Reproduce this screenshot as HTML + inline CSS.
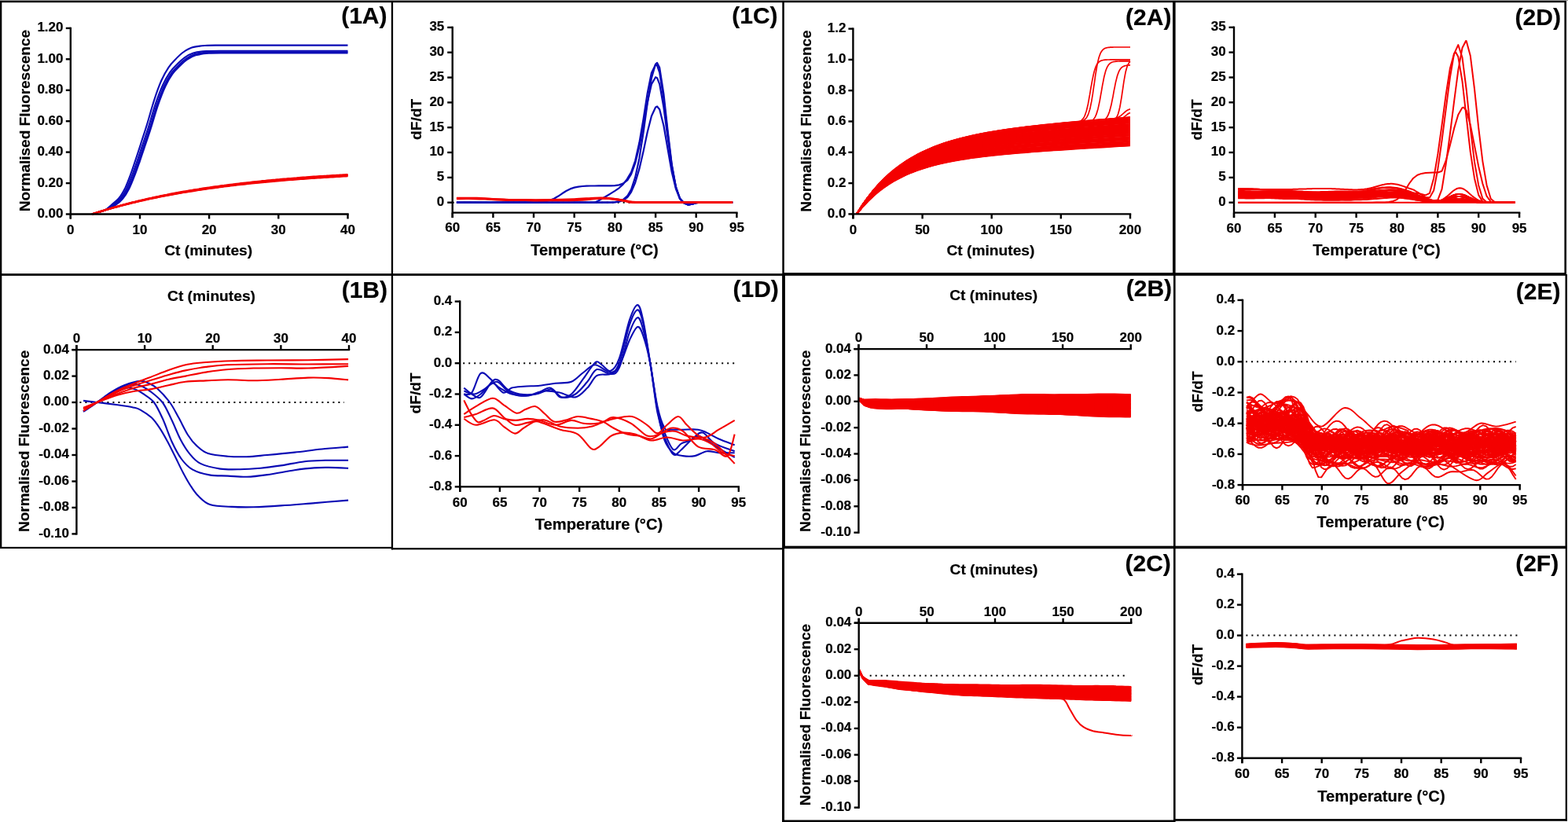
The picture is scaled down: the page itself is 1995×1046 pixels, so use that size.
<!DOCTYPE html>
<html><head><meta charset="utf-8"><title>Figure</title>
<style>html,body{margin:0;padding:0;background:#fff;}svg{display:block;}
text{font-family:"Liberation Sans", Arial, sans-serif;font-weight:bold;fill:#000;stroke:#000;stroke-width:0.2px;}</style></head>
<body><svg width="1995" height="1046" viewBox="0 0 1995 1046">
<rect width="1995" height="1046" fill="#fff"/>
<path d="M117.1,272.5C118.5,272.1 122.3,270.8 125.1,270C127.9,269.1 131.1,268.8 133.9,267.3C136.7,265.7 138.9,263.2 141.8,260.7C144.8,258.1 148.6,255.5 151.5,251.8C154.5,248.1 156.9,243.9 159.5,238.6C162,233.2 164.7,225.8 167,219.7C169.2,213.5 171.1,207.5 173.1,201.5C175.1,195.5 176.6,190.8 178.9,183.8C181.1,176.7 183.9,168.5 186.8,159.1C189.7,149.8 193,137 196.1,127.6C199.1,118.2 202.2,109.5 205.3,102.5C208.4,95.5 211.5,90.2 214.6,85.6C217.7,81 220.7,78.1 223.8,74.9C226.9,71.8 229.7,68.9 233.1,66.5C236.5,64.1 239.5,62 244.1,60.5C248.7,59.1 254.1,58.5 260.9,58C267.6,57.5 268.9,57.7 284.7,57.6C300.4,57.5 328.9,57.6 355.2,57.6C381.5,57.6 428,57.6 442.5,57.6" fill="none" stroke="#0a0ab4" stroke-width="2.1" stroke-linejoin="round" stroke-linecap="butt"/>
<path d="M117.1,272.5C118.5,272.1 122.3,270.8 125.1,270C127.9,269.1 130.8,268.7 133.9,267.3C137,265.8 140.4,263.5 143.6,261.1C146.8,258.6 150.3,256 153.3,252.5C156.2,248.9 158.6,244.9 161.2,239.7C163.8,234.5 166.4,227.4 168.7,221.4C171,215.4 172.9,209.6 174.9,203.9C176.9,198.1 178.3,193.5 180.6,186.7C182.9,179.9 185.7,171.9 188.6,162.9C191.4,153.8 194.7,141.5 197.8,132.4C200.9,123.2 204,114.9 207.1,108.2C210.2,101.4 213.2,96.2 216.3,91.8C219.4,87.3 222.5,84.5 225.6,81.5C228.7,78.4 231.5,75.6 234.8,73.3C238.2,70.9 241.2,68.9 245.9,67.5C250.5,66.2 255.9,65.5 262.6,65.1C269.4,64.6 270.7,64.7 286.4,64.7C302.2,64.6 331,64.7 357,64.7C383,64.7 428.2,64.7 442.5,64.7" fill="none" stroke="#0a0ab4" stroke-width="2.1" stroke-linejoin="round" stroke-linecap="butt"/>
<path d="M117.1,272.5C118.5,272.1 122.3,270.8 125.1,270C127.9,269.1 130.5,268.7 133.9,267.3C137.3,265.8 141.8,263.6 145.4,261.1C148.9,258.7 152.1,256.2 155,252.6C158,249.1 160.4,245.1 163,240C165.6,234.8 168.2,227.7 170.5,221.8C172.8,215.9 174.7,210.1 176.7,204.4C178.6,198.6 180.1,194.1 182.4,187.4C184.7,180.6 187.5,172.7 190.3,163.7C193.2,154.7 196.5,142.5 199.6,133.4C202.7,124.4 205.8,116.1 208.8,109.4C211.9,102.7 215,97.5 218.1,93.1C221.2,88.7 224.3,86 227.4,82.9C230.4,79.9 233.2,77.1 236.6,74.8C240,72.5 243,70.5 247.6,69.1C252.3,67.7 257.6,67.1 264.4,66.6C271.1,66.2 272.5,66.3 288.2,66.3C303.9,66.2 333,66.3 358.7,66.3C384.5,66.3 428.5,66.3 442.5,66.3" fill="none" stroke="#0a0ab4" stroke-width="2.1" stroke-linejoin="round" stroke-linecap="butt"/>
<path d="M117.1,272.5C118.5,272.1 122.3,270.8 125.1,270C127.9,269.1 130.3,268.7 133.9,267.3C137.5,265.8 142.9,263.6 146.7,261.2C150.4,258.8 153.4,256.3 156.4,252.7C159.3,249.2 161.7,245.3 164.3,240.1C166.9,235 169.5,228 171.8,222.1C174.1,216.2 176,210.5 178,204.8C180,199.1 181.4,194.6 183.7,187.8C186,181.1 188.8,173.3 191.6,164.3C194.5,155.4 197.8,143.2 200.9,134.2C204,125.2 207.1,117 210.2,110.3C213.2,103.7 216.3,98.5 219.4,94.2C222.5,89.8 225.6,87 228.7,84C231.8,81 234.6,78.2 237.9,75.9C241.3,73.6 244.3,71.6 249,70.3C253.6,68.9 258.9,68.3 265.7,67.8C272.5,67.4 273.8,67.5 289.5,67.4C305.2,67.4 334.6,67.4 360.1,67.4C385.6,67.4 428.8,67.4 442.5,67.4" fill="none" stroke="#0a0ab4" stroke-width="2.1" stroke-linejoin="round" stroke-linecap="butt"/>
<path d="M117.1,272.5L119.8,271.6L122.6,270.8L125.3,269.9L128,269.1L130.7,268.3L133.4,267.5L136.1,266.7L138.8,265.9L141.5,265.2L144.2,264.4L147,263.7L149.7,263L152.4,262.2L155.1,261.5L157.8,260.8L160.5,260.1L163.2,259.5L165.9,258.8L168.7,258.1L171.4,257.5L174.1,256.8L176.8,256.2L179.5,255.6L182.2,255L184.9,254.4L187.6,253.8L190.3,253.2L193.1,252.6L195.8,252.1L198.5,251.5L201.2,250.9L203.9,250.4L206.6,249.9L209.3,249.3L212,248.8L214.7,248.3L217.5,247.8L220.2,247.3L222.9,246.8L225.6,246.3L228.3,245.9L231,245.4L233.7,244.9L236.4,244.5L239.1,244L241.9,243.6L244.6,243.2L247.3,242.7L250,242.3L252.7,241.9L255.4,241.5L258.1,241.1L260.8,240.7L263.5,240.3L266.3,239.9L269,239.6L271.7,239.2L274.4,238.8L277.1,238.5L279.8,238.1L282.5,237.7L285.2,237.4L288,237.1L290.7,236.7L293.4,236.4L296.1,236.1L298.8,235.8L301.5,235.4L304.2,235.1L306.9,234.8L309.6,234.5L312.4,234.2L315.1,233.9L317.8,233.6L320.5,233.4L323.2,233.1L325.9,232.8L328.6,232.5L331.3,232.3L334,232L336.8,231.7L339.5,231.5L342.2,231.2L344.9,231L347.6,230.7L350.3,230.5L353,230.3L355.7,230L358.4,229.8L361.2,229.6L363.9,229.3L366.6,229.1L369.3,228.9L372,228.7L374.7,228.5L377.4,228.3L380.1,228.1L382.8,227.9L385.6,227.7L388.3,227.5L391,227.3L393.7,227.1L396.4,226.9L399.1,226.7L401.8,226.5L404.5,226.4L407.3,226.2L410,226L412.7,225.8L415.4,225.7L418.1,225.5L420.8,225.3L423.5,225.2L426.2,225L428.9,224.9L431.7,224.7L434.4,224.6L437.1,224.4L439.8,224.3L442.5,224.1" fill="none" stroke="#f40000" stroke-width="2.4" stroke-linejoin="round" stroke-linecap="butt"/>
<path d="M117.1,272.5L119.8,271.6L122.6,270.8L125.3,269.9L128,269.1L130.7,268.3L133.4,267.4L136.1,266.6L138.8,265.9L141.5,265.1L144.2,264.3L147,263.6L149.7,262.8L152.4,262.1L155.1,261.4L157.8,260.7L160.5,260L163.2,259.3L165.9,258.6L168.7,257.9L171.4,257.3L174.1,256.6L176.8,256L179.5,255.4L182.2,254.7L184.9,254.1L187.6,253.5L190.3,252.9L193.1,252.3L195.8,251.8L198.5,251.2L201.2,250.7L203.9,250.1L206.6,249.6L209.3,249L212,248.5L214.7,248L217.5,247.5L220.2,247L222.9,246.5L225.6,246L228.3,245.5L231,245L233.7,244.6L236.4,244.1L239.1,243.7L241.9,243.2L244.6,242.8L247.3,242.3L250,241.9L252.7,241.5L255.4,241.1L258.1,240.7L260.8,240.3L263.5,239.9L266.3,239.5L269,239.1L271.7,238.7L274.4,238.4L277.1,238L279.8,237.6L282.5,237.3L285.2,236.9L288,236.6L290.7,236.2L293.4,235.9L296.1,235.6L298.8,235.3L301.5,234.9L304.2,234.6L306.9,234.3L309.6,234L312.4,233.7L315.1,233.4L317.8,233.1L320.5,232.8L323.2,232.5L325.9,232.3L328.6,232L331.3,231.7L334,231.4L336.8,231.2L339.5,230.9L342.2,230.7L344.9,230.4L347.6,230.2L350.3,229.9L353,229.7L355.7,229.4L358.4,229.2L361.2,229L363.9,228.7L366.6,228.5L369.3,228.3L372,228.1L374.7,227.9L377.4,227.7L380.1,227.5L382.8,227.3L385.6,227.1L388.3,226.9L391,226.7L393.7,226.5L396.4,226.3L399.1,226.1L401.8,225.9L404.5,225.7L407.3,225.5L410,225.4L412.7,225.2L415.4,225L418.1,224.9L420.8,224.7L423.5,224.5L426.2,224.4L428.9,224.2L431.7,224.1L434.4,223.9L437.1,223.8L439.8,223.6L442.5,223.5" fill="none" stroke="#f40000" stroke-width="2.4" stroke-linejoin="round" stroke-linecap="butt"/>
<path d="M117.1,272.5L119.8,271.6L122.6,270.7L125.3,269.9L128,269L130.7,268.2L133.4,267.4L136.1,266.6L138.8,265.8L141.5,265L144.2,264.2L147,263.4L149.7,262.7L152.4,262L155.1,261.2L157.8,260.5L160.5,259.8L163.2,259.1L165.9,258.4L168.7,257.7L171.4,257.1L174.1,256.4L176.8,255.8L179.5,255.1L182.2,254.5L184.9,253.9L187.6,253.3L190.3,252.7L193.1,252.1L195.8,251.5L198.5,250.9L201.2,250.4L203.9,249.8L206.6,249.3L209.3,248.7L212,248.2L214.7,247.7L217.5,247.1L220.2,246.6L222.9,246.1L225.6,245.6L228.3,245.1L231,244.7L233.7,244.2L236.4,243.7L239.1,243.3L241.9,242.8L244.6,242.4L247.3,241.9L250,241.5L252.7,241.1L255.4,240.7L258.1,240.3L260.8,239.8L263.5,239.4L266.3,239.1L269,238.7L271.7,238.3L274.4,237.9L277.1,237.5L279.8,237.2L282.5,236.8L285.2,236.4L288,236.1L290.7,235.8L293.4,235.4L296.1,235.1L298.8,234.8L301.5,234.4L304.2,234.1L306.9,233.8L309.6,233.5L312.4,233.2L315.1,232.9L317.8,232.6L320.5,232.3L323.2,232L325.9,231.7L328.6,231.4L331.3,231.2L334,230.9L336.8,230.6L339.5,230.4L342.2,230.1L344.9,229.8L347.6,229.6L350.3,229.3L353,229.1L355.7,228.9L358.4,228.6L361.2,228.4L363.9,228.2L366.6,227.9L369.3,227.7L372,227.5L374.7,227.3L377.4,227.1L380.1,226.9L382.8,226.6L385.6,226.4L388.3,226.2L391,226L393.7,225.8L396.4,225.7L399.1,225.5L401.8,225.3L404.5,225.1L407.3,224.9L410,224.7L412.7,224.6L415.4,224.4L418.1,224.2L420.8,224.1L423.5,223.9L426.2,223.7L428.9,223.6L431.7,223.4L434.4,223.3L437.1,223.1L439.8,222.9L442.5,222.8" fill="none" stroke="#f40000" stroke-width="2.4" stroke-linejoin="round" stroke-linecap="butt"/>
<path d="M117.1,272.5L119.8,271.6L122.6,270.7L125.3,269.8L128,269L130.7,268.1L133.4,267.3L136.1,266.5L138.8,265.7L141.5,264.9L144.2,264.1L147,263.3L149.7,262.6L152.4,261.8L155.1,261.1L157.8,260.3L160.5,259.6L163.2,258.9L165.9,258.2L168.7,257.5L171.4,256.9L174.1,256.2L176.8,255.5L179.5,254.9L182.2,254.3L184.9,253.6L187.6,253L190.3,252.4L193.1,251.8L195.8,251.2L198.5,250.6L201.2,250.1L203.9,249.5L206.6,248.9L209.3,248.4L212,247.9L214.7,247.3L217.5,246.8L220.2,246.3L222.9,245.8L225.6,245.3L228.3,244.8L231,244.3L233.7,243.8L236.4,243.4L239.1,242.9L241.9,242.4L244.6,242L247.3,241.5L250,241.1L252.7,240.7L255.4,240.2L258.1,239.8L260.8,239.4L263.5,239L266.3,238.6L269,238.2L271.7,237.8L274.4,237.4L277.1,237.1L279.8,236.7L282.5,236.3L285.2,236L288,235.6L290.7,235.3L293.4,234.9L296.1,234.6L298.8,234.3L301.5,233.9L304.2,233.6L306.9,233.3L309.6,233L312.4,232.7L315.1,232.4L317.8,232.1L320.5,231.8L323.2,231.5L325.9,231.2L328.6,230.9L331.3,230.6L334,230.3L336.8,230.1L339.5,229.8L342.2,229.5L344.9,229.3L347.6,229L350.3,228.8L353,228.5L355.7,228.3L358.4,228L361.2,227.8L363.9,227.6L366.6,227.3L369.3,227.1L372,226.9L374.7,226.7L377.4,226.5L380.1,226.2L382.8,226L385.6,225.8L388.3,225.6L391,225.4L393.7,225.2L396.4,225L399.1,224.8L401.8,224.7L404.5,224.5L407.3,224.3L410,224.1L412.7,223.9L415.4,223.8L418.1,223.6L420.8,223.4L423.5,223.2L426.2,223.1L428.9,222.9L431.7,222.8L434.4,222.6L437.1,222.4L439.8,222.3L442.5,222.1" fill="none" stroke="#f40000" stroke-width="2.4" stroke-linejoin="round" stroke-linecap="butt"/>
<line x1="575.7" y1="257.7" x2="931.4" y2="257.7" stroke="#000" stroke-width="2" stroke-dasharray="2 5"/>
<path d="M580.9,257.7L586,257.7L591.2,257.7L596.4,257.7L601.5,257.7L606.7,257.7L611.9,257.7L617,257.7L622.2,257.7L627.4,257.7L632.5,257.7L637.7,257.7L642.9,257.7L648,257.7L653.2,257.7L658.4,257.7L663.5,257.7L668.7,257.6L673.9,257.6L679,257.5L684.2,257.3L689.4,256.9L694.5,256.1L699.7,254.8L704.9,252.8L710,249.8L715.2,246.3L720.4,243L725.5,240.4L730.7,238.6L735.9,237.6L741,237L746.2,236.7L751.4,236.5L756.5,236.5L761.7,236.4L766.9,236.4L772.1,236.4L777.2,236.3L782.4,236.1L787.6,235.4L792.7,233.6L797.9,229.7L798.9,228.5L803.1,221.7L808.2,207.7L813.4,186.6L818.6,159.2L823.7,130.2L828.9,107.3L834.1,98.2L836.1,99.2L839.2,107.1L844.4,136.5L849.6,175.7L854.7,212L859.9,238L865.1,252.6L870.2,258.3L875.4,260.5L876.4,260.5L880.6,259.6L885.7,258.1L890.9,257.7L896.1,257.7L901.2,257.7L906.4,257.7L911.6,257.7L916.7,257.7L921.9,257.7L927.1,257.7L932.2,257.7" fill="none" stroke="#0a0ab4" stroke-width="2.2" stroke-linejoin="round" stroke-linecap="butt"/>
<path d="M580.9,257.7L586,257.7L591.2,257.7L596.4,257.7L601.5,257.7L606.7,257.7L611.9,257.7L617,257.7L622.2,257.7L627.4,257.7L632.5,257.7L637.7,257.7L642.9,257.7L648,257.7L653.2,257.7L658.4,257.7L663.5,257.7L668.7,257.7L673.9,257.7L679,257.7L684.2,257.7L689.4,257.7L694.5,257.7L699.7,257.7L704.9,257.7L710,257.7L715.2,257.7L720.4,257.7L725.5,257.7L730.7,257.7L735.9,257.7L741,257.7L746.2,257.7L751.4,257.7L756.5,257.7L761.7,255.3L766.9,252.3L772.1,249.2L777.2,246.1L782.4,242.9L787.6,239.3L792.7,234.7L797.9,227.8L798.9,226L803.1,219.1L808.2,204.5L813.4,181.6L818.6,151.4L823.7,118.7L828.9,92.7L834.1,82.2L836.1,83.3L839.2,92.3L844.4,125.9L849.6,170.2L854.7,210.2L859.9,237.9L865.1,252.9L870.2,258.3L875.4,260.5L876.4,260.5L880.6,259.6L885.7,258.1L890.9,257.7L896.1,257.7L901.2,257.7L906.4,257.7L911.6,257.7L916.7,257.7L921.9,257.7L927.1,257.7L932.2,257.7" fill="none" stroke="#0a0ab4" stroke-width="2.2" stroke-linejoin="round" stroke-linecap="butt"/>
<path d="M580.9,257.7L586,257.7L591.2,257.7L596.4,257.7L601.5,257.7L606.7,257.7L611.9,257.7L617,257.7L622.2,257.7L627.4,257.7L632.5,257.7L637.7,257.7L642.9,257.7L648,257.7L653.2,257.7L658.4,257.7L663.5,257.7L668.7,257.7L673.9,257.7L679,257.7L684.2,257.7L689.4,257.7L694.5,257.7L699.7,257.7L704.9,257.7L710,257.7L715.2,257.7L720.4,257.7L725.5,257.7L730.7,257.7L735.9,257.7L741,257.7L746.2,257.7L751.4,257.7L756.5,257.7L761.7,257.7L766.9,257.7L772.1,257.6L777.2,257.5L782.4,257.2L787.6,256.2L792.7,254.1L797.9,249.7L798.9,248.4L803.1,241.1L808.2,225.7L813.4,201.4L818.6,168.5L823.7,131.7L828.9,99.5L834.1,81.5L836.1,79.9L839.2,86.1L844.4,119.4L849.6,166.3L854.7,208.8L859.9,237.9L865.1,253L870.2,258.3L875.4,260.5L876.4,260.5L880.6,259.6L885.7,258.1L890.9,257.7L896.1,257.7L901.2,257.7L906.4,257.7L911.6,257.7L916.7,257.7L921.9,257.7L927.1,257.7L932.2,257.7" fill="none" stroke="#0a0ab4" stroke-width="2.2" stroke-linejoin="round" stroke-linecap="butt"/>
<path d="M580.9,257.7L586,257.7L591.2,257.7L596.4,257.7L601.5,257.7L606.7,257.7L611.9,257.7L617,257.7L622.2,257.7L627.4,257.7L632.5,257.7L637.7,257.7L642.9,257.7L648,257.7L653.2,257.7L658.4,257.7L663.5,257.7L668.7,257.7L673.9,257.7L679,257.7L684.2,257.7L689.4,257.7L694.5,257.7L699.7,257.7L704.9,257.7L710,257.7L715.2,257.7L720.4,257.7L725.5,257.7L730.7,257.7L735.9,257.7L741,257.7L746.2,257.7L751.4,257.7L756.5,257.7L761.7,257.7L766.9,257.7L772.1,257.7L777.2,257.6L782.4,257.4L787.6,256.7L792.7,255L797.9,251.4L798.9,250.3L803.1,244.4L808.2,232.5L813.4,214.9L818.6,192.4L823.7,168.3L828.9,147.8L834.1,136.5L836.1,135.5L839.2,139.2L844.4,159.8L849.6,189.8L854.7,218.7L859.9,240.3L865.1,253.1L870.2,258.3L875.4,260.5L876.4,260.5L880.6,259.6L885.7,258.1L890.9,257.7L896.1,257.7L901.2,257.7L906.4,257.7L911.6,257.7L916.7,257.7L921.9,257.7L927.1,257.7L932.2,257.7" fill="none" stroke="#0a0ab4" stroke-width="2.2" stroke-linejoin="round" stroke-linecap="butt"/>
<path d="M580.9,252.7C583.5,252.7 590.3,252.5 596.4,252.6C602.4,252.7 610.1,252.9 617,253.1C623.9,253.4 629.1,253.9 637.7,254.2C646.3,254.5 658.4,254.6 668.7,254.6C679,254.7 689.4,254.7 699.7,254.5C710,254.4 721.2,254.1 730.7,253.8C740.2,253.4 749.7,252.5 756.5,252.2C763.4,252 766.9,251.9 772.1,252.2C777.2,252.6 782.4,253.4 787.6,254.2C792.7,255 797,256.4 803.1,256.9C809.1,257.5 802.2,257.4 823.7,257.5C845.3,257.6 914.1,257.5 932.2,257.5" fill="none" stroke="#f40000" stroke-width="3.0" stroke-linejoin="round" stroke-linecap="butt"/>
<path d="M580.9,252C585.2,252 599,251.9 606.7,252.1C614.5,252.3 618.8,252.8 627.4,253.2C636,253.6 646.3,254.2 658.4,254.5C670.4,254.8 685.9,255 699.7,255C713.5,255 730.7,254.9 741,254.5C751.4,254.1 754.8,252.7 761.7,252.5C768.6,252.3 776.4,252.6 782.4,253.2C788.4,253.8 792.7,255.4 797.9,256.1C803.1,256.8 791,257.2 813.4,257.4C835.8,257.6 912.4,257.2 932.2,257.2" fill="none" stroke="#f40000" stroke-width="2.6" stroke-linejoin="round" stroke-linecap="butt"/>
<path d="M1090,272.4L1096.9,263.9L1103.9,256.4L1110.9,249.7L1117.8,243.8L1124.8,238.5L1131.7,233.9L1138.7,229.7L1145.7,226L1152.6,222.7L1159.6,219.7L1166.5,217L1173.5,214.7L1180.5,212.5L1187.4,210.6L1194.4,208.8L1201.3,207.2L1208.3,205.8L1215.3,204.5L1222.2,203.3L1229.2,202.2L1236.2,201.1L1243.1,200.2L1250.1,199.3L1257,198.5L1264,197.7L1271,197L1277.9,196.3L1284.9,195.7L1291.8,195L1298.8,194.5L1305.8,193.9L1312.7,193.3L1319.7,192.8L1326.6,192.3L1333.6,191.8L1340.6,191.3L1347.5,190.9L1354.5,190.4L1361.4,190L1368.4,189.5L1375.4,189.1L1382.3,188.6L1389.3,188.2L1396.2,187.8L1403.2,187.4L1410.2,187L1417.1,186.5L1424.1,186.1L1431,185.7L1438,185.3" fill="none" stroke="#f40000" stroke-width="2.0" stroke-linejoin="round" stroke-linecap="butt"/>
<path d="M1090,272.4L1096.9,263.9L1103.9,256.3L1110.9,249.6L1117.8,243.6L1124.8,238.3L1131.7,233.6L1138.7,229.4L1145.7,225.6L1152.6,222.3L1159.6,219.3L1166.5,216.6L1173.5,214.2L1180.5,212L1187.4,210.1L1194.4,208.3L1201.3,206.7L1208.3,205.3L1215.3,203.9L1222.2,202.7L1229.2,201.6L1236.2,200.6L1243.1,199.6L1250.1,198.7L1257,197.9L1264,197.1L1271,196.4L1277.9,195.7L1284.9,195L1291.8,194.4L1298.8,193.8L1305.8,193.2L1312.7,192.7L1319.7,192.2L1326.6,191.6L1333.6,191.1L1340.6,190.7L1347.5,190.2L1354.5,189.7L1361.4,189.3L1368.4,188.8L1375.4,188.4L1382.3,187.9L1389.3,187.5L1396.2,187.1L1403.2,186.7L1410.2,186.2L1417.1,185.8L1424.1,185.4L1431,185L1438,184.6" fill="none" stroke="#f40000" stroke-width="2.0" stroke-linejoin="round" stroke-linecap="butt"/>
<path d="M1090,272.4L1096.9,261.5L1103.9,251.7L1110.9,242.9L1117.8,235L1124.8,227.8L1131.7,221.4L1138.7,215.6L1145.7,210.4L1152.6,205.7L1159.6,201.4L1166.5,197.6L1173.5,194.1L1180.5,190.9L1187.4,188L1194.4,185.4L1201.3,183L1208.3,180.8L1215.3,178.7L1222.2,176.9L1229.2,175.2L1236.2,173.6L1243.1,172.1L1250.1,170.8L1257,169.5L1264,168.3L1271,167.2L1277.9,166.1L1284.9,165.1L1291.8,164.2L1298.8,163.3L1305.8,162.5L1312.7,161.6L1319.7,160.9L1326.6,160.1L1333.6,159.4L1340.6,158.7L1347.5,158L1354.5,157.4L1361.4,156.7L1368.4,156.1L1375.4,155.5L1382.3,154.9L1389.3,154.3L1396.2,153.7L1403.2,153.1L1410.2,152.6L1417.1,152L1424.1,151.5L1431,150.9L1438,150.4" fill="none" stroke="#f40000" stroke-width="2.0" stroke-linejoin="round" stroke-linecap="butt"/>
<path d="M1090,272.4L1096.9,261.4L1103.9,251.5L1110.9,242.7L1117.8,234.7L1124.8,227.5L1131.7,221.1L1138.7,215.2L1145.7,210L1152.6,205.2L1159.6,200.9L1166.5,197L1173.5,193.5L1180.5,190.3L1187.4,187.3L1194.4,184.7L1201.3,182.2L1208.3,180L1215.3,178L1222.2,176.1L1229.2,174.4L1236.2,172.8L1243.1,171.3L1250.1,169.9L1257,168.6L1264,167.4L1271,166.3L1277.9,165.2L1284.9,164.2L1291.8,163.3L1298.8,162.4L1305.8,161.5L1312.7,160.7L1319.7,159.9L1326.6,159.1L1333.6,158.4L1340.6,157.7L1347.5,157L1354.5,156.3L1361.4,155.7L1368.4,155.1L1375.4,154.4L1382.3,153.8L1389.3,153.2L1396.2,152.6L1403.2,152.1L1410.2,151.5L1417.1,150.9L1424.1,150.4L1431,149.8L1438,149.3" fill="none" stroke="#f40000" stroke-width="2.0" stroke-linejoin="round" stroke-linecap="butt"/>
<path d="M1090,272.4L1096.9,263.3L1103.9,255.1L1110.9,247.9L1117.8,241.5L1124.8,235.7L1131.7,230.6L1138.7,226L1145.7,222L1152.6,218.3L1159.6,215L1166.5,212.1L1173.5,209.4L1180.5,207L1187.4,204.8L1194.4,202.9L1201.3,201.1L1208.3,199.5L1215.3,198L1222.2,196.6L1229.2,195.4L1236.2,194.2L1243.1,193.2L1250.1,192.2L1257,191.3L1264,190.4L1271,189.6L1277.9,188.8L1284.9,188.1L1291.8,187.4L1298.8,186.7L1305.8,186.1L1312.7,185.5L1319.7,184.9L1326.6,184.4L1333.6,183.8L1340.6,183.3L1347.5,182.8L1354.5,182.3L1361.4,181.8L1368.4,181.3L1375.4,180.8L1382.3,180.3L1389.3,179.9L1396.2,179.4L1403.2,178.9L1410.2,178.5L1417.1,178.1L1424.1,177.6L1431,177.2L1438,176.7" fill="none" stroke="#f40000" stroke-width="2.0" stroke-linejoin="round" stroke-linecap="butt"/>
<path d="M1090,272.4L1096.9,262.5L1103.9,253.6L1110.9,245.7L1117.8,238.6L1124.8,232.3L1131.7,226.6L1138.7,221.6L1145.7,217L1152.6,212.9L1159.6,209.2L1166.5,205.9L1173.5,202.8L1180.5,200.1L1187.4,197.7L1194.4,195.4L1201.3,193.4L1208.3,191.5L1215.3,189.8L1222.2,188.3L1229.2,186.8L1236.2,185.5L1243.1,184.3L1250.1,183.1L1257,182.1L1264,181.1L1271,180.1L1277.9,179.2L1284.9,178.4L1291.8,177.6L1298.8,176.9L1305.8,176.2L1312.7,175.5L1319.7,174.8L1326.6,174.2L1333.6,173.5L1340.6,173L1347.5,172.4L1354.5,171.8L1361.4,171.2L1368.4,170.7L1375.4,170.2L1382.3,169.6L1389.3,169.1L1396.2,168.6L1403.2,168.1L1410.2,167.6L1417.1,167.1L1424.1,166.7L1431,166.2L1438,165.7" fill="none" stroke="#f40000" stroke-width="2.0" stroke-linejoin="round" stroke-linecap="butt"/>
<path d="M1090,272.4L1096.9,262.9L1103.9,254.5L1110.9,246.9L1117.8,240.2L1124.8,234.2L1131.7,228.9L1138.7,224.1L1145.7,219.8L1152.6,215.9L1159.6,212.5L1166.5,209.4L1173.5,206.6L1180.5,204L1187.4,201.7L1194.4,199.6L1201.3,197.8L1208.3,196L1215.3,194.4L1222.2,193L1229.2,191.7L1236.2,190.4L1243.1,189.3L1250.1,188.3L1257,187.3L1264,186.4L1271,185.5L1277.9,184.7L1284.9,183.9L1291.8,183.2L1298.8,182.5L1305.8,181.8L1312.7,181.2L1319.7,180.6L1326.6,180L1333.6,179.4L1340.6,178.8L1347.5,178.3L1354.5,177.7L1361.4,177.2L1368.4,176.7L1375.4,176.2L1382.3,175.7L1389.3,175.2L1396.2,174.8L1403.2,174.3L1410.2,173.8L1417.1,173.3L1424.1,172.9L1431,172.4L1438,172" fill="none" stroke="#f40000" stroke-width="2.0" stroke-linejoin="round" stroke-linecap="butt"/>
<path d="M1090,272.4L1096.9,262.3L1103.9,253.3L1110.9,245.3L1117.8,238.1L1124.8,231.7L1131.7,225.9L1138.7,220.7L1145.7,216L1152.6,211.9L1159.6,208.1L1166.5,204.7L1173.5,201.6L1180.5,198.8L1187.4,196.3L1194.4,194L1201.3,191.9L1208.3,190L1215.3,188.2L1222.2,186.6L1229.2,185.2L1236.2,183.8L1243.1,182.5L1250.1,181.4L1257,180.3L1264,179.3L1271,178.3L1277.9,177.4L1284.9,176.5L1291.8,175.7L1298.8,175L1305.8,174.2L1312.7,173.5L1319.7,172.8L1326.6,172.2L1333.6,171.6L1340.6,170.9L1347.5,170.4L1354.5,169.8L1361.4,169.2L1368.4,168.7L1375.4,168.1L1382.3,167.6L1389.3,167L1396.2,166.5L1403.2,166L1410.2,165.5L1417.1,165L1424.1,164.5L1431,164L1438,163.5" fill="none" stroke="#f40000" stroke-width="2.0" stroke-linejoin="round" stroke-linecap="butt"/>
<path d="M1090,272.4L1096.9,262.3L1103.9,253.2L1110.9,245.2L1117.8,237.9L1124.8,231.4L1131.7,225.6L1138.7,220.4L1145.7,215.7L1152.6,211.5L1159.6,207.7L1166.5,204.2L1173.5,201.1L1180.5,198.3L1187.4,195.8L1194.4,193.5L1201.3,191.4L1208.3,189.4L1215.3,187.7L1222.2,186.1L1229.2,184.6L1236.2,183.2L1243.1,181.9L1250.1,180.7L1257,179.6L1264,178.6L1271,177.6L1277.9,176.7L1284.9,175.9L1291.8,175L1298.8,174.3L1305.8,173.5L1312.7,172.8L1319.7,172.1L1326.6,171.5L1333.6,170.8L1340.6,170.2L1347.5,169.6L1354.5,169L1361.4,168.5L1368.4,167.9L1375.4,167.4L1382.3,166.8L1389.3,166.3L1396.2,165.8L1403.2,165.3L1410.2,164.7L1417.1,164.2L1424.1,163.7L1431,163.2L1438,162.8" fill="none" stroke="#f40000" stroke-width="2.0" stroke-linejoin="round" stroke-linecap="butt"/>
<path d="M1090,272.4L1096.9,263.7L1103.9,256L1110.9,249.2L1117.8,243.1L1124.8,237.7L1131.7,233L1138.7,228.7L1145.7,224.9L1152.6,221.4L1159.6,218.4L1166.5,215.7L1173.5,213.2L1180.5,211L1187.4,209L1194.4,207.2L1201.3,205.5L1208.3,204L1215.3,202.7L1222.2,201.4L1229.2,200.3L1236.2,199.2L1243.1,198.2L1250.1,197.3L1257,196.5L1264,195.7L1271,194.9L1277.9,194.2L1284.9,193.6L1291.8,192.9L1298.8,192.3L1305.8,191.7L1312.7,191.2L1319.7,190.6L1326.6,190.1L1333.6,189.6L1340.6,189.1L1347.5,188.6L1354.5,188.2L1361.4,187.7L1368.4,187.2L1375.4,186.8L1382.3,186.3L1389.3,185.9L1396.2,185.5L1403.2,185.1L1410.2,184.6L1417.1,184.2L1424.1,183.8L1431,183.4L1438,183" fill="none" stroke="#f40000" stroke-width="2.0" stroke-linejoin="round" stroke-linecap="butt"/>
<path d="M1090,272.4L1096.9,263.9L1103.9,256.3L1110.9,249.6L1117.8,243.7L1124.8,238.4L1131.7,233.7L1138.7,229.5L1145.7,225.8L1152.6,222.4L1159.6,219.4L1166.5,216.8L1173.5,214.4L1180.5,212.2L1187.4,210.3L1194.4,208.5L1201.3,206.9L1208.3,205.4L1215.3,204.1L1222.2,202.9L1229.2,201.8L1236.2,200.8L1243.1,199.8L1250.1,198.9L1257,198.1L1264,197.3L1271,196.6L1277.9,195.9L1284.9,195.2L1291.8,194.6L1298.8,194L1305.8,193.5L1312.7,192.9L1319.7,192.4L1326.6,191.9L1333.6,191.4L1340.6,190.9L1347.5,190.4L1354.5,190L1361.4,189.5L1368.4,189.1L1375.4,188.6L1382.3,188.2L1389.3,187.7L1396.2,187.3L1403.2,186.9L1410.2,186.5L1417.1,186.1L1424.1,185.7L1431,185.3L1438,184.9" fill="none" stroke="#f40000" stroke-width="2.0" stroke-linejoin="round" stroke-linecap="butt"/>
<path d="M1090,272.4L1096.9,261.8L1103.9,252.3L1110.9,243.7L1117.8,236.1L1124.8,229.2L1131.7,223L1138.7,217.4L1145.7,212.4L1152.6,207.9L1159.6,203.8L1166.5,200.1L1173.5,196.8L1180.5,193.7L1187.4,191L1194.4,188.5L1201.3,186.2L1208.3,184.1L1215.3,182.2L1222.2,180.4L1229.2,178.8L1236.2,177.3L1243.1,175.9L1250.1,174.6L1257,173.4L1264,172.2L1271,171.2L1277.9,170.2L1284.9,169.2L1291.8,168.4L1298.8,167.5L1305.8,166.7L1312.7,165.9L1319.7,165.2L1326.6,164.5L1333.6,163.8L1340.6,163.1L1347.5,162.5L1354.5,161.8L1361.4,161.2L1368.4,160.6L1375.4,160L1382.3,159.5L1389.3,158.9L1396.2,158.3L1403.2,157.8L1410.2,157.2L1417.1,156.7L1424.1,156.2L1431,155.7L1438,155.1" fill="none" stroke="#f40000" stroke-width="2.0" stroke-linejoin="round" stroke-linecap="butt"/>
<path d="M1090,272.4L1096.9,263.2L1103.9,255L1110.9,247.8L1117.8,241.3L1124.8,235.5L1131.7,230.3L1138.7,225.7L1145.7,221.6L1152.6,217.9L1159.6,214.6L1166.5,211.6L1173.5,208.9L1180.5,206.5L1187.4,204.3L1194.4,202.4L1201.3,200.6L1208.3,198.9L1215.3,197.4L1222.2,196L1229.2,194.8L1236.2,193.6L1243.1,192.5L1250.1,191.5L1257,190.6L1264,189.7L1271,188.9L1277.9,188.1L1284.9,187.4L1291.8,186.7L1298.8,186L1305.8,185.4L1312.7,184.8L1319.7,184.2L1326.6,183.6L1333.6,183.1L1340.6,182.6L1347.5,182L1354.5,181.5L1361.4,181L1368.4,180.5L1375.4,180.1L1382.3,179.6L1389.3,179.1L1396.2,178.6L1403.2,178.2L1410.2,177.7L1417.1,177.3L1424.1,176.8L1431,176.4L1438,176" fill="none" stroke="#f40000" stroke-width="2.0" stroke-linejoin="round" stroke-linecap="butt"/>
<path d="M1090,272.4L1096.9,263.3L1103.9,255.2L1110.9,247.9L1117.8,241.5L1124.8,235.8L1131.7,230.7L1138.7,226.1L1145.7,222L1152.6,218.4L1159.6,215.1L1166.5,212.1L1173.5,209.5L1180.5,207.1L1187.4,204.9L1194.4,203L1201.3,201.2L1208.3,199.6L1215.3,198.1L1222.2,196.7L1229.2,195.5L1236.2,194.3L1243.1,193.3L1250.1,192.3L1257,191.4L1264,190.5L1271,189.7L1277.9,188.9L1284.9,188.2L1291.8,187.5L1298.8,186.9L1305.8,186.2L1312.7,185.6L1319.7,185L1326.6,184.5L1333.6,183.9L1340.6,183.4L1347.5,182.9L1354.5,182.4L1361.4,181.9L1368.4,181.4L1375.4,180.9L1382.3,180.5L1389.3,180L1396.2,179.5L1403.2,179.1L1410.2,178.6L1417.1,178.2L1424.1,177.7L1431,177.3L1438,176.9" fill="none" stroke="#f40000" stroke-width="2.0" stroke-linejoin="round" stroke-linecap="butt"/>
<path d="M1090,272.4L1096.9,261.4L1103.9,251.6L1110.9,242.7L1117.8,234.7L1124.8,227.6L1131.7,221.1L1138.7,215.3L1145.7,210L1152.6,205.3L1159.6,201L1166.5,197.1L1173.5,193.6L1180.5,190.4L1187.4,187.4L1194.4,184.8L1201.3,182.3L1208.3,180.1L1215.3,178.1L1222.2,176.2L1229.2,174.5L1236.2,172.9L1243.1,171.4L1250.1,170L1257,168.7L1264,167.5L1271,166.4L1277.9,165.3L1284.9,164.3L1291.8,163.4L1298.8,162.5L1305.8,161.6L1312.7,160.8L1319.7,160L1326.6,159.3L1333.6,158.5L1340.6,157.8L1347.5,157.2L1354.5,156.5L1361.4,155.8L1368.4,155.2L1375.4,154.6L1382.3,154L1389.3,153.4L1396.2,152.8L1403.2,152.2L1410.2,151.7L1417.1,151.1L1424.1,150.5L1431,150L1438,149.4" fill="none" stroke="#f40000" stroke-width="2.0" stroke-linejoin="round" stroke-linecap="butt"/>
<path d="M1090,272.4L1096.9,262.7L1103.9,254L1110.9,246.2L1117.8,239.3L1124.8,233.1L1131.7,227.6L1138.7,222.6L1145.7,218.2L1152.6,214.2L1159.6,210.6L1166.5,207.3L1173.5,204.4L1180.5,201.8L1187.4,199.4L1194.4,197.2L1201.3,195.2L1208.3,193.4L1215.3,191.8L1222.2,190.3L1229.2,188.9L1236.2,187.6L1243.1,186.4L1250.1,185.3L1257,184.3L1264,183.3L1271,182.4L1277.9,181.5L1284.9,180.7L1291.8,180L1298.8,179.2L1305.8,178.5L1312.7,177.9L1319.7,177.2L1326.6,176.6L1333.6,176L1340.6,175.4L1347.5,174.9L1354.5,174.3L1361.4,173.8L1368.4,173.3L1375.4,172.7L1382.3,172.2L1389.3,171.7L1396.2,171.2L1403.2,170.7L1410.2,170.3L1417.1,169.8L1424.1,169.3L1431,168.8L1438,168.4" fill="none" stroke="#f40000" stroke-width="2.0" stroke-linejoin="round" stroke-linecap="butt"/>
<path d="M1090,272.4L1096.9,261.8L1103.9,252.3L1110.9,243.7L1117.8,236.1L1124.8,229.2L1131.7,223L1138.7,217.4L1145.7,212.4L1152.6,207.9L1159.6,203.8L1166.5,200.1L1173.5,196.8L1180.5,193.8L1187.4,191L1194.4,188.5L1201.3,186.2L1208.3,184.1L1215.3,182.2L1222.2,180.4L1229.2,178.8L1236.2,177.3L1243.1,175.9L1250.1,174.6L1257,173.4L1264,172.3L1271,171.2L1277.9,170.2L1284.9,169.3L1291.8,168.4L1298.8,167.5L1305.8,166.7L1312.7,166L1319.7,165.2L1326.6,164.5L1333.6,163.8L1340.6,163.2L1347.5,162.5L1354.5,161.9L1361.4,161.3L1368.4,160.7L1375.4,160.1L1382.3,159.5L1389.3,158.9L1396.2,158.4L1403.2,157.8L1410.2,157.3L1417.1,156.7L1424.1,156.2L1431,155.7L1438,155.2" fill="none" stroke="#f40000" stroke-width="2.0" stroke-linejoin="round" stroke-linecap="butt"/>
<path d="M1090,272.4L1096.9,262.7L1103.9,254L1110.9,246.2L1117.8,239.3L1124.8,233.1L1131.7,227.5L1138.7,222.5L1145.7,218.1L1152.6,214.1L1159.6,210.5L1166.5,207.2L1173.5,204.3L1180.5,201.6L1187.4,199.2L1194.4,197.1L1201.3,195.1L1208.3,193.3L1215.3,191.6L1222.2,190.1L1229.2,188.7L1236.2,187.4L1243.1,186.2L1250.1,185.1L1257,184.1L1264,183.1L1271,182.2L1277.9,181.4L1284.9,180.5L1291.8,179.8L1298.8,179L1305.8,178.4L1312.7,177.7L1319.7,177L1326.6,176.4L1333.6,175.8L1340.6,175.2L1347.5,174.7L1354.5,174.1L1361.4,173.6L1368.4,173L1375.4,172.5L1382.3,172L1389.3,171.5L1396.2,171L1403.2,170.5L1410.2,170L1417.1,169.6L1424.1,169.1L1431,168.6L1438,168.1" fill="none" stroke="#f40000" stroke-width="2.0" stroke-linejoin="round" stroke-linecap="butt"/>
<path d="M1090,272.4L1096.9,262.3L1103.9,253.2L1110.9,245.1L1117.8,237.8L1124.8,231.3L1131.7,225.4L1138.7,220.2L1145.7,215.5L1152.6,211.2L1159.6,207.4L1166.5,204L1173.5,200.9L1180.5,198L1187.4,195.5L1194.4,193.1L1201.3,191L1208.3,189.1L1215.3,187.3L1222.2,185.7L1229.2,184.2L1236.2,182.8L1243.1,181.5L1250.1,180.3L1257,179.2L1264,178.2L1271,177.2L1277.9,176.3L1284.9,175.4L1291.8,174.6L1298.8,173.8L1305.8,173.1L1312.7,172.4L1319.7,171.7L1326.6,171L1333.6,170.4L1340.6,169.8L1347.5,169.2L1354.5,168.6L1361.4,168L1368.4,167.4L1375.4,166.9L1382.3,166.4L1389.3,165.8L1396.2,165.3L1403.2,164.8L1410.2,164.3L1417.1,163.8L1424.1,163.3L1431,162.8L1438,162.3" fill="none" stroke="#f40000" stroke-width="2.0" stroke-linejoin="round" stroke-linecap="butt"/>
<path d="M1090,272.4L1096.9,263.5L1103.9,255.6L1110.9,248.6L1117.8,242.3L1124.8,236.7L1131.7,231.8L1138.7,227.4L1145.7,223.4L1152.6,219.9L1159.6,216.7L1166.5,213.9L1173.5,211.3L1180.5,209L1187.4,206.9L1194.4,205.1L1201.3,203.3L1208.3,201.8L1215.3,200.4L1222.2,199.1L1229.2,197.9L1236.2,196.8L1243.1,195.7L1250.1,194.8L1257,193.9L1264,193.1L1271,192.3L1277.9,191.6L1284.9,190.9L1291.8,190.2L1298.8,189.6L1305.8,189L1312.7,188.4L1319.7,187.8L1326.6,187.3L1333.6,186.7L1340.6,186.2L1347.5,185.7L1354.5,185.2L1361.4,184.8L1368.4,184.3L1375.4,183.8L1382.3,183.4L1389.3,182.9L1396.2,182.5L1403.2,182L1410.2,181.6L1417.1,181.2L1424.1,180.7L1431,180.3L1438,179.9" fill="none" stroke="#f40000" stroke-width="2.0" stroke-linejoin="round" stroke-linecap="butt"/>
<path d="M1090,272.4L1096.9,262.3L1103.9,253.2L1110.9,245.1L1117.8,237.8L1124.8,231.3L1131.7,225.5L1138.7,220.3L1145.7,215.6L1152.6,211.3L1159.6,207.5L1166.5,204.1L1173.5,200.9L1180.5,198.1L1187.4,195.6L1194.4,193.2L1201.3,191.1L1208.3,189.2L1215.3,187.4L1222.2,185.8L1229.2,184.3L1236.2,182.9L1243.1,181.7L1250.1,180.5L1257,179.4L1264,178.3L1271,177.3L1277.9,176.4L1284.9,175.6L1291.8,174.7L1298.8,174L1305.8,173.2L1312.7,172.5L1319.7,171.8L1326.6,171.2L1333.6,170.5L1340.6,169.9L1347.5,169.3L1354.5,168.7L1361.4,168.1L1368.4,167.6L1375.4,167L1382.3,166.5L1389.3,166L1396.2,165.4L1403.2,164.9L1410.2,164.4L1417.1,163.9L1424.1,163.4L1431,162.9L1438,162.4" fill="none" stroke="#f40000" stroke-width="2.0" stroke-linejoin="round" stroke-linecap="butt"/>
<path d="M1090,272.4L1096.9,261.7L1103.9,252.1L1110.9,243.5L1117.8,235.8L1124.8,228.9L1131.7,222.6L1138.7,217L1145.7,212L1152.6,207.4L1159.6,203.3L1166.5,199.5L1173.5,196.1L1180.5,193.1L1187.4,190.3L1194.4,187.7L1201.3,185.4L1208.3,183.3L1215.3,181.4L1222.2,179.6L1229.2,177.9L1236.2,176.4L1243.1,175L1250.1,173.7L1257,172.5L1264,171.3L1271,170.3L1277.9,169.2L1284.9,168.3L1291.8,167.4L1298.8,166.5L1305.8,165.7L1312.7,164.9L1319.7,164.2L1326.6,163.5L1333.6,162.8L1340.6,162.1L1347.5,161.4L1354.5,160.8L1361.4,160.2L1368.4,159.6L1375.4,159L1382.3,158.4L1389.3,157.8L1396.2,157.3L1403.2,156.7L1410.2,156.2L1417.1,155.6L1424.1,155.1L1431,154.6L1438,154" fill="none" stroke="#f40000" stroke-width="2.0" stroke-linejoin="round" stroke-linecap="butt"/>
<path d="M1090,272.4L1096.9,262.5L1103.9,253.7L1110.9,245.9L1117.8,238.8L1124.8,232.5L1131.7,226.9L1138.7,221.9L1145.7,217.3L1152.6,213.2L1159.6,209.6L1166.5,206.3L1173.5,203.3L1180.5,200.6L1187.4,198.1L1194.4,195.9L1201.3,193.9L1208.3,192.1L1215.3,190.4L1222.2,188.8L1229.2,187.4L1236.2,186.1L1243.1,184.9L1250.1,183.7L1257,182.7L1264,181.7L1271,180.8L1277.9,179.9L1284.9,179.1L1291.8,178.3L1298.8,177.5L1305.8,176.8L1312.7,176.2L1319.7,175.5L1326.6,174.9L1333.6,174.3L1340.6,173.7L1347.5,173.1L1354.5,172.5L1361.4,172L1368.4,171.4L1375.4,170.9L1382.3,170.4L1389.3,169.9L1396.2,169.4L1403.2,168.9L1410.2,168.4L1417.1,167.9L1424.1,167.4L1431,166.9L1438,166.4" fill="none" stroke="#f40000" stroke-width="2.0" stroke-linejoin="round" stroke-linecap="butt"/>
<path d="M1090,272.4L1096.9,262L1103.9,252.7L1110.9,244.4L1117.8,236.9L1124.8,230.2L1131.7,224.2L1138.7,218.8L1145.7,213.9L1152.6,209.5L1159.6,205.6L1166.5,202L1173.5,198.7L1180.5,195.8L1187.4,193.1L1194.4,190.7L1201.3,188.5L1208.3,186.5L1215.3,184.6L1222.2,183L1229.2,181.4L1236.2,179.9L1243.1,178.6L1250.1,177.4L1257,176.2L1264,175.1L1271,174.1L1277.9,173.1L1284.9,172.2L1291.8,171.4L1298.8,170.6L1305.8,169.8L1312.7,169L1319.7,168.3L1326.6,167.6L1333.6,167L1340.6,166.3L1347.5,165.7L1354.5,165.1L1361.4,164.5L1368.4,163.9L1375.4,163.4L1382.3,162.8L1389.3,162.3L1396.2,161.7L1403.2,161.2L1410.2,160.7L1417.1,160.1L1424.1,159.6L1431,159.1L1438,158.6" fill="none" stroke="#f40000" stroke-width="2.0" stroke-linejoin="round" stroke-linecap="butt"/>
<path d="M1090,272.4L1096.9,262.2L1103.9,253L1110.9,244.8L1117.8,237.5L1124.8,230.9L1131.7,225L1138.7,219.7L1145.7,215L1152.6,210.7L1159.6,206.8L1166.5,203.3L1173.5,200.2L1180.5,197.3L1187.4,194.7L1194.4,192.4L1201.3,190.2L1208.3,188.3L1215.3,186.5L1222.2,184.8L1229.2,183.3L1236.2,181.9L1243.1,180.6L1250.1,179.4L1257,178.3L1264,177.2L1271,176.2L1277.9,175.3L1284.9,174.4L1291.8,173.6L1298.8,172.8L1305.8,172L1312.7,171.3L1319.7,170.6L1326.6,170L1333.6,169.3L1340.6,168.7L1347.5,168.1L1354.5,167.5L1361.4,166.9L1368.4,166.3L1375.4,165.8L1382.3,165.2L1389.3,164.7L1396.2,164.2L1403.2,163.6L1410.2,163.1L1417.1,162.6L1424.1,162.1L1431,161.6L1438,161.1" fill="none" stroke="#f40000" stroke-width="2.0" stroke-linejoin="round" stroke-linecap="butt"/>
<path d="M1090,272.4L1096.9,263.7L1103.9,256L1110.9,249.2L1117.8,243.2L1124.8,237.8L1131.7,233L1138.7,228.7L1145.7,224.9L1152.6,221.5L1159.6,218.4L1166.5,215.7L1173.5,213.2L1180.5,211L1187.4,209L1194.4,207.2L1201.3,205.6L1208.3,204.1L1215.3,202.7L1222.2,201.5L1229.2,200.3L1236.2,199.3L1243.1,198.3L1250.1,197.4L1257,196.5L1264,195.7L1271,195L1277.9,194.3L1284.9,193.6L1291.8,193L1298.8,192.4L1305.8,191.8L1312.7,191.2L1319.7,190.7L1326.6,190.2L1333.6,189.7L1340.6,189.2L1347.5,188.7L1354.5,188.2L1361.4,187.7L1368.4,187.3L1375.4,186.8L1382.3,186.4L1389.3,186L1396.2,185.5L1403.2,185.1L1410.2,184.7L1417.1,184.3L1424.1,183.8L1431,183.4L1438,183" fill="none" stroke="#f40000" stroke-width="2.0" stroke-linejoin="round" stroke-linecap="butt"/>
<path d="M1090,272.4L1096.9,262L1103.9,252.6L1110.9,244.3L1117.8,236.8L1124.8,230L1131.7,224L1138.7,218.5L1145.7,213.6L1152.6,209.2L1159.6,205.2L1166.5,201.6L1173.5,198.4L1180.5,195.4L1187.4,192.8L1194.4,190.3L1201.3,188.1L1208.3,186.1L1215.3,184.2L1222.2,182.5L1229.2,180.9L1236.2,179.5L1243.1,178.1L1250.1,176.9L1257,175.7L1264,174.6L1271,173.6L1277.9,172.6L1284.9,171.7L1291.8,170.8L1298.8,170L1305.8,169.2L1312.7,168.5L1319.7,167.8L1326.6,167.1L1333.6,166.4L1340.6,165.8L1347.5,165.1L1354.5,164.5L1361.4,163.9L1368.4,163.3L1375.4,162.8L1382.3,162.2L1389.3,161.7L1396.2,161.1L1403.2,160.6L1410.2,160L1417.1,159.5L1424.1,159L1431,158.5L1438,158" fill="none" stroke="#f40000" stroke-width="2.0" stroke-linejoin="round" stroke-linecap="butt"/>
<path d="M1090,272.4L1096.9,262.4L1103.9,253.4L1110.9,245.4L1117.8,238.2L1124.8,231.8L1131.7,226L1138.7,220.9L1145.7,216.2L1152.6,212.1L1159.6,208.3L1166.5,204.9L1173.5,201.9L1180.5,199.1L1187.4,196.6L1194.4,194.3L1201.3,192.2L1208.3,190.3L1215.3,188.6L1222.2,187L1229.2,185.5L1236.2,184.2L1243.1,182.9L1250.1,181.7L1257,180.7L1264,179.6L1271,178.7L1277.9,177.8L1284.9,176.9L1291.8,176.1L1298.8,175.4L1305.8,174.6L1312.7,173.9L1319.7,173.3L1326.6,172.6L1333.6,172L1340.6,171.4L1347.5,170.8L1354.5,170.2L1361.4,169.6L1368.4,169.1L1375.4,168.6L1382.3,168L1389.3,167.5L1396.2,167L1403.2,166.5L1410.2,166L1417.1,165.5L1424.1,165L1431,164.5L1438,164" fill="none" stroke="#f40000" stroke-width="2.0" stroke-linejoin="round" stroke-linecap="butt"/>
<path d="M1090,272.4L1096.9,263.1L1103.9,254.8L1110.9,247.4L1117.8,240.9L1124.8,235L1131.7,229.8L1138.7,225.1L1145.7,220.9L1152.6,217.2L1159.6,213.8L1166.5,210.8L1173.5,208L1180.5,205.6L1187.4,203.3L1194.4,201.3L1201.3,199.5L1208.3,197.8L1215.3,196.3L1222.2,194.9L1229.2,193.6L1236.2,192.4L1243.1,191.3L1250.1,190.3L1257,189.3L1264,188.4L1271,187.6L1277.9,186.8L1284.9,186.1L1291.8,185.4L1298.8,184.7L1305.8,184L1312.7,183.4L1319.7,182.8L1326.6,182.2L1333.6,181.7L1340.6,181.1L1347.5,180.6L1354.5,180.1L1361.4,179.6L1368.4,179.1L1375.4,178.6L1382.3,178.1L1389.3,177.6L1396.2,177.2L1403.2,176.7L1410.2,176.2L1417.1,175.8L1424.1,175.3L1431,174.9L1438,174.5" fill="none" stroke="#f40000" stroke-width="2.0" stroke-linejoin="round" stroke-linecap="butt"/>
<path d="M1090,272.4L1096.9,263.8L1103.9,256.2L1110.9,249.5L1117.8,243.5L1124.8,238.2L1131.7,233.4L1138.7,229.2L1145.7,225.4L1152.6,222.1L1159.6,219.1L1166.5,216.4L1173.5,214L1180.5,211.8L1187.4,209.8L1194.4,208L1201.3,206.4L1208.3,205L1215.3,203.6L1222.2,202.4L1229.2,201.3L1236.2,200.2L1243.1,199.3L1250.1,198.4L1257,197.5L1264,196.8L1271,196L1277.9,195.3L1284.9,194.7L1291.8,194L1298.8,193.4L1305.8,192.9L1312.7,192.3L1319.7,191.8L1326.6,191.3L1333.6,190.8L1340.6,190.3L1347.5,189.8L1354.5,189.3L1361.4,188.9L1368.4,188.4L1375.4,188L1382.3,187.6L1389.3,187.1L1396.2,186.7L1403.2,186.3L1410.2,185.9L1417.1,185.4L1424.1,185L1431,184.6L1438,184.2" fill="none" stroke="#f40000" stroke-width="2.0" stroke-linejoin="round" stroke-linecap="butt"/>
<path d="M1090,272.4L1096.9,261.7L1103.9,252.1L1110.9,243.5L1117.8,235.8L1124.8,228.9L1131.7,222.7L1138.7,217.1L1145.7,212L1152.6,207.4L1159.6,203.3L1166.5,199.6L1173.5,196.2L1180.5,193.1L1187.4,190.3L1194.4,187.8L1201.3,185.5L1208.3,183.4L1215.3,181.4L1222.2,179.6L1229.2,178L1236.2,176.5L1243.1,175.1L1250.1,173.8L1257,172.5L1264,171.4L1271,170.3L1277.9,169.3L1284.9,168.4L1291.8,167.5L1298.8,166.6L1305.8,165.8L1312.7,165L1319.7,164.3L1326.6,163.5L1333.6,162.9L1340.6,162.2L1347.5,161.5L1354.5,160.9L1361.4,160.3L1368.4,159.7L1375.4,159.1L1382.3,158.5L1389.3,157.9L1396.2,157.4L1403.2,156.8L1410.2,156.3L1417.1,155.7L1424.1,155.2L1431,154.6L1438,154.1" fill="none" stroke="#f40000" stroke-width="2.0" stroke-linejoin="round" stroke-linecap="butt"/>
<path d="M1090,272.4L1096.9,262.7L1103.9,254L1110.9,246.2L1117.8,239.3L1124.8,233.1L1131.7,227.6L1138.7,222.6L1145.7,218.1L1152.6,214.1L1159.6,210.5L1166.5,207.3L1173.5,204.4L1180.5,201.7L1187.4,199.3L1194.4,197.1L1201.3,195.2L1208.3,193.4L1215.3,191.7L1222.2,190.2L1229.2,188.8L1236.2,187.5L1243.1,186.3L1250.1,185.2L1257,184.2L1264,183.2L1271,182.3L1277.9,181.5L1284.9,180.7L1291.8,179.9L1298.8,179.2L1305.8,178.5L1312.7,177.8L1319.7,177.2L1326.6,176.5L1333.6,175.9L1340.6,175.4L1347.5,174.8L1354.5,174.2L1361.4,173.7L1368.4,173.2L1375.4,172.6L1382.3,172.1L1389.3,171.6L1396.2,171.1L1403.2,170.6L1410.2,170.2L1417.1,169.7L1424.1,169.2L1431,168.7L1438,168.3" fill="none" stroke="#f40000" stroke-width="2.0" stroke-linejoin="round" stroke-linecap="butt"/>
<path d="M1090,272.4L1096.9,262.1L1103.9,252.8L1110.9,244.5L1117.8,237.1L1124.8,230.4L1131.7,224.5L1138.7,219.1L1145.7,214.2L1152.6,209.9L1159.6,206L1166.5,202.4L1173.5,199.2L1180.5,196.3L1187.4,193.7L1194.4,191.3L1201.3,189.1L1208.3,187.1L1215.3,185.2L1222.2,183.6L1229.2,182L1236.2,180.6L1243.1,179.2L1250.1,178L1257,176.9L1264,175.8L1271,174.8L1277.9,173.8L1284.9,172.9L1291.8,172.1L1298.8,171.3L1305.8,170.5L1312.7,169.8L1319.7,169.1L1326.6,168.4L1333.6,167.7L1340.6,167.1L1347.5,166.5L1354.5,165.9L1361.4,165.3L1368.4,164.7L1375.4,164.1L1382.3,163.6L1389.3,163L1396.2,162.5L1403.2,162L1410.2,161.4L1417.1,160.9L1424.1,160.4L1431,159.9L1438,159.4" fill="none" stroke="#f40000" stroke-width="2.0" stroke-linejoin="round" stroke-linecap="butt"/>
<path d="M1090,272.4L1096.9,261.7L1103.9,252.1L1110.9,243.5L1117.8,235.7L1124.8,228.8L1131.7,222.5L1138.7,216.9L1145.7,211.8L1152.6,207.2L1159.6,203.1L1166.5,199.3L1173.5,195.9L1180.5,192.8L1187.4,190L1194.4,187.5L1201.3,185.2L1208.3,183L1215.3,181.1L1222.2,179.3L1229.2,177.6L1236.2,176.1L1243.1,174.7L1250.1,173.4L1257,172.2L1264,171L1271,169.9L1277.9,168.9L1284.9,168L1291.8,167.1L1298.8,166.2L1305.8,165.4L1312.7,164.6L1319.7,163.8L1326.6,163.1L1333.6,162.4L1340.6,161.7L1347.5,161.1L1354.5,160.4L1361.4,159.8L1368.4,159.2L1375.4,158.6L1382.3,158L1389.3,157.5L1396.2,156.9L1403.2,156.3L1410.2,155.8L1417.1,155.2L1424.1,154.7L1431,154.2L1438,153.6" fill="none" stroke="#f40000" stroke-width="2.0" stroke-linejoin="round" stroke-linecap="butt"/>
<path d="M1090,272.4L1096.9,262.1L1103.9,252.8L1110.9,244.6L1117.8,237.1L1124.8,230.5L1131.7,224.5L1138.7,219.1L1145.7,214.3L1152.6,210L1159.6,206L1166.5,202.5L1173.5,199.3L1180.5,196.4L1187.4,193.8L1194.4,191.4L1201.3,189.2L1208.3,187.2L1215.3,185.4L1222.2,183.7L1229.2,182.1L1236.2,180.7L1243.1,179.4L1250.1,178.2L1257,177L1264,175.9L1271,174.9L1277.9,174L1284.9,173.1L1291.8,172.2L1298.8,171.4L1305.8,170.7L1312.7,169.9L1319.7,169.2L1326.6,168.5L1333.6,167.9L1340.6,167.2L1347.5,166.6L1354.5,166L1361.4,165.4L1368.4,164.9L1375.4,164.3L1382.3,163.7L1389.3,163.2L1396.2,162.7L1403.2,162.1L1410.2,161.6L1417.1,161.1L1424.1,160.6L1431,160.1L1438,159.6" fill="none" stroke="#f40000" stroke-width="2.0" stroke-linejoin="round" stroke-linecap="butt"/>
<path d="M1090,272.4L1096.9,261.6L1103.9,251.9L1110.9,243.2L1117.8,235.4L1124.8,228.3L1131.7,222L1138.7,216.3L1145.7,211.1L1152.6,206.5L1159.6,202.3L1166.5,198.5L1173.5,195.1L1180.5,191.9L1187.4,189.1L1194.4,186.5L1201.3,184.1L1208.3,182L1215.3,180L1222.2,178.2L1229.2,176.5L1236.2,174.9L1243.1,173.5L1250.1,172.2L1257,170.9L1264,169.7L1271,168.7L1277.9,167.6L1284.9,166.6L1291.8,165.7L1298.8,164.9L1305.8,164L1312.7,163.2L1319.7,162.5L1326.6,161.7L1333.6,161L1340.6,160.3L1347.5,159.7L1354.5,159L1361.4,158.4L1368.4,157.8L1375.4,157.2L1382.3,156.6L1389.3,156L1396.2,155.4L1403.2,154.8L1410.2,154.3L1417.1,153.7L1424.1,153.2L1431,152.7L1438,152.1" fill="none" stroke="#f40000" stroke-width="2.0" stroke-linejoin="round" stroke-linecap="butt"/>
<path d="M1090,272.4L1096.9,262.9L1103.9,254.4L1110.9,246.8L1117.8,240L1124.8,234L1131.7,228.6L1138.7,223.7L1145.7,219.4L1152.6,215.5L1159.6,212L1166.5,208.9L1173.5,206L1180.5,203.5L1187.4,201.1L1194.4,199L1201.3,197.1L1208.3,195.4L1215.3,193.8L1222.2,192.3L1229.2,191L1236.2,189.7L1243.1,188.6L1250.1,187.5L1257,186.5L1264,185.6L1271,184.7L1277.9,183.9L1284.9,183.1L1291.8,182.4L1298.8,181.7L1305.8,181L1312.7,180.3L1319.7,179.7L1326.6,179.1L1333.6,178.5L1340.6,178L1347.5,177.4L1354.5,176.9L1361.4,176.4L1368.4,175.9L1375.4,175.3L1382.3,174.8L1389.3,174.4L1396.2,173.9L1403.2,173.4L1410.2,172.9L1417.1,172.5L1424.1,172L1431,171.5L1438,171.1" fill="none" stroke="#f40000" stroke-width="2.0" stroke-linejoin="round" stroke-linecap="butt"/>
<path d="M1090,272.4L1096.9,261.9L1103.9,252.4L1110.9,244L1117.8,236.4L1124.8,229.6L1131.7,223.4L1138.7,217.9L1145.7,213L1152.6,208.5L1159.6,204.5L1166.5,200.8L1173.5,197.5L1180.5,194.5L1187.4,191.8L1194.4,189.3L1201.3,187.1L1208.3,185L1215.3,183.1L1222.2,181.4L1229.2,179.8L1236.2,178.3L1243.1,176.9L1250.1,175.6L1257,174.4L1264,173.3L1271,172.3L1277.9,171.3L1284.9,170.4L1291.8,169.5L1298.8,168.7L1305.8,167.9L1312.7,167.1L1319.7,166.4L1326.6,165.7L1333.6,165L1340.6,164.3L1347.5,163.7L1354.5,163.1L1361.4,162.5L1368.4,161.9L1375.4,161.3L1382.3,160.7L1389.3,160.2L1396.2,159.6L1403.2,159.1L1410.2,158.5L1417.1,158L1424.1,157.5L1431,157L1438,156.4" fill="none" stroke="#f40000" stroke-width="2.0" stroke-linejoin="round" stroke-linecap="butt"/>
<path d="M1090,272.4L1096.9,262.7L1103.9,254.1L1110.9,246.4L1117.8,239.5L1124.8,233.4L1131.7,227.9L1138.7,223L1145.7,218.6L1152.6,214.6L1159.6,211.1L1166.5,207.9L1173.5,205L1180.5,202.3L1187.4,200L1194.4,197.8L1201.3,195.9L1208.3,194.1L1215.3,192.5L1222.2,191L1229.2,189.6L1236.2,188.3L1243.1,187.1L1250.1,186L1257,185L1264,184.1L1271,183.2L1277.9,182.3L1284.9,181.5L1291.8,180.8L1298.8,180.1L1305.8,179.4L1312.7,178.7L1319.7,178.1L1326.6,177.5L1333.6,176.9L1340.6,176.3L1347.5,175.7L1354.5,175.2L1361.4,174.7L1368.4,174.1L1375.4,173.6L1382.3,173.1L1389.3,172.6L1396.2,172.1L1403.2,171.6L1410.2,171.2L1417.1,170.7L1424.1,170.2L1431,169.7L1438,169.3" fill="none" stroke="#f40000" stroke-width="2.0" stroke-linejoin="round" stroke-linecap="butt"/>
<path d="M1090,272.4L1096.9,261.6L1103.9,251.8L1110.9,243.1L1117.8,235.2L1124.8,228.2L1131.7,221.8L1138.7,216.1L1145.7,210.9L1152.6,206.3L1159.6,202.1L1166.5,198.2L1173.5,194.8L1180.5,191.6L1187.4,188.8L1194.4,186.2L1201.3,183.8L1208.3,181.6L1215.3,179.6L1222.2,177.8L1229.2,176.1L1236.2,174.5L1243.1,173.1L1250.1,171.7L1257,170.5L1264,169.3L1271,168.2L1277.9,167.2L1284.9,166.2L1291.8,165.3L1298.8,164.4L1305.8,163.6L1312.7,162.8L1319.7,162L1326.6,161.2L1333.6,160.5L1340.6,159.8L1347.5,159.2L1354.5,158.5L1361.4,157.9L1368.4,157.3L1375.4,156.7L1382.3,156.1L1389.3,155.5L1396.2,154.9L1403.2,154.3L1410.2,153.8L1417.1,153.2L1424.1,152.7L1431,152.1L1438,151.6" fill="none" stroke="#f40000" stroke-width="2.0" stroke-linejoin="round" stroke-linecap="butt"/>
<path d="M1090,272.4L1096.9,261.7L1103.9,252.1L1110.9,243.5L1117.8,235.7L1124.8,228.8L1131.7,222.5L1138.7,216.9L1145.7,211.8L1152.6,207.2L1159.6,203.1L1166.5,199.3L1173.5,195.9L1180.5,192.8L1187.4,190L1194.4,187.5L1201.3,185.2L1208.3,183L1215.3,181.1L1222.2,179.3L1229.2,177.6L1236.2,176.1L1243.1,174.7L1250.1,173.4L1257,172.1L1264,171L1271,169.9L1277.9,168.9L1284.9,168L1291.8,167.1L1298.8,166.2L1305.8,165.4L1312.7,164.6L1319.7,163.8L1326.6,163.1L1333.6,162.4L1340.6,161.7L1347.5,161.1L1354.5,160.4L1361.4,159.8L1368.4,159.2L1375.4,158.6L1382.3,158L1389.3,157.5L1396.2,156.9L1403.2,156.3L1410.2,155.8L1417.1,155.2L1424.1,154.7L1431,154.2L1438,153.6" fill="none" stroke="#f40000" stroke-width="2.0" stroke-linejoin="round" stroke-linecap="butt"/>
<path d="M1090,272.4L1096.9,263.6L1103.9,255.9L1110.9,249L1117.8,242.8L1124.8,237.4L1131.7,232.5L1138.7,228.2L1145.7,224.3L1152.6,220.9L1159.6,217.8L1166.5,215L1173.5,212.5L1180.5,210.2L1187.4,208.2L1194.4,206.4L1201.3,204.7L1208.3,203.2L1215.3,201.8L1222.2,200.5L1229.2,199.4L1236.2,198.3L1243.1,197.3L1250.1,196.4L1257,195.5L1264,194.7L1271,193.9L1277.9,193.2L1284.9,192.6L1291.8,191.9L1298.8,191.3L1305.8,190.7L1312.7,190.1L1319.7,189.6L1326.6,189L1333.6,188.5L1340.6,188L1347.5,187.5L1354.5,187.1L1361.4,186.6L1368.4,186.1L1375.4,185.7L1382.3,185.2L1389.3,184.8L1396.2,184.4L1403.2,183.9L1410.2,183.5L1417.1,183.1L1424.1,182.6L1431,182.2L1438,181.8" fill="none" stroke="#f40000" stroke-width="2.0" stroke-linejoin="round" stroke-linecap="butt"/>
<path d="M1090,272.4L1096.9,263.5L1103.9,255.7L1110.9,248.7L1117.8,242.5L1124.8,236.9L1131.7,232L1138.7,227.6L1145.7,223.7L1152.6,220.2L1159.6,217L1166.5,214.2L1173.5,211.6L1180.5,209.4L1187.4,207.3L1194.4,205.4L1201.3,203.7L1208.3,202.2L1215.3,200.8L1222.2,199.5L1229.2,198.3L1236.2,197.2L1243.1,196.2L1250.1,195.2L1257,194.3L1264,193.5L1271,192.7L1277.9,192L1284.9,191.3L1291.8,190.7L1298.8,190L1305.8,189.4L1312.7,188.9L1319.7,188.3L1326.6,187.8L1333.6,187.2L1340.6,186.7L1347.5,186.2L1354.5,185.7L1361.4,185.3L1368.4,184.8L1375.4,184.3L1382.3,183.9L1389.3,183.4L1396.2,183L1403.2,182.6L1410.2,182.1L1417.1,181.7L1424.1,181.3L1431,180.8L1438,180.4" fill="none" stroke="#f40000" stroke-width="2.0" stroke-linejoin="round" stroke-linecap="butt"/>
<path d="M1090,272.4L1096.9,263.3L1103.9,255.2L1110.9,248.1L1117.8,241.7L1124.8,236L1131.7,230.9L1138.7,226.4L1145.7,222.3L1152.6,218.7L1159.6,215.4L1166.5,212.5L1173.5,209.9L1180.5,207.5L1187.4,205.3L1194.4,203.4L1201.3,201.6L1208.3,200L1215.3,198.6L1222.2,197.2L1229.2,196L1236.2,194.8L1243.1,193.8L1250.1,192.8L1257,191.9L1264,191L1271,190.2L1277.9,189.5L1284.9,188.7L1291.8,188.1L1298.8,187.4L1305.8,186.8L1312.7,186.2L1319.7,185.6L1326.6,185.1L1333.6,184.5L1340.6,184L1347.5,183.5L1354.5,183L1361.4,182.5L1368.4,182L1375.4,181.5L1382.3,181.1L1389.3,180.6L1396.2,180.1L1403.2,179.7L1410.2,179.2L1417.1,178.8L1424.1,178.4L1431,177.9L1438,177.5" fill="none" stroke="#f40000" stroke-width="2.0" stroke-linejoin="round" stroke-linecap="butt"/>
<path d="M1090,272.4L1096.9,261.5L1103.9,251.7L1110.9,242.9L1117.8,235L1124.8,227.9L1131.7,221.5L1138.7,215.7L1145.7,210.5L1152.6,205.8L1159.6,201.5L1166.5,197.7L1173.5,194.2L1180.5,191L1187.4,188.1L1194.4,185.5L1201.3,183.1L1208.3,180.9L1215.3,178.9L1222.2,177L1229.2,175.3L1236.2,173.7L1243.1,172.2L1250.1,170.9L1257,169.6L1264,168.4L1271,167.3L1277.9,166.3L1284.9,165.3L1291.8,164.3L1298.8,163.4L1305.8,162.6L1312.7,161.8L1319.7,161L1326.6,160.3L1333.6,159.5L1340.6,158.8L1347.5,158.2L1354.5,157.5L1361.4,156.9L1368.4,156.2L1375.4,155.6L1382.3,155L1389.3,154.4L1396.2,153.9L1403.2,153.3L1410.2,152.7L1417.1,152.2L1424.1,151.6L1431,151.1L1438,150.5" fill="none" stroke="#f40000" stroke-width="2.0" stroke-linejoin="round" stroke-linecap="butt"/>
<path d="M1090,272.4L1096.9,262.8L1103.9,254.2L1110.9,246.5L1117.8,239.6L1124.8,233.5L1131.7,228L1138.7,223.1L1145.7,218.7L1152.6,214.8L1159.6,211.2L1166.5,208L1173.5,205.1L1180.5,202.5L1187.4,200.2L1194.4,198L1201.3,196.1L1208.3,194.3L1215.3,192.7L1222.2,191.2L1229.2,189.8L1236.2,188.6L1243.1,187.4L1250.1,186.3L1257,185.3L1264,184.3L1271,183.4L1277.9,182.6L1284.9,181.8L1291.8,181.1L1298.8,180.3L1305.8,179.7L1312.7,179L1319.7,178.4L1326.6,177.8L1333.6,177.2L1340.6,176.6L1347.5,176L1354.5,175.5L1361.4,175L1368.4,174.4L1375.4,173.9L1382.3,173.4L1389.3,172.9L1396.2,172.4L1403.2,171.9L1410.2,171.5L1417.1,171L1424.1,170.5L1431,170L1438,169.6" fill="none" stroke="#f40000" stroke-width="2.0" stroke-linejoin="round" stroke-linecap="butt"/>
<path d="M1090,272.4L1096.9,262.3L1103.9,253.2L1110.9,245.1L1117.8,237.9L1124.8,231.4L1131.7,225.6L1138.7,220.4L1145.7,215.7L1152.6,211.5L1159.6,207.7L1166.5,204.2L1173.5,201.1L1180.5,198.3L1187.4,195.8L1194.4,193.4L1201.3,191.3L1208.3,189.4L1215.3,187.6L1222.2,186L1229.2,184.5L1236.2,183.2L1243.1,181.9L1250.1,180.7L1257,179.6L1264,178.6L1271,177.6L1277.9,176.7L1284.9,175.8L1291.8,175L1298.8,174.2L1305.8,173.5L1312.7,172.8L1319.7,172.1L1326.6,171.4L1333.6,170.8L1340.6,170.2L1347.5,169.6L1354.5,169L1361.4,168.4L1368.4,167.9L1375.4,167.3L1382.3,166.8L1389.3,166.3L1396.2,165.7L1403.2,165.2L1410.2,164.7L1417.1,164.2L1424.1,163.7L1431,163.2L1438,162.7" fill="none" stroke="#f40000" stroke-width="2.0" stroke-linejoin="round" stroke-linecap="butt"/>
<path d="M1090,272.4L1096.9,263.1L1103.9,254.8L1110.9,247.4L1117.8,240.9L1124.8,235L1131.7,229.8L1138.7,225.1L1145.7,220.9L1152.6,217.2L1159.6,213.8L1166.5,210.8L1173.5,208L1180.5,205.6L1187.4,203.4L1194.4,201.3L1201.3,199.5L1208.3,197.8L1215.3,196.3L1222.2,194.9L1229.2,193.6L1236.2,192.4L1243.1,191.3L1250.1,190.3L1257,189.3L1264,188.5L1271,187.6L1277.9,186.8L1284.9,186.1L1291.8,185.4L1298.8,184.7L1305.8,184L1312.7,183.4L1319.7,182.8L1326.6,182.3L1333.6,181.7L1340.6,181.1L1347.5,180.6L1354.5,180.1L1361.4,179.6L1368.4,179.1L1375.4,178.6L1382.3,178.1L1389.3,177.6L1396.2,177.2L1403.2,176.7L1410.2,176.3L1417.1,175.8L1424.1,175.4L1431,174.9L1438,174.5" fill="none" stroke="#f40000" stroke-width="2.0" stroke-linejoin="round" stroke-linecap="butt"/>
<path d="M1090,272.4L1096.9,262.6L1103.9,253.8L1110.9,246L1117.8,239L1124.8,232.7L1131.7,227.1L1138.7,222.1L1145.7,217.6L1152.6,213.5L1159.6,209.9L1166.5,206.6L1173.5,203.6L1180.5,200.9L1187.4,198.5L1194.4,196.3L1201.3,194.3L1208.3,192.5L1215.3,190.8L1222.2,189.3L1229.2,187.8L1236.2,186.5L1243.1,185.3L1250.1,184.2L1257,183.2L1264,182.2L1271,181.3L1277.9,180.4L1284.9,179.6L1291.8,178.8L1298.8,178.1L1305.8,177.4L1312.7,176.7L1319.7,176L1326.6,175.4L1333.6,174.8L1340.6,174.2L1347.5,173.6L1354.5,173.1L1361.4,172.5L1368.4,172L1375.4,171.5L1382.3,170.9L1389.3,170.4L1396.2,169.9L1403.2,169.4L1410.2,168.9L1417.1,168.5L1424.1,168L1431,167.5L1438,167" fill="none" stroke="#f40000" stroke-width="2.0" stroke-linejoin="round" stroke-linecap="butt"/>
<path d="M1090,272.4L1096.9,262.9L1103.9,254.4L1110.9,246.8L1117.8,240.1L1124.8,234.1L1131.7,228.7L1138.7,223.9L1145.7,219.5L1152.6,215.7L1159.6,212.2L1166.5,209L1173.5,206.2L1180.5,203.7L1187.4,201.4L1194.4,199.3L1201.3,197.3L1208.3,195.6L1215.3,194L1222.2,192.6L1229.2,191.2L1236.2,190L1243.1,188.8L1250.1,187.8L1257,186.8L1264,185.9L1271,185L1277.9,184.2L1284.9,183.4L1291.8,182.7L1298.8,182L1305.8,181.3L1312.7,180.6L1319.7,180L1326.6,179.4L1333.6,178.8L1340.6,178.3L1347.5,177.7L1354.5,177.2L1361.4,176.7L1368.4,176.2L1375.4,175.7L1382.3,175.2L1389.3,174.7L1396.2,174.2L1403.2,173.7L1410.2,173.2L1417.1,172.8L1424.1,172.3L1431,171.9L1438,171.4" fill="none" stroke="#f40000" stroke-width="2.0" stroke-linejoin="round" stroke-linecap="butt"/>
<path d="M1090,272.4L1096.9,263L1103.9,254.6L1110.9,247.1L1117.8,240.4L1124.8,234.5L1131.7,229.1L1138.7,224.4L1145.7,220.1L1152.6,216.3L1159.6,212.8L1166.5,209.7L1173.5,207L1180.5,204.4L1187.4,202.2L1194.4,200.1L1201.3,198.2L1208.3,196.5L1215.3,195L1222.2,193.5L1229.2,192.2L1236.2,191L1243.1,189.9L1250.1,188.8L1257,187.8L1264,186.9L1271,186.1L1277.9,185.3L1284.9,184.5L1291.8,183.8L1298.8,183.1L1305.8,182.4L1312.7,181.8L1319.7,181.2L1326.6,180.6L1333.6,180L1340.6,179.5L1347.5,178.9L1354.5,178.4L1361.4,177.9L1368.4,177.4L1375.4,176.9L1382.3,176.4L1389.3,175.9L1396.2,175.4L1403.2,175L1410.2,174.5L1417.1,174L1424.1,173.6L1431,173.1L1438,172.7" fill="none" stroke="#f40000" stroke-width="2.0" stroke-linejoin="round" stroke-linecap="butt"/>
<path d="M1090,272.4L1096.9,262.4L1103.9,253.4L1110.9,245.4L1117.8,238.3L1124.8,231.9L1131.7,226.1L1138.7,221L1145.7,216.3L1152.6,212.2L1159.6,208.4L1166.5,205L1173.5,202L1180.5,199.2L1187.4,196.7L1194.4,194.4L1201.3,192.4L1208.3,190.5L1215.3,188.7L1222.2,187.1L1229.2,185.7L1236.2,184.3L1243.1,183.1L1250.1,181.9L1257,180.8L1264,179.8L1271,178.9L1277.9,178L1284.9,177.1L1291.8,176.3L1298.8,175.6L1305.8,174.8L1312.7,174.1L1319.7,173.5L1326.6,172.8L1333.6,172.2L1340.6,171.6L1347.5,171L1354.5,170.4L1361.4,169.8L1368.4,169.3L1375.4,168.8L1382.3,168.2L1389.3,167.7L1396.2,167.2L1403.2,166.7L1410.2,166.2L1417.1,165.7L1424.1,165.2L1431,164.7L1438,164.2" fill="none" stroke="#f40000" stroke-width="2.0" stroke-linejoin="round" stroke-linecap="butt"/>
<path d="M1090,272.4L1096.9,262.4L1103.9,253.4L1110.9,245.4L1117.8,238.3L1124.8,231.9L1131.7,226.1L1138.7,221L1145.7,216.4L1152.6,212.2L1159.6,208.4L1166.5,205.1L1173.5,202L1180.5,199.2L1187.4,196.7L1194.4,194.5L1201.3,192.4L1208.3,190.5L1215.3,188.8L1222.2,187.2L1229.2,185.7L1236.2,184.4L1243.1,183.1L1250.1,181.9L1257,180.9L1264,179.8L1271,178.9L1277.9,178L1284.9,177.2L1291.8,176.4L1298.8,175.6L1305.8,174.9L1312.7,174.2L1319.7,173.5L1326.6,172.8L1333.6,172.2L1340.6,171.6L1347.5,171L1354.5,170.4L1361.4,169.9L1368.4,169.3L1375.4,168.8L1382.3,168.3L1389.3,167.7L1396.2,167.2L1403.2,166.7L1410.2,166.2L1417.1,165.7L1424.1,165.2L1431,164.7L1438,164.2" fill="none" stroke="#f40000" stroke-width="2.0" stroke-linejoin="round" stroke-linecap="butt"/>
<path d="M1090,272.4L1096.9,261.6L1103.9,252L1110.9,243.3L1117.8,235.5L1124.8,228.5L1131.7,222.2L1138.7,216.5L1145.7,211.4L1152.6,206.8L1159.6,202.6L1166.5,198.8L1173.5,195.4L1180.5,192.3L1187.4,189.5L1194.4,186.9L1201.3,184.6L1208.3,182.4L1215.3,180.4L1222.2,178.6L1229.2,176.9L1236.2,175.4L1243.1,174L1250.1,172.6L1257,171.4L1264,170.2L1271,169.2L1277.9,168.1L1284.9,167.2L1291.8,166.3L1298.8,165.4L1305.8,164.6L1312.7,163.8L1319.7,163L1326.6,162.3L1333.6,161.6L1340.6,160.9L1347.5,160.2L1354.5,159.6L1361.4,159L1368.4,158.3L1375.4,157.7L1382.3,157.1L1389.3,156.6L1396.2,156L1403.2,155.4L1410.2,154.9L1417.1,154.3L1424.1,153.8L1431,153.3L1438,152.7" fill="none" stroke="#f40000" stroke-width="2.0" stroke-linejoin="round" stroke-linecap="butt"/>
<path d="M1090,272.4L1096.9,262.1L1103.9,253L1110.9,244.8L1117.8,237.4L1124.8,230.8L1131.7,224.9L1138.7,219.6L1145.7,214.8L1152.6,210.5L1159.6,206.6L1166.5,203.1L1173.5,200L1180.5,197.1L1187.4,194.5L1194.4,192.1L1201.3,190L1208.3,188L1215.3,186.2L1222.2,184.5L1229.2,183L1236.2,181.6L1243.1,180.3L1250.1,179.1L1257,178L1264,176.9L1271,175.9L1277.9,175L1284.9,174.1L1291.8,173.3L1298.8,172.5L1305.8,171.7L1312.7,171L1319.7,170.3L1326.6,169.6L1333.6,169L1340.6,168.3L1347.5,167.7L1354.5,167.1L1361.4,166.5L1368.4,166L1375.4,165.4L1382.3,164.9L1389.3,164.3L1396.2,163.8L1403.2,163.3L1410.2,162.7L1417.1,162.2L1424.1,161.7L1431,161.2L1438,160.7" fill="none" stroke="#f40000" stroke-width="2.0" stroke-linejoin="round" stroke-linecap="butt"/>
<path d="M1090,272.4L1096.9,261.6L1103.9,251.9L1110.9,243.1L1117.8,235.3L1124.8,228.2L1131.7,221.9L1138.7,216.2L1145.7,211L1152.6,206.4L1159.6,202.2L1166.5,198.4L1173.5,194.9L1180.5,191.8L1187.4,188.9L1194.4,186.3L1201.3,184L1208.3,181.8L1215.3,179.8L1222.2,178L1229.2,176.3L1236.2,174.7L1243.1,173.3L1250.1,171.9L1257,170.7L1264,169.5L1271,168.4L1277.9,167.4L1284.9,166.4L1291.8,165.5L1298.8,164.6L1305.8,163.8L1312.7,163L1319.7,162.2L1326.6,161.5L1333.6,160.7L1340.6,160.1L1347.5,159.4L1354.5,158.7L1361.4,158.1L1368.4,157.5L1375.4,156.9L1382.3,156.3L1389.3,155.7L1396.2,155.1L1403.2,154.6L1410.2,154L1417.1,153.5L1424.1,152.9L1431,152.4L1438,151.8" fill="none" stroke="#f40000" stroke-width="2.0" stroke-linejoin="round" stroke-linecap="butt"/>
<path d="M1090,272.4L1096.9,261.7L1103.9,252.2L1110.9,243.6L1117.8,235.9L1124.8,229L1131.7,222.8L1138.7,217.2L1145.7,212.1L1152.6,207.6L1159.6,203.5L1166.5,199.7L1173.5,196.4L1180.5,193.3L1187.4,190.5L1194.4,188L1201.3,185.7L1208.3,183.6L1215.3,181.7L1222.2,179.9L1229.2,178.2L1236.2,176.7L1243.1,175.3L1250.1,174L1257,172.8L1264,171.7L1271,170.6L1277.9,169.6L1284.9,168.7L1291.8,167.8L1298.8,166.9L1305.8,166.1L1312.7,165.3L1319.7,164.6L1326.6,163.8L1333.6,163.2L1340.6,162.5L1347.5,161.8L1354.5,161.2L1361.4,160.6L1368.4,160L1375.4,159.4L1382.3,158.8L1389.3,158.2L1396.2,157.7L1403.2,157.1L1410.2,156.6L1417.1,156L1424.1,155.5L1431,155L1438,154.4" fill="none" stroke="#f40000" stroke-width="2.0" stroke-linejoin="round" stroke-linecap="butt"/>
<path d="M1090,272.4L1096.9,261.4L1103.9,251.6L1110.9,242.7L1117.8,234.8L1124.8,227.6L1131.7,221.2L1138.7,215.3L1145.7,210.1L1152.6,205.4L1159.6,201.1L1166.5,197.2L1173.5,193.7L1180.5,190.5L1187.4,187.5L1194.4,184.9L1201.3,182.5L1208.3,180.2L1215.3,178.2L1222.2,176.3L1229.2,174.6L1236.2,173L1243.1,171.5L1250.1,170.1L1257,168.9L1264,167.7L1271,166.5L1277.9,165.5L1284.9,164.5L1291.8,163.5L1298.8,162.6L1305.8,161.8L1312.7,161L1319.7,160.2L1326.6,159.4L1333.6,158.7L1340.6,158L1347.5,157.3L1354.5,156.6L1361.4,156L1368.4,155.4L1375.4,154.7L1382.3,154.1L1389.3,153.5L1396.2,153L1403.2,152.4L1410.2,151.8L1417.1,151.3L1424.1,150.7L1431,150.2L1438,149.6" fill="none" stroke="#f40000" stroke-width="2.0" stroke-linejoin="round" stroke-linecap="butt"/>
<path d="M1090,272.4L1096.9,262.2L1103.9,253L1110.9,244.8L1117.8,237.5L1124.8,230.9L1131.7,225L1138.7,219.7L1145.7,215L1152.6,210.7L1159.6,206.8L1166.5,203.3L1173.5,200.2L1180.5,197.3L1187.4,194.7L1194.4,192.4L1201.3,190.2L1208.3,188.3L1215.3,186.5L1222.2,184.8L1229.2,183.3L1236.2,181.9L1243.1,180.6L1250.1,179.4L1257,178.3L1264,177.2L1271,176.2L1277.9,175.3L1284.9,174.4L1291.8,173.6L1298.8,172.8L1305.8,172L1312.7,171.3L1319.7,170.6L1326.6,170L1333.6,169.3L1340.6,168.7L1347.5,168.1L1354.5,167.5L1361.4,166.9L1368.4,166.3L1375.4,165.8L1382.3,165.2L1389.3,164.7L1396.2,164.2L1403.2,163.6L1410.2,163.1L1417.1,162.6L1424.1,162.1L1431,161.6L1438,161.1" fill="none" stroke="#f40000" stroke-width="2.0" stroke-linejoin="round" stroke-linecap="butt"/>
<path d="M1090,272.4L1096.9,263.5L1103.9,255.5L1110.9,248.5L1117.8,242.2L1124.8,236.6L1131.7,231.6L1138.7,227.2L1145.7,223.2L1152.6,219.7L1159.6,216.5L1166.5,213.6L1173.5,211L1180.5,208.7L1187.4,206.6L1194.4,204.7L1201.3,203L1208.3,201.5L1215.3,200L1222.2,198.7L1229.2,197.5L1236.2,196.4L1243.1,195.4L1250.1,194.4L1257,193.5L1264,192.7L1271,191.9L1277.9,191.2L1284.9,190.5L1291.8,189.8L1298.8,189.2L1305.8,188.5L1312.7,188L1319.7,187.4L1326.6,186.9L1333.6,186.3L1340.6,185.8L1347.5,185.3L1354.5,184.8L1361.4,184.3L1368.4,183.9L1375.4,183.4L1382.3,182.9L1389.3,182.5L1396.2,182L1403.2,181.6L1410.2,181.2L1417.1,180.7L1424.1,180.3L1431,179.9L1438,179.4" fill="none" stroke="#f40000" stroke-width="2.0" stroke-linejoin="round" stroke-linecap="butt"/>
<path d="M1090,272.4L1096.9,261.7L1103.9,252.2L1110.9,243.6L1117.8,235.9L1124.8,229L1131.7,222.7L1138.7,217.1L1145.7,212.1L1152.6,207.5L1159.6,203.4L1166.5,199.7L1173.5,196.3L1180.5,193.2L1187.4,190.5L1194.4,187.9L1201.3,185.6L1208.3,183.5L1215.3,181.6L1222.2,179.8L1229.2,178.1L1236.2,176.6L1243.1,175.2L1250.1,173.9L1257,172.7L1264,171.5L1271,170.5L1277.9,169.5L1284.9,168.5L1291.8,167.6L1298.8,166.8L1305.8,166L1312.7,165.2L1319.7,164.4L1326.6,163.7L1333.6,163L1340.6,162.3L1347.5,161.7L1354.5,161.1L1361.4,160.4L1368.4,159.8L1375.4,159.2L1382.3,158.7L1389.3,158.1L1396.2,157.5L1403.2,157L1410.2,156.4L1417.1,155.9L1424.1,155.4L1431,154.8L1438,154.3" fill="none" stroke="#f40000" stroke-width="2.0" stroke-linejoin="round" stroke-linecap="butt"/>
<path d="M1090,272.4L1096.9,261.5L1103.9,251.7L1110.9,242.9L1117.8,235L1124.8,227.9L1131.7,221.5L1138.7,215.7L1145.7,210.5L1152.6,205.8L1159.6,201.5L1166.5,197.7L1173.5,194.2L1180.5,191L1187.4,188.1L1194.4,185.5L1201.3,183.1L1208.3,180.9L1215.3,178.9L1222.2,177L1229.2,175.3L1236.2,173.7L1243.1,172.3L1250.1,170.9L1257,169.6L1264,168.4L1271,167.3L1277.9,166.3L1284.9,165.3L1291.8,164.4L1298.8,163.5L1305.8,162.6L1312.7,161.8L1319.7,161L1326.6,160.3L1333.6,159.6L1340.6,158.9L1347.5,158.2L1354.5,157.5L1361.4,156.9L1368.4,156.3L1375.4,155.7L1382.3,155.1L1389.3,154.5L1396.2,153.9L1403.2,153.3L1410.2,152.8L1417.1,152.2L1424.1,151.6L1431,151.1L1438,150.6" fill="none" stroke="#f40000" stroke-width="2.0" stroke-linejoin="round" stroke-linecap="butt"/>
<path d="M1090,272.4L1096.9,261.6L1103.9,252L1110.9,243.3L1117.8,235.5L1124.8,228.5L1131.7,222.2L1138.7,216.5L1145.7,211.4L1152.6,206.8L1159.6,202.6L1166.5,198.8L1173.5,195.4L1180.5,192.3L1187.4,189.5L1194.4,186.9L1201.3,184.5L1208.3,182.4L1215.3,180.4L1222.2,178.6L1229.2,176.9L1236.2,175.4L1243.1,174L1250.1,172.6L1257,171.4L1264,170.2L1271,169.1L1277.9,168.1L1284.9,167.2L1291.8,166.2L1298.8,165.4L1305.8,164.5L1312.7,163.8L1319.7,163L1326.6,162.3L1333.6,161.6L1340.6,160.9L1347.5,160.2L1354.5,159.6L1361.4,158.9L1368.4,158.3L1375.4,157.7L1382.3,157.1L1389.3,156.6L1396.2,156L1403.2,155.4L1410.2,154.9L1417.1,154.3L1424.1,153.8L1431,153.2L1438,152.7" fill="none" stroke="#f40000" stroke-width="2.0" stroke-linejoin="round" stroke-linecap="butt"/>
<path d="M1090,272.4L1096.9,262.4L1103.9,253.5L1110.9,245.5L1117.8,238.4L1124.8,232L1131.7,226.3L1138.7,221.2L1145.7,216.6L1152.6,212.5L1159.6,208.7L1166.5,205.4L1173.5,202.3L1180.5,199.6L1187.4,197.1L1194.4,194.8L1201.3,192.8L1208.3,190.9L1215.3,189.2L1222.2,187.6L1229.2,186.1L1236.2,184.8L1243.1,183.5L1250.1,182.4L1257,181.3L1264,180.3L1271,179.4L1277.9,178.5L1284.9,177.6L1291.8,176.8L1298.8,176.1L1305.8,175.3L1312.7,174.7L1319.7,174L1326.6,173.3L1333.6,172.7L1340.6,172.1L1347.5,171.5L1354.5,171L1361.4,170.4L1368.4,169.8L1375.4,169.3L1382.3,168.8L1389.3,168.3L1396.2,167.8L1403.2,167.2L1410.2,166.7L1417.1,166.3L1424.1,165.8L1431,165.3L1438,164.8" fill="none" stroke="#f40000" stroke-width="2.0" stroke-linejoin="round" stroke-linecap="butt"/>
<path d="M1090,272.4L1096.9,262.1L1103.9,252.8L1110.9,244.6L1117.8,237.1L1124.8,230.5L1131.7,224.5L1138.7,219.1L1145.7,214.3L1152.6,210L1159.6,206.1L1166.5,202.5L1173.5,199.3L1180.5,196.4L1187.4,193.8L1194.4,191.4L1201.3,189.2L1208.3,187.2L1215.3,185.4L1222.2,183.7L1229.2,182.1L1236.2,180.7L1243.1,179.4L1250.1,178.2L1257,177L1264,175.9L1271,174.9L1277.9,174L1284.9,173.1L1291.8,172.3L1298.8,171.4L1305.8,170.7L1312.7,169.9L1319.7,169.2L1326.6,168.6L1333.6,167.9L1340.6,167.3L1347.5,166.6L1354.5,166L1361.4,165.4L1368.4,164.9L1375.4,164.3L1382.3,163.8L1389.3,163.2L1396.2,162.7L1403.2,162.1L1410.2,161.6L1417.1,161.1L1424.1,160.6L1431,160.1L1438,159.6" fill="none" stroke="#f40000" stroke-width="2.0" stroke-linejoin="round" stroke-linecap="butt"/>
<path d="M1090,272.4L1096.9,263.3L1103.9,255.3L1110.9,248.1L1117.8,241.7L1124.8,236L1131.7,231L1138.7,226.5L1145.7,222.4L1152.6,218.8L1159.6,215.5L1166.5,212.6L1173.5,210L1180.5,207.6L1187.4,205.5L1194.4,203.5L1201.3,201.8L1208.3,200.2L1215.3,198.7L1222.2,197.4L1229.2,196.1L1236.2,195L1243.1,194L1250.1,193L1257,192.1L1264,191.2L1271,190.4L1277.9,189.7L1284.9,188.9L1291.8,188.3L1298.8,187.6L1305.8,187L1312.7,186.4L1319.7,185.8L1326.6,185.2L1333.6,184.7L1340.6,184.2L1347.5,183.7L1354.5,183.2L1361.4,182.7L1368.4,182.2L1375.4,181.7L1382.3,181.3L1389.3,180.8L1396.2,180.3L1403.2,179.9L1410.2,179.5L1417.1,179L1424.1,178.6L1431,178.1L1438,177.7" fill="none" stroke="#f40000" stroke-width="2.0" stroke-linejoin="round" stroke-linecap="butt"/>
<path d="M1090,272.4L1096.9,261.8L1103.9,252.3L1110.9,243.8L1117.8,236.1L1124.8,229.3L1131.7,223.1L1138.7,217.5L1145.7,212.5L1152.6,208L1159.6,203.9L1166.5,200.2L1173.5,196.9L1180.5,193.9L1187.4,191.1L1194.4,188.6L1201.3,186.3L1208.3,184.2L1215.3,182.3L1222.2,180.5L1229.2,178.9L1236.2,177.4L1243.1,176L1250.1,174.7L1257,173.5L1264,172.4L1271,171.4L1277.9,170.4L1284.9,169.4L1291.8,168.5L1298.8,167.7L1305.8,166.9L1312.7,166.1L1319.7,165.4L1326.6,164.7L1333.6,164L1340.6,163.3L1347.5,162.7L1354.5,162L1361.4,161.4L1368.4,160.8L1375.4,160.2L1382.3,159.7L1389.3,159.1L1396.2,158.5L1403.2,158L1410.2,157.5L1417.1,156.9L1424.1,156.4L1431,155.9L1438,155.3" fill="none" stroke="#f40000" stroke-width="2.0" stroke-linejoin="round" stroke-linecap="butt"/>
<path d="M1090,272.4L1096.9,262.4L1103.9,253.5L1110.9,245.5L1117.8,238.4L1124.8,232L1131.7,226.3L1138.7,221.1L1145.7,216.5L1152.6,212.4L1159.6,208.6L1166.5,205.3L1173.5,202.2L1180.5,199.5L1187.4,197L1194.4,194.7L1201.3,192.7L1208.3,190.8L1215.3,189L1222.2,187.5L1229.2,186L1236.2,184.7L1243.1,183.4L1250.1,182.3L1257,181.2L1264,180.2L1271,179.2L1277.9,178.3L1284.9,177.5L1291.8,176.7L1298.8,175.9L1305.8,175.2L1312.7,174.5L1319.7,173.8L1326.6,173.2L1333.6,172.6L1340.6,172L1347.5,171.4L1354.5,170.8L1361.4,170.2L1368.4,169.7L1375.4,169.2L1382.3,168.6L1389.3,168.1L1396.2,167.6L1403.2,167.1L1410.2,166.6L1417.1,166.1L1424.1,165.6L1431,165.1L1438,164.6" fill="none" stroke="#f40000" stroke-width="2.0" stroke-linejoin="round" stroke-linecap="butt"/>
<path d="M1090,272.4L1096.9,263.1L1103.9,254.9L1110.9,247.6L1117.8,241L1124.8,235.2L1131.7,230L1138.7,225.3L1145.7,221.2L1152.6,217.5L1159.6,214.1L1166.5,211.1L1173.5,208.4L1180.5,205.9L1187.4,203.7L1194.4,201.7L1201.3,199.9L1208.3,198.2L1215.3,196.7L1222.2,195.3L1229.2,194.1L1236.2,192.9L1243.1,191.8L1250.1,190.8L1257,189.8L1264,188.9L1271,188.1L1277.9,187.3L1284.9,186.6L1291.8,185.9L1298.8,185.2L1305.8,184.6L1312.7,184L1319.7,183.4L1326.6,182.8L1333.6,182.2L1340.6,181.7L1347.5,181.2L1354.5,180.6L1361.4,180.1L1368.4,179.6L1375.4,179.2L1382.3,178.7L1389.3,178.2L1396.2,177.7L1403.2,177.3L1410.2,176.8L1417.1,176.4L1424.1,175.9L1431,175.5L1438,175" fill="none" stroke="#f40000" stroke-width="2.0" stroke-linejoin="round" stroke-linecap="butt"/>
<path d="M1090,272.4L1096.9,263.7L1103.9,256L1110.9,249.2L1117.8,243.2L1124.8,237.8L1131.7,233L1138.7,228.7L1145.7,224.9L1152.6,221.5L1159.6,218.4L1166.5,215.7L1173.5,213.2L1180.5,211L1187.4,209L1194.4,207.2L1201.3,205.6L1208.3,204.1L1215.3,202.7L1222.2,201.5L1229.2,200.3L1236.2,199.3L1243.1,198.3L1250.1,197.4L1257,196.6L1264,195.8L1271,195L1277.9,194.3L1284.9,193.6L1291.8,193L1298.8,192.4L1305.8,191.8L1312.7,191.3L1319.7,190.7L1326.6,190.2L1333.6,189.7L1340.6,189.2L1347.5,188.7L1354.5,188.2L1361.4,187.8L1368.4,187.3L1375.4,186.9L1382.3,186.4L1389.3,186L1396.2,185.6L1403.2,185.1L1410.2,184.7L1417.1,184.3L1424.1,183.9L1431,183.4L1438,183" fill="none" stroke="#f40000" stroke-width="2.0" stroke-linejoin="round" stroke-linecap="butt"/>
<path d="M1349.8,158.1L1350.6,158.1L1351.3,158L1352.1,157.9L1352.8,157.8L1353.5,157.8L1354.3,157.7L1355,157.6L1355.7,157.6L1356.5,157.5L1357.2,157.4L1357.9,157.4L1358.7,157.3L1359.4,157.2L1360.1,157.1L1360.9,157.1L1361.6,157L1362.3,156.9L1363.1,156.8L1363.8,156.8L1364.5,156.7L1365.3,156.6L1366,156.5L1366.7,156.4L1367.5,156.3L1368.2,156.2L1368.9,156.1L1369.7,155.9L1370.4,155.7L1371.2,155.6L1371.9,155.3L1372.6,155.1L1373.4,154.8L1374.1,154.4L1374.8,154L1375.6,153.5L1376.3,152.9L1377,152.2L1377.8,151.4L1378.5,150.3L1379.2,149.1L1380,147.6L1380.7,145.9L1381.4,143.8L1382.2,141.5L1382.9,138.7L1383.6,135.7L1384.4,132.2L1385.1,128.5L1385.8,124.4L1386.6,120.2L1387.3,115.9L1388,111.5L1388.8,107.3L1389.5,103.2L1390.3,99.4L1391,96L1391.7,92.9L1392.5,90.1L1393.2,87.7L1393.9,85.7L1394.7,83.9L1395.4,82.5L1396.1,81.3L1396.9,80.3L1397.6,79.4L1398.3,78.8L1399.1,78.2L1399.8,77.8L1400.5,77.4L1401.3,77.1L1402,76.9L1402.7,76.7L1403.5,76.5L1404.2,76.4L1404.9,76.3L1405.7,76.2L1406.4,76.2L1407.1,76.1L1407.9,76.1L1408.6,76L1409.4,76L1410.1,76L1410.8,76L1411.6,76L1412.3,75.9L1413,75.9L1413.8,75.9L1414.5,75.9L1415.2,75.9L1416,75.9L1416.7,75.9L1417.4,75.9L1418.2,75.9L1418.9,75.9L1419.6,75.9L1420.4,75.9L1421.1,75.9L1421.8,75.9L1422.6,75.9L1423.3,75.9L1424,75.9L1424.8,75.9L1425.5,75.9L1426.2,75.9L1427,75.9L1427.7,75.9L1428.5,75.9L1429.2,75.9L1429.9,75.9L1430.7,75.9L1431.4,75.9L1432.1,75.9L1432.9,75.9L1433.6,75.9L1434.3,75.9L1435.1,75.9L1435.8,75.9L1436.5,75.9L1437.3,75.9L1438,75.9" fill="none" stroke="#f40000" stroke-width="1.7" stroke-linejoin="round" stroke-linecap="butt"/>
<path d="M1349.8,157.5L1350.6,157.4L1351.3,157.3L1352.1,157.2L1352.8,157.2L1353.5,157.1L1354.3,157L1355,157L1355.7,156.9L1356.5,156.8L1357.2,156.8L1357.9,156.7L1358.7,156.6L1359.4,156.6L1360.1,156.5L1360.9,156.4L1361.6,156.3L1362.3,156.3L1363.1,156.2L1363.8,156.1L1364.5,156.1L1365.3,156L1366,155.9L1366.7,155.8L1367.5,155.8L1368.2,155.7L1368.9,155.6L1369.7,155.5L1370.4,155.4L1371.2,155.3L1371.9,155.2L1372.6,155.1L1373.4,155L1374.1,154.8L1374.8,154.6L1375.6,154.4L1376.3,154.2L1377,154L1377.8,153.6L1378.5,153.3L1379.2,152.8L1380,152.3L1380.7,151.7L1381.4,150.9L1382.2,150L1382.9,148.9L1383.6,147.5L1384.4,145.9L1385.1,144L1385.8,141.8L1386.6,139.2L1387.3,136.2L1388,132.7L1388.8,128.9L1389.5,124.6L1390.3,119.9L1391,115L1391.7,109.9L1392.5,104.8L1393.2,99.7L1393.9,94.7L1394.7,90.1L1395.4,85.8L1396.1,81.9L1396.9,78.4L1397.6,75.4L1398.3,72.7L1399.1,70.5L1399.8,68.6L1400.5,67L1401.3,65.7L1402,64.7L1402.7,63.8L1403.5,63L1404.2,62.5L1404.9,62L1405.7,61.6L1406.4,61.3L1407.1,61L1407.9,60.8L1408.6,60.7L1409.4,60.5L1410.1,60.4L1410.8,60.3L1411.6,60.3L1412.3,60.2L1413,60.2L1413.8,60.1L1414.5,60.1L1415.2,60.1L1416,60.1L1416.7,60L1417.4,60L1418.2,60L1418.9,60L1419.6,60L1420.4,60L1421.1,60L1421.8,60L1422.6,60L1423.3,60L1424,60L1424.8,60L1425.5,60L1426.2,60L1427,60L1427.7,60L1428.5,60L1429.2,60L1429.9,60L1430.7,60L1431.4,60L1432.1,60L1432.9,60L1433.6,60L1434.3,60L1435.1,60L1435.8,60L1436.5,60L1437.3,60L1438,60" fill="none" stroke="#f40000" stroke-width="1.7" stroke-linejoin="round" stroke-linecap="butt"/>
<path d="M1349.8,159.1L1350.6,159.1L1351.3,159L1352.1,158.9L1352.8,158.9L1353.5,158.8L1354.3,158.7L1355,158.7L1355.7,158.6L1356.5,158.5L1357.2,158.5L1357.9,158.4L1358.7,158.3L1359.4,158.3L1360.1,158.2L1360.9,158.1L1361.6,158.1L1362.3,158L1363.1,157.9L1363.8,157.9L1364.5,157.8L1365.3,157.7L1366,157.7L1366.7,157.6L1367.5,157.5L1368.2,157.5L1368.9,157.4L1369.7,157.3L1370.4,157.3L1371.2,157.2L1371.9,157.1L1372.6,157.1L1373.4,157L1374.1,156.9L1374.8,156.9L1375.6,156.8L1376.3,156.7L1377,156.7L1377.8,156.6L1378.5,156.5L1379.2,156.4L1380,156.3L1380.7,156.2L1381.4,156.1L1382.2,156L1382.9,155.9L1383.6,155.7L1384.4,155.6L1385.1,155.4L1385.8,155.2L1386.6,155L1387.3,154.7L1388,154.3L1388.8,153.9L1389.5,153.4L1390.3,152.8L1391,152.1L1391.7,151.3L1392.5,150.3L1393.2,149.1L1393.9,147.6L1394.7,145.9L1395.4,143.9L1396.1,141.6L1396.9,138.9L1397.6,135.9L1398.3,132.6L1399.1,128.9L1399.8,125L1400.5,120.8L1401.3,116.6L1402,112.4L1402.7,108.3L1403.5,104.3L1404.2,100.6L1404.9,97.3L1405.7,94.3L1406.4,91.6L1407.1,89.3L1407.9,87.3L1408.6,85.6L1409.4,84.2L1410.1,83.1L1410.8,82.1L1411.6,81.3L1412.3,80.6L1413,80.1L1413.8,79.7L1414.5,79.3L1415.2,79L1416,78.8L1416.7,78.6L1417.4,78.5L1418.2,78.4L1418.9,78.3L1419.6,78.2L1420.4,78.1L1421.1,78.1L1421.8,78L1422.6,78L1423.3,78L1424,78L1424.8,77.9L1425.5,77.9L1426.2,77.9L1427,77.9L1427.7,77.9L1428.5,77.9L1429.2,77.9L1429.9,77.9L1430.7,77.9L1431.4,77.9L1432.1,77.9L1432.9,77.9L1433.6,77.9L1434.3,77.9L1435.1,77.9L1435.8,77.9L1436.5,77.9L1437.3,77.9L1438,77.9" fill="none" stroke="#f40000" stroke-width="1.7" stroke-linejoin="round" stroke-linecap="butt"/>
<path d="M1349.8,159.5L1350.6,159.4L1351.3,159.3L1352.1,159.3L1352.8,159.2L1353.5,159.1L1354.3,159.1L1355,159L1355.7,158.9L1356.5,158.9L1357.2,158.8L1357.9,158.7L1358.7,158.7L1359.4,158.6L1360.1,158.5L1360.9,158.5L1361.6,158.4L1362.3,158.3L1363.1,158.3L1363.8,158.2L1364.5,158.1L1365.3,158.1L1366,158L1366.7,157.9L1367.5,157.9L1368.2,157.8L1368.9,157.7L1369.7,157.7L1370.4,157.6L1371.2,157.6L1371.9,157.5L1372.6,157.4L1373.4,157.4L1374.1,157.3L1374.8,157.2L1375.6,157.2L1376.3,157.1L1377,157.1L1377.8,157L1378.5,156.9L1379.2,156.9L1380,156.8L1380.7,156.7L1381.4,156.7L1382.2,156.6L1382.9,156.5L1383.6,156.5L1384.4,156.4L1385.1,156.4L1385.8,156.3L1386.6,156.2L1387.3,156.2L1388,156.1L1388.8,156L1389.5,156L1390.3,155.9L1391,155.8L1391.7,155.8L1392.5,155.7L1393.2,155.6L1393.9,155.6L1394.7,155.5L1395.4,155.4L1396.1,155.3L1396.9,155.2L1397.6,155.1L1398.3,155L1399.1,154.9L1399.8,154.7L1400.5,154.5L1401.3,154.4L1402,154.1L1402.7,153.9L1403.5,153.6L1404.2,153.2L1404.9,152.7L1405.7,152.2L1406.4,151.6L1407.1,150.8L1407.9,149.9L1408.6,148.8L1409.4,147.5L1410.1,145.9L1410.8,144.1L1411.6,142L1412.3,139.6L1413,136.8L1413.8,133.8L1414.5,130.4L1415.2,126.8L1416,123L1416.7,119.1L1417.4,115.2L1418.2,111.3L1418.9,107.7L1419.6,104.2L1420.4,101.1L1421.1,98.3L1421.8,95.8L1422.6,93.6L1423.3,91.7L1424,90.1L1424.8,88.8L1425.5,87.7L1426.2,86.8L1427,86L1427.7,85.4L1428.5,84.9L1429.2,84.5L1429.9,84.2L1430.7,83.9L1431.4,83.7L1432.1,83.5L1432.9,83.4L1433.6,83.2L1434.3,83.2L1435.1,83.1L1435.8,83L1436.5,83L1437.3,82.9L1438,82.9" fill="none" stroke="#f40000" stroke-width="1.7" stroke-linejoin="round" stroke-linecap="butt"/>
<path d="M1349.8,160.1L1350.6,160.1L1351.3,160L1352.1,159.9L1352.8,159.9L1353.5,159.8L1354.3,159.7L1355,159.7L1355.7,159.6L1356.5,159.5L1357.2,159.5L1357.9,159.4L1358.7,159.3L1359.4,159.3L1360.1,159.2L1360.9,159.1L1361.6,159.1L1362.3,159L1363.1,159L1363.8,158.9L1364.5,158.8L1365.3,158.8L1366,158.7L1366.7,158.6L1367.5,158.6L1368.2,158.5L1368.9,158.4L1369.7,158.4L1370.4,158.3L1371.2,158.2L1371.9,158.2L1372.6,158.1L1373.4,158.1L1374.1,158L1374.8,157.9L1375.6,157.9L1376.3,157.8L1377,157.7L1377.8,157.7L1378.5,157.6L1379.2,157.6L1380,157.5L1380.7,157.4L1381.4,157.4L1382.2,157.3L1382.9,157.2L1383.6,157.2L1384.4,157.1L1385.1,157.1L1385.8,157L1386.6,156.9L1387.3,156.9L1388,156.8L1388.8,156.8L1389.5,156.7L1390.3,156.6L1391,156.6L1391.7,156.5L1392.5,156.5L1393.2,156.4L1393.9,156.3L1394.7,156.3L1395.4,156.2L1396.1,156.2L1396.9,156.1L1397.6,156L1398.3,156L1399.1,155.9L1399.8,155.9L1400.5,155.8L1401.3,155.7L1402,155.7L1402.7,155.6L1403.5,155.6L1404.2,155.5L1404.9,155.4L1405.7,155.4L1406.4,155.3L1407.1,155.2L1407.9,155.2L1408.6,155.1L1409.4,155L1410.1,154.9L1410.8,154.8L1411.6,154.7L1412.3,154.6L1413,154.5L1413.8,154.3L1414.5,154.1L1415.2,153.9L1416,153.6L1416.7,153.3L1417.4,152.8L1418.2,152.3L1418.9,151.6L1419.6,150.8L1420.4,149.8L1421.1,148.5L1421.8,146.9L1422.6,145L1423.3,142.6L1424,139.8L1424.8,136.5L1425.5,132.7L1426.2,128.4L1427,123.8L1427.7,118.8L1428.5,113.7L1429.2,108.7L1429.9,103.9L1430.7,99.4L1431.4,95.3L1432.1,91.8L1432.9,88.7L1433.6,86.2L1434.3,84.1L1435.1,82.3L1435.8,81L1436.5,79.9L1437.3,79L1438,78.3" fill="none" stroke="#f40000" stroke-width="1.7" stroke-linejoin="round" stroke-linecap="butt"/>
<path d="M1385.1,153.9L1386.4,153.8L1387.8,153.7L1389.1,153.6L1390.4,153.5L1391.7,153.4L1393,153.3L1394.4,153.2L1395.7,153L1397,152.9L1398.3,152.8L1399.7,152.7L1401,152.6L1402.3,152.5L1403.6,152.4L1404.9,152.3L1406.3,152.2L1407.6,152L1408.9,151.9L1410.2,151.8L1411.6,151.7L1412.9,151.5L1414.2,151.4L1415.5,151.2L1416.8,151L1418.2,150.7L1419.5,150.4L1420.8,150L1422.1,149.5L1423.5,148.8L1424.8,148.1L1426.1,147.1L1427.4,146L1428.7,144.8L1430.1,143.6L1431.4,142.5L1432.7,141.4L1434,140.5L1435.4,139.8L1436.7,139.2L1438,138.7" fill="none" stroke="#f40000" stroke-width="1.7" stroke-linejoin="round" stroke-linecap="butt"/>
<path d="M1385.1,154.6L1386.4,154.5L1387.8,154.4L1389.1,154.3L1390.4,154.2L1391.7,154.1L1393,154L1394.4,153.9L1395.7,153.7L1397,153.6L1398.3,153.5L1399.7,153.4L1401,153.3L1402.3,153.2L1403.6,153.1L1404.9,153L1406.3,152.9L1407.6,152.8L1408.9,152.7L1410.2,152.6L1411.6,152.4L1412.9,152.3L1414.2,152.2L1415.5,152.1L1416.8,152L1418.2,151.9L1419.5,151.8L1420.8,151.6L1422.1,151.5L1423.5,151.3L1424.8,151L1426.1,150.7L1427.4,150.3L1428.7,149.7L1430.1,148.9L1431.4,147.9L1432.7,146.8L1434,145.8L1435.4,144.8L1436.7,144L1438,143.4" fill="none" stroke="#f40000" stroke-width="1.7" stroke-linejoin="round" stroke-linecap="butt"/>
<path d="M1575.2,257.7L1610.5,257.7L1645.7,257.7L1681,257.7L1716.3,257.7L1751.5,257.7L1786.8,257.7L1822.1,257.7L1857.4,257.7L1892.6,257.7L1927.9,257.7" fill="none" stroke="#f40000" stroke-width="2.0" stroke-linejoin="round" stroke-linecap="butt"/>
<path d="M1575.2,252.2L1577.7,252.3L1580.2,252.3L1582.7,252.3L1585.3,252.4L1587.8,252.4L1590.3,252.4L1592.8,252.4L1595.3,252.4L1597.9,252.3L1600.4,252.3L1602.9,252.3L1605.4,252.2L1607.9,252.2L1610.5,252.1L1613,252.1L1615.5,252L1618,252L1620.5,252L1623.1,252L1625.6,252L1628.1,252L1630.6,252.1L1633.1,252.2L1635.7,252.3L1638.2,252.4L1640.7,252.5L1643.2,252.6L1645.7,252.8L1648.2,252.9L1650.8,253.1L1653.3,253.3L1655.8,253.4L1658.3,253.6L1660.8,253.8L1663.4,253.9L1665.9,254.1L1668.4,254.2L1670.9,254.3L1673.4,254.4L1676,254.5L1678.5,254.6L1681,254.6L1683.5,254.7L1686,254.7L1688.6,254.7L1691.1,254.7L1693.6,254.7L1696.1,254.7L1698.6,254.7L1701.2,254.7L1703.7,254.7L1706.2,254.6L1708.7,254.6L1711.2,254.6L1713.8,254.5L1716.3,254.5L1718.8,254.4L1721.3,254.3L1723.8,254.1L1726.4,253.9L1728.9,253.7L1731.4,253.4L1733.9,253.1L1736.4,252.7L1738.9,252.3L1741.5,251.8L1744,251.3L1746.5,250.8L1749,250.2L1751.5,249.7L1754.1,249.2L1756.6,248.6L1759.1,248.2L1761.6,247.8L1764.1,247.5L1766.7,247.3L1769.2,247.1L1771.7,247.1L1774.2,247.2L1776.7,247.5L1779.3,247.8L1781.8,248.2L1784.3,248.7L1786.8,249.3L1789.3,250L1791.9,250.7L1794.4,251.4L1796.9,252.1L1799.4,252.9L1801.9,253.6L1804.5,254.2L1807,254.8L1809.5,255.4L1812,255.8L1814.5,256.2L1817,256.5L1819.6,256.6L1822.1,256.7L1824.6,256.6L1827.1,256.4L1829.6,256L1832.2,255.5L1834.7,254.7L1837.2,253.8L1839.7,252.7L1842.2,251.6L1844.8,250.4L1847.3,249.2L1849.8,248.3L1852.3,247.5L1854.8,247.1L1857.4,247.1L1859.9,247.4L1862.4,248L1864.9,249L1867.4,250.1L1870,251.3L1872.5,252.5L1875,253.6L1877.5,254.6L1880,255.4L1882.6,256.1L1885.1,256.6L1887.6,257L1890.1,257.2L1892.6,257.4L1895.2,257.5L1897.7,257.6L1900.2,257.6L1902.7,257.7L1905.2,257.7L1907.7,257.7L1910.3,257.7L1912.8,257.7L1915.3,257.7L1917.8,257.7L1920.3,257.7L1922.9,257.7L1925.4,257.7L1927.9,257.7" fill="none" stroke="#f40000" stroke-width="2.0" stroke-linejoin="round" stroke-linecap="butt"/>
<path d="M1575.2,251.6L1577.7,251.7L1580.2,251.7L1582.7,251.8L1585.3,251.8L1587.8,251.8L1590.3,251.8L1592.8,251.8L1595.3,251.8L1597.9,251.8L1600.4,251.7L1602.9,251.7L1605.4,251.6L1607.9,251.6L1610.5,251.5L1613,251.5L1615.5,251.5L1618,251.4L1620.5,251.4L1623.1,251.4L1625.6,251.4L1628.1,251.5L1630.6,251.5L1633.1,251.6L1635.7,251.7L1638.2,251.8L1640.7,251.9L1643.2,252L1645.7,252.2L1648.2,252.4L1650.8,252.5L1653.3,252.7L1655.8,252.9L1658.3,253L1660.8,253.2L1663.4,253.3L1665.9,253.5L1668.4,253.6L1670.9,253.7L1673.4,253.8L1676,253.9L1678.5,254L1681,254.1L1683.5,254.1L1686,254.2L1688.6,254.2L1691.1,254.2L1693.6,254.2L1696.1,254.2L1698.6,254.2L1701.2,254.2L1703.7,254.2L1706.2,254.2L1708.7,254.2L1711.2,254.2L1713.8,254.2L1716.3,254.2L1718.8,254.2L1721.3,254.3L1723.8,254.3L1726.4,254.2L1728.9,254.2L1731.4,254.2L1733.9,254.1L1736.4,254L1738.9,253.9L1741.5,253.7L1744,253.5L1746.5,253.3L1749,253.1L1751.5,252.9L1754.1,252.7L1756.6,252.4L1759.1,252.2L1761.6,252L1764.1,251.9L1766.7,251.7L1769.2,251.6L1771.7,251.5L1774.2,251.5L1776.7,251.6L1779.3,251.7L1781.8,251.8L1784.3,252L1786.8,252.2L1789.3,252.5L1791.9,252.8L1794.4,253.2L1796.9,253.6L1799.4,254L1801.9,254.4L1804.5,254.8L1807,255.2L1809.5,255.6L1812,256L1814.5,256.3L1817,256.5L1819.6,256.7L1822.1,256.8L1824.6,256.9L1827.1,256.9L1829.6,256.8L1832.2,256.6L1834.7,256.3L1837.2,255.9L1839.7,255.5L1842.2,255L1844.8,254.5L1847.3,254L1849.8,253.6L1852.3,253.3L1854.8,253.1L1857.4,253.1L1859.9,253.3L1862.4,253.6L1864.9,254L1867.4,254.4L1870,254.9L1872.5,255.5L1875,255.9L1877.5,256.4L1880,256.7L1882.6,257L1885.1,257.2L1887.6,257.4L1890.1,257.5L1892.6,257.6L1895.2,257.6L1897.7,257.7L1900.2,257.7L1902.7,257.7L1905.2,257.7L1907.7,257.7L1910.3,257.7L1912.8,257.7L1915.3,257.7L1917.8,257.7L1920.3,257.7L1922.9,257.7L1925.4,257.7L1927.9,257.7" fill="none" stroke="#f40000" stroke-width="2.0" stroke-linejoin="round" stroke-linecap="butt"/>
<path d="M1575.2,250.3L1577.7,250.3L1580.2,250.3L1582.7,250.3L1585.3,250.4L1587.8,250.4L1590.3,250.5L1592.8,250.6L1595.3,250.7L1597.9,250.9L1600.4,251L1602.9,251.2L1605.4,251.3L1607.9,251.5L1610.5,251.7L1613,251.8L1615.5,252L1618,252.2L1620.5,252.3L1623.1,252.5L1625.6,252.6L1628.1,252.7L1630.6,252.8L1633.1,252.9L1635.7,252.9L1638.2,253L1640.7,253L1643.2,253L1645.7,253L1648.2,253L1650.8,253L1653.3,252.9L1655.8,252.9L1658.3,252.9L1660.8,252.9L1663.4,252.8L1665.9,252.8L1668.4,252.8L1670.9,252.8L1673.4,252.8L1676,252.9L1678.5,252.9L1681,253L1683.5,253L1686,253.1L1688.6,253.1L1691.1,253.2L1693.6,253.3L1696.1,253.3L1698.6,253.4L1701.2,253.4L1703.7,253.4L1706.2,253.4L1708.7,253.3L1711.2,253.3L1713.8,253.2L1716.3,253.1L1718.8,252.9L1721.3,252.7L1723.8,252.4L1726.4,252.1L1728.9,251.7L1731.4,251.3L1733.9,250.8L1736.4,250.3L1738.9,249.8L1741.5,249.2L1744,248.7L1746.5,248.1L1749,247.5L1751.5,247L1754.1,246.5L1756.6,246.1L1759.1,245.8L1761.6,245.6L1764.1,245.4L1766.7,245.4L1769.2,245.5L1771.7,245.8L1774.2,246.1L1776.7,246.6L1779.3,247.1L1781.8,247.8L1784.3,248.5L1786.8,249.2L1789.3,250L1791.9,250.8L1794.4,251.6L1796.9,252.4L1799.4,253.1L1801.9,253.8L1804.5,254.4L1807,255L1809.5,255.5L1812,255.8L1814.5,256.2L1817,256.4L1819.6,256.6L1822.1,256.6L1824.6,256.5L1827.1,256.3L1829.6,256L1832.2,255.4L1834.7,254.7L1837.2,253.8L1839.7,252.7L1842.2,251.5L1844.8,250.4L1847.3,249.2L1849.8,248.2L1852.3,247.5L1854.8,247.1L1857.4,247.1L1859.9,247.4L1862.4,248L1864.9,249L1867.4,250.1L1870,251.3L1872.5,252.5L1875,253.6L1877.5,254.6L1880,255.4L1882.6,256.1L1885.1,256.6L1887.6,257L1890.1,257.2L1892.6,257.4L1895.2,257.5L1897.7,257.6L1900.2,257.6L1902.7,257.7L1905.2,257.7L1907.7,257.7L1910.3,257.7L1912.8,257.7L1915.3,257.7L1917.8,257.7L1920.3,257.7L1922.9,257.7L1925.4,257.7L1927.9,257.7" fill="none" stroke="#f40000" stroke-width="2.0" stroke-linejoin="round" stroke-linecap="butt"/>
<path d="M1575.2,250L1577.7,249.8L1580.2,249.7L1582.7,249.6L1585.3,249.5L1587.8,249.4L1590.3,249.3L1592.8,249.3L1595.3,249.2L1597.9,249.2L1600.4,249.2L1602.9,249.2L1605.4,249.2L1607.9,249.3L1610.5,249.4L1613,249.5L1615.5,249.6L1618,249.8L1620.5,249.9L1623.1,250.1L1625.6,250.3L1628.1,250.5L1630.6,250.7L1633.1,250.8L1635.7,251L1638.2,251.2L1640.7,251.4L1643.2,251.5L1645.7,251.7L1648.2,251.8L1650.8,251.9L1653.3,252L1655.8,252.2L1658.3,252.2L1660.8,252.3L1663.4,252.4L1665.9,252.5L1668.4,252.6L1670.9,252.7L1673.4,252.7L1676,252.8L1678.5,252.9L1681,253L1683.5,253.1L1686,253.2L1688.6,253.3L1691.1,253.5L1693.6,253.6L1696.1,253.7L1698.6,253.8L1701.2,253.9L1703.7,254L1706.2,254.1L1708.7,254.1L1711.2,254.2L1713.8,254.2L1716.3,254.2L1718.8,254.2L1721.3,254.1L1723.8,254L1726.4,253.9L1728.9,253.7L1731.4,253.5L1733.9,253.3L1736.4,253L1738.9,252.7L1741.5,252.3L1744,251.9L1746.5,251.6L1749,251.2L1751.5,250.8L1754.1,250.5L1756.6,250.2L1759.1,249.9L1761.6,249.6L1764.1,249.5L1766.7,249.4L1769.2,249.3L1771.7,249.3L1774.2,249.4L1776.7,249.6L1779.3,249.8L1781.8,250.1L1784.3,250.4L1786.8,250.8L1789.3,251.2L1791.9,251.7L1794.4,252.2L1796.9,252.7L1799.4,253.2L1801.9,253.7L1804.5,254.2L1807,254.7L1809.5,255.1L1812,255.5L1814.5,255.9L1817,256.2L1819.6,256.4L1822.1,256.6L1824.6,256.7L1827.1,256.7L1829.6,256.6L1832.2,256.5L1834.7,256.2L1837.2,255.9L1839.7,255.4L1842.2,255L1844.8,254.5L1847.3,254L1849.8,253.6L1852.3,253.3L1854.8,253.1L1857.4,253.1L1859.9,253.3L1862.4,253.6L1864.9,254L1867.4,254.4L1870,254.9L1872.5,255.5L1875,255.9L1877.5,256.4L1880,256.7L1882.6,257L1885.1,257.2L1887.6,257.4L1890.1,257.5L1892.6,257.6L1895.2,257.6L1897.7,257.7L1900.2,257.7L1902.7,257.7L1905.2,257.7L1907.7,257.7L1910.3,257.7L1912.8,257.7L1915.3,257.7L1917.8,257.7L1920.3,257.7L1922.9,257.7L1925.4,257.7L1927.9,257.7" fill="none" stroke="#f40000" stroke-width="2.0" stroke-linejoin="round" stroke-linecap="butt"/>
<path d="M1575.2,249.1L1577.7,249.1L1580.2,249.1L1582.7,249.1L1585.3,249.2L1587.8,249.2L1590.3,249.2L1592.8,249.3L1595.3,249.4L1597.9,249.4L1600.4,249.5L1602.9,249.6L1605.4,249.8L1607.9,249.9L1610.5,250.1L1613,250.2L1615.5,250.4L1618,250.6L1620.5,250.8L1623.1,251L1625.6,251.2L1628.1,251.4L1630.6,251.6L1633.1,251.7L1635.7,251.9L1638.2,252L1640.7,252.2L1643.2,252.3L1645.7,252.4L1648.2,252.4L1650.8,252.5L1653.3,252.5L1655.8,252.5L1658.3,252.5L1660.8,252.5L1663.4,252.5L1665.9,252.4L1668.4,252.4L1670.9,252.3L1673.4,252.3L1676,252.2L1678.5,252.2L1681,252.2L1683.5,252.1L1686,252.1L1688.6,252.1L1691.1,252.1L1693.6,252.1L1696.1,252.1L1698.6,252.1L1701.2,252.1L1703.7,252.1L1706.2,252.1L1708.7,252L1711.2,252L1713.8,252L1716.3,251.9L1718.8,251.9L1721.3,251.7L1723.8,251.6L1726.4,251.4L1728.9,251.2L1731.4,250.9L1733.9,250.6L1736.4,250.2L1738.9,249.8L1741.5,249.4L1744,249L1746.5,248.5L1749,248.1L1751.5,247.6L1754.1,247.2L1756.6,246.9L1759.1,246.6L1761.6,246.4L1764.1,246.3L1766.7,246.2L1769.2,246.3L1771.7,246.5L1774.2,246.7L1776.7,247.1L1779.3,247.5L1781.8,248.1L1784.3,248.7L1786.8,249.3L1789.3,250L1791.9,250.8L1794.4,251.5L1796.9,252.2L1799.4,252.9L1801.9,253.6L1804.5,254.2L1807,254.8L1809.5,255.3L1812,255.7L1814.5,256.1L1817,256.3L1819.6,256.5L1822.1,256.6L1824.6,256.6L1827.1,256.5L1829.6,256.3L1832.2,255.9L1834.7,255.4L1837.2,254.8L1839.7,254.1L1842.2,253.3L1844.8,252.4L1847.3,251.6L1849.8,250.9L1852.3,250.4L1854.8,250.1L1857.4,250.1L1859.9,250.3L1862.4,250.8L1864.9,251.5L1867.4,252.3L1870,253.1L1872.5,254L1875,254.8L1877.5,255.5L1880,256.1L1882.6,256.5L1885.1,256.9L1887.6,257.2L1890.1,257.4L1892.6,257.5L1895.2,257.6L1897.7,257.6L1900.2,257.7L1902.7,257.7L1905.2,257.7L1907.7,257.7L1910.3,257.7L1912.8,257.7L1915.3,257.7L1917.8,257.7L1920.3,257.7L1922.9,257.7L1925.4,257.7L1927.9,257.7" fill="none" stroke="#f40000" stroke-width="2.0" stroke-linejoin="round" stroke-linecap="butt"/>
<path d="M1575.2,248.6L1577.7,248.6L1580.2,248.6L1582.7,248.6L1585.3,248.6L1587.8,248.6L1590.3,248.7L1592.8,248.8L1595.3,248.9L1597.9,249L1600.4,249.1L1602.9,249.2L1605.4,249.4L1607.9,249.6L1610.5,249.7L1613,249.9L1615.5,250.1L1618,250.3L1620.5,250.5L1623.1,250.6L1625.6,250.8L1628.1,251L1630.6,251.1L1633.1,251.2L1635.7,251.3L1638.2,251.4L1640.7,251.5L1643.2,251.6L1645.7,251.6L1648.2,251.6L1650.8,251.6L1653.3,251.6L1655.8,251.6L1658.3,251.6L1660.8,251.5L1663.4,251.5L1665.9,251.4L1668.4,251.4L1670.9,251.4L1673.4,251.4L1676,251.3L1678.5,251.3L1681,251.3L1683.5,251.4L1686,251.4L1688.6,251.4L1691.1,251.5L1693.6,251.5L1696.1,251.5L1698.6,251.6L1701.2,251.6L1703.7,251.7L1706.2,251.7L1708.7,251.7L1711.2,251.8L1713.8,251.8L1716.3,251.8L1718.8,251.8L1721.3,251.7L1723.8,251.7L1726.4,251.6L1728.9,251.5L1731.4,251.4L1733.9,251.3L1736.4,251.2L1738.9,251L1741.5,250.9L1744,250.8L1746.5,250.6L1749,250.5L1751.5,250.4L1754.1,250.3L1756.6,250.2L1759.1,250.2L1761.6,250.2L1764.1,250.2L1766.7,250.3L1769.2,250.4L1771.7,250.6L1774.2,250.8L1776.7,251L1779.3,251.2L1781.8,251.5L1784.3,251.8L1786.8,252.2L1789.3,252.5L1791.9,252.9L1794.4,253.3L1796.9,253.6L1799.4,254L1801.9,254.4L1804.5,254.7L1807,255.1L1809.5,255.4L1812,255.8L1814.5,256L1817,256.3L1819.6,256.5L1822.1,256.7L1824.6,256.8L1827.1,256.9L1829.6,256.9L1832.2,256.9L1834.7,256.8L1837.2,256.7L1839.7,256.5L1842.2,256.3L1844.8,256L1847.3,255.8L1849.8,255.6L1852.3,255.5L1854.8,255.4L1857.4,255.4L1859.9,255.5L1862.4,255.6L1864.9,255.8L1867.4,256.1L1870,256.3L1872.5,256.6L1875,256.8L1877.5,257L1880,257.2L1882.6,257.3L1885.1,257.5L1887.6,257.5L1890.1,257.6L1892.6,257.6L1895.2,257.7L1897.7,257.7L1900.2,257.7L1902.7,257.7L1905.2,257.7L1907.7,257.7L1910.3,257.7L1912.8,257.7L1915.3,257.7L1917.8,257.7L1920.3,257.7L1922.9,257.7L1925.4,257.7L1927.9,257.7" fill="none" stroke="#f40000" stroke-width="2.0" stroke-linejoin="round" stroke-linecap="butt"/>
<path d="M1575.2,248.5L1577.7,248.4L1580.2,248.3L1582.7,248.2L1585.3,248.1L1587.8,248L1590.3,247.9L1592.8,247.8L1595.3,247.8L1597.9,247.7L1600.4,247.7L1602.9,247.6L1605.4,247.7L1607.9,247.7L1610.5,247.7L1613,247.8L1615.5,247.9L1618,248L1620.5,248.1L1623.1,248.3L1625.6,248.4L1628.1,248.6L1630.6,248.8L1633.1,249L1635.7,249.2L1638.2,249.3L1640.7,249.5L1643.2,249.7L1645.7,249.9L1648.2,250L1650.8,250.2L1653.3,250.3L1655.8,250.4L1658.3,250.5L1660.8,250.6L1663.4,250.7L1665.9,250.8L1668.4,250.9L1670.9,251L1673.4,251L1676,251.1L1678.5,251.2L1681,251.2L1683.5,251.3L1686,251.4L1688.6,251.5L1691.1,251.6L1693.6,251.6L1696.1,251.7L1698.6,251.8L1701.2,251.9L1703.7,251.9L1706.2,252L1708.7,252L1711.2,252.1L1713.8,252.1L1716.3,252L1718.8,251.9L1721.3,251.8L1723.8,251.6L1726.4,251.3L1728.9,251L1731.4,250.6L1733.9,250.1L1736.4,249.6L1738.9,249L1741.5,248.4L1744,247.7L1746.5,247L1749,246.3L1751.5,245.6L1754.1,245L1756.6,244.4L1759.1,243.8L1761.6,243.4L1764.1,243.1L1766.7,242.8L1769.2,242.8L1771.7,242.8L1774.2,243L1776.7,243.3L1779.3,243.8L1781.8,244.3L1784.3,245L1786.8,245.8L1789.3,246.6L1791.9,247.5L1794.4,248.5L1796.9,249.4L1799.4,250.4L1801.9,251.3L1804.5,252.2L1807,253L1809.5,253.8L1812,254.4L1814.5,255L1817,255.5L1819.6,255.8L1822.1,256L1824.6,256.1L1827.1,256L1829.6,255.7L1832.2,255.2L1834.7,254.5L1837.2,253.6L1839.7,252.6L1842.2,251.5L1844.8,250.3L1847.3,249.2L1849.8,248.2L1852.3,247.5L1854.8,247.1L1857.4,247L1859.9,247.4L1862.4,248L1864.9,249L1867.4,250.1L1870,251.3L1872.5,252.5L1875,253.6L1877.5,254.6L1880,255.4L1882.6,256.1L1885.1,256.6L1887.6,257L1890.1,257.2L1892.6,257.4L1895.2,257.5L1897.7,257.6L1900.2,257.6L1902.7,257.7L1905.2,257.7L1907.7,257.7L1910.3,257.7L1912.8,257.7L1915.3,257.7L1917.8,257.7L1920.3,257.7L1922.9,257.7L1925.4,257.7L1927.9,257.7" fill="none" stroke="#f40000" stroke-width="2.0" stroke-linejoin="round" stroke-linecap="butt"/>
<path d="M1575.2,246.7L1577.7,246.8L1580.2,246.9L1582.7,247L1585.3,247.1L1587.8,247.2L1590.3,247.3L1592.8,247.4L1595.3,247.5L1597.9,247.6L1600.4,247.7L1602.9,247.8L1605.4,247.9L1607.9,248L1610.5,248L1613,248.1L1615.5,248.2L1618,248.3L1620.5,248.4L1623.1,248.5L1625.6,248.7L1628.1,248.8L1630.6,249L1633.1,249.1L1635.7,249.3L1638.2,249.5L1640.7,249.7L1643.2,249.9L1645.7,250.1L1648.2,250.3L1650.8,250.5L1653.3,250.7L1655.8,250.9L1658.3,251.1L1660.8,251.3L1663.4,251.4L1665.9,251.5L1668.4,251.6L1670.9,251.7L1673.4,251.8L1676,251.8L1678.5,251.8L1681,251.8L1683.5,251.8L1686,251.7L1688.6,251.7L1691.1,251.6L1693.6,251.5L1696.1,251.3L1698.6,251.2L1701.2,251.1L1703.7,250.9L1706.2,250.8L1708.7,250.7L1711.2,250.5L1713.8,250.4L1716.3,250.3L1718.8,250.2L1721.3,250.1L1723.8,249.9L1726.4,249.8L1728.9,249.7L1731.4,249.5L1733.9,249.4L1736.4,249.2L1738.9,249L1741.5,248.8L1744,248.6L1746.5,248.4L1749,248.2L1751.5,248L1754.1,247.7L1756.6,247.5L1759.1,247.4L1761.6,247.2L1764.1,247.1L1766.7,247L1769.2,247L1771.7,247L1774.2,247.1L1776.7,247.3L1779.3,247.5L1781.8,247.8L1784.3,248.2L1786.8,248.6L1789.3,249.1L1791.9,249.6L1794.4,250.2L1796.9,250.8L1799.4,251.5L1801.9,252.2L1804.5,252.9L1807,253.6L1809.5,254.2L1812,254.8L1814.5,255.3L1817,255.8L1819.6,256.1L1822.1,256.4L1824.6,256.5L1827.1,256.6L1829.6,256.6L1832.2,256.4L1834.7,256.2L1837.2,255.8L1839.7,255.4L1842.2,255L1844.8,254.5L1847.3,254L1849.8,253.6L1852.3,253.3L1854.8,253.1L1857.4,253.1L1859.9,253.3L1862.4,253.5L1864.9,253.9L1867.4,254.4L1870,254.9L1872.5,255.5L1875,255.9L1877.5,256.4L1880,256.7L1882.6,257L1885.1,257.2L1887.6,257.4L1890.1,257.5L1892.6,257.6L1895.2,257.6L1897.7,257.7L1900.2,257.7L1902.7,257.7L1905.2,257.7L1907.7,257.7L1910.3,257.7L1912.8,257.7L1915.3,257.7L1917.8,257.7L1920.3,257.7L1922.9,257.7L1925.4,257.7L1927.9,257.7" fill="none" stroke="#f40000" stroke-width="2.0" stroke-linejoin="round" stroke-linecap="butt"/>
<path d="M1575.2,247.2L1577.7,247.1L1580.2,246.9L1582.7,246.8L1585.3,246.7L1587.8,246.6L1590.3,246.5L1592.8,246.5L1595.3,246.4L1597.9,246.4L1600.4,246.4L1602.9,246.4L1605.4,246.4L1607.9,246.5L1610.5,246.5L1613,246.6L1615.5,246.8L1618,246.9L1620.5,247.1L1623.1,247.2L1625.6,247.4L1628.1,247.6L1630.6,247.8L1633.1,248L1635.7,248.1L1638.2,248.3L1640.7,248.5L1643.2,248.7L1645.7,248.8L1648.2,248.9L1650.8,249.1L1653.3,249.2L1655.8,249.3L1658.3,249.4L1660.8,249.5L1663.4,249.6L1665.9,249.7L1668.4,249.7L1670.9,249.8L1673.4,249.9L1676,250L1678.5,250.1L1681,250.2L1683.5,250.3L1686,250.4L1688.6,250.5L1691.1,250.6L1693.6,250.7L1696.1,250.8L1698.6,250.9L1701.2,251L1703.7,251.1L1706.2,251.2L1708.7,251.3L1711.2,251.4L1713.8,251.4L1716.3,251.5L1718.8,251.5L1721.3,251.5L1723.8,251.5L1726.4,251.4L1728.9,251.3L1731.4,251.2L1733.9,251L1736.4,250.9L1738.9,250.7L1741.5,250.4L1744,250.2L1746.5,249.9L1749,249.7L1751.5,249.5L1754.1,249.2L1756.6,249L1759.1,248.8L1761.6,248.7L1764.1,248.5L1766.7,248.4L1769.2,248.4L1771.7,248.4L1774.2,248.5L1776.7,248.6L1779.3,248.7L1781.8,248.9L1784.3,249.2L1786.8,249.5L1789.3,249.8L1791.9,250.2L1794.4,250.7L1796.9,251.2L1799.4,251.7L1801.9,252.2L1804.5,252.8L1807,253.4L1809.5,253.9L1812,254.5L1814.5,255L1817,255.4L1819.6,255.8L1822.1,256.1L1824.6,256.4L1827.1,256.6L1829.6,256.7L1832.2,256.7L1834.7,256.6L1837.2,256.5L1839.7,256.4L1842.2,256.2L1844.8,256L1847.3,255.8L1849.8,255.6L1852.3,255.5L1854.8,255.4L1857.4,255.4L1859.9,255.5L1862.4,255.6L1864.9,255.8L1867.4,256.1L1870,256.3L1872.5,256.6L1875,256.8L1877.5,257L1880,257.2L1882.6,257.3L1885.1,257.5L1887.6,257.5L1890.1,257.6L1892.6,257.6L1895.2,257.7L1897.7,257.7L1900.2,257.7L1902.7,257.7L1905.2,257.7L1907.7,257.7L1910.3,257.7L1912.8,257.7L1915.3,257.7L1917.8,257.7L1920.3,257.7L1922.9,257.7L1925.4,257.7L1927.9,257.7" fill="none" stroke="#f40000" stroke-width="2.0" stroke-linejoin="round" stroke-linecap="butt"/>
<path d="M1575.2,246.2L1577.7,246.2L1580.2,246.3L1582.7,246.3L1585.3,246.3L1587.8,246.4L1590.3,246.4L1592.8,246.4L1595.3,246.5L1597.9,246.5L1600.4,246.6L1602.9,246.7L1605.4,246.8L1607.9,246.9L1610.5,247.1L1613,247.2L1615.5,247.4L1618,247.6L1620.5,247.7L1623.1,247.9L1625.6,248.1L1628.1,248.3L1630.6,248.5L1633.1,248.7L1635.7,248.9L1638.2,249.1L1640.7,249.3L1643.2,249.4L1645.7,249.6L1648.2,249.7L1650.8,249.8L1653.3,249.8L1655.8,249.9L1658.3,249.9L1660.8,249.9L1663.4,249.9L1665.9,249.9L1668.4,249.8L1670.9,249.8L1673.4,249.7L1676,249.7L1678.5,249.6L1681,249.6L1683.5,249.5L1686,249.4L1688.6,249.4L1691.1,249.3L1693.6,249.3L1696.1,249.3L1698.6,249.2L1701.2,249.2L1703.7,249.2L1706.2,249.2L1708.7,249.2L1711.2,249.2L1713.8,249.2L1716.3,249.2L1718.8,249.1L1721.3,249.1L1723.8,249L1726.4,248.9L1728.9,248.8L1731.4,248.7L1733.9,248.5L1736.4,248.3L1738.9,248.1L1741.5,247.8L1744,247.5L1746.5,247.3L1749,247L1751.5,246.7L1754.1,246.5L1756.6,246.2L1759.1,246L1761.6,245.9L1764.1,245.8L1766.7,245.8L1769.2,245.9L1771.7,246L1774.2,246.2L1776.7,246.4L1779.3,246.8L1781.8,247.2L1784.3,247.7L1786.8,248.2L1789.3,248.8L1791.9,249.4L1794.4,250.1L1796.9,250.8L1799.4,251.5L1801.9,252.2L1804.5,252.9L1807,253.5L1809.5,254.2L1812,254.7L1814.5,255.2L1817,255.6L1819.6,256L1822.1,256.2L1824.6,256.4L1827.1,256.5L1829.6,256.5L1832.2,256.3L1834.7,256.1L1837.2,255.8L1839.7,255.4L1842.2,254.9L1844.8,254.4L1847.3,254L1849.8,253.6L1852.3,253.3L1854.8,253.1L1857.4,253.1L1859.9,253.3L1862.4,253.5L1864.9,253.9L1867.4,254.4L1870,254.9L1872.5,255.5L1875,255.9L1877.5,256.4L1880,256.7L1882.6,257L1885.1,257.2L1887.6,257.4L1890.1,257.5L1892.6,257.6L1895.2,257.6L1897.7,257.7L1900.2,257.7L1902.7,257.7L1905.2,257.7L1907.7,257.7L1910.3,257.7L1912.8,257.7L1915.3,257.7L1917.8,257.7L1920.3,257.7L1922.9,257.7L1925.4,257.7L1927.9,257.7" fill="none" stroke="#f40000" stroke-width="2.0" stroke-linejoin="round" stroke-linecap="butt"/>
<path d="M1575.2,244.6L1577.7,244.7L1580.2,244.8L1582.7,244.8L1585.3,245L1587.8,245.1L1590.3,245.2L1592.8,245.3L1595.3,245.5L1597.9,245.6L1600.4,245.8L1602.9,245.9L1605.4,246L1607.9,246.2L1610.5,246.3L1613,246.4L1615.5,246.5L1618,246.6L1620.5,246.7L1623.1,246.8L1625.6,246.9L1628.1,247L1630.6,247.1L1633.1,247.2L1635.7,247.4L1638.2,247.5L1640.7,247.6L1643.2,247.8L1645.7,247.9L1648.2,248.1L1650.8,248.3L1653.3,248.5L1655.8,248.7L1658.3,248.9L1660.8,249.1L1663.4,249.3L1665.9,249.5L1668.4,249.7L1670.9,249.8L1673.4,250L1676,250.1L1678.5,250.2L1681,250.3L1683.5,250.4L1686,250.4L1688.6,250.4L1691.1,250.4L1693.6,250.4L1696.1,250.3L1698.6,250.2L1701.2,250.1L1703.7,250L1706.2,249.8L1708.7,249.7L1711.2,249.5L1713.8,249.4L1716.3,249.2L1718.8,249.1L1721.3,248.9L1723.8,248.8L1726.4,248.6L1728.9,248.5L1731.4,248.4L1733.9,248.2L1736.4,248.1L1738.9,248L1741.5,247.9L1744,247.8L1746.5,247.7L1749,247.6L1751.5,247.5L1754.1,247.5L1756.6,247.4L1759.1,247.3L1761.6,247.3L1764.1,247.3L1766.7,247.3L1769.2,247.3L1771.7,247.4L1774.2,247.4L1776.7,247.5L1779.3,247.7L1781.8,247.9L1784.3,248.1L1786.8,248.4L1789.3,248.7L1791.9,249.1L1794.4,249.5L1796.9,250L1799.4,250.6L1801.9,251.3L1804.5,251.9L1807,252.6L1809.5,253.3L1812,254L1814.5,254.6L1817,255.2L1819.6,255.6L1822.1,256L1824.6,256.3L1827.1,256.5L1829.6,256.6L1832.2,256.7L1834.7,256.7L1837.2,256.6L1839.7,256.4L1842.2,256.2L1844.8,256L1847.3,255.8L1849.8,255.6L1852.3,255.5L1854.8,255.4L1857.4,255.4L1859.9,255.5L1862.4,255.6L1864.9,255.8L1867.4,256.1L1870,256.3L1872.5,256.6L1875,256.8L1877.5,257L1880,257.2L1882.6,257.3L1885.1,257.5L1887.6,257.5L1890.1,257.6L1892.6,257.6L1895.2,257.7L1897.7,257.7L1900.2,257.7L1902.7,257.7L1905.2,257.7L1907.7,257.7L1910.3,257.7L1912.8,257.7L1915.3,257.7L1917.8,257.7L1920.3,257.7L1922.9,257.7L1925.4,257.7L1927.9,257.7" fill="none" stroke="#f40000" stroke-width="2.0" stroke-linejoin="round" stroke-linecap="butt"/>
<path d="M1575.2,244.2L1577.7,244.1L1580.2,244.1L1582.7,244.1L1585.3,244.1L1587.8,244.2L1590.3,244.2L1592.8,244.3L1595.3,244.4L1597.9,244.6L1600.4,244.7L1602.9,244.9L1605.4,245L1607.9,245.2L1610.5,245.3L1613,245.5L1615.5,245.7L1618,245.8L1620.5,246L1623.1,246.1L1625.6,246.3L1628.1,246.4L1630.6,246.5L1633.1,246.6L1635.7,246.8L1638.2,246.9L1640.7,247L1643.2,247.1L1645.7,247.2L1648.2,247.3L1650.8,247.4L1653.3,247.5L1655.8,247.7L1658.3,247.8L1660.8,248L1663.4,248.1L1665.9,248.3L1668.4,248.4L1670.9,248.6L1673.4,248.8L1676,249L1678.5,249.1L1681,249.3L1683.5,249.5L1686,249.6L1688.6,249.7L1691.1,249.8L1693.6,249.9L1696.1,249.9L1698.6,249.9L1701.2,249.9L1703.7,249.9L1706.2,249.8L1708.7,249.7L1711.2,249.6L1713.8,249.4L1716.3,249.2L1718.8,248.9L1721.3,248.7L1723.8,248.4L1726.4,248L1728.9,247.7L1731.4,247.3L1733.9,246.8L1736.4,246.4L1738.9,245.9L1741.5,245.4L1744,245L1746.5,244.5L1749,244L1751.5,243.6L1754.1,243.2L1756.6,242.9L1759.1,242.6L1761.6,242.4L1764.1,242.3L1766.7,242.2L1769.2,242.3L1771.7,242.4L1774.2,242.6L1776.7,242.9L1779.3,243.3L1781.8,243.8L1784.3,244.4L1786.8,245L1789.3,245.7L1791.9,246.4L1794.4,247.2L1796.9,248.1L1799.4,248.9L1801.9,249.8L1804.5,250.8L1807,251.7L1809.5,252.5L1812,253.3L1814.5,254L1817,254.7L1819.6,255.2L1822.1,255.6L1824.6,255.8L1827.1,255.9L1829.6,255.8L1832.2,255.6L1834.7,255.2L1837.2,254.6L1839.7,253.9L1842.2,253.2L1844.8,252.3L1847.3,251.6L1849.8,250.9L1852.3,250.4L1854.8,250.1L1857.4,250.1L1859.9,250.3L1862.4,250.8L1864.9,251.5L1867.4,252.2L1870,253.1L1872.5,254L1875,254.8L1877.5,255.5L1880,256.1L1882.6,256.5L1885.1,256.9L1887.6,257.2L1890.1,257.4L1892.6,257.5L1895.2,257.6L1897.7,257.6L1900.2,257.7L1902.7,257.7L1905.2,257.7L1907.7,257.7L1910.3,257.7L1912.8,257.7L1915.3,257.7L1917.8,257.7L1920.3,257.7L1922.9,257.7L1925.4,257.7L1927.9,257.7" fill="none" stroke="#f40000" stroke-width="2.0" stroke-linejoin="round" stroke-linecap="butt"/>
<path d="M1575.2,245.3L1577.7,245.4L1580.2,245.4L1582.7,245.5L1585.3,245.5L1587.8,245.6L1590.3,245.6L1592.8,245.6L1595.3,245.6L1597.9,245.6L1600.4,245.5L1602.9,245.5L1605.4,245.5L1607.9,245.4L1610.5,245.4L1613,245.3L1615.5,245.3L1618,245.3L1620.5,245.3L1623.1,245.2L1625.6,245.2L1628.1,245.3L1630.6,245.3L1633.1,245.4L1635.7,245.4L1638.2,245.5L1640.7,245.6L1643.2,245.8L1645.7,245.9L1648.2,246.1L1650.8,246.2L1653.3,246.4L1655.8,246.5L1658.3,246.7L1660.8,246.9L1663.4,247L1665.9,247.2L1668.4,247.3L1670.9,247.4L1673.4,247.6L1676,247.7L1678.5,247.7L1681,247.8L1683.5,247.9L1686,247.9L1688.6,247.9L1691.1,247.9L1693.6,247.9L1696.1,247.9L1698.6,247.9L1701.2,247.9L1703.7,247.9L1706.2,247.9L1708.7,247.9L1711.2,247.9L1713.8,247.9L1716.3,247.9L1718.8,247.9L1721.3,247.9L1723.8,247.9L1726.4,247.9L1728.9,247.9L1731.4,247.8L1733.9,247.7L1736.4,247.6L1738.9,247.5L1741.5,247.4L1744,247.2L1746.5,247L1749,246.8L1751.5,246.6L1754.1,246.4L1756.6,246.2L1759.1,246L1761.6,245.8L1764.1,245.7L1766.7,245.6L1769.2,245.5L1771.7,245.5L1774.2,245.5L1776.7,245.6L1779.3,245.7L1781.8,246L1784.3,246.2L1786.8,246.6L1789.3,247L1791.9,247.5L1794.4,248.1L1796.9,248.7L1799.4,249.5L1801.9,250.2L1804.5,251L1807,251.8L1809.5,252.6L1812,253.4L1814.5,254.1L1817,254.7L1819.6,255.2L1822.1,255.6L1824.6,255.9L1827.1,256.1L1829.6,256.2L1832.2,256.1L1834.7,255.9L1837.2,255.7L1839.7,255.3L1842.2,254.8L1844.8,254.4L1847.3,253.9L1849.8,253.5L1852.3,253.3L1854.8,253.1L1857.4,253.1L1859.9,253.2L1862.4,253.5L1864.9,253.9L1867.4,254.4L1870,254.9L1872.5,255.4L1875,255.9L1877.5,256.4L1880,256.7L1882.6,257L1885.1,257.2L1887.6,257.4L1890.1,257.5L1892.6,257.6L1895.2,257.6L1897.7,257.7L1900.2,257.7L1902.7,257.7L1905.2,257.7L1907.7,257.7L1910.3,257.7L1912.8,257.7L1915.3,257.7L1917.8,257.7L1920.3,257.7L1922.9,257.7L1925.4,257.7L1927.9,257.7" fill="none" stroke="#f40000" stroke-width="2.0" stroke-linejoin="round" stroke-linecap="butt"/>
<path d="M1575.2,244.8L1577.7,244.8L1580.2,244.8L1582.7,244.8L1585.3,244.7L1587.8,244.6L1590.3,244.6L1592.8,244.5L1595.3,244.4L1597.9,244.4L1600.4,244.3L1602.9,244.3L1605.4,244.2L1607.9,244.2L1610.5,244.1L1613,244.1L1615.5,244.1L1618,244.2L1620.5,244.2L1623.1,244.3L1625.6,244.4L1628.1,244.5L1630.6,244.6L1633.1,244.7L1635.7,244.9L1638.2,245.1L1640.7,245.2L1643.2,245.4L1645.7,245.6L1648.2,245.8L1650.8,245.9L1653.3,246.1L1655.8,246.3L1658.3,246.4L1660.8,246.6L1663.4,246.7L1665.9,246.8L1668.4,246.9L1670.9,247L1673.4,247.1L1676,247.1L1678.5,247.2L1681,247.2L1683.5,247.3L1686,247.3L1688.6,247.3L1691.1,247.4L1693.6,247.4L1696.1,247.4L1698.6,247.5L1701.2,247.5L1703.7,247.5L1706.2,247.6L1708.7,247.6L1711.2,247.6L1713.8,247.7L1716.3,247.7L1718.8,247.7L1721.3,247.6L1723.8,247.6L1726.4,247.5L1728.9,247.3L1731.4,247.1L1733.9,246.9L1736.4,246.6L1738.9,246.2L1741.5,245.8L1744,245.4L1746.5,245L1749,244.5L1751.5,244L1754.1,243.6L1756.6,243.2L1759.1,242.8L1761.6,242.4L1764.1,242.1L1766.7,242L1769.2,241.8L1771.7,241.8L1774.2,241.9L1776.7,242.1L1779.3,242.4L1781.8,242.9L1784.3,243.4L1786.8,244L1789.3,244.7L1791.9,245.4L1794.4,246.3L1796.9,247.2L1799.4,248.2L1801.9,249.2L1804.5,250.2L1807,251.2L1809.5,252.1L1812,253L1814.5,253.8L1817,254.5L1819.6,255L1822.1,255.4L1824.6,255.7L1827.1,255.8L1829.6,255.7L1832.2,255.5L1834.7,255.1L1837.2,254.5L1839.7,253.9L1842.2,253.1L1844.8,252.3L1847.3,251.5L1849.8,250.8L1852.3,250.4L1854.8,250.1L1857.4,250.1L1859.9,250.3L1862.4,250.8L1864.9,251.4L1867.4,252.2L1870,253.1L1872.5,254L1875,254.8L1877.5,255.5L1880,256.1L1882.6,256.5L1885.1,256.9L1887.6,257.2L1890.1,257.4L1892.6,257.5L1895.2,257.6L1897.7,257.6L1900.2,257.7L1902.7,257.7L1905.2,257.7L1907.7,257.7L1910.3,257.7L1912.8,257.7L1915.3,257.7L1917.8,257.7L1920.3,257.7L1922.9,257.7L1925.4,257.7L1927.9,257.7" fill="none" stroke="#f40000" stroke-width="2.0" stroke-linejoin="round" stroke-linecap="butt"/>
<path d="M1575.2,244.3L1577.7,244.3L1580.2,244.3L1582.7,244.3L1585.3,244.2L1587.8,244.2L1590.3,244.2L1592.8,244.1L1595.3,244L1597.9,244L1600.4,243.9L1602.9,243.9L1605.4,243.8L1607.9,243.8L1610.5,243.7L1613,243.7L1615.5,243.7L1618,243.7L1620.5,243.7L1623.1,243.8L1625.6,243.8L1628.1,243.9L1630.6,244L1633.1,244.1L1635.7,244.3L1638.2,244.4L1640.7,244.6L1643.2,244.8L1645.7,244.9L1648.2,245.1L1650.8,245.3L1653.3,245.5L1655.8,245.6L1658.3,245.8L1660.8,245.9L1663.4,246.1L1665.9,246.2L1668.4,246.3L1670.9,246.4L1673.4,246.5L1676,246.5L1678.5,246.6L1681,246.7L1683.5,246.7L1686,246.7L1688.6,246.8L1691.1,246.8L1693.6,246.8L1696.1,246.8L1698.6,246.9L1701.2,246.9L1703.7,246.9L1706.2,247L1708.7,247L1711.2,247.1L1713.8,247.2L1716.3,247.3L1718.8,247.3L1721.3,247.4L1723.8,247.5L1726.4,247.5L1728.9,247.6L1731.4,247.6L1733.9,247.6L1736.4,247.5L1738.9,247.5L1741.5,247.4L1744,247.3L1746.5,247.2L1749,247L1751.5,246.9L1754.1,246.7L1756.6,246.5L1759.1,246.3L1761.6,246.2L1764.1,246L1766.7,245.9L1769.2,245.8L1771.7,245.8L1774.2,245.8L1776.7,245.8L1779.3,245.9L1781.8,246L1784.3,246.2L1786.8,246.5L1789.3,246.9L1791.9,247.3L1794.4,247.8L1796.9,248.5L1799.4,249.1L1801.9,249.9L1804.5,250.7L1807,251.5L1809.5,252.3L1812,253.1L1814.5,253.8L1817,254.5L1819.6,255.1L1822.1,255.5L1824.6,255.9L1827.1,256.2L1829.6,256.4L1832.2,256.5L1834.7,256.5L1837.2,256.4L1839.7,256.3L1842.2,256.1L1844.8,255.9L1847.3,255.7L1849.8,255.5L1852.3,255.4L1854.8,255.4L1857.4,255.4L1859.9,255.4L1862.4,255.6L1864.9,255.8L1867.4,256L1870,256.3L1872.5,256.6L1875,256.8L1877.5,257L1880,257.2L1882.6,257.3L1885.1,257.5L1887.6,257.5L1890.1,257.6L1892.6,257.6L1895.2,257.7L1897.7,257.7L1900.2,257.7L1902.7,257.7L1905.2,257.7L1907.7,257.7L1910.3,257.7L1912.8,257.7L1915.3,257.7L1917.8,257.7L1920.3,257.7L1922.9,257.7L1925.4,257.7L1927.9,257.7" fill="none" stroke="#f40000" stroke-width="2.0" stroke-linejoin="round" stroke-linecap="butt"/>
<path d="M1575.2,243.7L1577.7,243.7L1580.2,243.8L1582.7,243.8L1585.3,243.8L1587.8,243.8L1590.3,243.8L1592.8,243.8L1595.3,243.8L1597.9,243.7L1600.4,243.7L1602.9,243.7L1605.4,243.6L1607.9,243.6L1610.5,243.5L1613,243.5L1615.5,243.4L1618,243.4L1620.5,243.4L1623.1,243.4L1625.6,243.4L1628.1,243.5L1630.6,243.5L1633.1,243.6L1635.7,243.7L1638.2,243.8L1640.7,243.9L1643.2,244.1L1645.7,244.2L1648.2,244.4L1650.8,244.6L1653.3,244.7L1655.8,244.9L1658.3,245.1L1660.8,245.2L1663.4,245.4L1665.9,245.5L1668.4,245.7L1670.9,245.8L1673.4,245.9L1676,246L1678.5,246L1681,246.1L1683.5,246.1L1686,246.2L1688.6,246.2L1691.1,246.2L1693.6,246.2L1696.1,246.2L1698.6,246.2L1701.2,246.2L1703.7,246.2L1706.2,246.2L1708.7,246.2L1711.2,246.1L1713.8,246.1L1716.3,246.1L1718.8,246.1L1721.3,246L1723.8,246L1726.4,245.9L1728.9,245.7L1731.4,245.6L1733.9,245.4L1736.4,245.1L1738.9,244.9L1741.5,244.5L1744,244.2L1746.5,243.8L1749,243.4L1751.5,243.1L1754.1,242.7L1756.6,242.3L1759.1,242L1761.6,241.7L1764.1,241.4L1766.7,241.3L1769.2,241.2L1771.7,241.2L1774.2,241.3L1776.7,241.5L1779.3,241.8L1781.8,242.1L1784.3,242.6L1786.8,243.2L1789.3,243.9L1791.9,244.6L1794.4,245.5L1796.9,246.4L1799.4,247.4L1801.9,248.4L1804.5,249.5L1807,250.6L1809.5,251.6L1812,252.5L1814.5,253.4L1817,254.1L1819.6,254.7L1822.1,255.2L1824.6,255.5L1827.1,255.6L1829.6,255.6L1832.2,255.4L1834.7,255L1837.2,254.5L1839.7,253.8L1842.2,253.1L1844.8,252.3L1847.3,251.5L1849.8,250.8L1852.3,250.3L1854.8,250.1L1857.4,250.1L1859.9,250.3L1862.4,250.8L1864.9,251.4L1867.4,252.2L1870,253.1L1872.5,254L1875,254.8L1877.5,255.5L1880,256.1L1882.6,256.5L1885.1,256.9L1887.6,257.2L1890.1,257.4L1892.6,257.5L1895.2,257.6L1897.7,257.6L1900.2,257.7L1902.7,257.7L1905.2,257.7L1907.7,257.7L1910.3,257.7L1912.8,257.7L1915.3,257.7L1917.8,257.7L1920.3,257.7L1922.9,257.7L1925.4,257.7L1927.9,257.7" fill="none" stroke="#f40000" stroke-width="2.0" stroke-linejoin="round" stroke-linecap="butt"/>
<path d="M1575.2,242.9L1577.7,243L1580.2,243.1L1582.7,243.1L1585.3,243.2L1587.8,243.3L1590.3,243.3L1592.8,243.4L1595.3,243.4L1597.9,243.4L1600.4,243.5L1602.9,243.5L1605.4,243.4L1607.9,243.4L1610.5,243.4L1613,243.4L1615.5,243.3L1618,243.3L1620.5,243.3L1623.1,243.2L1625.6,243.2L1628.1,243.2L1630.6,243.2L1633.1,243.2L1635.7,243.3L1638.2,243.3L1640.7,243.4L1643.2,243.5L1645.7,243.6L1648.2,243.7L1650.8,243.9L1653.3,244L1655.8,244.2L1658.3,244.3L1660.8,244.5L1663.4,244.6L1665.9,244.8L1668.4,244.9L1670.9,245.1L1673.4,245.2L1676,245.3L1678.5,245.4L1681,245.5L1683.5,245.6L1686,245.6L1688.6,245.7L1691.1,245.7L1693.6,245.7L1696.1,245.7L1698.6,245.7L1701.2,245.6L1703.7,245.6L1706.2,245.6L1708.7,245.6L1711.2,245.6L1713.8,245.6L1716.3,245.6L1718.8,245.6L1721.3,245.6L1723.8,245.7L1726.4,245.7L1728.9,245.7L1731.4,245.8L1733.9,245.8L1736.4,245.8L1738.9,245.8L1741.5,245.8L1744,245.8L1746.5,245.8L1749,245.7L1751.5,245.7L1754.1,245.6L1756.6,245.6L1759.1,245.5L1761.6,245.4L1764.1,245.4L1766.7,245.3L1769.2,245.3L1771.7,245.3L1774.2,245.3L1776.7,245.4L1779.3,245.5L1781.8,245.6L1784.3,245.8L1786.8,246L1789.3,246.4L1791.9,246.8L1794.4,247.2L1796.9,247.8L1799.4,248.5L1801.9,249.2L1804.5,250L1807,250.9L1809.5,251.8L1812,252.6L1814.5,253.4L1817,254.1L1819.6,254.8L1822.1,255.3L1824.6,255.7L1827.1,256L1829.6,256.3L1832.2,256.4L1834.7,256.4L1837.2,256.4L1839.7,256.2L1842.2,256.1L1844.8,255.9L1847.3,255.7L1849.8,255.5L1852.3,255.4L1854.8,255.3L1857.4,255.4L1859.9,255.4L1862.4,255.6L1864.9,255.8L1867.4,256L1870,256.3L1872.5,256.6L1875,256.8L1877.5,257L1880,257.2L1882.6,257.3L1885.1,257.5L1887.6,257.5L1890.1,257.6L1892.6,257.6L1895.2,257.7L1897.7,257.7L1900.2,257.7L1902.7,257.7L1905.2,257.7L1907.7,257.7L1910.3,257.7L1912.8,257.7L1915.3,257.7L1917.8,257.7L1920.3,257.7L1922.9,257.7L1925.4,257.7L1927.9,257.7" fill="none" stroke="#f40000" stroke-width="2.0" stroke-linejoin="round" stroke-linecap="butt"/>
<path d="M1575.2,241.3L1577.7,241.2L1580.2,241.1L1582.7,241L1585.3,240.9L1587.8,240.9L1590.3,240.9L1592.8,240.9L1595.3,240.9L1597.9,241L1600.4,241.1L1602.9,241.2L1605.4,241.3L1607.9,241.4L1610.5,241.6L1613,241.8L1615.5,241.9L1618,242.1L1620.5,242.3L1623.1,242.5L1625.6,242.7L1628.1,242.8L1630.6,243L1633.1,243.1L1635.7,243.3L1638.2,243.4L1640.7,243.5L1643.2,243.7L1645.7,243.8L1648.2,243.9L1650.8,244L1653.3,244.1L1655.8,244.2L1658.3,244.3L1660.8,244.4L1663.4,244.5L1665.9,244.6L1668.4,244.7L1670.9,244.8L1673.4,245L1676,245.1L1678.5,245.3L1681,245.4L1683.5,245.6L1686,245.7L1688.6,245.9L1691.1,246L1693.6,246.1L1696.1,246.2L1698.6,246.3L1701.2,246.4L1703.7,246.4L1706.2,246.4L1708.7,246.4L1711.2,246.3L1713.8,246.2L1716.3,246.1L1718.8,246L1721.3,245.7L1723.8,245.5L1726.4,245.2L1728.9,244.8L1731.4,244.4L1733.9,244L1736.4,243.5L1738.9,243L1741.5,242.5L1744,242L1746.5,241.4L1749,240.9L1751.5,240.4L1754.1,240L1756.6,239.6L1759.1,239.3L1761.6,239L1764.1,238.9L1766.7,238.8L1769.2,238.8L1771.7,239L1774.2,239.2L1776.7,239.5L1779.3,240L1781.8,240.5L1784.3,241.2L1786.8,241.9L1789.3,242.7L1791.9,243.6L1794.4,244.5L1796.9,245.5L1799.4,246.6L1801.9,247.7L1804.5,248.8L1807,249.9L1809.5,251L1812,252L1814.5,252.9L1817,253.7L1819.6,254.4L1822.1,254.9L1824.6,255.3L1827.1,255.4L1829.6,255.5L1832.2,255.3L1834.7,255L1837.2,254.4L1839.7,253.8L1842.2,253L1844.8,252.3L1847.3,251.5L1849.8,250.8L1852.3,250.3L1854.8,250.1L1857.4,250.1L1859.9,250.3L1862.4,250.8L1864.9,251.4L1867.4,252.2L1870,253.1L1872.5,254L1875,254.8L1877.5,255.5L1880,256.1L1882.6,256.5L1885.1,256.9L1887.6,257.2L1890.1,257.4L1892.6,257.5L1895.2,257.6L1897.7,257.6L1900.2,257.7L1902.7,257.7L1905.2,257.7L1907.7,257.7L1910.3,257.7L1912.8,257.7L1915.3,257.7L1917.8,257.7L1920.3,257.7L1922.9,257.7L1925.4,257.7L1927.9,257.7" fill="none" stroke="#f40000" stroke-width="2.0" stroke-linejoin="round" stroke-linecap="butt"/>
<path d="M1575.2,240.3L1577.7,240.2L1580.2,240.2L1582.7,240.2L1585.3,240.2L1587.8,240.2L1590.3,240.2L1592.8,240.3L1595.3,240.4L1597.9,240.5L1600.4,240.6L1602.9,240.8L1605.4,240.9L1607.9,241.1L1610.5,241.3L1613,241.4L1615.5,241.6L1618,241.8L1620.5,241.9L1623.1,242.1L1625.6,242.2L1628.1,242.4L1630.6,242.5L1633.1,242.6L1635.7,242.8L1638.2,242.9L1640.7,243L1643.2,243.1L1645.7,243.2L1648.2,243.3L1650.8,243.4L1653.3,243.5L1655.8,243.6L1658.3,243.8L1660.8,243.9L1663.4,244L1665.9,244.2L1668.4,244.3L1670.9,244.5L1673.4,244.7L1676,244.9L1678.5,245L1681,245.2L1683.5,245.3L1686,245.5L1688.6,245.6L1691.1,245.7L1693.6,245.8L1696.1,245.9L1698.6,245.9L1701.2,245.9L1703.7,245.9L1706.2,245.9L1708.7,245.8L1711.2,245.7L1713.8,245.5L1716.3,245.3L1718.8,245.1L1721.3,244.8L1723.8,244.5L1726.4,244.2L1728.9,243.8L1731.4,243.4L1733.9,243L1736.4,242.5L1738.9,242.1L1741.5,241.6L1744,241.1L1746.5,240.6L1749,240.1L1751.5,239.7L1754.1,239.3L1756.6,238.9L1759.1,238.6L1761.6,238.4L1764.1,238.3L1766.7,238.3L1769.2,238.3L1771.7,238.5L1774.2,238.7L1776.7,239.1L1779.3,239.5L1781.8,240L1784.3,240.7L1786.8,241.4L1789.3,242.2L1791.9,243L1794.4,244L1796.9,245L1799.4,246.1L1801.9,247.2L1804.5,248.4L1807,249.5L1809.5,250.6L1812,251.7L1814.5,252.7L1817,253.5L1819.6,254.2L1822.1,254.8L1824.6,255.2L1827.1,255.4L1829.6,255.4L1832.2,255.3L1834.7,254.9L1837.2,254.4L1839.7,253.8L1842.2,253L1844.8,252.3L1847.3,251.5L1849.8,250.8L1852.3,250.3L1854.8,250.1L1857.4,250.1L1859.9,250.3L1862.4,250.8L1864.9,251.4L1867.4,252.2L1870,253.1L1872.5,254L1875,254.8L1877.5,255.5L1880,256.1L1882.6,256.5L1885.1,256.9L1887.6,257.2L1890.1,257.4L1892.6,257.5L1895.2,257.6L1897.7,257.6L1900.2,257.7L1902.7,257.7L1905.2,257.7L1907.7,257.7L1910.3,257.7L1912.8,257.7L1915.3,257.7L1917.8,257.7L1920.3,257.7L1922.9,257.7L1925.4,257.7L1927.9,257.7" fill="none" stroke="#f40000" stroke-width="2.0" stroke-linejoin="round" stroke-linecap="butt"/>
<path d="M1575.2,240.4L1577.7,240.5L1580.2,240.5L1582.7,240.6L1585.3,240.6L1587.8,240.6L1590.3,240.7L1592.8,240.7L1595.3,240.8L1597.9,240.8L1600.4,240.9L1602.9,241L1605.4,241.1L1607.9,241.2L1610.5,241.3L1613,241.4L1615.5,241.6L1618,241.7L1620.5,241.9L1623.1,242.1L1625.6,242.3L1628.1,242.5L1630.6,242.7L1633.1,242.9L1635.7,243.1L1638.2,243.3L1640.7,243.5L1643.2,243.7L1645.7,243.8L1648.2,244L1650.8,244.1L1653.3,244.2L1655.8,244.3L1658.3,244.3L1660.8,244.4L1663.4,244.4L1665.9,244.4L1668.4,244.4L1670.9,244.4L1673.4,244.3L1676,244.2L1678.5,244.2L1681,244.1L1683.5,244L1686,244L1688.6,243.9L1691.1,243.8L1693.6,243.8L1696.1,243.7L1698.6,243.6L1701.2,243.6L1703.7,243.6L1706.2,243.5L1708.7,243.5L1711.2,243.5L1713.8,243.5L1716.3,243.5L1718.8,243.5L1721.3,243.5L1723.8,243.5L1726.4,243.5L1728.9,243.5L1731.4,243.4L1733.9,243.4L1736.4,243.3L1738.9,243.2L1741.5,243L1744,242.9L1746.5,242.8L1749,242.6L1751.5,242.5L1754.1,242.3L1756.6,242.2L1759.1,242.1L1761.6,242.1L1764.1,242L1766.7,242L1769.2,242.1L1771.7,242.2L1774.2,242.3L1776.7,242.5L1779.3,242.8L1781.8,243.2L1784.3,243.6L1786.8,244.1L1789.3,244.7L1791.9,245.3L1794.4,246.1L1796.9,246.9L1799.4,247.7L1801.9,248.7L1804.5,249.6L1807,250.6L1809.5,251.6L1812,252.5L1814.5,253.3L1817,254.1L1819.6,254.7L1822.1,255.3L1824.6,255.7L1827.1,256L1829.6,256.2L1832.2,256.3L1834.7,256.4L1837.2,256.3L1839.7,256.2L1842.2,256.1L1844.8,255.9L1847.3,255.7L1849.8,255.5L1852.3,255.4L1854.8,255.3L1857.4,255.3L1859.9,255.4L1862.4,255.6L1864.9,255.8L1867.4,256L1870,256.3L1872.5,256.6L1875,256.8L1877.5,257L1880,257.2L1882.6,257.3L1885.1,257.5L1887.6,257.5L1890.1,257.6L1892.6,257.6L1895.2,257.7L1897.7,257.7L1900.2,257.7L1902.7,257.7L1905.2,257.7L1907.7,257.7L1910.3,257.7L1912.8,257.7L1915.3,257.7L1917.8,257.7L1920.3,257.7L1922.9,257.7L1925.4,257.7L1927.9,257.7" fill="none" stroke="#f40000" stroke-width="2.0" stroke-linejoin="round" stroke-linecap="butt"/>
<path d="M1575.2,240.5L1577,240.5L1578.7,240.6L1580.5,240.6L1582.2,240.6L1584,240.7L1585.8,240.7L1587.5,240.7L1589.3,240.7L1591.1,240.8L1592.8,240.8L1594.6,240.8L1596.3,240.9L1598.1,240.9L1599.9,240.9L1601.6,240.9L1603.4,241L1605.2,241L1606.9,241L1608.7,241L1610.5,241L1612.2,241.1L1614,241.1L1615.7,241.1L1617.5,241.1L1619.3,241.1L1621,241.1L1622.8,241.1L1624.6,241.1L1626.3,241.1L1628.1,241.1L1629.9,241.1L1631.6,241.1L1633.4,241.1L1635.1,241L1636.9,241L1638.7,241L1640.4,241L1642.2,240.9L1644,240.9L1645.7,240.8L1647.5,240.8L1649.3,240.8L1651,240.7L1652.8,240.6L1654.5,240.6L1656.3,240.5L1658.1,240.5L1659.8,240.4L1661.6,240.4L1663.4,240.3L1665.1,240.3L1666.9,240.2L1668.7,240.2L1670.4,240.1L1672.2,240.1L1673.9,240.1L1675.7,240L1677.5,240L1679.2,240L1681,240L1682.8,240L1684.5,240L1686.3,240L1688.1,240L1689.8,240.1L1691.6,240.1L1693.3,240.1L1695.1,240.2L1696.9,240.3L1698.6,240.3L1700.4,240.4L1702.2,240.5L1703.9,240.6L1705.7,240.7L1707.5,240.8L1709.2,240.8L1711,240.9L1712.7,241L1714.5,241.1L1716.3,241.2L1718,241.3L1719.8,241.3L1721.6,241.4L1723.3,241.4L1725.1,241.4L1726.9,241.4L1728.6,241.3L1730.4,241.2L1732.1,241.1L1733.9,241L1735.7,240.8L1737.4,240.5L1739.2,240.3L1741,239.9L1742.7,239.6L1744.5,239.1L1746.3,238.7L1748,238.2L1749.8,237.7L1751.5,237.2L1753.3,236.7L1755.1,236.2L1756.8,235.7L1758.6,235.3L1760.4,234.9L1762.1,234.5L1763.9,234.2L1765.7,234L1767.4,233.9L1769.2,233.8L1770.9,233.8L1772.7,234L1774.5,234.2L1776.2,234.5L1778,234.8L1779.8,235.3L1781.5,235.8L1783.3,236.3L1785.1,236.9L1786.8,237.5L1788.6,238.1L1790.3,238.7L1792.1,239.4L1793.9,240L1795.6,240.5L1797.4,241.1L1799.2,241.9L1800.9,243L1802.7,244.1L1804.5,245.2L1806.2,246.3L1808,247.4L1809.7,248.5L1811.5,249.7L1813.3,250.8L1815,251.9L1816.8,252.9L1818.6,254L1820.3,255L1822.1,256L1823.9,257L1825.6,257L1827.4,256.7L1829.1,256.3L1830.9,255.8L1832.7,255.1L1834.4,254.3L1836.2,253.3L1838,252.2L1839.7,250.9L1841.5,249.5L1843.3,248L1845,246.4L1846.8,244.8L1848.5,243.3L1850.3,242L1852.1,240.8L1853.8,240L1855.6,239.4L1857.4,239.2L1859.1,239.4L1860.9,240L1862.7,240.8L1864.4,242L1866.2,243.3L1867.9,244.8L1869.7,246.4L1871.5,248L1873.2,249.5L1875,250.9L1876.8,252.2L1878.5,253.3L1880.3,254.3L1882,255.1L1883.8,255.8L1885.6,256.3L1887.3,256.7L1889.1,257L1890.9,257.2L1892.6,257.4L1894.4,257.5L1896.2,257.6L1897.9,257.6L1899.7,257.6L1901.4,257.7L1903.2,257.7L1905,257.7L1906.7,257.7L1908.5,257.7L1910.3,257.7L1912,257.7L1913.8,257.7L1915.6,257.7L1917.3,257.7L1919.1,257.7L1920.8,257.7L1922.6,257.7L1924.4,257.7L1926.1,257.7L1927.9,257.7" fill="none" stroke="#f40000" stroke-width="2.0" stroke-linejoin="round" stroke-linecap="butt"/>
<path d="M1575.2,248.1L1580.4,248.1L1585.6,248.1L1590.7,248.1L1595.9,248.1L1601.1,248.1L1606.3,248.1L1611.5,248.1L1616.7,248.1L1621.9,248.1L1627.1,248.1L1632.2,248.1L1637.4,248.1L1642.6,248.1L1647.8,248.1L1653,248.1L1658.2,248.1L1663.4,248.1L1668.6,248.1L1673.7,248.1L1678.9,248.1L1684.1,248.1L1689.3,248.1L1694.5,248.1L1699.7,248.1L1704.9,248.1L1710,248.1L1715.2,248.1L1720.4,248.1L1725.6,248.1L1730.8,248.1L1736,248.1L1741.2,248.1L1746.4,248.1L1751.5,248.1L1756.7,248.1L1761.9,248.1L1767.1,248.1L1772.3,248.1L1777.5,248.2L1782.7,248.2L1787.9,248.2L1793,248.3L1798.2,248.5L1803.4,248.9L1808.6,249.7L1813.8,250.9L1819,251.5L1824.2,242.3L1829.4,214.7L1834.5,179L1839.7,138.6L1844.9,98.5L1850.1,68.3L1855.3,57.1L1860.5,73.1L1865.7,114L1870.8,163.2L1876,205.8L1881.2,235.7L1886.4,252.7L1891.6,257.3L1896.8,257.7L1902,257.7L1907.2,257.7L1912.3,257.7L1917.5,257.7L1922.7,257.7L1927.9,257.7" fill="none" stroke="#f40000" stroke-width="2.0" stroke-linejoin="round" stroke-linecap="butt"/>
<path d="M1575.2,250.1L1580.4,250.1L1585.6,250.1L1590.7,250.1L1595.9,250.1L1601.1,250.1L1606.3,250.1L1611.5,250.1L1616.7,250.1L1621.9,250.1L1627.1,250.1L1632.2,250.1L1637.4,250.1L1642.6,250.1L1647.8,250.1L1653,250.1L1658.2,250.1L1663.4,250.1L1668.6,250.1L1673.7,250.1L1678.9,250.1L1684.1,250.1L1689.3,250.1L1694.5,250.1L1699.7,250.1L1704.9,250.1L1710,250.1L1715.2,250.1L1720.4,250.1L1725.6,250.1L1730.8,250.1L1736,250.1L1741.2,250.1L1746.4,250.1L1751.5,250.1L1756.7,250.1L1761.9,250.1L1767.1,250.1L1772.3,250.1L1777.5,250.1L1782.7,250.1L1787.9,250.1L1793,250.2L1798.2,250.3L1803.4,250.6L1808.6,251.3L1813.8,252.4L1819,253.9L1824.2,255.2L1829.4,254.4L1834.5,240.8L1839.7,208.6L1844.9,170.5L1850.1,129L1855.3,89.4L1860.5,61L1865.1,52L1865.7,52.2L1870.8,71L1876,113.2L1881.2,162.6L1886.4,205.3L1891.6,235.7L1896.8,253L1902,257.3L1907.2,257.7L1912.3,257.7L1917.5,257.7L1922.7,257.7L1927.9,257.7" fill="none" stroke="#f40000" stroke-width="2.0" stroke-linejoin="round" stroke-linecap="butt"/>
<path d="M1575.2,245L1580.4,245L1585.6,245L1590.7,245L1595.9,245L1601.1,245L1606.3,245L1611.5,245L1616.7,245L1621.9,245L1627.1,245L1632.2,245L1637.4,245L1642.6,245L1647.8,245L1653,245L1658.2,245L1663.4,245L1668.6,245L1673.7,245L1678.9,245L1684.1,245L1689.3,245L1694.5,245L1699.7,245L1704.9,245L1710,245L1715.2,245L1720.4,245L1725.6,245L1730.8,245L1736,245L1741.2,245L1746.4,245L1751.5,245L1756.7,245L1761.9,245L1767.1,245L1772.3,245L1777.5,245L1782.7,245L1787.9,245L1793,245.2L1798.2,245.4L1803.4,245.9L1808.6,247L1813.8,248.4L1819,245.8L1824.2,226.7L1829.4,195.9L1834.5,159.5L1839.7,120.5L1844.9,87L1850.1,68.3L1852.2,66.6L1855.3,72.3L1860.5,103.4L1865.7,149.1L1870.8,193.4L1876,226.9L1881.2,248.1L1886.4,256.5L1891.6,257.6L1896.8,257.7L1902,257.7L1907.2,257.7L1912.3,257.7L1917.5,257.7L1922.7,257.7L1927.9,257.7" fill="none" stroke="#f40000" stroke-width="2.0" stroke-linejoin="round" stroke-linecap="butt"/>
<path d="M1575.2,257.7L1580.4,257.7L1585.6,257.7L1590.7,257.7L1595.9,257.7L1601.1,257.7L1606.3,257.7L1611.5,257.7L1616.7,257.7L1621.9,257.7L1627.1,257.7L1632.2,257.7L1637.4,257.7L1642.6,257.7L1647.8,257.7L1653,257.7L1658.2,257.7L1663.4,257.7L1668.6,257.7L1673.7,257.7L1678.9,257.7L1684.1,257.7L1689.3,257.7L1694.5,257.7L1699.7,257.7L1704.9,257.7L1710,257.7L1715.2,257.7L1720.4,257.7L1725.6,257.7L1730.8,257.7L1736,257.7L1741.2,257.7L1746.4,257.7L1751.5,257.6L1756.7,257.6L1761.9,257.4L1767.1,257L1772.3,256L1777.5,253.8L1782.7,249.3L1787.9,242L1793,233.5L1798.2,226.7L1803.4,222.8L1808.6,220.9L1813.8,220.1L1819,219.7L1824.2,219.6L1829.4,219.5L1834.5,217.7L1839.7,204.4L1844.9,184.7L1850.1,163.4L1855.3,146L1860.5,137.1L1862,136.6L1865.7,140.7L1870.8,158.9L1876,185.2L1881.2,211.8L1886.4,233.7L1891.6,249.7L1896.8,256.7L1902,257.6L1907.2,257.7L1912.3,257.7L1917.5,257.7L1922.7,257.7L1927.9,257.7" fill="none" stroke="#f40000" stroke-width="2.0" stroke-linejoin="round" stroke-linecap="butt"/>
<line x1="101.4" y1="512" x2="438" y2="512" stroke="#000" stroke-width="2" stroke-dasharray="2 5"/>
<path d="M106.1,509.9C109,510.2 116.1,511.2 123.4,512C130.7,512.9 142.2,514.2 149.8,515.2C157.5,516.3 164.5,517.3 169.3,518.4C174.1,519.5 174.7,519.4 178.7,521.6C182.6,523.8 188.9,527.8 193,531.6C197,535.5 199.8,539.7 203.1,544.7C206.5,549.7 209.7,555.6 213.1,561.7C216.4,567.9 219.9,575.1 223.2,581.8C226.6,588.5 229.8,595.7 233.2,601.9C236.5,608.1 240,614.3 243.2,619.2C246.5,624 248.5,627.4 252.5,631.2C256.5,635 259.9,639.6 267,641.9C274.1,644.2 285.7,644.4 295,644.9C304.2,645.5 312.3,645.5 322.7,645.3C333.1,645 344.4,644.3 357.4,643.4C370.3,642.6 386.4,641.2 400.7,640.1C415,638.9 436.1,637.1 443.1,636.6" fill="none" stroke="#0a0ab4" stroke-width="2.1" stroke-linejoin="round" stroke-linecap="butt"/>
<path d="M106.1,523.6C109,521.7 117.6,516.1 123.4,512C129.2,508 134.9,503.1 140.7,499.5C146.5,495.9 151.7,492.7 158.1,490.3C164.4,487.9 173.5,485.3 178.7,484.9C183.9,484.5 185.7,486.2 189.2,487.8C192.8,489.4 195.7,490.4 200.2,494.5C204.6,498.5 211.5,505.9 216,512C220.6,518.2 223.6,524.8 227.4,531.6C231.2,538.5 235.1,547.2 238.9,553.2C242.7,559.2 246.1,563.5 250.4,567.4C254.7,571.4 258.3,574.8 264.8,577C271.4,579.2 281.6,580 289.8,580.7C298,581.4 305.6,581.4 314,581.2C322.4,580.9 329.9,579.9 340,579C350.1,578.1 363.1,576.9 374.7,575.6C386.2,574.4 397.9,572.6 409.3,571.5C420.7,570.3 437.5,569.1 443.1,568.6" fill="none" stroke="#0a0ab4" stroke-width="2.1" stroke-linejoin="round" stroke-linecap="butt"/>
<path d="M106.1,523.6C109,521.7 117.6,515.9 123.4,512C129.2,508.2 134.9,503.6 140.7,500.3C146.5,497 153,494.2 158.1,492.3C163.1,490.4 167.3,489.1 171.1,488.9C174.8,488.8 177.3,490.1 180.6,491.6C183.9,493.1 186.6,494.4 191,497.8C195.3,501.2 202.2,506.2 206.7,512C211.1,517.9 214,525.2 217.8,533C221.7,540.8 225.6,551.5 229.5,558.9C233.4,566.3 237,572.2 241.2,577.3C245.5,582.5 248.6,586.7 255.1,589.9C261.6,593.1 271.9,595.3 280.2,596.6C288.6,597.8 296.8,597.4 305.4,597.2C313.9,597.1 322.7,596.5 331.4,595.7C340,594.9 348,593.8 357.4,592.4C366.7,591 378.3,588.3 387.7,587.2C397.1,586.1 404.4,586.1 413.7,585.8C422.9,585.6 438.2,585.8 443.1,585.8" fill="none" stroke="#0a0ab4" stroke-width="2.1" stroke-linejoin="round" stroke-linecap="butt"/>
<path d="M106.1,523.6C109,521.7 117.6,515.8 123.4,512C129.2,508.3 134.9,504.1 140.7,501.2C146.5,498.2 154,495.7 158.1,494.5C162.1,493.2 162.4,493.4 165,493.6C167.6,493.9 170.8,494.9 173.7,496.1C176.5,497.4 178.6,498.5 182.3,501.2C186,503.8 191.7,506.6 195.9,512C200.1,517.5 203.6,525.4 207.4,533.8C211.2,542.2 214.8,553.9 218.7,562.2C222.6,570.6 226.5,578.1 230.8,584C235.2,589.9 238.8,594 244.7,597.4C250.6,600.8 258.9,603.1 266.4,604.4C273.9,605.8 281.8,605.2 289.8,605.6C297.7,606 305.6,607 314,606.8C322.4,606.5 329.9,605.5 340,604.1C350.1,602.7 364.7,599.7 374.7,598.2C384.6,596.8 392.6,595.9 399.8,595.4C407,594.8 410.8,594.8 418,594.9C425.2,595 438.9,595.7 443.1,595.9" fill="none" stroke="#0a0ab4" stroke-width="2.1" stroke-linejoin="round" stroke-linecap="butt"/>
<path d="M106.1,522.9C109,521.1 116.2,516.4 123.4,512C130.6,507.7 141.4,501 149.4,497C157.3,492.9 164.2,490.6 171.1,487.8C177.9,485 183.4,483 190.6,480.2C197.9,477.5 206.4,473.8 214.4,471C222.3,468.3 230.4,465.5 238.4,463.8C246.3,462.2 252.6,461.8 262,461C271.5,460.2 282,459.6 295,459.2C308,458.7 323.8,458.7 340,458.5C356.2,458.3 374.8,458.4 392,458.2C409.2,457.9 434.6,457.3 443.1,457.1" fill="none" stroke="#f40000" stroke-width="2.1" stroke-linejoin="round" stroke-linecap="butt"/>
<path d="M106.1,520.4C109,519 116.2,515.7 123.4,512C130.6,508.4 141.4,502.3 149.4,498.7C157.3,495 163.8,492.8 171.1,490.3C178.3,487.8 185.8,485.8 193,483.6C200.2,481.4 207.2,478.9 214.4,476.9C221.6,474.9 228.1,473 236,471.4C244,469.7 253.4,468 262,466.9C270.7,465.7 275,465 288,464.3C301,463.7 322.7,463.3 340,463.2C357.3,463 374.8,463.5 392,463.5C409.2,463.5 434.6,463.2 443.1,463.2" fill="none" stroke="#f40000" stroke-width="2.1" stroke-linejoin="round" stroke-linecap="butt"/>
<path d="M106.1,518.7C109,517.6 116.2,515 123.4,512C130.6,509.1 141.4,504.2 149.4,501.2C157.3,498.1 163.8,495.7 171.1,493.6C178.3,491.5 185.8,490.4 193,488.6C200.2,486.8 207.2,484.4 214.4,482.8C221.6,481.1 228.1,480.1 236,478.6C244,477 253.4,474.9 262,473.6C270.7,472.2 277.9,471 288,470.2C298.1,469.4 311.1,468.9 322.7,468.5C334.2,468.2 345.8,468.2 357.4,468.2C368.9,468.2 377.7,468.9 392,468.5C406.3,468.1 434.6,466.3 443.1,465.9" fill="none" stroke="#f40000" stroke-width="2.1" stroke-linejoin="round" stroke-linecap="butt"/>
<path d="M106.1,519.6C109,518.3 116.2,514.8 123.4,512C130.6,509.3 141.4,505.2 149.4,502.8C157.3,500.5 163.8,499.1 171.1,497.8C178.3,496.5 185.8,496.4 193,495.1C200.2,493.9 207.2,491.8 214.4,490.3C221.6,488.7 228.1,486.7 236,485.8C244,484.8 253.1,484.8 262,484.4C271,484 279.7,483.3 289.8,483.3C299.9,483.2 311.4,484.3 322.7,484.3C334,484.2 345.8,483.4 357.4,482.8C368.9,482.1 381.9,480.9 392,480.6C402.1,480.3 409.5,480.6 418,481.1C426.5,481.6 438.9,483 443.1,483.4" fill="none" stroke="#f40000" stroke-width="2.1" stroke-linejoin="round" stroke-linecap="butt"/>
<line x1="589.2" y1="462.2" x2="934.7" y2="462.2" stroke="#000" stroke-width="2" stroke-dasharray="2 5"/>
<path d="M590.3,493.6C592,495 596.9,499.5 600.4,501.5C603.9,503.5 607.3,508.1 611.5,505.4C615.8,502.8 622,489.4 625.7,485.8C629.4,482.2 630.5,482.2 633.8,483.8C637.2,485.5 641.4,492.7 646,495.6C650.5,498.6 655.3,500.5 661.2,501.5C667.1,502.5 674.7,502.5 681.4,501.5C688.2,500.5 696.5,495 701.7,495.6C706.9,496.3 708.6,504.4 712.9,505.4C717.1,506.4 722.1,505.4 727,501.5C731.9,497.6 737.2,488.6 742.2,481.9C747.3,475.1 753.6,464.2 757.4,461.2C761.3,458.3 762.3,462.4 765.5,464.2C768.7,466 773,473.3 776.7,472C780.4,470.7 783.8,467.1 787.8,456.3C791.9,445.5 797.1,418.5 801,407.2C804.9,395.8 808.3,388.1 811.1,388.1C814,388.1 815.5,394.8 818.2,407.2C820.9,419.5 824.3,443.2 827.3,462.2C830.4,481.2 833.4,506.4 836.5,521.1C839.5,535.9 842.2,542.1 845.6,550.6C849,559.1 853.2,569.9 856.7,572.2C860.3,574.5 863.3,566.3 866.9,564.4C870.4,562.4 874.5,562.1 878,560.5C881.5,558.8 884.6,554.6 888.1,554.6C891.7,554.6 894.9,557.8 899.3,560.5C903.7,563.1 908.6,566.7 914.5,570.3C920.4,573.9 931.4,580.1 934.7,582.1" fill="none" stroke="#0a0ab4" stroke-width="2.1" stroke-linejoin="round" stroke-linecap="butt"/>
<path d="M590.3,501.5C592,501.2 596.9,503.9 600.4,499.5C603.9,495.1 607.7,478.1 611.5,475.2C615.4,472.2 619,477.8 623.7,481.9C628.4,485.9 635.4,497.6 639.9,499.5C644.5,501.5 646.7,495 651.1,493.6C655.4,492.3 660.3,492.2 666.3,491.7C672.2,491.2 679.8,491.3 686.5,490.7C693.3,490 700,488.6 706.8,487.7C713.5,486.9 721.1,488.1 727,485.8C732.9,483.5 737.2,477.6 742.2,474C747.3,470.4 751.7,464.2 757.4,464.2C763.2,464.2 771.6,474.3 776.7,474C781.7,473.7 783.8,472.4 787.8,462.2C791.9,452 797.1,424.4 801,413.1C804.9,401.8 808.3,394.7 811.1,394.4C814,394.1 815.5,399.8 818.2,411.1C820.9,422.4 824.3,444.5 827.3,462.2C830.4,479.9 833.4,503.5 836.5,517.2C839.5,531 842.7,539.8 845.6,544.7C848.4,549.6 849.8,546.4 853.7,546.7C857.6,547 863.1,546.7 868.9,546.7C874.6,546.7 883.1,546 888.1,546.7C893.2,547.3 894.9,548.7 899.3,550.6C903.7,552.6 908.6,555.9 914.5,558.5C920.4,561.1 931.4,565 934.7,566.3" fill="none" stroke="#0a0ab4" stroke-width="2.1" stroke-linejoin="round" stroke-linecap="butt"/>
<path d="M590.3,497.6C592.5,498.2 599.2,501.8 603.4,501.5C607.7,501.2 610.9,498.2 615.6,495.6C620.3,493 626.7,485.5 631.8,485.8C636.9,486.1 641.1,494.6 646,497.6C650.9,500.5 655.3,502.8 661.2,503.5C667.1,504.1 675,503.1 681.4,501.5C687.9,499.9 694.1,493 699.7,493.6C705.3,494.3 709.5,504.1 714.9,505.4C720.3,506.7 726.7,504.8 732.1,501.5C737.5,498.2 742.7,491 747.3,485.8C751.9,480.5 754.6,471.7 759.5,470.1C764.4,468.4 772,476.3 776.7,476C781.4,475.6 783.8,476.9 787.8,468.1C791.9,459.3 797.1,433.5 801,422.9C804.9,412.3 808.3,404.9 811.1,404.2C814,403.6 815.5,409.3 818.2,419C820.9,428.6 824.3,444.5 827.3,462.2C830.4,479.9 833.4,509.4 836.5,525.1C839.5,540.8 842.2,547.7 845.6,556.5C849,565.4 853.2,575.5 856.7,578.1C860.3,580.8 862.5,575.8 866.9,572.2C871.2,568.6 878.5,560.1 883.1,556.5C887.6,552.9 889.8,549.3 894.2,550.6C898.6,551.9 902.7,560.5 909.4,564.4C916.2,568.3 930.5,572.6 934.7,574.2" fill="none" stroke="#0a0ab4" stroke-width="2.1" stroke-linejoin="round" stroke-linecap="butt"/>
<path d="M590.3,501.5C592,502.5 596.9,507.4 600.4,507.4C603.9,507.4 607.3,504.8 611.5,501.5C615.8,498.2 621.7,489.1 625.7,487.7C629.8,486.4 631.6,491.3 635.9,493.6C640.1,495.9 645.1,499.9 651.1,501.5C657,503.1 664.6,504.1 671.3,503.5C678.1,502.8 684.8,498.2 691.6,497.6C698.3,496.9 705.1,498.2 711.8,499.5C718.6,500.8 726.2,506.4 732.1,505.4C738,504.4 742.7,498.2 747.3,493.6C751.9,489.1 754.6,480.9 759.5,477.9C764.4,475 772,477.9 776.7,476C781.4,474 783.8,473.3 787.8,466.1C791.9,458.9 797.1,441.1 801,432.7C804.9,424.4 808.3,417 811.1,416C814,415 815.5,419.1 818.2,426.8C820.9,434.5 824.3,446.5 827.3,462.2C830.4,477.9 833.4,504.8 836.5,521.1C839.5,537.5 842.2,551.3 845.6,560.5C849,569.6 852.8,572.9 856.7,576.2C860.6,579.4 864.3,579.4 868.9,580.1C873.4,580.8 879,581.1 884.1,580.1C889.1,579.1 894.2,574.9 899.3,574.2C904.3,573.5 908.6,575.8 914.5,576.2C920.4,576.5 931.4,576.2 934.7,576.2" fill="none" stroke="#0a0ab4" stroke-width="2.1" stroke-linejoin="round" stroke-linecap="butt"/>
<path d="M590.3,509.4C591.6,512 595.5,520.5 598.4,525.1C601.2,529.7 604.6,535.2 607.5,536.9C610.4,538.5 612,536.2 615.6,534.9C619.1,533.6 624.5,529.3 628.8,529C633,528.7 636.4,532 640.9,532.9C645.5,533.9 651.1,534.9 656.1,534.9C661.2,534.9 666.3,532.9 671.3,532.9C676.4,532.9 680.6,533.6 686.5,534.9C692.4,536.2 700,540.8 706.8,540.8C713.5,540.8 721.1,535.2 727,534.9C732.9,534.6 736.8,538.2 742.2,538.8C747.6,539.5 753,539.8 759.5,538.8C765.9,537.9 773.3,534.4 780.7,532.9C788.2,531.5 796.9,528.7 804,530C811.1,531.3 817.9,537.2 823.3,540.8C828.7,544.4 832.2,551.4 836.5,551.4C840.7,551.4 844.2,544.4 848.6,540.8C853,537.2 858.6,530 862.8,530C867,530 869.6,536.7 873.9,540.8C878.3,544.9 883.2,550.6 889.1,554.6C895.1,558.5 901.8,558.5 909.4,564.4C917,570.3 930.5,585.7 934.7,589.9" fill="none" stroke="#f40000" stroke-width="2.1" stroke-linejoin="round" stroke-linecap="butt"/>
<path d="M590.3,527C592.8,525.4 599.4,520.6 605.5,517.2C611.5,513.8 620.8,507.1 626.7,506.8C632.6,506.5 635.9,512.1 640.9,515.3C646,518.4 652.6,524.7 657.1,525.7C661.7,526.7 664.2,522.6 668.3,521.1C672.3,519.7 677.2,516.2 681.4,517.2C685.7,518.2 689.7,523.8 693.6,527C697.5,530.3 700.5,535.2 704.8,536.5C709,537.8 713.9,536 718.9,534.9C724,533.8 729.6,530.3 735.1,530C740.7,529.7 747,531.8 752.4,532.9C757.8,534.1 762.8,534.9 767.6,536.9C772.3,538.8 775.7,542.1 780.7,544.7C785.8,547.4 792.6,551 798,552.6C803.4,554.2 808.1,553.6 813.2,554.6C818.2,555.5 823.3,559.1 828.4,558.5C833.4,557.8 838.5,552.3 843.6,550.6C848.6,549 853.7,548 858.7,548.7C863.8,549.3 867.5,553.2 873.9,554.6C880.4,555.9 890.5,557.8 897.2,556.5C904,555.2 908.2,550.3 914.5,546.7C920.7,543.1 931.4,536.9 934.7,534.9" fill="none" stroke="#f40000" stroke-width="2.1" stroke-linejoin="round" stroke-linecap="butt"/>
<path d="M590.3,531C592.8,530.3 599.4,529 605.5,527C611.5,525.1 620.8,518.7 626.7,519.4C632.6,520 636.2,527.4 640.9,531C645.7,534.5 650,539.7 655.1,540.8C660.2,541.9 665.2,538.9 671.3,537.9C677.4,536.8 684.7,533.5 691.6,534.3C698.5,535.1 705.6,541 712.9,542.8C720.1,544.5 728.6,544.7 735.1,544.7C741.7,544.7 747,544.1 752.4,542.8C757.8,541.5 762.8,538.8 767.6,536.9C772.3,534.9 774.8,530.6 780.7,531C786.6,531.3 795.9,534.9 803,538.8C810.1,542.8 817.4,552.3 823.3,554.6C829.2,556.8 833.4,554.2 838.5,552.6C843.6,551 848.6,545.4 853.7,544.7C858.7,544.1 863.1,544.7 868.9,548.7C874.6,552.6 881.4,564.4 888.1,568.3C894.9,572.2 903.2,570.3 909.4,572.2C915.7,574.2 921.4,583.4 925.6,580.1C929.8,576.8 933.2,557.2 934.7,552.6" fill="none" stroke="#f40000" stroke-width="2.1" stroke-linejoin="round" stroke-linecap="butt"/>
<path d="M590.3,532.9C592.8,534.2 599,540.6 605.5,540.8C611.9,541 622.9,534 628.8,534.3C634.7,534.6 636.5,539.9 640.9,542.8C645.3,545.6 650.9,551.3 655.1,551.6C659.3,551.9 662,547.3 666.3,544.7C670.5,542.2 676.2,537.5 680.4,536.5C684.7,535.5 686.2,537.1 691.6,538.8C697,540.5 705.6,544.4 712.9,546.7C720.1,549 728.6,548.6 735.1,552.6C741.7,556.6 747.8,568.2 752.4,570.9C756.9,573.5 758.3,571 762.5,568.3C766.7,565.6 772.6,557.5 777.7,554.6C782.8,551.6 787.8,551 792.9,550.6C798,550.3 802.2,551 808.1,552.6C814,554.2 821.6,559.8 828.4,560.5C835.1,561.1 841.9,556.5 848.6,556.5C855.4,556.5 862.1,560.1 868.9,560.5C875.6,560.8 883.2,557.8 889.1,558.5C895.1,559.1 899.3,561.4 904.3,564.4C909.4,567.3 914.5,573.5 919.5,576.2C924.6,578.8 932.2,579.4 934.7,580.1" fill="none" stroke="#f40000" stroke-width="2.1" stroke-linejoin="round" stroke-linecap="butt"/>
<path d="M1092.9,509.1L1099.8,515.9L1106.8,518.4L1113.7,519.6L1120.6,520.1L1127.5,520.3L1134.4,520.2L1141.3,520.1L1148.2,520.1L1155.2,520.1L1162.1,520.4L1169,520.7L1175.9,521.2L1182.8,521.6L1189.7,522L1196.7,522.4L1203.6,522.7L1210.5,523L1217.4,523.1L1224.3,523.2L1231.2,523.3L1238.1,523.3L1245.1,523.5L1252,523.6L1258.9,523.9L1265.8,524.2L1272.7,524.6L1279.6,525.1L1286.6,525.5L1293.5,525.9L1300.4,526.2L1307.3,526.5L1314.2,526.6L1321.1,526.7L1328.1,526.8L1335,526.9L1341.9,527L1348.8,527.1L1355.7,527.4L1362.6,527.7L1369.5,528.1L1376.5,528.6L1383.4,529L1390.3,529.4L1397.2,529.7L1404.1,530L1411,530.2L1418,530.3L1424.9,530.3L1431.8,530.4L1438.7,530.5" fill="none" stroke="#f40000" stroke-width="2.0" stroke-linejoin="round" stroke-linecap="butt"/>
<path d="M1092.9,509L1099.8,515.8L1106.8,518.1L1113.7,519.1L1120.6,519.5L1127.5,519.6L1134.4,519.6L1141.3,519.6L1148.2,519.7L1155.2,520L1162.1,520.5L1169,520.9L1175.9,521.4L1182.8,521.8L1189.7,522.1L1196.7,522.3L1203.6,522.4L1210.5,522.4L1217.4,522.4L1224.3,522.4L1231.2,522.5L1238.1,522.7L1245.1,523L1252,523.3L1258.9,523.8L1265.8,524.3L1272.7,524.7L1279.6,525.1L1286.6,525.4L1293.5,525.6L1300.4,525.8L1307.3,525.8L1314.2,525.8L1321.1,525.8L1328.1,525.9L1335,526.1L1341.9,526.3L1348.8,526.7L1355.7,527.2L1362.6,527.7L1369.5,528.1L1376.5,528.5L1383.4,528.9L1390.3,529.1L1397.2,529.2L1404.1,529.3L1411,529.3L1418,529.3L1424.9,529.3L1431.8,529.5L1438.7,529.8" fill="none" stroke="#f40000" stroke-width="2.0" stroke-linejoin="round" stroke-linecap="butt"/>
<path d="M1092.9,509L1099.8,515.7L1106.8,518.1L1113.7,519.1L1120.6,519.4L1127.5,519.5L1134.4,519.5L1141.3,519.4L1148.2,519.4L1155.2,519.6L1162.1,520.1L1169,520.5L1175.9,521L1182.8,521.4L1189.7,521.8L1196.7,522L1203.6,522.2L1210.5,522.2L1217.4,522.2L1224.3,522.2L1231.2,522.3L1238.1,522.4L1245.1,522.6L1252,522.9L1258.9,523.3L1265.8,523.7L1272.7,524.2L1279.6,524.6L1286.6,525L1293.5,525.3L1300.4,525.4L1307.3,525.5L1314.2,525.5L1321.1,525.5L1328.1,525.6L1335,525.7L1341.9,525.8L1348.8,526.1L1355.7,526.5L1362.6,527L1369.5,527.5L1376.5,527.9L1383.4,528.3L1390.3,528.6L1397.2,528.8L1404.1,528.9L1411,528.9L1418,528.9L1424.9,529L1431.8,529L1438.7,529.2" fill="none" stroke="#f40000" stroke-width="2.0" stroke-linejoin="round" stroke-linecap="butt"/>
<path d="M1092.9,508.9L1099.8,515.2L1106.8,517.3L1113.7,518.4L1120.6,519L1127.5,519.3L1134.4,519.6L1141.3,519.8L1148.2,519.9L1155.2,520.1L1162.1,520.4L1169,520.6L1175.9,520.7L1182.8,520.8L1189.7,520.9L1196.7,521.1L1203.6,521.2L1210.5,521.4L1217.4,521.6L1224.3,521.9L1231.2,522.2L1238.1,522.5L1245.1,522.9L1252,523.2L1258.9,523.4L1265.8,523.7L1272.7,523.8L1279.6,523.9L1286.6,524.1L1293.5,524.2L1300.4,524.3L1307.3,524.5L1314.2,524.7L1321.1,525L1328.1,525.3L1335,525.7L1341.9,526L1348.8,526.4L1355.7,526.7L1362.6,526.9L1369.5,527.1L1376.5,527.2L1383.4,527.3L1390.3,527.5L1397.2,527.6L1404.1,527.8L1411,528L1418,528.3L1424.9,528.6L1431.8,529L1438.7,529.3" fill="none" stroke="#f40000" stroke-width="2.0" stroke-linejoin="round" stroke-linecap="butt"/>
<path d="M1092.9,508.9L1099.8,515.2L1106.8,517.3L1113.7,518.2L1120.6,518.7L1127.5,518.9L1134.4,519.1L1141.3,519.3L1148.2,519.5L1155.2,519.7L1162.1,520.1L1169,520.4L1175.9,520.7L1182.8,520.8L1189.7,520.9L1196.7,521L1203.6,521L1210.5,521.1L1217.4,521.2L1224.3,521.4L1231.2,521.6L1238.1,521.9L1245.1,522.3L1252,522.7L1258.9,523L1265.8,523.3L1272.7,523.6L1279.6,523.8L1286.6,523.9L1293.5,524L1300.4,524L1307.3,524.1L1314.2,524.2L1321.1,524.4L1328.1,524.6L1335,525L1341.9,525.3L1348.8,525.7L1355.7,526.1L1362.6,526.5L1369.5,526.7L1376.5,527L1383.4,527.1L1390.3,527.2L1397.2,527.3L1404.1,527.3L1411,527.4L1418,527.6L1424.9,527.9L1431.8,528.2L1438.7,528.5" fill="none" stroke="#f40000" stroke-width="2.0" stroke-linejoin="round" stroke-linecap="butt"/>
<path d="M1092.9,508.8L1099.8,515.1L1106.8,517.2L1113.7,518.2L1120.6,518.7L1127.5,519L1134.4,519.1L1141.3,519.2L1148.2,519.3L1155.2,519.4L1162.1,519.6L1169,519.9L1175.9,520.1L1182.8,520.3L1189.7,520.5L1196.7,520.7L1203.6,520.8L1210.5,521L1217.4,521.2L1224.3,521.4L1231.2,521.6L1238.1,521.8L1245.1,522L1252,522.2L1258.9,522.4L1265.8,522.7L1272.7,522.9L1279.6,523.1L1286.6,523.3L1293.5,523.5L1300.4,523.7L1307.3,523.9L1314.2,524.1L1321.1,524.3L1328.1,524.5L1335,524.7L1341.9,525L1348.8,525.2L1355.7,525.5L1362.6,525.7L1369.5,525.9L1376.5,526.2L1383.4,526.4L1390.3,526.6L1397.2,526.8L1404.1,527L1411,527.2L1418,527.4L1424.9,527.6L1431.8,527.9L1438.7,528.1" fill="none" stroke="#f40000" stroke-width="2.0" stroke-linejoin="round" stroke-linecap="butt"/>
<path d="M1092.9,508.8L1099.8,514.9L1106.8,517.1L1113.7,518.2L1120.6,518.7L1127.5,519L1134.4,519.1L1141.3,519.1L1148.2,519.1L1155.2,519.1L1162.1,519.2L1169,519.4L1175.9,519.6L1182.8,519.9L1189.7,520.1L1196.7,520.4L1203.6,520.6L1210.5,520.8L1217.4,521.1L1224.3,521.2L1231.2,521.4L1238.1,521.5L1245.1,521.6L1252,521.8L1258.9,521.9L1265.8,522.1L1272.7,522.3L1279.6,522.5L1286.6,522.8L1293.5,523L1300.4,523.3L1307.3,523.6L1314.2,523.8L1321.1,524L1328.1,524.2L1335,524.4L1341.9,524.5L1348.8,524.7L1355.7,524.9L1362.6,525L1369.5,525.3L1376.5,525.5L1383.4,525.8L1390.3,526.1L1397.2,526.3L1404.1,526.6L1411,526.9L1418,527.1L1424.9,527.3L1431.8,527.5L1438.7,527.6" fill="none" stroke="#f40000" stroke-width="2.0" stroke-linejoin="round" stroke-linecap="butt"/>
<path d="M1092.9,508.7L1099.8,514.9L1106.8,517.1L1113.7,518.2L1120.6,518.7L1127.5,518.9L1134.4,518.9L1141.3,518.8L1148.2,518.7L1155.2,518.6L1162.1,518.8L1169,519L1175.9,519.3L1182.8,519.6L1189.7,519.9L1196.7,520.2L1203.6,520.5L1210.5,520.8L1217.4,520.9L1224.3,521L1231.2,521.1L1238.1,521.1L1245.1,521.1L1252,521.2L1258.9,521.3L1265.8,521.5L1272.7,521.8L1279.6,522.1L1286.6,522.4L1293.5,522.8L1300.4,523.1L1307.3,523.3L1314.2,523.5L1321.1,523.7L1328.1,523.8L1335,523.9L1341.9,523.9L1348.8,524L1355.7,524.2L1362.6,524.4L1369.5,524.6L1376.5,525L1383.4,525.3L1390.3,525.7L1397.2,526L1404.1,526.3L1411,526.5L1418,526.7L1424.9,526.8L1431.8,526.9L1438.7,527" fill="none" stroke="#f40000" stroke-width="2.0" stroke-linejoin="round" stroke-linecap="butt"/>
<path d="M1092.9,508.7L1099.8,514.6L1106.8,516.6L1113.7,517.5L1120.6,518.1L1127.5,518.3L1134.4,518.5L1141.3,518.6L1148.2,518.7L1155.2,518.8L1162.1,519L1169,519.2L1175.9,519.4L1182.8,519.5L1189.7,519.6L1196.7,519.7L1203.6,519.8L1210.5,520L1217.4,520.2L1224.3,520.3L1231.2,520.5L1238.1,520.8L1245.1,521L1252,521.2L1258.9,521.4L1265.8,521.6L1272.7,521.7L1279.6,521.9L1286.6,522L1293.5,522.1L1300.4,522.3L1307.3,522.5L1314.2,522.7L1321.1,522.9L1328.1,523.1L1335,523.4L1341.9,523.6L1348.8,523.9L1355.7,524.1L1362.6,524.3L1369.5,524.5L1376.5,524.7L1383.4,524.9L1390.3,525L1397.2,525.2L1404.1,525.4L1411,525.6L1418,525.8L1424.9,526.1L1431.8,526.3L1438.7,526.6" fill="none" stroke="#f40000" stroke-width="2.0" stroke-linejoin="round" stroke-linecap="butt"/>
<path d="M1092.9,508.6L1099.8,514.4L1106.8,516.3L1113.7,517.4L1120.6,518.1L1127.5,518.6L1134.4,518.8L1141.3,518.9L1148.2,518.9L1155.2,518.8L1162.1,518.7L1169,518.7L1175.9,518.6L1182.8,518.7L1189.7,518.8L1196.7,519L1203.6,519.3L1210.5,519.7L1217.4,520.1L1224.3,520.5L1231.2,520.8L1238.1,520.9L1245.1,521L1252,521L1258.9,521L1265.8,520.9L1272.7,520.9L1279.6,520.9L1286.6,521L1293.5,521.3L1300.4,521.6L1307.3,522L1314.2,522.4L1321.1,522.9L1328.1,523.2L1335,523.5L1341.9,523.6L1348.8,523.7L1355.7,523.7L1362.6,523.6L1369.5,523.6L1376.5,523.7L1383.4,523.8L1390.3,524.1L1397.2,524.4L1404.1,524.8L1411,525.3L1418,525.7L1424.9,526.1L1431.8,526.3L1438.7,526.5" fill="none" stroke="#f40000" stroke-width="2.0" stroke-linejoin="round" stroke-linecap="butt"/>
<path d="M1092.9,508.6L1099.8,514.5L1106.8,516.4L1113.7,517.3L1120.6,517.7L1127.5,517.9L1134.4,518L1141.3,518.1L1148.2,518.1L1155.2,518.2L1162.1,518.4L1169,518.6L1175.9,518.8L1182.8,519L1189.7,519.2L1196.7,519.3L1203.6,519.4L1210.5,519.5L1217.4,519.6L1224.3,519.7L1231.2,519.8L1238.1,520L1245.1,520.1L1252,520.3L1258.9,520.5L1265.8,520.7L1272.7,520.9L1279.6,521.1L1286.6,521.3L1293.5,521.4L1300.4,521.6L1307.3,521.7L1314.2,521.9L1321.1,522L1328.1,522.2L1335,522.4L1341.9,522.6L1348.8,522.8L1355.7,523L1362.6,523.2L1369.5,523.5L1376.5,523.7L1383.4,523.9L1390.3,524.2L1397.2,524.3L1404.1,524.5L1411,524.7L1418,524.8L1424.9,525L1431.8,525.2L1438.7,525.4" fill="none" stroke="#f40000" stroke-width="2.0" stroke-linejoin="round" stroke-linecap="butt"/>
<path d="M1092.9,508.5L1099.8,514.3L1106.8,516.2L1113.7,517.1L1120.6,517.5L1127.5,517.7L1134.4,517.8L1141.3,517.9L1148.2,517.9L1155.2,517.9L1162.1,518.2L1169,518.4L1175.9,518.5L1182.8,518.7L1189.7,518.9L1196.7,519L1203.6,519.1L1210.5,519.2L1217.4,519.3L1224.3,519.4L1231.2,519.5L1238.1,519.6L1245.1,519.8L1252,519.9L1258.9,520.1L1265.8,520.3L1272.7,520.5L1279.6,520.7L1286.6,520.8L1293.5,521L1300.4,521.1L1307.3,521.3L1314.2,521.4L1321.1,521.6L1328.1,521.7L1335,521.9L1341.9,522.1L1348.8,522.3L1355.7,522.6L1362.6,522.8L1369.5,523L1376.5,523.2L1383.4,523.4L1390.3,523.6L1397.2,523.8L1404.1,524L1411,524.1L1418,524.3L1424.9,524.5L1431.8,524.7L1438.7,524.9" fill="none" stroke="#f40000" stroke-width="2.0" stroke-linejoin="round" stroke-linecap="butt"/>
<path d="M1092.9,508.5L1099.8,514.2L1106.8,516L1113.7,517L1120.6,517.4L1127.5,517.6L1134.4,517.7L1141.3,517.7L1148.2,517.7L1155.2,517.7L1162.1,517.9L1169,518L1175.9,518.2L1182.8,518.4L1189.7,518.6L1196.7,518.7L1203.6,518.8L1210.5,519L1217.4,519.1L1224.3,519.2L1231.2,519.2L1238.1,519.3L1245.1,519.4L1252,519.5L1258.9,519.7L1265.8,519.8L1272.7,520L1279.6,520.2L1286.6,520.4L1293.5,520.6L1300.4,520.7L1307.3,520.9L1314.2,521.1L1321.1,521.2L1328.1,521.4L1335,521.5L1341.9,521.7L1348.8,521.8L1355.7,522L1362.6,522.2L1369.5,522.4L1376.5,522.7L1383.4,522.9L1390.3,523.1L1397.2,523.3L1404.1,523.5L1411,523.7L1418,523.9L1424.9,524L1431.8,524.2L1438.7,524.4" fill="none" stroke="#f40000" stroke-width="2.0" stroke-linejoin="round" stroke-linecap="butt"/>
<path d="M1092.9,508.5L1099.8,513.9L1106.8,515.5L1113.7,516.2L1120.6,516.6L1127.5,517L1134.4,517.2L1141.3,517.5L1148.2,517.7L1155.2,517.9L1162.1,518.2L1169,518.3L1175.9,518.4L1182.8,518.3L1189.7,518.3L1196.7,518.2L1203.6,518.1L1210.5,518.1L1217.4,518.2L1224.3,518.4L1231.2,518.7L1238.1,519L1245.1,519.3L1252,519.6L1258.9,519.9L1265.8,520L1272.7,520.1L1279.6,520L1286.6,520L1293.5,519.9L1300.4,519.9L1307.3,519.9L1314.2,520.1L1321.1,520.3L1328.1,520.6L1335,521L1341.9,521.4L1348.8,521.8L1355.7,522.1L1362.6,522.3L1369.5,522.4L1376.5,522.5L1383.4,522.5L1390.3,522.4L1397.2,522.4L1404.1,522.5L1411,522.6L1418,522.9L1424.9,523.2L1431.8,523.6L1438.7,524" fill="none" stroke="#f40000" stroke-width="2.0" stroke-linejoin="round" stroke-linecap="butt"/>
<path d="M1092.9,508.4L1099.8,513.8L1106.8,515.5L1113.7,516.4L1120.6,516.9L1127.5,517.2L1134.4,517.3L1141.3,517.4L1148.2,517.4L1155.2,517.4L1162.1,517.5L1169,517.6L1175.9,517.7L1182.8,517.8L1189.7,517.8L1196.7,518L1203.6,518.1L1210.5,518.2L1217.4,518.4L1224.3,518.5L1231.2,518.7L1238.1,518.8L1245.1,518.9L1252,519L1258.9,519.1L1265.8,519.1L1272.7,519.2L1279.6,519.3L1286.6,519.4L1293.5,519.5L1300.4,519.7L1307.3,519.9L1314.2,520.1L1321.1,520.3L1328.1,520.5L1335,520.7L1341.9,520.9L1348.8,521.1L1355.7,521.2L1362.6,521.4L1369.5,521.5L1376.5,521.6L1383.4,521.8L1390.3,521.9L1397.2,522.1L1404.1,522.3L1411,522.6L1418,522.8L1424.9,523L1431.8,523.3L1438.7,523.5" fill="none" stroke="#f40000" stroke-width="2.0" stroke-linejoin="round" stroke-linecap="butt"/>
<path d="M1092.9,508.4L1099.8,513.7L1106.8,515.2L1113.7,515.9L1120.6,516.2L1127.5,516.4L1134.4,516.6L1141.3,516.9L1148.2,517.1L1155.2,517.3L1162.1,517.6L1169,517.9L1175.9,518L1182.8,518L1189.7,517.9L1196.7,517.8L1203.6,517.7L1210.5,517.6L1217.4,517.6L1224.3,517.6L1231.2,517.8L1238.1,518.1L1245.1,518.4L1252,518.7L1258.9,519L1265.8,519.2L1272.7,519.3L1279.6,519.4L1286.6,519.3L1293.5,519.3L1300.4,519.2L1307.3,519.1L1314.2,519.2L1321.1,519.3L1328.1,519.6L1335,519.9L1341.9,520.3L1348.8,520.7L1355.7,521L1362.6,521.3L1369.5,521.5L1376.5,521.6L1383.4,521.6L1390.3,521.6L1397.2,521.6L1404.1,521.6L1411,521.6L1418,521.8L1424.9,522L1431.8,522.3L1438.7,522.7" fill="none" stroke="#f40000" stroke-width="2.0" stroke-linejoin="round" stroke-linecap="butt"/>
<path d="M1092.9,508.3L1099.8,513.4L1106.8,515.1L1113.7,516.1L1120.6,516.7L1127.5,517.1L1134.4,517.3L1141.3,517.4L1148.2,517.3L1155.2,517.1L1162.1,517L1169,516.9L1175.9,516.8L1182.8,516.8L1189.7,516.9L1196.7,517L1203.6,517.3L1210.5,517.6L1217.4,517.9L1224.3,518.2L1231.2,518.4L1238.1,518.5L1245.1,518.5L1252,518.4L1258.9,518.3L1265.8,518.2L1272.7,518.1L1279.6,518L1286.6,518.1L1293.5,518.3L1300.4,518.6L1307.3,519L1314.2,519.4L1321.1,519.8L1328.1,520.1L1335,520.3L1341.9,520.4L1348.8,520.4L1355.7,520.3L1362.6,520.2L1369.5,520.2L1376.5,520.2L1383.4,520.3L1390.3,520.5L1397.2,520.9L1404.1,521.3L1411,521.7L1418,522.1L1424.9,522.4L1431.8,522.7L1438.7,522.8" fill="none" stroke="#f40000" stroke-width="2.0" stroke-linejoin="round" stroke-linecap="butt"/>
<path d="M1092.9,508.3L1099.8,513.6L1106.8,515.4L1113.7,516.3L1120.6,516.7L1127.5,516.8L1134.4,516.7L1141.3,516.6L1148.2,516.4L1155.2,516.3L1162.1,516.3L1169,516.5L1175.9,516.7L1182.8,516.9L1189.7,517.2L1196.7,517.4L1203.6,517.6L1210.5,517.8L1217.4,517.8L1224.3,517.8L1231.2,517.7L1238.1,517.6L1245.1,517.5L1252,517.4L1258.9,517.5L1265.8,517.5L1272.7,517.7L1279.6,518L1286.6,518.3L1293.5,518.5L1300.4,518.8L1307.3,519L1314.2,519.2L1321.1,519.3L1328.1,519.3L1335,519.3L1341.9,519.2L1348.8,519.3L1355.7,519.3L1362.6,519.5L1369.5,519.7L1376.5,520L1383.4,520.4L1390.3,520.7L1397.2,521L1404.1,521.3L1411,521.5L1418,521.6L1424.9,521.6L1431.8,521.6L1438.7,521.6" fill="none" stroke="#f40000" stroke-width="2.0" stroke-linejoin="round" stroke-linecap="butt"/>
<path d="M1092.9,508.2L1099.8,513.1L1106.8,514.6L1113.7,515.4L1120.6,516L1127.5,516.5L1134.4,516.7L1141.3,516.9L1148.2,516.9L1155.2,516.9L1162.1,516.8L1169,516.7L1175.9,516.5L1182.8,516.4L1189.7,516.4L1196.7,516.4L1203.6,516.5L1210.5,516.7L1217.4,517L1224.3,517.3L1231.2,517.6L1238.1,517.8L1245.1,517.9L1252,517.9L1258.9,517.8L1265.8,517.7L1272.7,517.5L1279.6,517.4L1286.6,517.3L1293.5,517.4L1300.4,517.6L1307.3,517.9L1314.2,518.2L1321.1,518.6L1328.1,519L1335,519.3L1341.9,519.5L1348.8,519.6L1355.7,519.6L1362.6,519.6L1369.5,519.5L1376.5,519.4L1383.4,519.4L1390.3,519.5L1397.2,519.7L1404.1,520L1411,520.4L1418,520.8L1424.9,521.2L1431.8,521.5L1438.7,521.8" fill="none" stroke="#f40000" stroke-width="2.0" stroke-linejoin="round" stroke-linecap="butt"/>
<path d="M1092.9,508.2L1099.8,513.5L1106.8,515.2L1113.7,515.9L1120.6,516.1L1127.5,516L1134.4,515.8L1141.3,515.7L1148.2,515.6L1155.2,515.6L1162.1,515.9L1169,516.2L1175.9,516.5L1182.8,516.8L1189.7,517.1L1196.7,517.2L1203.6,517.2L1210.5,517.2L1217.4,517L1224.3,516.8L1231.2,516.6L1238.1,516.5L1245.1,516.4L1252,516.5L1258.9,516.6L1265.8,516.9L1272.7,517.2L1279.6,517.6L1286.6,517.9L1293.5,518.1L1300.4,518.2L1307.3,518.2L1314.2,518.2L1321.1,518.1L1328.1,518L1335,517.9L1341.9,517.9L1348.8,518.1L1355.7,518.3L1362.6,518.6L1369.5,519L1376.5,519.4L1383.4,519.8L1390.3,520.1L1397.2,520.3L1404.1,520.3L1411,520.3L1418,520.2L1424.9,520.2L1431.8,520.1L1438.7,520.1" fill="none" stroke="#f40000" stroke-width="2.0" stroke-linejoin="round" stroke-linecap="butt"/>
<path d="M1092.9,508.1L1099.8,513.2L1106.8,514.6L1113.7,515.2L1120.6,515.5L1127.5,515.7L1134.4,515.7L1141.3,515.8L1148.2,515.8L1155.2,515.9L1162.1,516.1L1169,516.2L1175.9,516.4L1182.8,516.4L1189.7,516.5L1196.7,516.5L1203.6,516.4L1210.5,516.4L1217.4,516.3L1224.3,516.3L1231.2,516.4L1238.1,516.4L1245.1,516.5L1252,516.6L1258.9,516.8L1265.8,516.9L1272.7,517L1279.6,517.1L1286.6,517.2L1293.5,517.2L1300.4,517.2L1307.3,517.3L1314.2,517.3L1321.1,517.4L1328.1,517.6L1335,517.7L1341.9,517.9L1348.8,518.1L1355.7,518.3L1362.6,518.6L1369.5,518.8L1376.5,518.9L1383.4,519.1L1390.3,519.2L1397.2,519.2L1404.1,519.3L1411,519.4L1418,519.5L1424.9,519.6L1431.8,519.8L1438.7,520" fill="none" stroke="#f40000" stroke-width="2.0" stroke-linejoin="round" stroke-linecap="butt"/>
<path d="M1092.9,508.1L1099.8,513L1106.8,514.4L1113.7,515.2L1120.6,515.5L1127.5,515.7L1134.4,515.8L1141.3,515.8L1148.2,515.7L1155.2,515.7L1162.1,515.8L1169,515.8L1175.9,515.8L1182.8,515.9L1189.7,516L1196.7,516L1203.6,516.1L1210.5,516.2L1217.4,516.2L1224.3,516.3L1231.2,516.3L1238.1,516.3L1245.1,516.3L1252,516.3L1258.9,516.3L1265.8,516.3L1272.7,516.3L1279.6,516.4L1286.6,516.5L1293.5,516.6L1300.4,516.8L1307.3,516.9L1314.2,517.1L1321.1,517.2L1328.1,517.4L1335,517.5L1341.9,517.6L1348.8,517.7L1355.7,517.8L1362.6,517.9L1369.5,518L1376.5,518.2L1383.4,518.3L1390.3,518.5L1397.2,518.7L1404.1,518.9L1411,519.1L1418,519.2L1424.9,519.4L1431.8,519.5L1438.7,519.7" fill="none" stroke="#f40000" stroke-width="2.0" stroke-linejoin="round" stroke-linecap="butt"/>
<path d="M1092.9,508L1099.8,512.8L1106.8,514.2L1113.7,514.9L1120.6,515.2L1127.5,515.4L1134.4,515.5L1141.3,515.5L1148.2,515.5L1155.2,515.5L1162.1,515.6L1169,515.6L1175.9,515.7L1182.8,515.7L1189.7,515.7L1196.7,515.8L1203.6,515.8L1210.5,515.8L1217.4,515.8L1224.3,515.8L1231.2,515.9L1238.1,515.9L1245.1,515.9L1252,515.9L1258.9,516L1265.8,516L1272.7,516L1279.6,516.1L1286.6,516.2L1293.5,516.2L1300.4,516.3L1307.3,516.4L1314.2,516.6L1321.1,516.7L1328.1,516.8L1335,517L1341.9,517.1L1348.8,517.2L1355.7,517.4L1362.6,517.5L1369.5,517.6L1376.5,517.8L1383.4,517.9L1390.3,518L1397.2,518.2L1404.1,518.3L1411,518.5L1418,518.6L1424.9,518.8L1431.8,518.9L1438.7,519.1" fill="none" stroke="#f40000" stroke-width="2.0" stroke-linejoin="round" stroke-linecap="butt"/>
<path d="M1092.9,508L1099.8,512.6L1106.8,514L1113.7,514.7L1120.6,515.2L1127.5,515.5L1134.4,515.6L1141.3,515.6L1148.2,515.5L1155.2,515.4L1162.1,515.3L1169,515.2L1175.9,515.2L1182.8,515.1L1189.7,515.2L1196.7,515.2L1203.6,515.4L1210.5,515.5L1217.4,515.7L1224.3,515.8L1231.2,515.9L1238.1,515.9L1245.1,515.8L1252,515.7L1258.9,515.6L1265.8,515.5L1272.7,515.4L1279.6,515.4L1286.6,515.4L1293.5,515.6L1300.4,515.8L1307.3,516L1314.2,516.3L1321.1,516.5L1328.1,516.7L1335,516.8L1341.9,516.9L1348.8,516.9L1355.7,516.9L1362.6,516.9L1369.5,516.9L1376.5,516.9L1383.4,517.1L1390.3,517.2L1397.2,517.5L1404.1,517.8L1411,518.1L1418,518.3L1424.9,518.6L1431.8,518.7L1438.7,518.8" fill="none" stroke="#f40000" stroke-width="2.0" stroke-linejoin="round" stroke-linecap="butt"/>
<path d="M1092.9,507.9L1099.8,512.5L1106.8,513.6L1113.7,514.1L1120.6,514.5L1127.5,514.7L1134.4,514.9L1141.3,515L1148.2,515.2L1155.2,515.3L1162.1,515.5L1169,515.5L1175.9,515.5L1182.8,515.4L1189.7,515.2L1196.7,515.1L1203.6,514.9L1210.5,514.8L1217.4,514.8L1224.3,514.9L1231.2,515L1238.1,515.1L1245.1,515.3L1252,515.5L1258.9,515.6L1265.8,515.6L1272.7,515.6L1279.6,515.5L1286.6,515.4L1293.5,515.3L1300.4,515.2L1307.3,515.2L1314.2,515.3L1321.1,515.5L1328.1,515.7L1335,516L1341.9,516.3L1348.8,516.5L1355.7,516.8L1362.6,516.9L1369.5,517L1376.5,517L1383.4,517L1390.3,516.9L1397.2,516.9L1404.1,516.9L1411,517.1L1418,517.2L1424.9,517.5L1431.8,517.8L1438.7,518.1" fill="none" stroke="#f40000" stroke-width="2.0" stroke-linejoin="round" stroke-linecap="butt"/>
<path d="M1092.9,507.9L1099.8,512.4L1106.8,513.7L1113.7,514.4L1120.6,514.8L1127.5,514.9L1134.4,515L1141.3,515L1148.2,514.9L1155.2,514.8L1162.1,514.8L1169,514.8L1175.9,514.8L1182.8,514.8L1189.7,514.8L1196.7,514.8L1203.6,514.9L1210.5,514.9L1217.4,515L1224.3,515L1231.2,515L1238.1,515L1245.1,514.9L1252,514.8L1258.9,514.8L1265.8,514.7L1272.7,514.7L1279.6,514.7L1286.6,514.8L1293.5,514.9L1300.4,515L1307.3,515.2L1314.2,515.3L1321.1,515.5L1328.1,515.6L1335,515.7L1341.9,515.8L1348.8,515.9L1355.7,515.9L1362.6,515.9L1369.5,516L1376.5,516.1L1383.4,516.2L1390.3,516.4L1397.2,516.6L1404.1,516.8L1411,517L1418,517.2L1424.9,517.4L1431.8,517.5L1438.7,517.6" fill="none" stroke="#f40000" stroke-width="2.0" stroke-linejoin="round" stroke-linecap="butt"/>
<path d="M1092.9,507.9L1099.8,512.4L1106.8,513.7L1113.7,514.1L1120.6,514.3L1127.5,514.3L1134.4,514.3L1141.3,514.3L1148.2,514.3L1155.2,514.4L1162.1,514.6L1169,514.7L1175.9,514.9L1182.8,514.9L1189.7,515L1196.7,514.9L1203.6,514.8L1210.5,514.6L1217.4,514.5L1224.3,514.3L1231.2,514.2L1238.1,514.2L1245.1,514.2L1252,514.3L1258.9,514.4L1265.8,514.5L1272.7,514.6L1279.6,514.7L1286.6,514.8L1293.5,514.8L1300.4,514.8L1307.3,514.8L1314.2,514.7L1321.1,514.7L1328.1,514.7L1335,514.8L1341.9,515L1348.8,515.2L1355.7,515.4L1362.6,515.6L1369.5,515.9L1376.5,516.1L1383.4,516.2L1390.3,516.3L1397.2,516.3L1404.1,516.4L1411,516.4L1418,516.4L1424.9,516.4L1431.8,516.5L1438.7,516.7" fill="none" stroke="#f40000" stroke-width="2.0" stroke-linejoin="round" stroke-linecap="butt"/>
<path d="M1092.9,507.8L1099.8,512.1L1106.8,513.3L1113.7,514L1120.6,514.4L1127.5,514.6L1134.4,514.7L1141.3,514.6L1148.2,514.5L1155.2,514.4L1162.1,514.3L1169,514.2L1175.9,514.2L1182.8,514.1L1189.7,514.1L1196.7,514.2L1203.6,514.2L1210.5,514.3L1217.4,514.4L1224.3,514.4L1231.2,514.4L1238.1,514.4L1245.1,514.3L1252,514.2L1258.9,514L1265.8,513.9L1272.7,513.8L1279.6,513.8L1286.6,513.8L1293.5,513.9L1300.4,514.1L1307.3,514.3L1314.2,514.5L1321.1,514.7L1328.1,514.8L1335,514.9L1341.9,515L1348.8,515L1355.7,515L1362.6,515L1369.5,515L1376.5,515L1383.4,515.1L1390.3,515.3L1397.2,515.5L1404.1,515.8L1411,516L1418,516.2L1424.9,516.4L1431.8,516.6L1438.7,516.6" fill="none" stroke="#f40000" stroke-width="2.0" stroke-linejoin="round" stroke-linecap="butt"/>
<path d="M1092.9,507.8L1099.8,512.1L1106.8,513.2L1113.7,513.8L1120.6,514L1127.5,514.1L1134.4,514.1L1141.3,514.1L1148.2,514.1L1155.2,514L1162.1,514.1L1169,514.1L1175.9,514.2L1182.8,514.2L1189.7,514.2L1196.7,514.1L1203.6,514.1L1210.5,514L1217.4,514L1224.3,513.9L1231.2,513.8L1238.1,513.7L1245.1,513.7L1252,513.7L1258.9,513.6L1265.8,513.6L1272.7,513.7L1279.6,513.7L1286.6,513.7L1293.5,513.8L1300.4,513.8L1307.3,513.9L1314.2,513.9L1321.1,514L1328.1,514.1L1335,514.2L1341.9,514.2L1348.8,514.3L1355.7,514.5L1362.6,514.6L1369.5,514.7L1376.5,514.8L1383.4,515L1390.3,515.1L1397.2,515.2L1404.1,515.3L1411,515.4L1418,515.5L1424.9,515.6L1431.8,515.7L1438.7,515.8" fill="none" stroke="#f40000" stroke-width="2.0" stroke-linejoin="round" stroke-linecap="butt"/>
<path d="M1092.9,507.7L1099.8,512L1106.8,513L1113.7,513.5L1120.6,513.8L1127.5,513.9L1134.4,513.9L1141.3,513.9L1148.2,513.9L1155.2,513.9L1162.1,513.9L1169,513.9L1175.9,513.9L1182.8,513.9L1189.7,513.9L1196.7,513.8L1203.6,513.8L1210.5,513.7L1217.4,513.6L1224.3,513.5L1231.2,513.5L1238.1,513.4L1245.1,513.4L1252,513.3L1258.9,513.3L1265.8,513.3L1272.7,513.3L1279.6,513.3L1286.6,513.3L1293.5,513.3L1300.4,513.4L1307.3,513.4L1314.2,513.5L1321.1,513.5L1328.1,513.6L1335,513.7L1341.9,513.8L1348.8,513.9L1355.7,514L1362.6,514.1L1369.5,514.2L1376.5,514.3L1383.4,514.4L1390.3,514.5L1397.2,514.6L1404.1,514.8L1411,514.9L1418,515L1424.9,515.1L1431.8,515.2L1438.7,515.3" fill="none" stroke="#f40000" stroke-width="2.0" stroke-linejoin="round" stroke-linecap="butt"/>
<path d="M1092.9,507.7L1099.8,512L1106.8,513.2L1113.7,513.6L1120.6,513.6L1127.5,513.5L1134.4,513.3L1141.3,513.2L1148.2,513.2L1155.2,513.2L1162.1,513.4L1169,513.6L1175.9,513.8L1182.8,514L1189.7,514.1L1196.7,514L1203.6,513.9L1210.5,513.6L1217.4,513.3L1224.3,513L1231.2,512.8L1238.1,512.6L1245.1,512.5L1252,512.5L1258.9,512.6L1265.8,512.8L1272.7,513L1279.6,513.2L1286.6,513.3L1293.5,513.4L1300.4,513.3L1307.3,513.2L1314.2,513.1L1321.1,512.9L1328.1,512.8L1335,512.8L1341.9,512.9L1348.8,513L1355.7,513.3L1362.6,513.6L1369.5,513.9L1376.5,514.2L1383.4,514.4L1390.3,514.5L1397.2,514.6L1404.1,514.5L1411,514.4L1418,514.3L1424.9,514.3L1431.8,514.2L1438.7,514.3" fill="none" stroke="#f40000" stroke-width="2.0" stroke-linejoin="round" stroke-linecap="butt"/>
<path d="M1092.9,507.6L1099.8,511.6L1106.8,512.4L1113.7,512.7L1120.6,513L1127.5,513.2L1134.4,513.3L1141.3,513.5L1148.2,513.7L1155.2,513.8L1162.1,513.9L1169,513.8L1175.9,513.7L1182.8,513.5L1189.7,513.3L1196.7,513L1203.6,512.8L1210.5,512.6L1217.4,512.5L1224.3,512.6L1231.2,512.6L1238.1,512.7L1245.1,512.8L1252,512.9L1258.9,513L1265.8,512.9L1272.7,512.8L1279.6,512.6L1286.6,512.4L1293.5,512.3L1300.4,512.1L1307.3,512.1L1314.2,512.1L1321.1,512.3L1328.1,512.5L1335,512.8L1341.9,513.1L1348.8,513.3L1355.7,513.5L1362.6,513.6L1369.5,513.6L1376.5,513.6L1383.4,513.5L1390.3,513.4L1397.2,513.3L1404.1,513.3L1411,513.4L1418,513.6L1424.9,513.8L1431.8,514.1L1438.7,514.4" fill="none" stroke="#f40000" stroke-width="2.0" stroke-linejoin="round" stroke-linecap="butt"/>
<path d="M1092.9,507.6L1099.8,511.5L1106.8,512.5L1113.7,513.1L1120.6,513.4L1127.5,513.6L1134.4,513.6L1141.3,513.5L1148.2,513.4L1155.2,513.2L1162.1,513L1169,512.9L1175.9,512.8L1182.8,512.8L1189.7,512.7L1196.7,512.8L1203.6,512.8L1210.5,512.9L1217.4,512.9L1224.3,512.9L1231.2,512.8L1238.1,512.7L1245.1,512.5L1252,512.2L1258.9,512L1265.8,511.9L1272.7,511.7L1279.6,511.7L1286.6,511.7L1293.5,511.9L1300.4,512L1307.3,512.2L1314.2,512.4L1321.1,512.5L1328.1,512.6L1335,512.6L1341.9,512.6L1348.8,512.6L1355.7,512.5L1362.6,512.5L1369.5,512.4L1376.5,512.5L1383.4,512.6L1390.3,512.8L1397.2,513.1L1404.1,513.3L1411,513.5L1418,513.7L1424.9,513.9L1431.8,513.9L1438.7,513.9" fill="none" stroke="#f40000" stroke-width="2.0" stroke-linejoin="round" stroke-linecap="butt"/>
<path d="M1092.9,507.5L1099.8,511.4L1106.8,512.3L1113.7,512.8L1120.6,513L1127.5,513L1134.4,513.1L1141.3,513L1148.2,513L1155.2,512.9L1162.1,513L1169,512.9L1175.9,512.9L1182.8,512.8L1189.7,512.8L1196.7,512.7L1203.6,512.6L1210.5,512.4L1217.4,512.3L1224.3,512.2L1231.2,512.1L1238.1,512L1245.1,511.9L1252,511.8L1258.9,511.8L1265.8,511.7L1272.7,511.7L1279.6,511.6L1286.6,511.6L1293.5,511.6L1300.4,511.6L1307.3,511.6L1314.2,511.7L1321.1,511.7L1328.1,511.8L1335,511.9L1341.9,512L1348.8,512L1355.7,512.1L1362.6,512.2L1369.5,512.3L1376.5,512.4L1383.4,512.4L1390.3,512.5L1397.2,512.6L1404.1,512.7L1411,512.8L1418,512.9L1424.9,513L1431.8,513.1L1438.7,513.2" fill="none" stroke="#f40000" stroke-width="2.0" stroke-linejoin="round" stroke-linecap="butt"/>
<path d="M1092.9,507.5L1099.8,511.1L1106.8,511.8L1113.7,512.2L1120.6,512.6L1127.5,512.9L1134.4,513.2L1141.3,513.3L1148.2,513.3L1155.2,513.2L1162.1,513.1L1169,512.8L1175.9,512.5L1182.8,512.2L1189.7,512L1196.7,511.8L1203.6,511.8L1210.5,511.8L1217.4,511.9L1224.3,512L1231.2,512.1L1238.1,512.1L1245.1,512.1L1252,512L1258.9,511.8L1265.8,511.5L1272.7,511.2L1279.6,510.9L1286.6,510.7L1293.5,510.6L1300.4,510.7L1307.3,510.8L1314.2,511.1L1321.1,511.3L1328.1,511.6L1335,511.9L1341.9,512L1348.8,512.1L1355.7,512.1L1362.6,511.9L1369.5,511.8L1376.5,511.6L1383.4,511.5L1390.3,511.5L1397.2,511.6L1404.1,511.8L1411,512L1418,512.4L1424.9,512.7L1431.8,513L1438.7,513.2" fill="none" stroke="#f40000" stroke-width="2.0" stroke-linejoin="round" stroke-linecap="butt"/>
<path d="M1092.9,507.4L1099.8,511L1106.8,511.7L1113.7,512.1L1120.6,512.5L1127.5,512.7L1134.4,512.9L1141.3,513L1148.2,513L1155.2,512.9L1162.1,512.7L1169,512.5L1175.9,512.3L1182.8,512L1189.7,511.8L1196.7,511.7L1203.6,511.6L1210.5,511.6L1217.4,511.6L1224.3,511.7L1231.2,511.7L1238.1,511.7L1245.1,511.6L1252,511.5L1258.9,511.3L1265.8,511L1272.7,510.8L1279.6,510.6L1286.6,510.4L1293.5,510.3L1300.4,510.4L1307.3,510.5L1314.2,510.7L1321.1,510.9L1328.1,511.2L1335,511.3L1341.9,511.5L1348.8,511.5L1355.7,511.5L1362.6,511.4L1369.5,511.2L1376.5,511.1L1383.4,511.1L1390.3,511.1L1397.2,511.2L1404.1,511.4L1411,511.6L1418,511.9L1424.9,512.2L1431.8,512.4L1438.7,512.6" fill="none" stroke="#f40000" stroke-width="2.0" stroke-linejoin="round" stroke-linecap="butt"/>
<path d="M1092.9,507.4L1099.8,511.1L1106.8,511.7L1113.7,511.9L1120.6,511.9L1127.5,511.9L1134.4,511.9L1141.3,512L1148.2,512.2L1155.2,512.3L1162.1,512.5L1169,512.6L1175.9,512.7L1182.8,512.5L1189.7,512.3L1196.7,512L1203.6,511.6L1210.5,511.2L1217.4,510.9L1224.3,510.7L1231.2,510.6L1238.1,510.6L1245.1,510.7L1252,510.8L1258.9,510.9L1265.8,511L1272.7,511L1279.6,510.9L1286.6,510.8L1293.5,510.6L1300.4,510.3L1307.3,510.1L1314.2,509.9L1321.1,509.9L1328.1,509.9L1335,510.1L1341.9,510.3L1348.8,510.6L1355.7,510.9L1362.6,511.2L1369.5,511.3L1376.5,511.4L1383.4,511.4L1390.3,511.3L1397.2,511.1L1404.1,510.9L1411,510.8L1418,510.8L1424.9,510.9L1431.8,511.1L1438.7,511.3" fill="none" stroke="#f40000" stroke-width="2.0" stroke-linejoin="round" stroke-linecap="butt"/>
<path d="M1092.9,507.3L1099.8,510.9L1106.8,511.6L1113.7,512.1L1120.6,512.3L1127.5,512.4L1134.4,512.4L1141.3,512.3L1148.2,512.2L1155.2,512L1162.1,511.9L1169,511.8L1175.9,511.7L1182.8,511.6L1189.7,511.5L1196.7,511.4L1203.6,511.4L1210.5,511.3L1217.4,511.2L1224.3,511.1L1231.2,511L1238.1,510.8L1245.1,510.6L1252,510.4L1258.9,510.2L1265.8,510L1272.7,509.9L1279.6,509.8L1286.6,509.8L1293.5,509.8L1300.4,509.9L1307.3,510L1314.2,510.1L1321.1,510.1L1328.1,510.2L1335,510.2L1341.9,510.2L1348.8,510.2L1355.7,510.2L1362.6,510.1L1369.5,510.1L1376.5,510.2L1383.4,510.3L1390.3,510.4L1397.2,510.5L1404.1,510.7L1411,510.9L1418,511L1424.9,511.1L1431.8,511.2L1438.7,511.2" fill="none" stroke="#f40000" stroke-width="2.0" stroke-linejoin="round" stroke-linecap="butt"/>
<path d="M1092.9,507.3L1099.8,510.9L1106.8,511.8L1113.7,512.2L1120.6,512.4L1127.5,512.3L1134.4,512.2L1141.3,511.9L1148.2,511.6L1155.2,511.4L1162.1,511.3L1169,511.2L1175.9,511.2L1182.8,511.3L1189.7,511.4L1196.7,511.4L1203.6,511.4L1210.5,511.4L1217.4,511.2L1224.3,511L1231.2,510.7L1238.1,510.3L1245.1,509.9L1252,509.6L1258.9,509.4L1265.8,509.3L1272.7,509.3L1279.6,509.4L1286.6,509.5L1293.5,509.7L1300.4,509.8L1307.3,509.9L1314.2,509.9L1321.1,509.9L1328.1,509.8L1335,509.6L1341.9,509.5L1348.8,509.4L1355.7,509.3L1362.6,509.3L1369.5,509.4L1376.5,509.6L1383.4,509.9L1390.3,510.2L1397.2,510.4L1404.1,510.6L1411,510.7L1418,510.7L1424.9,510.6L1431.8,510.5L1438.7,510.4" fill="none" stroke="#f40000" stroke-width="2.0" stroke-linejoin="round" stroke-linecap="butt"/>
<path d="M1092.9,507.3L1099.8,510.5L1106.8,511L1113.7,511.2L1120.6,511.5L1127.5,511.7L1134.4,511.8L1141.3,512L1148.2,512L1155.2,512L1162.1,511.9L1169,511.7L1175.9,511.5L1182.8,511.2L1189.7,510.9L1196.7,510.6L1203.6,510.4L1210.5,510.2L1217.4,510.2L1224.3,510.1L1231.2,510.2L1238.1,510.2L1245.1,510.1L1252,510L1258.9,509.9L1265.8,509.7L1272.7,509.4L1279.6,509.1L1286.6,508.9L1293.5,508.7L1300.4,508.6L1307.3,508.6L1314.2,508.7L1321.1,508.9L1328.1,509.1L1335,509.3L1341.9,509.5L1348.8,509.6L1355.7,509.7L1362.6,509.6L1369.5,509.5L1376.5,509.4L1383.4,509.3L1390.3,509.2L1397.2,509.2L1404.1,509.2L1411,509.4L1418,509.6L1424.9,509.8L1431.8,510.1L1438.7,510.3" fill="none" stroke="#f40000" stroke-width="2.0" stroke-linejoin="round" stroke-linecap="butt"/>
<path d="M1092.9,507.2L1099.8,510.7L1106.8,511.4L1113.7,511.5L1120.6,511.4L1127.5,511.2L1134.4,511.1L1141.3,511L1148.2,511L1155.2,511L1162.1,511.2L1169,511.3L1175.9,511.4L1182.8,511.4L1189.7,511.3L1196.7,511.1L1203.6,510.8L1210.5,510.4L1217.4,510L1224.3,509.6L1231.2,509.3L1238.1,509.1L1245.1,508.9L1252,508.9L1258.9,509L1265.8,509.1L1272.7,509.2L1279.6,509.2L1286.6,509.2L1293.5,509.1L1300.4,509L1307.3,508.8L1314.2,508.5L1321.1,508.3L1328.1,508.2L1335,508.2L1341.9,508.2L1348.8,508.4L1355.7,508.6L1362.6,508.9L1369.5,509.1L1376.5,509.3L1383.4,509.5L1390.3,509.5L1397.2,509.4L1404.1,509.3L1411,509.2L1418,509L1424.9,508.9L1431.8,508.9L1438.7,509" fill="none" stroke="#f40000" stroke-width="2.0" stroke-linejoin="round" stroke-linecap="butt"/>
<path d="M1092.9,507.2L1099.8,510.3L1106.8,510.6L1113.7,510.7L1120.6,510.8L1127.5,511L1134.4,511.2L1141.3,511.4L1148.2,511.5L1155.2,511.6L1162.1,511.6L1169,511.4L1175.9,511.2L1182.8,510.8L1189.7,510.5L1196.7,510.1L1203.6,509.7L1210.5,509.5L1217.4,509.3L1224.3,509.2L1231.2,509.3L1238.1,509.3L1245.1,509.3L1252,509.3L1258.9,509.3L1265.8,509.1L1272.7,508.9L1279.6,508.6L1286.6,508.2L1293.5,508L1300.4,507.7L1307.3,507.6L1314.2,507.6L1321.1,507.8L1328.1,508L1335,508.2L1341.9,508.5L1348.8,508.7L1355.7,508.8L1362.6,508.9L1369.5,508.8L1376.5,508.6L1383.4,508.5L1390.3,508.3L1397.2,508.1L1404.1,508.1L1411,508.2L1418,508.3L1424.9,508.6L1431.8,508.9L1438.7,509.2" fill="none" stroke="#f40000" stroke-width="2.0" stroke-linejoin="round" stroke-linecap="butt"/>
<path d="M1092.9,507.1L1099.8,510.2L1106.8,510.6L1113.7,510.8L1120.6,511L1127.5,511.1L1134.4,511.1L1141.3,511.1L1148.2,511.1L1155.2,511L1162.1,511L1169,510.8L1175.9,510.6L1182.8,510.4L1189.7,510.2L1196.7,510L1203.6,509.7L1210.5,509.5L1217.4,509.4L1224.3,509.2L1231.2,509.1L1238.1,509L1245.1,508.8L1252,508.7L1258.9,508.5L1265.8,508.3L1272.7,508.2L1279.6,508L1286.6,507.8L1293.5,507.7L1300.4,507.6L1307.3,507.5L1314.2,507.6L1321.1,507.6L1328.1,507.7L1335,507.8L1341.9,507.9L1348.8,508L1355.7,508L1362.6,508L1369.5,508L1376.5,507.9L1383.4,507.9L1390.3,507.9L1397.2,507.9L1404.1,507.9L1411,508L1418,508.1L1424.9,508.3L1431.8,508.4L1438.7,508.5" fill="none" stroke="#f40000" stroke-width="2.0" stroke-linejoin="round" stroke-linecap="butt"/>
<path d="M1092.9,507.1L1099.8,510.3L1106.8,511.1L1113.7,511.3L1120.6,511.3L1127.5,511.1L1134.4,510.8L1141.3,510.5L1148.2,510.3L1155.2,510.1L1162.1,510L1169,510L1175.9,510.1L1182.8,510.2L1189.7,510.3L1196.7,510.3L1203.6,510.2L1210.5,509.9L1217.4,509.6L1224.3,509.2L1231.2,508.7L1238.1,508.3L1245.1,507.9L1252,507.6L1258.9,507.4L1265.8,507.4L1272.7,507.4L1279.6,507.5L1286.6,507.7L1293.5,507.8L1300.4,507.9L1307.3,507.8L1314.2,507.7L1321.1,507.5L1328.1,507.3L1335,507.1L1341.9,506.9L1348.8,506.8L1355.7,506.8L1362.6,506.9L1369.5,507.1L1376.5,507.4L1383.4,507.7L1390.3,507.9L1397.2,508.1L1404.1,508.1L1411,508.1L1418,508L1424.9,507.8L1431.8,507.6L1438.7,507.5" fill="none" stroke="#f40000" stroke-width="2.0" stroke-linejoin="round" stroke-linecap="butt"/>
<path d="M1092.9,507L1099.8,509.9L1106.8,510.4L1113.7,510.8L1120.6,511L1127.5,511.2L1134.4,511.2L1141.3,511.1L1148.2,510.8L1155.2,510.5L1162.1,510.2L1169,509.9L1175.9,509.6L1182.8,509.4L1189.7,509.2L1196.7,509.2L1203.6,509.2L1210.5,509.2L1217.4,509.2L1224.3,509.1L1231.2,508.9L1238.1,508.7L1245.1,508.3L1252,507.9L1258.9,507.5L1265.8,507.1L1272.7,506.8L1279.6,506.6L1286.6,506.5L1293.5,506.6L1300.4,506.7L1307.3,506.9L1314.2,507.1L1321.1,507.3L1328.1,507.4L1335,507.3L1341.9,507.2L1348.8,507L1355.7,506.8L1362.6,506.6L1369.5,506.5L1376.5,506.4L1383.4,506.5L1390.3,506.6L1397.2,506.9L1404.1,507.1L1411,507.4L1418,507.6L1424.9,507.8L1431.8,507.8L1438.7,507.7" fill="none" stroke="#f40000" stroke-width="2.0" stroke-linejoin="round" stroke-linecap="butt"/>
<path d="M1092.9,507L1099.8,509.9L1106.8,510.4L1113.7,510.6L1120.6,510.7L1127.5,510.6L1134.4,510.5L1141.3,510.3L1148.2,510.2L1155.2,510L1162.1,509.9L1169,509.8L1175.9,509.7L1182.8,509.6L1189.7,509.5L1196.7,509.4L1203.6,509.2L1210.5,509L1217.4,508.7L1224.3,508.4L1231.2,508.1L1238.1,507.8L1245.1,507.5L1252,507.2L1258.9,507L1265.8,506.8L1272.7,506.7L1279.6,506.7L1286.6,506.6L1293.5,506.6L1300.4,506.6L1307.3,506.6L1314.2,506.6L1321.1,506.5L1328.1,506.4L1335,506.4L1341.9,506.3L1348.8,506.2L1355.7,506.2L1362.6,506.2L1369.5,506.3L1376.5,506.4L1383.4,506.5L1390.3,506.6L1397.2,506.7L1404.1,506.8L1411,506.8L1418,506.8L1424.9,506.8L1431.8,506.8L1438.7,506.7" fill="none" stroke="#f40000" stroke-width="2.0" stroke-linejoin="round" stroke-linecap="butt"/>
<path d="M1092.9,506.9L1099.8,509.7L1106.8,510.1L1113.7,510.2L1120.6,510.3L1127.5,510.3L1134.4,510.3L1141.3,510.2L1148.2,510.1L1155.2,510L1162.1,509.8L1169,509.6L1175.9,509.5L1182.8,509.3L1189.7,509.1L1196.7,508.9L1203.6,508.7L1210.5,508.5L1217.4,508.3L1224.3,508.1L1231.2,507.8L1238.1,507.6L1245.1,507.3L1252,507.1L1258.9,506.8L1265.8,506.6L1272.7,506.4L1279.6,506.2L1286.6,506.1L1293.5,506L1300.4,506L1307.3,506L1314.2,506L1321.1,506L1328.1,506L1335,506L1341.9,506L1348.8,506L1355.7,505.9L1362.6,505.9L1369.5,505.9L1376.5,505.9L1383.4,505.9L1390.3,505.9L1397.2,506L1404.1,506.1L1411,506.1L1418,506.2L1424.9,506.3L1431.8,506.3L1438.7,506.3" fill="none" stroke="#f40000" stroke-width="2.0" stroke-linejoin="round" stroke-linecap="butt"/>
<path d="M1092.9,506.9L1099.8,509.6L1106.8,509.9L1113.7,510L1120.6,510L1127.5,510L1134.4,510L1141.3,509.9L1148.2,509.9L1155.2,509.8L1162.1,509.7L1169,509.5L1175.9,509.3L1182.8,509.1L1189.7,508.9L1196.7,508.6L1203.6,508.4L1210.5,508.1L1217.4,507.9L1224.3,507.6L1231.2,507.4L1238.1,507.2L1245.1,506.9L1252,506.7L1258.9,506.5L1265.8,506.3L1272.7,506.1L1279.6,505.9L1286.6,505.8L1293.5,505.6L1300.4,505.5L1307.3,505.5L1314.2,505.4L1321.1,505.4L1328.1,505.4L1335,505.5L1341.9,505.5L1348.8,505.5L1355.7,505.5L1362.6,505.5L1369.5,505.5L1376.5,505.5L1383.4,505.5L1390.3,505.5L1397.2,505.5L1404.1,505.5L1411,505.5L1418,505.6L1424.9,505.6L1431.8,505.7L1438.7,505.8" fill="none" stroke="#f40000" stroke-width="2.0" stroke-linejoin="round" stroke-linecap="butt"/>
<path d="M1092.9,506.9L1099.8,509.7L1106.8,510.2L1113.7,510.3L1120.6,510.1L1127.5,509.8L1134.4,509.5L1141.3,509.2L1148.2,509L1155.2,508.9L1162.1,508.9L1169,509L1175.9,509.1L1182.8,509.1L1189.7,509.1L1196.7,509L1203.6,508.7L1210.5,508.3L1217.4,507.8L1224.3,507.3L1231.2,506.8L1238.1,506.3L1245.1,505.9L1252,505.7L1258.9,505.6L1265.8,505.6L1272.7,505.7L1279.6,505.8L1286.6,505.8L1293.5,505.9L1300.4,505.8L1307.3,505.6L1314.2,505.3L1321.1,505.1L1328.1,504.8L1335,504.5L1341.9,504.4L1348.8,504.4L1355.7,504.5L1362.6,504.7L1369.5,504.9L1376.5,505.2L1383.4,505.4L1390.3,505.6L1397.2,505.6L1404.1,505.5L1411,505.4L1418,505.2L1424.9,504.9L1431.8,504.7L1438.7,504.6" fill="none" stroke="#f40000" stroke-width="2.0" stroke-linejoin="round" stroke-linecap="butt"/>
<path d="M1092.9,506.8L1099.8,509.4L1106.8,509.6L1113.7,509.6L1120.6,509.6L1127.5,509.6L1134.4,509.6L1141.3,509.5L1148.2,509.4L1155.2,509.3L1162.1,509.1L1169,509L1175.9,508.8L1182.8,508.6L1189.7,508.3L1196.7,508.1L1203.6,507.8L1210.5,507.6L1217.4,507.3L1224.3,507L1231.2,506.7L1238.1,506.4L1245.1,506.2L1252,505.9L1258.9,505.7L1265.8,505.5L1272.7,505.3L1279.6,505.1L1286.6,505L1293.5,504.8L1300.4,504.7L1307.3,504.7L1314.2,504.6L1321.1,504.6L1328.1,504.6L1335,504.5L1341.9,504.5L1348.8,504.5L1355.7,504.5L1362.6,504.5L1369.5,504.5L1376.5,504.5L1383.4,504.5L1390.3,504.5L1397.2,504.5L1404.1,504.5L1411,504.5L1418,504.6L1424.9,504.6L1431.8,504.6L1438.7,504.7" fill="none" stroke="#f40000" stroke-width="2.0" stroke-linejoin="round" stroke-linecap="butt"/>
<path d="M1092.9,506.8L1099.8,509.2L1106.8,509.3L1113.7,509.2L1120.6,509.1L1127.5,509.1L1134.4,509.1L1141.3,509.1L1148.2,509.2L1155.2,509.2L1162.1,509.1L1169,509L1175.9,508.8L1182.8,508.6L1189.7,508.2L1196.7,507.8L1203.6,507.4L1210.5,507L1217.4,506.7L1224.3,506.4L1231.2,506.1L1238.1,505.9L1245.1,505.8L1252,505.7L1258.9,505.5L1265.8,505.4L1272.7,505.2L1279.6,505L1286.6,504.7L1293.5,504.4L1300.4,504.2L1307.3,504L1314.2,503.9L1321.1,503.8L1328.1,503.8L1335,503.9L1341.9,504L1348.8,504.1L1355.7,504.2L1362.6,504.3L1369.5,504.3L1376.5,504.3L1383.4,504.2L1390.3,504L1397.2,503.9L1404.1,503.8L1411,503.8L1418,503.8L1424.9,503.8L1431.8,503.9L1438.7,504.1" fill="none" stroke="#f40000" stroke-width="2.0" stroke-linejoin="round" stroke-linecap="butt"/>
<path d="M1092.9,506.7L1099.8,509.1L1106.8,509.3L1113.7,509.3L1120.6,509.4L1127.5,509.3L1134.4,509.2L1141.3,509.1L1148.2,508.9L1155.2,508.7L1162.1,508.6L1169,508.3L1175.9,508.1L1182.8,507.9L1189.7,507.7L1196.7,507.5L1203.6,507.3L1210.5,507L1217.4,506.8L1224.3,506.5L1231.2,506.2L1238.1,505.8L1245.1,505.5L1252,505.1L1258.9,504.8L1265.8,504.6L1272.7,504.3L1279.6,504.2L1286.6,504L1293.5,504L1300.4,503.9L1307.3,503.9L1314.2,503.9L1321.1,503.8L1328.1,503.8L1335,503.7L1341.9,503.6L1348.8,503.5L1355.7,503.5L1362.6,503.4L1369.5,503.4L1376.5,503.4L1383.4,503.4L1390.3,503.5L1397.2,503.5L1404.1,503.6L1411,503.6L1418,503.7L1424.9,503.7L1431.8,503.7L1438.7,503.6" fill="none" stroke="#f40000" stroke-width="2.0" stroke-linejoin="round" stroke-linecap="butt"/>
<path d="M1092.9,506.7L1099.8,509.1L1106.8,509.5L1113.7,509.5L1120.6,509.4L1127.5,509.2L1134.4,508.9L1141.3,508.6L1148.2,508.3L1155.2,508.1L1162.1,507.9L1169,507.8L1175.9,507.8L1182.8,507.8L1189.7,507.7L1196.7,507.6L1203.6,507.4L1210.5,507.1L1217.4,506.7L1224.3,506.3L1231.2,505.7L1238.1,505.2L1245.1,504.7L1252,504.3L1258.9,504L1265.8,503.9L1272.7,503.8L1279.6,503.8L1286.6,503.9L1293.5,503.9L1300.4,503.9L1307.3,503.9L1314.2,503.7L1321.1,503.5L1328.1,503.3L1335,503L1341.9,502.8L1348.8,502.6L1355.7,502.6L1362.6,502.6L1369.5,502.7L1376.5,502.9L1383.4,503.1L1390.3,503.3L1397.2,503.4L1404.1,503.5L1411,503.5L1418,503.3L1424.9,503.1L1431.8,502.9L1438.7,502.7" fill="none" stroke="#f40000" stroke-width="2.0" stroke-linejoin="round" stroke-linecap="butt"/>
<path d="M1092.9,506.6L1099.8,508.9L1106.8,509L1113.7,509.1L1120.6,509.1L1127.5,509L1134.4,508.9L1141.3,508.7L1148.2,508.4L1155.2,508.2L1162.1,508L1169,507.7L1175.9,507.5L1182.8,507.3L1189.7,507.2L1196.7,507L1203.6,506.8L1210.5,506.5L1217.4,506.3L1224.3,505.9L1231.2,505.5L1238.1,505.1L1245.1,504.7L1252,504.3L1258.9,504L1265.8,503.7L1272.7,503.4L1279.6,503.3L1286.6,503.2L1293.5,503.2L1300.4,503.1L1307.3,503.1L1314.2,503.1L1321.1,503L1328.1,502.9L1335,502.8L1341.9,502.7L1348.8,502.5L1355.7,502.4L1362.6,502.3L1369.5,502.3L1376.5,502.3L1383.4,502.4L1390.3,502.5L1397.2,502.6L1404.1,502.7L1411,502.7L1418,502.7L1424.9,502.7L1431.8,502.6L1438.7,502.5" fill="none" stroke="#f40000" stroke-width="2.0" stroke-linejoin="round" stroke-linecap="butt"/>
<path d="M1092.9,506.6L1099.8,508.6L1106.8,508.3L1113.7,508.1L1120.6,508.2L1127.5,508.3L1134.4,508.4L1141.3,508.5L1148.2,508.6L1155.2,508.6L1162.1,508.4L1169,508.2L1175.9,507.8L1182.8,507.3L1189.7,506.8L1196.7,506.3L1203.6,505.9L1210.5,505.5L1217.4,505.2L1224.3,505L1231.2,504.9L1238.1,504.8L1245.1,504.7L1252,504.5L1258.9,504.3L1265.8,504L1272.7,503.6L1279.6,503.2L1286.6,502.8L1293.5,502.4L1300.4,502.1L1307.3,502L1314.2,501.9L1321.1,502L1328.1,502.1L1335,502.3L1341.9,502.5L1348.8,502.6L1355.7,502.6L1362.6,502.6L1369.5,502.4L1376.5,502.2L1383.4,501.9L1390.3,501.7L1397.2,501.5L1404.1,501.5L1411,501.5L1418,501.6L1424.9,501.8L1431.8,502L1438.7,502.3" fill="none" stroke="#f40000" stroke-width="2.0" stroke-linejoin="round" stroke-linecap="butt"/>
<line x1="1585" y1="460.3" x2="1928.7" y2="460.3" stroke="#000" stroke-width="2" stroke-dasharray="2 5"/>
<path d="M1586,543.8L1589.8,542.8L1593.7,541.8L1597.5,541.5L1601.3,541.9L1605.1,543L1608.9,544L1612.7,544.4L1616.5,543.5L1620.3,541.4L1624.1,538.5L1627.9,535.8L1631.7,534.1L1635.5,534.3L1639.3,536.5L1643.1,540.2L1646.9,544.4L1650.8,547.8L1654.6,550.9L1658.4,553.7L1662.2,555.5L1666,556.4L1669.8,556.7L1673.6,556.8L1677.4,556.5L1681.2,557.1L1685,559L1688.8,561.3L1692.6,563.3L1696.4,564.3L1700.2,564.3L1704.1,563.6L1707.9,562.9L1711.7,562.8L1715.5,563.5L1719.3,564.9L1723.1,566.3L1726.9,567.1L1730.7,566.5L1734.5,564.5L1738.3,561.4L1742.1,558.1L1745.9,555.6L1749.7,554.8L1753.5,556.1L1757.3,559.3L1761.2,563.5L1765,567.6L1768.8,570.3L1772.6,571L1776.4,569.5L1780.2,566.4L1784,562.7L1787.8,559.5L1791.6,557.7L1795.4,557.5L1799.2,558.7L1803,560.5L1806.8,562.2L1810.6,563.1L1814.5,563.2L1818.3,562.6L1822.1,562L1825.9,562L1829.7,562.9L1833.5,564.6L1837.3,566.6L1841.1,568L1844.9,568L1848.7,566.4L1852.5,563.4L1856.3,559.6L1860.1,556.3L1863.9,554.4L1867.8,554.7L1871.6,557.1L1875.4,561L1879.2,565.3L1883,568.8L1886.8,570.5L1890.6,570L1894.4,567.8L1898.2,564.6L1902,561.5L1905.8,559.3L1909.6,558.5L1913.4,559.1L1917.2,560.4L1921,561.7L1924.9,562.4L1928.7,562.3" fill="none" stroke="#f40000" stroke-width="1.9" stroke-linejoin="round" stroke-linecap="butt"/>
<path d="M1586,553.3L1589.8,557.2L1593.7,560.8L1597.5,563.5L1601.3,564.9L1605.1,564.7L1608.9,563L1612.7,560L1616.5,556.3L1620.3,552.4L1624.1,549L1627.9,546.7L1631.7,545.8L1635.5,546.4L1639.3,548.3L1643.1,551.3L1646.9,555.1L1650.8,559.1L1654.6,562.6L1658.4,565L1662.2,566L1666,565.5L1669.8,563.7L1673.6,561.2L1677.4,558.7L1681.2,556.6L1685,555.2L1688.8,554.7L1692.6,555.1L1696.4,556.3L1700.2,557.9L1704.1,559.6L1707.9,560.9L1711.7,561.7L1715.5,561.8L1719.3,561.3L1723.1,560.3L1726.9,559.1L1730.7,558L1734.5,557.3L1738.3,557.1L1742.1,557.6L1745.9,558.6L1749.7,559.9L1753.5,561.2L1757.3,562.1L1761.2,562.6L1765,562.4L1768.8,561.5L1772.6,560.1L1776.4,558.5L1780.2,556.9L1784,555.8L1787.8,555.3L1791.6,555.6L1795.4,556.5L1799.2,558.1L1803,559.9L1806.8,561.5L1810.6,562.7L1814.5,563.3L1818.3,563L1822.1,562.1L1825.9,560.6L1829.7,558.8L1833.5,557.3L1837.3,556.2L1841.1,555.8L1844.9,556.2L1848.7,557.3L1852.5,558.9L1856.3,560.6L1860.1,562.1L1863.9,563L1867.8,563.1L1871.6,562.3L1875.4,560.7L1879.2,558.7L1883,556.7L1886.8,555L1890.6,554L1894.4,554.1L1898.2,555.3L1902,557.3L1905.8,560L1909.6,562.7L1913.4,565.1L1917.2,566.5L1921,566.7L1924.9,565.6L1928.7,563.4" fill="none" stroke="#f40000" stroke-width="1.9" stroke-linejoin="round" stroke-linecap="butt"/>
<path d="M1586,532.1L1589.8,534.9L1593.7,537.6L1597.5,539.5L1601.3,540.1L1605.1,539.3L1608.9,537.5L1612.7,535.4L1616.5,533.8L1620.3,533.3L1624.1,533.9L1627.9,535.3L1631.7,536.9L1635.5,537.8L1639.3,537.7L1643.1,536.3L1646.9,534.7L1650.8,535.8L1654.6,539.8L1658.4,546.4L1662.2,554.5L1666,562.7L1669.8,568.8L1673.6,571.5L1677.4,571.9L1681.2,569.8L1685,565.6L1688.8,560.3L1692.6,555.6L1696.4,553L1700.2,553.4L1704.1,556.9L1707.9,562.6L1711.7,568.9L1715.5,574L1719.3,576.3L1723.1,575.2L1726.9,571L1730.7,564.7L1734.5,558.3L1738.3,553.5L1742.1,551.5L1745.9,552.9L1749.7,557.1L1753.5,562.9L1757.3,568.7L1761.2,572.9L1765,574.6L1768.8,573.4L1772.6,570L1776.4,565.3L1780.2,560.7L1784,557.3L1787.8,555.8L1791.6,556.2L1795.4,558.3L1799.2,561.4L1803,564.7L1806.8,567.4L1810.6,569.1L1814.5,569.5L1818.3,568.8L1822.1,567.1L1825.9,565L1829.7,562.8L1833.5,561L1837.3,559.9L1841.1,559.6L1844.9,560.3L1848.7,561.7L1852.5,563.4L1856.3,565.1L1860.1,566.4L1863.9,566.9L1867.8,566.6L1871.6,565.7L1875.4,564.4L1879.2,563.3L1883,562.7L1886.8,562.7L1890.6,563.2L1894.4,563.9L1898.2,564.3L1902,564.2L1905.8,563.4L1909.6,562.3L1913.4,561.2L1917.2,560.8L1921,561.6L1924.9,563.5L1928.7,566.1" fill="none" stroke="#f40000" stroke-width="1.9" stroke-linejoin="round" stroke-linecap="butt"/>
<path d="M1586,529.1L1589.8,530.4L1593.7,533.7L1597.5,538.6L1601.3,544.3L1605.1,549.8L1608.9,554.4L1612.7,557.3L1616.5,558L1620.3,556.4L1624.1,552.8L1627.9,547.6L1631.7,541.7L1635.5,536L1639.3,531.4L1643.1,528.6L1646.9,528.7L1650.8,534.3L1654.6,544.2L1658.4,556.7L1662.2,569.6L1666,580.8L1669.8,588.2L1673.6,590.9L1677.4,591.3L1681.2,589.5L1685,585.9L1688.8,581L1692.6,575.7L1696.4,570.7L1700.2,566.9L1704.1,564.7L1707.9,564.5L1711.7,566.2L1715.5,569.5L1719.3,573.7L1723.1,578.3L1726.9,582.5L1730.7,585.6L1734.5,587.3L1738.3,587.4L1742.1,585.9L1745.9,583.2L1749.7,579.7L1753.5,576.1L1757.3,573L1761.2,570.7L1765,569.5L1768.8,569.6L1772.6,570.8L1776.4,572.8L1780.2,575.3L1784,577.7L1787.8,579.8L1791.6,581.2L1795.4,581.7L1799.2,581.5L1803,580.6L1806.8,579.3L1810.6,577.9L1814.5,576.7L1818.3,575.8L1822.1,575.4L1825.9,575.4L1829.7,575.8L1833.5,576.3L1837.3,576.9L1841.1,577.2L1844.9,577.3L1848.7,577.1L1852.5,576.6L1856.3,576L1860.1,575.5L1863.9,575.3L1867.8,575.4L1871.6,575.9L1875.4,576.9L1879.2,578.1L1883,579.4L1886.8,580.5L1890.6,581.1L1894.4,581.2L1898.2,580.5L1902,579.2L1905.8,577.4L1909.6,575.4L1913.4,573.5L1917.2,572L1921,571.2L1924.9,571.3L1928.7,572.3" fill="none" stroke="#f40000" stroke-width="1.9" stroke-linejoin="round" stroke-linecap="butt"/>
<path d="M1586,536.9L1589.8,537L1593.7,537.3L1597.5,538L1601.3,538.9L1605.1,540L1608.9,541.2L1612.7,542.4L1616.5,543.4L1620.3,544.1L1624.1,544.2L1627.9,543.8L1631.7,542.8L1635.5,541.3L1639.3,539.6L1643.1,537.8L1646.9,536.1L1650.8,534.9L1654.6,534.3L1658.4,535L1662.2,539.8L1666,547.7L1669.8,557.3L1673.6,566.9L1677.4,574.9L1681.2,579.8L1685,581.1L1688.8,581.5L1692.6,581.2L1696.4,580.2L1700.2,578.6L1704.1,576.7L1707.9,574.8L1711.7,573L1715.5,571.5L1719.3,570.6L1723.1,570.3L1726.9,570.6L1730.7,571.5L1734.5,572.9L1738.3,574.5L1742.1,576.2L1745.9,577.9L1749.7,579.3L1753.5,580.3L1757.3,580.8L1761.2,580.8L1765,580.2L1768.8,579.2L1772.6,577.7L1776.4,576L1780.2,574.3L1784,572.6L1787.8,571.2L1791.6,570.3L1795.4,570L1799.2,570.3L1803,571.3L1806.8,572.9L1810.6,574.9L1814.5,577L1818.3,579.2L1822.1,580.9L1825.9,582.1L1829.7,582.5L1833.5,582L1837.3,580.7L1841.1,578.6L1844.9,576.2L1848.7,573.6L1852.5,571.3L1856.3,569.5L1860.1,568.5L1863.9,568.5L1867.8,569.5L1871.6,571.4L1875.4,573.8L1879.2,576.4L1883,579L1886.8,581L1890.6,582.3L1894.4,582.7L1898.2,582.1L1902,580.6L1905.8,578.5L1909.6,576.2L1913.4,573.8L1917.2,571.9L1921,570.6L1924.9,570.1L1928.7,570.4" fill="none" stroke="#f40000" stroke-width="1.9" stroke-linejoin="round" stroke-linecap="butt"/>
<path d="M1586,528.2L1589.8,529.5L1593.7,529.9L1597.5,530.1L1601.3,530.8L1605.1,532.7L1608.9,535.8L1612.7,539.6L1616.5,543.1L1620.3,545.1L1624.1,544.6L1627.9,541.4L1631.7,536.2L1635.5,530.3L1639.3,525.2L1643.1,522.3L1646.9,522.1L1650.8,524.3L1654.6,529.8L1658.4,539.1L1662.2,549.8L1666,559.5L1669.8,566.8L1673.6,571.1L1677.4,571.8L1681.2,571.2L1685,572.1L1688.8,574.4L1692.6,577.2L1696.4,579.5L1700.2,580.2L1704.1,579.1L1707.9,576.5L1711.7,573.4L1715.5,570.8L1719.3,569.7L1723.1,570.5L1726.9,572.7L1730.7,575.3L1734.5,577.1L1738.3,577.1L1742.1,575.1L1745.9,571.4L1749.7,567.5L1753.5,564.5L1757.3,563.7L1761.2,565.6L1765,569.7L1768.8,575L1772.6,580L1776.4,583.4L1780.2,584.5L1784,583.3L1787.8,580.5L1791.6,577.4L1795.4,574.8L1799.2,573.4L1803,573L1806.8,573L1810.6,572.5L1814.5,571L1818.3,568.3L1822.1,565.1L1825.9,562.5L1829.7,561.5L1833.5,563.2L1837.3,567.6L1841.1,573.8L1844.9,580.6L1848.7,586.1L1852.5,589.1L1856.3,588.9L1860.1,585.8L1863.9,580.8L1867.8,575.4L1871.6,570.9L1875.4,568.2L1879.2,567.4L1883,567.8L1886.8,568.6L1890.6,568.9L1894.4,568.3L1898.2,567.3L1902,566.5L1905.8,566.8L1909.6,568.9L1913.4,572.8L1917.2,577.7L1921,582.5L1924.9,585.7L1928.7,586.4" fill="none" stroke="#f40000" stroke-width="1.9" stroke-linejoin="round" stroke-linecap="butt"/>
<path d="M1586,556L1589.8,554L1593.7,552.6L1597.5,552.1L1601.3,553.1L1605.1,555.3L1608.9,558.2L1612.7,561.1L1616.5,563.2L1620.3,563.7L1624.1,562.5L1627.9,559.9L1631.7,556.7L1635.5,553.7L1639.3,551.9L1643.1,551.7L1646.9,552.9L1650.8,555.2L1654.6,557.9L1658.4,562.9L1662.2,569.8L1666,577L1669.8,583.5L1673.6,588.7L1677.4,591.6L1681.2,591.7L1685,591.6L1688.8,591.9L1692.6,592.1L1696.4,592.1L1700.2,591.7L1704.1,591L1707.9,590.4L1711.7,590.3L1715.5,591L1719.3,592.3L1723.1,594L1726.9,595.5L1730.7,596.2L1734.5,595.8L1738.3,594.3L1742.1,592.1L1745.9,589.8L1749.7,588.3L1753.5,587.9L1757.3,589L1761.2,591L1765,593.5L1768.8,595.5L1772.6,596.5L1776.4,596.1L1780.2,594.6L1784,592.5L1787.8,590.5L1791.6,589.4L1795.4,589.3L1799.2,590.3L1803,591.9L1806.8,593.4L1810.6,594.4L1814.5,594.5L1818.3,593.8L1822.1,592.6L1825.9,591.6L1829.7,591L1833.5,591.1L1837.3,591.8L1841.1,592.8L1844.9,593.5L1848.7,593.6L1852.5,593.1L1856.3,592.1L1860.1,591.1L1863.9,590.6L1867.8,590.8L1871.6,591.8L1875.4,593.3L1879.2,594.6L1883,595.3L1886.8,594.9L1890.6,593.5L1894.4,591.6L1898.2,589.6L1902,588.5L1905.8,588.6L1909.6,589.9L1913.4,592.2L1917.2,594.6L1921,596.4L1924.9,597L1928.7,596.2" fill="none" stroke="#f40000" stroke-width="1.9" stroke-linejoin="round" stroke-linecap="butt"/>
<path d="M1586,527L1589.8,522.5L1593.7,521.5L1597.5,524.2L1601.3,529.3L1605.1,535L1608.9,539.3L1612.7,540.9L1616.5,539.3L1620.3,535.2L1624.1,530.3L1627.9,526.2L1631.7,524.6L1635.5,525.9L1639.3,530L1643.1,535.5L1646.9,540.8L1650.8,546.6L1654.6,552L1658.4,556.1L1662.2,558.3L1666,559.1L1669.8,558.4L1673.6,556.5L1677.4,555.4L1681.2,555.8L1685,556.9L1688.8,558L1692.6,558.8L1696.4,559.2L1700.2,559.7L1704.1,560.8L1707.9,562.8L1711.7,565.6L1715.5,568.5L1719.3,570.7L1723.1,571.4L1726.9,569.9L1730.7,566.5L1734.5,561.9L1738.3,557.6L1742.1,554.9L1745.9,554.5L1749.7,556.6L1753.5,560.5L1757.3,564.7L1761.2,567.6L1765,568.1L1768.8,565.8L1772.6,561.3L1776.4,556.3L1780.2,552.5L1784,551.6L1787.8,554.1L1791.6,559.8L1795.4,567.1L1799.2,573.9L1803,578.1L1806.8,578.4L1810.6,574.6L1814.5,567.7L1818.3,559.7L1822.1,552.6L1825.9,548.4L1829.7,548L1833.5,551L1837.3,556.4L1841.1,562.2L1844.9,566.7L1848.7,568.9L1852.5,568.5L1856.3,566.2L1860.1,563.3L1863.9,560.9L1867.8,560.1L1871.6,561L1875.4,563.1L1879.2,565.4L1883,567.1L1886.8,567.3L1890.6,566.1L1894.4,563.8L1898.2,561.3L1902,559.4L1905.8,558.5L1909.6,558.6L1913.4,559.4L1917.2,560.1L1921,560.1L1924.9,559.5L1928.7,558.5" fill="none" stroke="#f40000" stroke-width="1.9" stroke-linejoin="round" stroke-linecap="butt"/>
<path d="M1586,548.2L1589.8,550.4L1593.7,552.2L1597.5,553L1601.3,553.1L1605.1,552.9L1608.9,552.8L1612.7,553.1L1616.5,553.6L1620.3,554L1624.1,553.8L1627.9,552.7L1631.7,550.9L1635.5,549L1639.3,547.6L1643.1,547.4L1646.9,548.5L1650.8,550.5L1654.6,552.7L1658.4,554.3L1662.2,554.7L1666,554L1669.8,552.5L1673.6,551.1L1677.4,550.5L1681.2,551.1L1685,552.6L1688.8,554.2L1692.6,555L1696.4,554.4L1700.2,552.2L1704.1,549.2L1707.9,546.5L1711.7,545.2L1715.5,546.2L1719.3,549.3L1723.1,553.7L1726.9,557.9L1730.7,560.4L1734.5,560.4L1738.3,557.8L1742.1,553.4L1745.9,548.7L1749.7,545.2L1753.5,544L1757.3,545.2L1761.2,548.1L1765,551.7L1768.8,554.6L1772.6,556.2L1776.4,556.1L1780.2,554.9L1784,553.3L1787.8,552.2L1791.6,551.7L1795.4,551.9L1799.2,552.3L1803,552.4L1806.8,551.8L1810.6,550.6L1814.5,549.4L1818.3,548.7L1822.1,549L1825.9,550.3L1829.7,552.2L1833.5,554.1L1837.3,555.2L1841.1,555.2L1844.9,554.1L1848.7,552.6L1852.5,551.2L1856.3,550.7L1860.1,551.1L1863.9,552L1867.8,552.8L1871.6,552.9L1875.4,551.9L1879.2,550.1L1883,548.2L1886.8,547.2L1890.6,547.9L1894.4,550.3L1898.2,553.9L1902,557.5L1905.8,559.8L1909.6,559.7L1913.4,557.1L1917.2,552.7L1921,547.9L1924.9,544.3L1928.7,543" fill="none" stroke="#f40000" stroke-width="1.9" stroke-linejoin="round" stroke-linecap="butt"/>
<path d="M1586,546.9L1589.8,540.6L1593.7,536.5L1597.5,535.2L1601.3,536.6L1605.1,539.7L1608.9,543.2L1612.7,546L1616.5,547.4L1620.3,547.7L1624.1,547.6L1627.9,547.8L1631.7,548.9L1635.5,551.1L1639.3,553.7L1643.1,555.7L1646.9,556.1L1650.8,554.4L1654.6,550.6L1658.4,546.2L1662.2,543.1L1666,542.4L1669.8,544.5L1673.6,549L1677.4,554.7L1681.2,559.7L1685,562.7L1688.8,563.5L1692.6,561.9L1696.4,558.8L1700.2,555.4L1704.1,553L1707.9,552.7L1711.7,554.6L1715.5,558L1719.3,561.9L1723.1,564.9L1726.9,566.1L1730.7,565.2L1734.5,562.7L1738.3,559.8L1742.1,557.4L1745.9,556.3L1749.7,556.5L1753.5,557.4L1757.3,558.1L1761.2,557.8L1765,556L1768.8,553.3L1772.6,550.5L1776.4,548.9L1780.2,549.6L1784,552.9L1787.8,558.5L1791.6,564.9L1795.4,570.4L1799.2,573.6L1803,573.5L1806.8,570.1L1810.6,564.5L1814.5,558.2L1818.3,552.8L1822.1,549.4L1825.9,548.3L1829.7,549.2L1833.5,551.1L1837.3,553L1841.1,554.2L1844.9,554.8L1848.7,555.2L1852.5,556.3L1856.3,558.5L1860.1,562.1L1863.9,566.2L1867.8,569.9L1871.6,571.7L1875.4,570.9L1879.2,567.2L1883,561.3L1886.8,554.7L1890.6,549.2L1894.4,546L1898.2,546L1902,548.8L1905.8,553.2L1909.6,557.9L1913.4,561.4L1917.2,562.8L1921,562.3L1924.9,560.5L1928.7,558.7" fill="none" stroke="#f40000" stroke-width="1.9" stroke-linejoin="round" stroke-linecap="butt"/>
<path d="M1586,545.6L1589.8,545.5L1593.7,545.9L1597.5,546.6L1601.3,547.2L1605.1,547.4L1608.9,547.1L1612.7,546.4L1616.5,545.6L1620.3,545L1624.1,545L1627.9,545.6L1631.7,546.5L1635.5,547.5L1639.3,548.2L1643.1,548.5L1646.9,549.6L1650.8,551.3L1654.6,553.3L1658.4,555.5L1662.2,557.6L1666,559.4L1669.8,560.4L1673.6,561.8L1677.4,563.2L1681.2,564.2L1685,564.4L1688.8,563.7L1692.6,562.2L1696.4,560.3L1700.2,558.6L1704.1,557.7L1707.9,558L1711.7,559.5L1715.5,562L1719.3,564.5L1723.1,566.3L1726.9,566.5L1730.7,565L1734.5,562.1L1738.3,558.7L1742.1,556L1745.9,555.1L1749.7,556.5L1753.5,559.8L1757.3,564L1761.2,567.6L1765,569.1L1768.8,567.9L1772.6,564.3L1776.4,559.5L1780.2,555.2L1784,553L1787.8,553.9L1791.6,557.7L1795.4,563L1799.2,567.9L1803,570.6L1806.8,570L1810.6,566.2L1814.5,560.6L1818.3,555.3L1822.1,552.3L1825.9,552.6L1829.7,556.3L1833.5,561.9L1837.3,567.3L1841.1,570.6L1844.9,570.4L1848.7,566.9L1852.5,561.5L1856.3,556.2L1860.1,553.1L1863.9,553.2L1867.8,556.4L1871.6,561.4L1875.4,566.3L1879.2,569.1L1883,568.9L1886.8,566L1890.6,561.5L1894.4,557.3L1898.2,555L1902,555.3L1905.8,558.1L1909.6,562L1913.4,565.4L1917.2,567L1921,566.3L1924.9,563.7L1928.7,560.4" fill="none" stroke="#f40000" stroke-width="1.9" stroke-linejoin="round" stroke-linecap="butt"/>
<path d="M1586,531.5L1589.8,531.4L1593.7,531.2L1597.5,531.1L1601.3,530.8L1605.1,530.5L1608.9,530L1612.7,529.5L1616.5,529.1L1620.3,529L1624.1,529.3L1627.9,530L1631.7,531.1L1635.5,532.6L1639.3,534.1L1643.1,536.8L1646.9,541.8L1650.8,547.8L1654.6,553.6L1658.4,558.1L1662.2,560.3L1666,559.4L1669.8,556.8L1673.6,554.8L1677.4,554L1681.2,554.4L1685,556.1L1688.8,559L1692.6,562.7L1696.4,566.5L1700.2,569.8L1704.1,572L1707.9,572.8L1711.7,571.8L1715.5,569.3L1719.3,565.6L1723.1,561.2L1726.9,556.9L1730.7,553.4L1734.5,551.2L1738.3,550.7L1742.1,552L1745.9,554.8L1749.7,558.7L1753.5,563L1757.3,567.1L1761.2,570.4L1765,572.3L1768.8,572.7L1772.6,571.5L1776.4,569L1780.2,565.7L1784,562.2L1787.8,558.9L1791.6,556.3L1795.4,554.7L1799.2,554.2L1803,554.8L1806.8,556.2L1810.6,558.2L1814.5,560.5L1818.3,562.7L1822.1,564.6L1825.9,566L1829.7,566.9L1833.5,567.3L1837.3,567.2L1841.1,566.8L1844.9,566L1848.7,564.9L1852.5,563.5L1856.3,562L1860.1,560.4L1863.9,558.8L1867.8,557.5L1871.6,556.6L1875.4,556.2L1879.2,556.6L1883,557.8L1886.8,559.7L1890.6,562L1894.4,564.6L1898.2,567L1902,568.7L1905.8,569.6L1909.6,569.3L1913.4,567.9L1917.2,565.6L1921,562.6L1924.9,559.5L1928.7,556.8" fill="none" stroke="#f40000" stroke-width="1.9" stroke-linejoin="round" stroke-linecap="butt"/>
<path d="M1586,539.7L1589.8,545.2L1593.7,551.9L1597.5,558.2L1601.3,562.6L1605.1,564.1L1608.9,562.3L1612.7,557.7L1616.5,551.4L1620.3,545.1L1624.1,540.2L1627.9,537.7L1631.7,537.9L1635.5,540.7L1639.3,545.1L1643.1,550.2L1646.9,556L1650.8,561.4L1654.6,565.4L1658.4,567.8L1662.2,568.6L1666,567.9L1669.8,566.1L1673.6,565L1677.4,564.4L1681.2,564.1L1685,563.7L1688.8,563L1692.6,561.9L1696.4,560.7L1700.2,560L1704.1,560.1L1707.9,561.6L1711.7,564.4L1715.5,568.1L1719.3,571.8L1723.1,574.6L1726.9,575.5L1730.7,574.1L1734.5,570.6L1738.3,565.5L1742.1,560.1L1745.9,555.6L1749.7,553.3L1753.5,553.7L1757.3,556.8L1761.2,561.9L1765,567.6L1768.8,572.6L1772.6,575.7L1776.4,576.3L1780.2,574.2L1784,570.2L1787.8,565.5L1791.6,561.3L1795.4,558.7L1799.2,558L1803,559.3L1806.8,561.9L1810.6,564.9L1814.5,567.2L1818.3,568.2L1822.1,567.8L1825.9,566.3L1829.7,564.5L1833.5,563.2L1837.3,563L1841.1,564.2L1844.9,566.5L1848.7,569.2L1852.5,571.3L1856.3,571.9L1860.1,570.6L1863.9,567.4L1867.8,563.1L1871.6,558.8L1875.4,555.7L1879.2,554.7L1883,556.3L1886.8,560.3L1890.6,565.7L1894.4,571.3L1898.2,575.6L1902,577.6L1905.8,576.7L1909.6,573.3L1913.4,568L1917.2,562.4L1921,557.6L1924.9,554.9L1928.7,554.6" fill="none" stroke="#f40000" stroke-width="1.9" stroke-linejoin="round" stroke-linecap="butt"/>
<path d="M1586,545.4L1589.8,540.1L1593.7,535L1597.5,530.9L1601.3,528.5L1605.1,528L1608.9,529.4L1612.7,532.4L1616.5,536.4L1620.3,540.8L1624.1,544.8L1627.9,547.9L1631.7,549.5L1635.5,549.7L1639.3,548.4L1643.1,546.2L1646.9,543.4L1650.8,541.3L1654.6,542.3L1658.4,546L1662.2,551.7L1666,558.1L1669.8,564L1673.6,567.9L1677.4,569.4L1681.2,570.1L1685,570.1L1688.8,569.3L1692.6,567.8L1696.4,566.1L1700.2,564.4L1704.1,563.3L1707.9,563.1L1711.7,564L1715.5,565.8L1719.3,568.5L1723.1,571.4L1726.9,574.2L1730.7,576.4L1734.5,577.4L1738.3,577.1L1742.1,575.4L1745.9,572.5L1749.7,568.8L1753.5,565L1757.3,561.5L1761.2,558.9L1765,557.5L1768.8,557.6L1772.6,559.2L1776.4,562L1780.2,565.6L1784,569.5L1787.8,573.2L1791.6,576.2L1795.4,578.1L1799.2,578.8L1803,578.2L1806.8,576.5L1810.6,573.9L1814.5,570.8L1818.3,567.6L1822.1,564.5L1825.9,562L1829.7,560.1L1833.5,559.2L1837.3,559.1L1841.1,560L1844.9,561.8L1848.7,564.2L1852.5,567L1856.3,570.1L1860.1,573L1863.9,575.5L1867.8,577.3L1871.6,578.1L1875.4,577.8L1879.2,576.4L1883,574L1886.8,570.8L1890.6,567.3L1894.4,563.7L1898.2,560.7L1902,558.7L1905.8,557.9L1909.6,558.5L1913.4,560.4L1917.2,563.3L1921,566.9L1924.9,570.6L1928.7,573.8" fill="none" stroke="#f40000" stroke-width="1.9" stroke-linejoin="round" stroke-linecap="butt"/>
<path d="M1586,539.5L1589.8,534.2L1593.7,529.6L1597.5,526.6L1601.3,525.5L1605.1,526.7L1608.9,530.1L1612.7,535.2L1616.5,541.2L1620.3,547.4L1624.1,552.8L1627.9,556.6L1631.7,558.4L1635.5,557.9L1639.3,555.3L1643.1,551L1646.9,545.7L1650.8,540.3L1654.6,535.6L1658.4,533.7L1662.2,535L1666,538.8L1669.8,544.2L1673.6,550.2L1677.4,555.5L1681.2,559.2L1685,562.4L1688.8,565L1692.6,566.9L1696.4,568L1700.2,568.6L1704.1,568.6L1707.9,568.3L1711.7,567.7L1715.5,566.8L1719.3,565.7L1723.1,564.1L1726.9,562.2L1730.7,559.9L1734.5,557.5L1738.3,555L1742.1,553L1745.9,551.7L1749.7,551.5L1753.5,552.6L1757.3,555L1761.2,558.5L1765,562.8L1768.8,567.2L1772.6,571.1L1776.4,573.8L1780.2,575L1784,574.2L1787.8,571.7L1791.6,567.6L1795.4,562.7L1799.2,557.6L1803,553.2L1806.8,550L1810.6,548.6L1814.5,549.1L1818.3,551.3L1822.1,555L1825.9,559.3L1829.7,563.7L1833.5,567.4L1837.3,570L1841.1,571.1L1844.9,570.8L1848.7,569.2L1852.5,566.8L1856.3,564L1860.1,561.4L1863.9,559.4L1867.8,558.1L1871.6,557.6L1875.4,557.8L1879.2,558.4L1883,559.1L1886.8,559.8L1890.6,560.1L1894.4,560.2L1898.2,560L1902,559.9L1905.8,559.9L1909.6,560.4L1913.4,561.3L1917.2,562.7L1921,564.4L1924.9,566L1928.7,567.1" fill="none" stroke="#f40000" stroke-width="1.9" stroke-linejoin="round" stroke-linecap="butt"/>
<path d="M1586,532.2L1589.8,533.7L1593.7,534.3L1597.5,534.1L1601.3,533.4L1605.1,532.6L1608.9,532.2L1612.7,532.3L1616.5,532.9L1620.3,533.9L1624.1,534.8L1627.9,535.1L1631.7,534.6L1635.5,533.1L1639.3,530.7L1643.1,527.9L1646.9,526.4L1650.8,529L1654.6,534.9L1658.4,543.1L1662.2,552.2L1666,560.6L1669.8,566.4L1673.6,569.8L1677.4,572.3L1681.2,573.6L1685,573.6L1688.8,572.5L1692.6,570.8L1696.4,568.8L1700.2,567.1L1704.1,566.1L1707.9,565.6L1711.7,565.7L1715.5,565.9L1719.3,566L1723.1,565.5L1726.9,564.4L1730.7,562.8L1734.5,561.1L1738.3,559.8L1742.1,559.3L1745.9,560L1749.7,562L1753.5,565L1757.3,568.5L1761.2,572L1765,574.7L1768.8,576.1L1772.6,575.9L1776.4,574.3L1780.2,571.5L1784,568.2L1787.8,565L1791.6,562.5L1795.4,561L1799.2,560.5L1803,561L1806.8,561.9L1810.6,563L1814.5,563.8L1818.3,564.1L1822.1,564L1825.9,563.8L1829.7,563.8L1833.5,564.3L1837.3,565.6L1841.1,567.7L1844.9,570.3L1848.7,572.9L1852.5,574.9L1856.3,575.8L1860.1,575.2L1863.9,573.2L1867.8,569.9L1871.6,566L1875.4,562L1879.2,558.9L1883,556.9L1886.8,556.5L1890.6,557.6L1894.4,559.7L1898.2,562.4L1902,565.1L1905.8,567.3L1909.6,568.8L1913.4,569.4L1917.2,569.5L1921,569.4L1924.9,569.4L1928.7,569.8" fill="none" stroke="#f40000" stroke-width="1.9" stroke-linejoin="round" stroke-linecap="butt"/>
<path d="M1586,551.1L1589.8,551.2L1593.7,549.7L1597.5,546.9L1601.3,542.9L1605.1,538.3L1608.9,533.4L1612.7,528.9L1616.5,525.1L1620.3,522.5L1624.1,521.4L1627.9,521.8L1631.7,523.8L1635.5,527.1L1639.3,531.3L1643.1,536.2L1646.9,541.1L1650.8,545.6L1654.6,550.9L1658.4,557.1L1662.2,562.9L1666,567.3L1669.8,569.6L1673.6,569.1L1677.4,565.3L1681.2,560.3L1685,555.4L1688.8,551.2L1692.6,548L1696.4,546.2L1700.2,546L1704.1,547.5L1707.9,550.3L1711.7,554.4L1715.5,559.1L1719.3,564.2L1723.1,568.9L1726.9,572.8L1730.7,575.6L1734.5,576.9L1738.3,576.6L1742.1,574.7L1745.9,571.4L1749.7,567.1L1753.5,562.2L1757.3,557.2L1761.2,552.7L1765,549.1L1768.8,546.8L1772.6,546L1776.4,546.9L1780.2,549.2L1784,552.9L1787.8,557.4L1791.6,562.3L1795.4,567.1L1799.2,571.4L1803,574.5L1806.8,576.3L1810.6,576.6L1814.5,575.2L1818.3,572.4L1822.1,568.5L1825.9,563.9L1829.7,559L1833.5,554.4L1837.3,550.6L1841.1,547.9L1844.9,546.6L1848.7,546.9L1852.5,548.8L1856.3,551.9L1860.1,556L1863.9,560.7L1867.8,565.4L1871.6,569.7L1875.4,573L1879.2,575.2L1883,575.9L1886.8,575.1L1890.6,572.8L1894.4,569.4L1898.2,565.2L1902,560.6L1905.8,556.1L1909.6,552.3L1913.4,549.4L1917.2,547.8L1921,547.6L1924.9,548.9L1928.7,551.6" fill="none" stroke="#f40000" stroke-width="1.9" stroke-linejoin="round" stroke-linecap="butt"/>
<path d="M1586,542.5L1589.8,536.2L1593.7,529.8L1597.5,524.8L1601.3,522.2L1605.1,522.5L1608.9,525.9L1612.7,531.8L1616.5,539.1L1620.3,546.5L1624.1,552.7L1627.9,556.4L1631.7,557L1635.5,554.3L1639.3,548.8L1643.1,541.7L1646.9,537.1L1650.8,536.9L1654.6,540.7L1658.4,547.8L1662.2,556.9L1666,566.1L1669.8,573.3L1673.6,580L1677.4,586L1681.2,590.4L1685,592.4L1688.8,591.8L1692.6,589L1696.4,584.7L1700.2,579.8L1704.1,575.3L1707.9,572.1L1711.7,570.6L1715.5,571L1719.3,572.9L1723.1,575.7L1726.9,578.7L1730.7,581.1L1734.5,582.4L1738.3,582.5L1742.1,581.4L1745.9,579.5L1749.7,577.5L1753.5,575.9L1757.3,575.3L1761.2,575.9L1765,577.6L1768.8,580.2L1772.6,582.9L1776.4,585.1L1780.2,586.3L1784,585.9L1787.8,584L1791.6,580.7L1795.4,576.7L1799.2,572.7L1803,569.6L1806.8,567.9L1810.6,568.2L1814.5,570.4L1818.3,574.2L1822.1,579.1L1825.9,584.1L1829.7,588.3L1833.5,591L1837.3,591.6L1841.1,590.2L1844.9,586.9L1848.7,582.2L1852.5,577.1L1856.3,572.4L1860.1,568.8L1863.9,567L1867.8,567.1L1871.6,569L1875.4,572.3L1879.2,576.5L1883,580.7L1886.8,584.4L1890.6,587L1894.4,588.2L1898.2,588L1902,586.5L1905.8,584.2L1909.6,581.4L1913.4,578.6L1917.2,576.1L1921,574.3L1924.9,573.2L1928.7,572.9" fill="none" stroke="#f40000" stroke-width="1.9" stroke-linejoin="round" stroke-linecap="butt"/>
<path d="M1586,541.7L1589.8,543.1L1593.7,543L1597.5,541.4L1601.3,538.4L1605.1,534.7L1608.9,531L1612.7,528L1616.5,526.2L1620.3,526L1624.1,527.3L1627.9,529.7L1631.7,532.8L1635.5,535.9L1639.3,538.5L1643.1,540.2L1646.9,541L1650.8,540.9L1654.6,540.1L1658.4,540.2L1662.2,542.8L1666,546.9L1669.8,551.6L1673.6,555.9L1677.4,558.8L1681.2,559.2L1685,558.3L1688.8,558L1692.6,558.3L1696.4,559.4L1700.2,561.2L1704.1,563.6L1707.9,566.3L1711.7,568.7L1715.5,570.5L1719.3,571.4L1723.1,571L1726.9,569.5L1730.7,567L1734.5,563.9L1738.3,560.8L1742.1,558.1L1745.9,556.4L1749.7,555.8L1753.5,556.4L1757.3,558.1L1761.2,560.6L1765,563.4L1768.8,566.1L1772.6,568.3L1776.4,569.7L1780.2,570.2L1784,569.8L1787.8,568.7L1791.6,567L1795.4,565.1L1799.2,563.2L1803,561.5L1806.8,560L1810.6,559L1814.5,558.4L1818.3,558.3L1822.1,558.7L1825.9,559.7L1829.7,561.2L1833.5,563.2L1837.3,565.4L1841.1,567.7L1844.9,569.7L1848.7,571L1852.5,571.2L1856.3,570.2L1860.1,568.1L1863.9,565.1L1867.8,561.7L1871.6,558.5L1875.4,556.2L1879.2,555.1L1883,555.4L1886.8,557.2L1890.6,560.1L1894.4,563.4L1898.2,566.5L1902,568.9L1905.8,570.2L1909.6,570.4L1913.4,569.6L1917.2,568L1921,566.3L1924.9,564.6L1928.7,563.2" fill="none" stroke="#f40000" stroke-width="1.9" stroke-linejoin="round" stroke-linecap="butt"/>
<path d="M1586,534.1L1589.8,528L1593.7,520.8L1597.5,514.4L1601.3,510.3L1605.1,509.6L1608.9,512.5L1612.7,518.3L1616.5,525.8L1620.3,533L1624.1,538.3L1627.9,540.3L1631.7,538.7L1635.5,533.8L1639.3,526.9L1643.1,519.6L1646.9,513.7L1650.8,511.5L1654.6,517L1658.4,528.9L1662.2,544.5L1666,560.5L1669.8,573.9L1673.6,581.5L1677.4,582.5L1681.2,580.3L1685,576L1688.8,570.8L1692.6,565.8L1696.4,562.5L1700.2,561.3L1704.1,562.3L1707.9,565.2L1711.7,568.9L1715.5,572.4L1719.3,574.8L1723.1,575.6L1726.9,574.9L1730.7,573.1L1734.5,570.9L1738.3,569L1742.1,568.1L1745.9,568.3L1749.7,569.4L1753.5,570.9L1757.3,572.1L1761.2,572.5L1765,571.8L1768.8,570.2L1772.6,568L1776.4,566.1L1780.2,565.2L1784,565.6L1787.8,567.6L1791.6,570.8L1795.4,574.4L1799.2,577.3L1803,578.8L1806.8,578.2L1810.6,575.4L1814.5,571.1L1818.3,566.1L1822.1,561.8L1825.9,559.3L1829.7,559.4L1833.5,562.1L1837.3,566.9L1841.1,572.8L1844.9,578.4L1848.7,582.2L1852.5,583.3L1856.3,581.3L1860.1,576.7L1863.9,570.5L1867.8,564.2L1871.6,559.3L1875.4,556.9L1879.2,557.6L1883,561.3L1886.8,566.9L1890.6,573.3L1894.4,578.8L1898.2,582.3L1902,582.9L1905.8,580.7L1909.6,576.2L1913.4,570.5L1917.2,565.1L1921,561.2L1924.9,559.5L1928.7,560.3" fill="none" stroke="#f40000" stroke-width="1.9" stroke-linejoin="round" stroke-linecap="butt"/>
<path d="M1586,529.8L1589.8,530.9L1593.7,533.6L1597.5,537.2L1601.3,541.3L1605.1,544.9L1608.9,547.7L1612.7,549.1L1616.5,548.9L1620.3,547.4L1624.1,544.7L1627.9,541.5L1631.7,538.2L1635.5,535.4L1639.3,533.3L1643.1,532.5L1646.9,534.1L1650.8,538L1654.6,543.1L1658.4,548.5L1662.2,553.4L1666,556.8L1669.8,558.4L1673.6,559.5L1677.4,560.5L1681.2,561.4L1685,562.3L1688.8,562.9L1692.6,563.3L1696.4,563.1L1700.2,562.2L1704.1,560.7L1707.9,558.4L1711.7,555.7L1715.5,552.9L1719.3,550.4L1723.1,548.7L1726.9,548.2L1730.7,549L1734.5,551.2L1738.3,554.5L1742.1,558.4L1745.9,562.3L1749.7,565.4L1753.5,567.3L1757.3,567.6L1761.2,566.2L1765,563.4L1768.8,559.7L1772.6,555.7L1776.4,552.3L1780.2,550L1784,549.3L1787.8,550.2L1791.6,552.5L1795.4,555.6L1799.2,559L1803,561.7L1806.8,563.4L1810.6,563.4L1814.5,562L1818.3,559.3L1822.1,556L1825.9,552.9L1829.7,550.7L1833.5,550L1837.3,551.1L1841.1,553.9L1844.9,557.9L1848.7,562.4L1852.5,566.3L1856.3,568.9L1860.1,569.5L1863.9,567.8L1867.8,564L1871.6,558.6L1875.4,552.6L1879.2,547L1883,543L1886.8,541.2L1890.6,542.3L1894.4,546L1898.2,551.7L1902,558.6L1905.8,565.5L1909.6,571L1913.4,574.4L1917.2,574.9L1921,572.6L1924.9,567.9L1928.7,561.6" fill="none" stroke="#f40000" stroke-width="1.9" stroke-linejoin="round" stroke-linecap="butt"/>
<path d="M1586,544.5L1589.8,544.1L1593.7,543.3L1597.5,542.5L1601.3,542L1605.1,541.6L1608.9,540.9L1612.7,539.8L1616.5,538.3L1620.3,536.8L1624.1,536L1627.9,536.4L1631.7,538.1L1635.5,540.9L1639.3,543.8L1643.1,546L1646.9,546.5L1650.8,546.7L1654.6,547.9L1658.4,550L1662.2,553.2L1666,557.5L1669.8,562.1L1673.6,565.7L1677.4,568.7L1681.2,571.1L1685,572.2L1688.8,571.6L1692.6,569.7L1696.4,567.3L1700.2,565.4L1704.1,564.7L1707.9,565.3L1711.7,566.8L1715.5,568.6L1719.3,569.8L1723.1,570.2L1726.9,569.7L1730.7,568.7L1734.5,567.9L1738.3,567.6L1742.1,567.8L1745.9,568.3L1749.7,568.6L1753.5,568.2L1757.3,567L1761.2,565.6L1765,564.5L1768.8,564.5L1772.6,565.9L1776.4,568.5L1780.2,571.6L1784,574L1787.8,574.8L1791.6,573.5L1795.4,570.3L1799.2,566.1L1803,562.3L1806.8,560L1810.6,560L1814.5,562.3L1818.3,566L1822.1,570.1L1825.9,573.3L1829.7,574.8L1833.5,574.5L1837.3,572.7L1841.1,570.4L1844.9,568.1L1848.7,566.3L1852.5,565.1L1856.3,564.4L1860.1,564L1863.9,563.7L1867.8,563.7L1871.6,564.5L1875.4,566.2L1879.2,568.9L1883,572.2L1886.8,575L1890.6,576.5L1894.4,575.8L1898.2,572.9L1902,568.4L1905.8,563.4L1909.6,559.4L1913.4,557.7L1917.2,558.7L1921,562.2L1924.9,567.1L1928.7,572" fill="none" stroke="#f40000" stroke-width="1.9" stroke-linejoin="round" stroke-linecap="butt"/>
<path d="M1586,547.4L1589.8,548.8L1593.7,551.3L1597.5,554.2L1601.3,557L1605.1,559.3L1608.9,560.7L1612.7,561.2L1616.5,560.9L1620.3,560.1L1624.1,559L1627.9,557.9L1631.7,556.8L1635.5,555.7L1639.3,554.6L1643.1,553.5L1646.9,553.8L1650.8,555.2L1654.6,557.3L1658.4,559.8L1662.2,562.5L1666,565.1L1669.8,567.5L1673.6,571.2L1677.4,575.7L1681.2,580.5L1685,584.6L1688.8,587.3L1692.6,587.8L1696.4,586L1700.2,582L1704.1,576.5L1707.9,570.4L1711.7,564.9L1715.5,560.9L1719.3,559.2L1723.1,560L1726.9,563.1L1730.7,567.7L1734.5,573L1738.3,577.9L1742.1,581.4L1745.9,583.1L1749.7,582.7L1753.5,580.6L1757.3,577.5L1761.2,574.2L1765,571.5L1768.8,569.9L1772.6,569.8L1776.4,570.9L1780.2,572.8L1784,574.9L1787.8,576.4L1791.6,577L1795.4,576.5L1799.2,574.8L1803,572.5L1806.8,570.1L1810.6,568.1L1814.5,567.2L1818.3,567.4L1822.1,568.8L1825.9,571.1L1829.7,573.8L1833.5,576.3L1837.3,578.3L1841.1,579.4L1844.9,579.6L1848.7,579L1852.5,577.9L1856.3,576.6L1860.1,575.5L1863.9,574.5L1867.8,573.6L1871.6,572.7L1875.4,571.7L1879.2,570.4L1883,568.8L1886.8,567.2L1890.6,565.9L1894.4,565.4L1898.2,566.1L1902,568.2L1905.8,571.6L1909.6,575.9L1913.4,580.5L1917.2,584.5L1921,587.1L1924.9,587.6L1928.7,585.8" fill="none" stroke="#f40000" stroke-width="1.9" stroke-linejoin="round" stroke-linecap="butt"/>
<path d="M1586,544L1589.8,546L1593.7,548.1L1597.5,549.8L1601.3,550.9L1605.1,551.2L1608.9,550.8L1612.7,549.7L1616.5,548.2L1620.3,546.7L1624.1,545.5L1627.9,544.9L1631.7,545L1635.5,545.7L1639.3,547.1L1643.1,548.7L1646.9,550.2L1650.8,552L1654.6,555.8L1658.4,560.6L1662.2,565.3L1666,569.2L1669.8,571.5L1673.6,571.5L1677.4,569.8L1681.2,568.9L1685,568.9L1688.8,570.1L1692.6,572.1L1696.4,574.8L1700.2,577.6L1704.1,580.3L1707.9,582.2L1711.7,583.1L1715.5,582.8L1719.3,581.4L1723.1,579L1726.9,576L1730.7,573L1734.5,570.3L1738.3,568.4L1742.1,567.6L1745.9,568L1749.7,569.4L1753.5,571.7L1757.3,574.5L1761.2,577.2L1765,579.4L1768.8,580.8L1772.6,581.3L1776.4,580.7L1780.2,579.3L1784,577.4L1787.8,575.3L1791.6,573.4L1795.4,572.1L1799.2,571.6L1803,571.8L1806.8,572.7L1810.6,574.1L1814.5,575.7L1818.3,577L1822.1,577.8L1825.9,578L1829.7,577.4L1833.5,576.2L1837.3,574.7L1841.1,573.1L1844.9,571.8L1848.7,571.1L1852.5,571.3L1856.3,572.3L1860.1,574L1863.9,576.1L1867.8,578.3L1871.6,580.2L1875.4,581.4L1879.2,581.7L1883,580.9L1886.8,579.1L1890.6,576.5L1894.4,573.7L1898.2,571L1902,568.8L1905.8,567.6L1909.6,567.5L1913.4,568.7L1917.2,570.8L1921,573.7L1924.9,576.7L1928.7,579.6" fill="none" stroke="#f40000" stroke-width="1.9" stroke-linejoin="round" stroke-linecap="butt"/>
<path d="M1586,556.9L1589.8,560.5L1593.7,564.4L1597.5,567.8L1601.3,569.8L1605.1,569.9L1608.9,568.2L1612.7,565.2L1616.5,561.5L1620.3,558L1624.1,555.4L1627.9,554.1L1631.7,554.1L1635.5,555.2L1639.3,556.8L1643.1,558.4L1646.9,559.7L1650.8,560.5L1654.6,561L1658.4,562.5L1662.2,565.4L1666,569.3L1669.8,573.7L1673.6,577.7L1677.4,580.5L1681.2,581.1L1685,580.5L1688.8,579L1692.6,576.9L1696.4,574.6L1700.2,572.5L1704.1,571.1L1707.9,570.5L1711.7,570.8L1715.5,571.8L1719.3,573.2L1723.1,574.8L1726.9,576.3L1730.7,577.6L1734.5,578.8L1738.3,579.8L1742.1,580.7L1745.9,581.4L1749.7,581.7L1753.5,581.3L1757.3,580.3L1761.2,578.4L1765,575.9L1768.8,573.1L1772.6,570.6L1776.4,569L1780.2,568.6L1784,569.6L1787.8,571.8L1791.6,574.7L1795.4,577.7L1799.2,580.1L1803,581.5L1806.8,581.7L1810.6,580.8L1814.5,579.4L1818.3,577.8L1822.1,576.8L1825.9,576.4L1829.7,576.7L1833.5,577.2L1837.3,577.6L1841.1,577.2L1844.9,576L1848.7,574L1852.5,571.6L1856.3,569.6L1860.1,568.7L1863.9,569.4L1867.8,571.7L1871.6,575.3L1875.4,579.5L1879.2,583.3L1883,585.8L1886.8,586.4L1890.6,584.9L1894.4,581.7L1898.2,577.7L1902,573.7L1905.8,570.7L1909.6,569.2L1913.4,569.4L1917.2,570.9L1921,573.1L1924.9,575.2L1928.7,576.7" fill="none" stroke="#f40000" stroke-width="1.9" stroke-linejoin="round" stroke-linecap="butt"/>
<path d="M1586,524.6L1589.8,524.8L1593.7,525.5L1597.5,526.7L1601.3,528.2L1605.1,529.8L1608.9,531.5L1612.7,533.1L1616.5,534.4L1620.3,535.4L1624.1,535.8L1627.9,535.7L1631.7,535L1635.5,533.9L1639.3,532.3L1643.1,530.6L1646.9,528.7L1650.8,526.9L1654.6,526.8L1658.4,529.3L1662.2,533.7L1666,539L1669.8,544.5L1673.6,549L1677.4,551.7L1681.2,553.6L1685,555.7L1688.8,557.7L1692.6,559.4L1696.4,560.8L1700.2,561.6L1704.1,561.8L1707.9,561.4L1711.7,560.3L1715.5,558.7L1719.3,556.8L1723.1,554.6L1726.9,552.5L1730.7,550.5L1734.5,548.9L1738.3,547.9L1742.1,547.5L1745.9,547.8L1749.7,548.7L1753.5,550.3L1757.3,552.3L1761.2,554.5L1765,556.8L1768.8,559L1772.6,560.8L1776.4,562.1L1780.2,562.7L1784,562.5L1787.8,561.7L1791.6,560.2L1795.4,558.2L1799.2,555.9L1803,553.5L1806.8,551.1L1810.6,549.1L1814.5,547.6L1818.3,546.8L1822.1,546.7L1825.9,547.4L1829.7,548.8L1833.5,550.8L1837.3,553.1L1841.1,555.7L1844.9,558.2L1848.7,560.4L1852.5,562.1L1856.3,563.1L1860.1,563.4L1863.9,562.9L1867.8,561.6L1871.6,559.7L1875.4,557.4L1879.2,554.8L1883,552.2L1886.8,549.8L1890.6,547.9L1894.4,546.6L1898.2,546.1L1902,546.4L1905.8,547.5L1909.6,549.3L1913.4,551.6L1917.2,554.3L1921,557L1924.9,559.5L1928.7,561.6" fill="none" stroke="#f40000" stroke-width="1.9" stroke-linejoin="round" stroke-linecap="butt"/>
<path d="M1586,523.8L1589.8,526.9L1593.7,532.2L1597.5,537.4L1601.3,540.6L1605.1,540.5L1608.9,537.6L1612.7,533.2L1616.5,529.3L1620.3,527.5L1624.1,528.4L1627.9,531.3L1631.7,534.9L1635.5,537.3L1639.3,537.5L1643.1,535.4L1646.9,532.2L1650.8,530.1L1654.6,532.3L1658.4,538.5L1662.2,547.4L1666,556.3L1669.8,562.7L1673.6,564.4L1677.4,561.4L1681.2,556.7L1685,552.5L1688.8,550.6L1692.6,552.1L1696.4,556.5L1700.2,562.4L1704.1,567.2L1707.9,569L1711.7,566.8L1715.5,561.3L1719.3,554.7L1723.1,549.3L1726.9,547.6L1730.7,550.1L1734.5,556.1L1738.3,563.2L1742.1,568.7L1745.9,570.5L1749.7,567.9L1753.5,561.8L1757.3,554.8L1761.2,549.4L1765,547.7L1768.8,550.3L1772.6,556.1L1776.4,562.6L1780.2,567.3L1784,568.6L1787.8,566.1L1791.6,561L1795.4,555.4L1799.2,551.7L1803,551.1L1806.8,553.7L1810.6,558.1L1814.5,562.3L1818.3,564.6L1822.1,564.2L1825.9,561.4L1829.7,557.8L1833.5,555L1837.3,554.3L1841.1,556L1844.9,559.2L1848.7,562.3L1852.5,563.7L1856.3,562.6L1860.1,559.5L1863.9,555.7L1867.8,553L1871.6,552.8L1875.4,555.5L1879.2,560L1883,564.6L1886.8,567.1L1890.6,566.3L1894.4,562.3L1898.2,556.5L1902,551.2L1905.8,548.7L1909.6,550.1L1913.4,555.1L1917.2,561.8L1921,567.7L1924.9,570.3L1928.7,568.6" fill="none" stroke="#f40000" stroke-width="1.9" stroke-linejoin="round" stroke-linecap="butt"/>
<path d="M1586,552.2L1589.8,550.1L1593.7,547.8L1597.5,546.1L1601.3,545.6L1605.1,546.4L1608.9,548.1L1612.7,550.2L1616.5,551.9L1620.3,552.5L1624.1,551.5L1627.9,548.8L1631.7,545L1635.5,540.8L1639.3,537.3L1643.1,536L1646.9,539.8L1650.8,547.9L1654.6,558.8L1658.4,570.6L1662.2,581.2L1666,588.1L1669.8,590.7L1673.6,590.5L1677.4,587.5L1681.2,582.4L1685,576.3L1688.8,570.4L1692.6,565.8L1696.4,563.4L1700.2,563.5L1704.1,565.9L1707.9,569.9L1711.7,574.5L1715.5,578.7L1719.3,581.5L1723.1,582.6L1726.9,582L1730.7,580.1L1734.5,577.7L1738.3,575.6L1742.1,574.5L1745.9,574.7L1749.7,576L1753.5,578.1L1757.3,580L1761.2,581.1L1765,580.8L1768.8,578.9L1772.6,575.5L1776.4,571.4L1780.2,567.5L1784,564.8L1787.8,564.2L1791.6,565.9L1795.4,569.8L1799.2,575.3L1803,581.4L1806.8,586.6L1810.6,590.1L1814.5,590.9L1818.3,588.9L1822.1,584.5L1825.9,578.7L1829.7,572.5L1833.5,567.2L1837.3,563.9L1841.1,563L1844.9,564.6L1848.7,568.2L1852.5,572.7L1856.3,577.2L1860.1,580.7L1863.9,582.6L1867.8,582.6L1871.6,581.1L1875.4,578.8L1879.2,576.5L1883,574.8L1886.8,574.4L1890.6,575.3L1894.4,577L1898.2,579.1L1902,580.6L1905.8,580.9L1909.6,579.7L1913.4,576.9L1917.2,573.1L1921,569L1924.9,565.8L1928.7,564.3" fill="none" stroke="#f40000" stroke-width="1.9" stroke-linejoin="round" stroke-linecap="butt"/>
<path d="M1586,553.2L1589.8,555.1L1593.7,557.3L1597.5,559.3L1601.3,560.4L1605.1,560.6L1608.9,560L1612.7,559L1616.5,558.1L1620.3,557.6L1624.1,557.7L1627.9,558.4L1631.7,559.3L1635.5,560L1639.3,560L1643.1,559.2L1646.9,557.6L1650.8,555.6L1654.6,553.7L1658.4,552.5L1662.2,552.4L1666,553.6L1669.8,555.8L1673.6,558.6L1677.4,561.2L1681.2,563.1L1685,563.6L1688.8,562.9L1692.6,561L1696.4,558.5L1700.2,556.1L1704.1,554.4L1707.9,553.6L1711.7,554L1715.5,555.1L1719.3,556.5L1723.1,557.7L1726.9,558.3L1730.7,558.3L1734.5,557.7L1738.3,556.9L1742.1,556.3L1745.9,556.4L1749.7,557.2L1753.5,558.6L1757.3,560.3L1761.2,561.6L1765,562.1L1768.8,561.5L1772.6,559.8L1776.4,557.3L1780.2,554.7L1784,552.6L1787.8,551.6L1791.6,551.9L1795.4,553.5L1799.2,556L1803,558.7L1806.8,560.9L1810.6,562.2L1814.5,562.3L1818.3,561.3L1822.1,559.6L1825.9,557.9L1829.7,556.5L1833.5,555.9L1837.3,556L1841.1,556.8L1844.9,557.6L1848.7,558.2L1852.5,558.2L1856.3,557.4L1860.1,556.2L1863.9,555L1867.8,554.2L1871.6,554.2L1875.4,555.3L1879.2,557.2L1883,559.5L1886.8,561.7L1890.6,563.1L1894.4,563.2L1898.2,562L1902,559.8L1905.8,557.1L1909.6,554.5L1913.4,552.8L1917.2,552.2L1921,552.9L1924.9,554.6L1928.7,556.7" fill="none" stroke="#f40000" stroke-width="1.9" stroke-linejoin="round" stroke-linecap="butt"/>
<path d="M1586,517.7L1589.8,520.3L1593.7,522.1L1597.5,522.4L1601.3,520.9L1605.1,518L1608.9,514.8L1612.7,512.5L1616.5,512L1620.3,513.6L1624.1,516.8L1627.9,520.6L1631.7,523.5L1635.5,524.6L1639.3,523.3L1643.1,519.9L1646.9,515.7L1650.8,512L1654.6,512.8L1658.4,519.4L1662.2,530.4L1666,543.3L1669.8,555.2L1673.6,563.5L1677.4,565.7L1681.2,564.3L1685,561.1L1688.8,557.4L1692.6,554.4L1696.4,552.9L1700.2,553.3L1704.1,555L1707.9,557.1L1711.7,558.6L1715.5,558.6L1719.3,557.3L1723.1,555L1726.9,553L1730.7,552.1L1734.5,553.3L1738.3,556.4L1742.1,560.8L1745.9,565.1L1749.7,567.9L1753.5,568.1L1757.3,565.6L1761.2,560.9L1765,555.2L1768.8,550.2L1772.6,547.2L1776.4,547L1780.2,549.3L1784,553.2L1787.8,557.5L1791.6,560.8L1795.4,562.3L1799.2,562L1803,560.4L1806.8,558.5L1810.6,557.4L1814.5,557.6L1818.3,559.1L1822.1,561.1L1825.9,562.6L1829.7,562.7L1833.5,560.8L1837.3,557.3L1841.1,553.1L1844.9,549.4L1848.7,547.6L1852.5,548.3L1856.3,551.6L1860.1,556.4L1863.9,561.5L1867.8,565.3L1871.6,566.8L1875.4,565.6L1879.2,562.3L1883,558.1L1886.8,554.3L1890.6,552.2L1894.4,552.3L1898.2,554.3L1902,557.2L1905.8,559.8L1909.6,561.2L1913.4,560.7L1917.2,558.7L1921,556L1924.9,553.8L1928.7,552.9" fill="none" stroke="#f40000" stroke-width="1.9" stroke-linejoin="round" stroke-linecap="butt"/>
<path d="M1586,535.1L1589.8,534.2L1593.7,534.5L1597.5,535.7L1601.3,537.3L1605.1,538.6L1608.9,539.5L1612.7,539.7L1616.5,539.5L1620.3,539.2L1624.1,539.2L1627.9,539.7L1631.7,540.7L1635.5,541.8L1639.3,542.8L1643.1,543.1L1646.9,542.7L1650.8,541.9L1654.6,542.8L1658.4,545.1L1662.2,548.4L1666,552.4L1669.8,556.1L1673.6,558.8L1677.4,560.1L1681.2,561.4L1685,562.5L1688.8,563.3L1692.6,563.8L1696.4,564.1L1700.2,564.5L1704.1,565L1707.9,565.5L1711.7,566L1715.5,566L1719.3,565.4L1723.1,564.1L1726.9,562.1L1730.7,559.9L1734.5,558L1738.3,556.9L1742.1,556.9L1745.9,558.2L1749.7,560.4L1753.5,562.9L1757.3,565.2L1761.2,566.6L1765,566.9L1768.8,566.1L1772.6,564.7L1776.4,563.1L1780.2,562.1L1784,561.8L1787.8,562.4L1791.6,563.4L1795.4,564.3L1799.2,564.6L1803,563.8L1806.8,562.1L1810.6,559.8L1814.5,557.5L1818.3,556.2L1822.1,556.3L1825.9,558.2L1829.7,561.3L1833.5,565.1L1837.3,568.5L1841.1,570.6L1844.9,570.8L1848.7,569.1L1852.5,565.9L1856.3,562.2L1860.1,558.9L1863.9,556.9L1867.8,556.6L1871.6,557.9L1875.4,560.2L1879.2,562.7L1883,564.4L1886.8,564.9L1890.6,564.1L1894.4,562.4L1898.2,560.6L1902,559.5L1905.8,559.7L1909.6,561.3L1913.4,563.9L1917.2,566.8L1921,569L1924.9,569.7L1928.7,568.6" fill="none" stroke="#f40000" stroke-width="1.9" stroke-linejoin="round" stroke-linecap="butt"/>
<path d="M1586,539.7L1589.8,538.8L1593.7,539.1L1597.5,540.3L1601.3,542.3L1605.1,544.6L1608.9,546.7L1612.7,548.1L1616.5,548.5L1620.3,548L1624.1,546.7L1627.9,544.8L1631.7,543L1635.5,541.6L1639.3,541L1643.1,541.4L1646.9,543.1L1650.8,547.4L1654.6,553.8L1658.4,560.7L1662.2,567L1666,571.4L1669.8,573L1673.6,571.5L1677.4,568.8L1681.2,565.9L1685,563.2L1688.8,561.1L1692.6,560L1696.4,560L1700.2,561.1L1704.1,563L1707.9,565.5L1711.7,568.2L1715.5,570.7L1719.3,572.8L1723.1,574.3L1726.9,575L1730.7,575L1734.5,574.3L1738.3,573L1742.1,571.1L1745.9,568.9L1749.7,566.4L1753.5,563.9L1757.3,561.6L1761.2,559.8L1765,558.9L1768.8,558.9L1772.6,560.1L1776.4,562.4L1780.2,565.6L1784,569.2L1787.8,572.8L1791.6,575.8L1795.4,577.7L1799.2,578.1L1803,577.1L1806.8,574.6L1810.6,571.1L1814.5,567.2L1818.3,563.5L1822.1,560.6L1825.9,559L1829.7,558.9L1833.5,560.3L1837.3,562.6L1841.1,565.6L1844.9,568.5L1848.7,570.9L1852.5,572.4L1856.3,572.8L1860.1,572.1L1863.9,570.7L1867.8,569L1871.6,567.3L1875.4,566.2L1879.2,565.6L1883,565.9L1886.8,566.7L1890.6,567.8L1894.4,569L1898.2,569.9L1902,570.3L1905.8,570L1909.6,569.3L1913.4,568.1L1917.2,566.8L1921,565.6L1924.9,564.6L1928.7,564" fill="none" stroke="#f40000" stroke-width="1.9" stroke-linejoin="round" stroke-linecap="butt"/>
<path d="M1586,541L1589.8,537.1L1593.7,533L1597.5,529.3L1601.3,526.6L1605.1,525L1608.9,524.9L1612.7,525.9L1616.5,527.8L1620.3,530.3L1624.1,532.8L1627.9,535L1631.7,536.6L1635.5,537.7L1639.3,538.3L1643.1,538.5L1646.9,538.6L1650.8,540L1654.6,545.6L1658.4,553.9L1662.2,563.3L1666,571.8L1669.8,577.8L1673.6,579.4L1677.4,577.3L1681.2,574.6L1685,571.5L1688.8,568.6L1692.6,566.4L1696.4,565.4L1700.2,565.9L1704.1,568L1707.9,571.7L1711.7,576.5L1715.5,581.8L1719.3,586.9L1723.1,590.9L1726.9,593.1L1730.7,593.2L1734.5,591.1L1738.3,586.9L1742.1,581.3L1745.9,575.1L1749.7,569.1L1753.5,564.3L1757.3,561.4L1761.2,560.8L1765,562.4L1768.8,566.1L1772.6,571.2L1776.4,576.8L1780.2,582.1L1784,586.4L1787.8,589L1791.6,589.7L1795.4,588.6L1799.2,585.9L1803,582.4L1806.8,578.6L1810.6,575.2L1814.5,572.6L1818.3,571.2L1822.1,571.1L1825.9,571.9L1829.7,573.4L1833.5,575.1L1837.3,576.6L1841.1,577.6L1844.9,577.9L1848.7,577.6L1852.5,576.9L1856.3,576.1L1860.1,575.5L1863.9,575.4L1867.8,575.9L1871.6,577L1875.4,578.5L1879.2,580.2L1883,581.6L1886.8,582.4L1890.6,582.3L1894.4,581.4L1898.2,579.7L1902,577.4L1905.8,575L1909.6,573L1913.4,571.6L1917.2,571.2L1921,571.9L1924.9,573.5L1928.7,575.7" fill="none" stroke="#f40000" stroke-width="1.9" stroke-linejoin="round" stroke-linecap="butt"/>
<path d="M1586,550.6L1589.8,552L1593.7,552.3L1597.5,551.1L1601.3,548.4L1605.1,544.8L1608.9,541L1612.7,538.1L1616.5,536.7L1620.3,537.1L1624.1,539L1627.9,542L1631.7,545.4L1635.5,548.3L1639.3,550.4L1643.1,552L1646.9,554.3L1650.8,557.1L1654.6,560L1658.4,562.8L1662.2,564.7L1666,565.2L1669.8,564.3L1673.6,563.1L1677.4,561.5L1681.2,559.9L1685,558.4L1688.8,557.3L1692.6,556.9L1696.4,557L1700.2,557.8L1704.1,559L1707.9,560.5L1711.7,562.1L1715.5,563.8L1719.3,565.6L1723.1,567.3L1726.9,568.8L1730.7,569.7L1734.5,569.9L1738.3,569L1742.1,567.1L1745.9,564.2L1749.7,561L1753.5,557.9L1757.3,555.7L1761.2,554.8L1765,555.3L1768.8,557L1772.6,559.4L1776.4,561.7L1780.2,563.3L1784,564.1L1787.8,564L1791.6,563.6L1795.4,563.4L1799.2,563.9L1803,565.2L1806.8,567.2L1810.6,569.1L1814.5,570.2L1818.3,569.8L1822.1,567.5L1825.9,563.7L1829.7,559.1L1833.5,554.8L1837.3,552L1841.1,551.4L1844.9,553.1L1848.7,556.8L1852.5,561.2L1856.3,565.3L1860.1,568.1L1863.9,568.9L1867.8,568L1871.6,566.1L1875.4,564.1L1879.2,563L1883,563.1L1886.8,564.4L1890.6,566.3L1894.4,567.7L1898.2,567.8L1902,566.1L1905.8,562.8L1909.6,558.4L1913.4,554.4L1917.2,551.7L1921,551.3L1924.9,553.4L1928.7,557.4" fill="none" stroke="#f40000" stroke-width="1.9" stroke-linejoin="round" stroke-linecap="butt"/>
<path d="M1586,543.9L1589.8,541.2L1593.7,538.7L1597.5,537.1L1601.3,536.8L1605.1,538L1608.9,540.1L1612.7,542.4L1616.5,544L1620.3,544.3L1624.1,543L1627.9,540.2L1631.7,536.6L1635.5,533.3L1639.3,531.3L1643.1,531.4L1646.9,534.1L1650.8,540.6L1654.6,549.4L1658.4,558.4L1662.2,565.8L1666,569.9L1669.8,569.8L1673.6,566L1677.4,561.2L1681.2,556.5L1685,553.3L1688.8,552.3L1692.6,553.6L1696.4,556.7L1700.2,560.6L1704.1,564L1707.9,565.9L1711.7,565.6L1715.5,563.3L1719.3,559.7L1723.1,555.9L1726.9,553.2L1730.7,552.5L1734.5,554.3L1738.3,558.2L1742.1,563.2L1745.9,568L1749.7,571.4L1753.5,572.2L1757.3,570.3L1761.2,566.1L1765,560.7L1768.8,555.3L1772.6,551.4L1776.4,549.9L1780.2,550.9L1784,554.2L1787.8,558.5L1791.6,562.8L1795.4,565.8L1799.2,566.7L1803,565.7L1806.8,563L1810.6,559.7L1814.5,557L1818.3,555.7L1822.1,556.3L1825.9,558.7L1829.7,562.1L1833.5,565.6L1837.3,568L1841.1,568.7L1844.9,567.2L1848.7,564L1852.5,559.8L1856.3,555.6L1860.1,552.5L1863.9,551.3L1867.8,552L1871.6,554.5L1875.4,558L1879.2,561.6L1883,564.5L1886.8,566L1890.6,566.1L1894.4,565L1898.2,563.2L1902,561.3L1905.8,560L1909.6,559.6L1913.4,560L1917.2,560.9L1921,561.9L1924.9,562.5L1928.7,562.4" fill="none" stroke="#f40000" stroke-width="1.9" stroke-linejoin="round" stroke-linecap="butt"/>
<path d="M1586,540L1589.8,539.5L1593.7,539.6L1597.5,540.3L1601.3,542L1605.1,544.3L1608.9,546.6L1612.7,548.2L1616.5,548.5L1620.3,547.1L1624.1,544.3L1627.9,540.6L1631.7,536.9L1635.5,534.4L1639.3,533.7L1643.1,536L1646.9,541.5L1650.8,548.8L1654.6,556.3L1658.4,562.4L1662.2,565.8L1666,565.8L1669.8,563.6L1673.6,560.7L1677.4,558L1681.2,556.1L1685,555.2L1688.8,555.3L1692.6,556L1696.4,556.8L1700.2,557.5L1704.1,557.9L1707.9,558.2L1711.7,558.6L1715.5,559.4L1719.3,560.8L1723.1,562.5L1726.9,564L1730.7,564.8L1734.5,564.3L1738.3,562.4L1742.1,559.3L1745.9,555.7L1749.7,552.5L1753.5,550.7L1757.3,550.9L1761.2,553L1765,556.8L1768.8,561.1L1772.6,565L1776.4,567.4L1780.2,567.8L1784,566.2L1787.8,563.1L1791.6,559.4L1795.4,556.1L1799.2,553.9L1803,553.2L1806.8,553.7L1810.6,555.2L1814.5,556.9L1818.3,558.5L1822.1,559.6L1825.9,560.2L1829.7,560.7L1833.5,561.2L1837.3,562L1841.1,562.8L1844.9,563.5L1848.7,563.4L1852.5,562.4L1856.3,560.2L1860.1,557.2L1863.9,554.2L1867.8,551.8L1871.6,550.9L1875.4,551.9L1879.2,554.8L1883,558.9L1886.8,563.3L1890.6,566.8L1894.4,568.6L1898.2,568.1L1902,565.6L1905.8,561.7L1909.6,557.4L1913.4,553.9L1917.2,551.8L1921,551.6L1924.9,553L1928.7,555.3" fill="none" stroke="#f40000" stroke-width="1.9" stroke-linejoin="round" stroke-linecap="butt"/>
<path d="M1586,537.1L1589.8,534.5L1593.7,532L1597.5,530.2L1601.3,529.3L1605.1,529.7L1608.9,531.4L1612.7,534.1L1616.5,537.6L1620.3,541L1624.1,543.9L1627.9,545.7L1631.7,545.9L1635.5,544.6L1639.3,541.8L1643.1,538.1L1646.9,534.6L1650.8,534.4L1654.6,537.4L1658.4,542.8L1662.2,549.7L1666,557.1L1669.8,563.3L1673.6,567.6L1677.4,571.7L1681.2,575L1685,576.9L1688.8,577.1L1692.6,575.5L1696.4,572.6L1700.2,568.8L1704.1,564.8L1707.9,561.4L1711.7,559.1L1715.5,558.3L1719.3,559.1L1723.1,561.3L1726.9,564.5L1730.7,567.9L1734.5,571L1738.3,573.2L1742.1,574.1L1745.9,573.7L1749.7,572.1L1753.5,569.7L1757.3,567L1761.2,564.5L1765,562.8L1768.8,562.2L1772.6,562.6L1776.4,564L1780.2,566L1784,568L1787.8,569.8L1791.6,570.8L1795.4,570.8L1799.2,570L1803,568.4L1806.8,566.4L1810.6,564.6L1814.5,563.4L1818.3,563.1L1822.1,563.7L1825.9,565.3L1829.7,567.4L1833.5,569.7L1837.3,571.6L1841.1,572.7L1844.9,572.7L1848.7,571.6L1852.5,569.4L1856.3,566.5L1860.1,563.6L1863.9,561.2L1867.8,559.8L1871.6,559.7L1875.4,561.1L1879.2,563.6L1883,567L1886.8,570.5L1890.6,573.6L1894.4,575.6L1898.2,576.1L1902,575.1L1905.8,572.6L1909.6,569.1L1913.4,565.1L1917.2,561.5L1921,558.9L1924.9,557.7L1928.7,558.1" fill="none" stroke="#f40000" stroke-width="1.9" stroke-linejoin="round" stroke-linecap="butt"/>
<path d="M1586,516.8L1589.8,517.7L1593.7,523L1597.5,531.3L1601.3,540L1605.1,546.6L1608.9,549.2L1612.7,547.2L1616.5,541.7L1620.3,534.6L1624.1,528.3L1627.9,524.6L1631.7,524.3L1635.5,526.8L1639.3,530.8L1643.1,534.3L1646.9,536L1650.8,535.3L1654.6,533.7L1658.4,534.9L1662.2,539.5L1666,547.2L1669.8,557L1673.6,567.1L1677.4,574.7L1681.2,578.4L1685,579.5L1688.8,577.6L1692.6,573.1L1696.4,567.4L1700.2,562L1704.1,558.4L1707.9,557.2L1711.7,558.6L1715.5,561.7L1719.3,565.6L1723.1,569.2L1726.9,572L1730.7,573.6L1734.5,574.2L1738.3,574.1L1742.1,573.6L1745.9,572.8L1749.7,571.6L1753.5,569.9L1757.3,567.8L1761.2,565.5L1765,563.5L1768.8,562.3L1772.6,562.2L1776.4,563.3L1780.2,565.2L1784,567.4L1787.8,569.2L1791.6,570.2L1795.4,570.4L1799.2,570.2L1803,570.1L1806.8,570.6L1810.6,571.8L1814.5,573.2L1818.3,574.1L1822.1,573.7L1825.9,571.3L1829.7,567.2L1833.5,562.2L1837.3,557.7L1841.1,555.4L1844.9,556.2L1848.7,560.4L1852.5,566.9L1856.3,574.1L1860.1,579.9L1863.9,582.4L1867.8,581.1L1871.6,576.4L1875.4,569.9L1879.2,563.7L1883,559.8L1886.8,559.3L1890.6,561.8L1894.4,566.1L1898.2,570.2L1902,572.4L1905.8,571.8L1909.6,568.6L1913.4,564.2L1917.2,560.7L1921,559.9L1924.9,562.6L1928.7,568.2" fill="none" stroke="#f40000" stroke-width="1.9" stroke-linejoin="round" stroke-linecap="butt"/>
<path d="M1586,557.9L1589.8,558.2L1593.7,558.6L1597.5,559.1L1601.3,559.7L1605.1,560L1608.9,559.8L1612.7,559L1616.5,557.6L1620.3,556.1L1624.1,554.7L1627.9,553.8L1631.7,553.7L1635.5,554.5L1639.3,556L1643.1,557.7L1646.9,559.3L1650.8,560.3L1654.6,560.4L1658.4,560.6L1662.2,561.1L1666,561.7L1669.8,562.7L1673.6,564L1677.4,565.5L1681.2,566.7L1685,568.3L1688.8,569.9L1692.6,571.1L1696.4,571.5L1700.2,571L1704.1,569.9L1707.9,568.3L1711.7,566.8L1715.5,565.7L1719.3,565.3L1723.1,565.5L1726.9,566.2L1730.7,567.1L1734.5,568L1738.3,568.6L1742.1,568.8L1745.9,568.9L1749.7,568.9L1753.5,569.2L1757.3,569.7L1761.2,570.4L1765,571.1L1768.8,571.4L1772.6,571.1L1776.4,570L1780.2,568.1L1784,565.8L1787.8,563.6L1791.6,562L1795.4,561.5L1799.2,562.4L1803,564.5L1806.8,567.6L1810.6,570.9L1814.5,573.8L1818.3,575.7L1822.1,576.1L1825.9,575.2L1829.7,573.1L1833.5,570.3L1837.3,567.3L1841.1,564.8L1844.9,563.1L1848.7,562.2L1852.5,562.2L1856.3,562.8L1860.1,563.8L1863.9,565.1L1867.8,566.6L1871.6,568.2L1875.4,570.1L1879.2,572L1883,573.8L1886.8,575.3L1890.6,576L1894.4,575.6L1898.2,573.9L1902,571L1905.8,567.3L1909.6,563.3L1913.4,559.8L1917.2,557.6L1921,557.2L1924.9,558.6L1928.7,561.8" fill="none" stroke="#f40000" stroke-width="1.9" stroke-linejoin="round" stroke-linecap="butt"/>
<path d="M1586,517.4L1589.8,513.1L1593.7,511.3L1597.5,512.7L1601.3,517L1605.1,522.8L1608.9,528.5L1612.7,532.6L1616.5,534.1L1620.3,533.3L1624.1,530.9L1627.9,528L1631.7,525.7L1635.5,524.2L1639.3,523.3L1643.1,522.3L1646.9,520.6L1650.8,518.6L1654.6,519.3L1658.4,523.3L1662.2,530.5L1666,540.2L1669.8,551.1L1673.6,560.7L1677.4,566.9L1681.2,570.4L1685,570.6L1688.8,567.5L1692.6,561.9L1696.4,555.6L1700.2,550.3L1704.1,547.2L1707.9,546.4L1711.7,547.6L1715.5,549.6L1719.3,551.6L1723.1,553.1L1726.9,554.3L1730.7,555.6L1734.5,557.9L1738.3,561L1742.1,564.6L1745.9,567.5L1749.7,568.5L1753.5,566.6L1757.3,562L1761.2,555.5L1765,548.8L1768.8,543.7L1772.6,541.7L1776.4,543.2L1780.2,547.5L1784,553.2L1787.8,558.6L1791.6,562.4L1795.4,564.1L1799.2,564L1803,562.9L1806.8,561.8L1810.6,561L1814.5,560.6L1818.3,559.8L1822.1,558L1825.9,554.9L1829.7,550.9L1833.5,547L1837.3,544.4L1841.1,544.5L1844.9,547.6L1848.7,553L1852.5,559.4L1856.3,565L1860.1,568.2L1863.9,568.3L1867.8,565.6L1871.6,561.1L1875.4,556.6L1879.2,553.1L1883,551.5L1886.8,551.5L1890.6,552.2L1894.4,552.9L1898.2,552.9L1902,552.2L1905.8,551.7L1909.6,552L1913.4,553.9L1917.2,557.4L1921,561.5L1924.9,564.9L1928.7,566.5" fill="none" stroke="#f40000" stroke-width="1.9" stroke-linejoin="round" stroke-linecap="butt"/>
<path d="M1586,539L1589.8,537.4L1593.7,536.9L1597.5,537.3L1601.3,538.3L1605.1,539.3L1608.9,539.9L1612.7,539.9L1616.5,539.4L1620.3,539L1624.1,539.1L1627.9,540.2L1631.7,542.3L1635.5,545L1639.3,547.4L1643.1,548.6L1646.9,547.7L1650.8,544.6L1654.6,540.6L1658.4,538.7L1662.2,539.8L1666,544L1669.8,551.3L1673.6,560.4L1677.4,569.5L1681.2,576.8L1685,582.9L1688.8,586L1692.6,585.3L1696.4,581L1700.2,574.1L1704.1,566.6L1707.9,560.5L1711.7,557.1L1715.5,557.4L1719.3,560.8L1723.1,566.3L1726.9,572.3L1730.7,577.1L1734.5,579.7L1738.3,579.7L1742.1,577.6L1745.9,574.4L1749.7,571.1L1753.5,568.8L1757.3,567.8L1761.2,568L1765,568.9L1768.8,569.8L1772.6,570.2L1776.4,569.8L1780.2,568.9L1784,567.9L1787.8,567.5L1791.6,568.1L1795.4,569.7L1799.2,572.1L1803,574.6L1806.8,576.6L1810.6,577.3L1814.5,576.6L1818.3,574.5L1822.1,571.6L1825.9,568.4L1829.7,565.7L1833.5,564L1837.3,563.5L1841.1,564.3L1844.9,566.2L1848.7,568.8L1852.5,571.8L1856.3,574.7L1860.1,577.2L1863.9,578.8L1867.8,579.2L1871.6,578.1L1875.4,575.5L1879.2,571.6L1883,567.1L1886.8,562.9L1890.6,560L1894.4,559.2L1898.2,561L1902,565.2L1905.8,570.9L1909.6,576.8L1913.4,581.5L1917.2,583.7L1921,582.8L1924.9,578.9L1928.7,573.2" fill="none" stroke="#f40000" stroke-width="1.9" stroke-linejoin="round" stroke-linecap="butt"/>
<path d="M1586,557.3L1589.8,557.1L1593.7,556.1L1597.5,554.8L1601.3,553.3L1605.1,552.1L1608.9,551.4L1612.7,551.4L1616.5,551.9L1620.3,552.7L1624.1,553.7L1627.9,554.4L1631.7,554.6L1635.5,554.3L1639.3,553.5L1643.1,552.6L1646.9,551.7L1650.8,551.2L1654.6,551.6L1658.4,553.6L1662.2,557.1L1666,561.3L1669.8,565.2L1673.6,568.3L1677.4,569.6L1681.2,569L1685,567.5L1688.8,565.6L1692.6,563.6L1696.4,561.9L1700.2,561L1704.1,561L1707.9,561.9L1711.7,563.5L1715.5,565.6L1719.3,567.6L1723.1,569.2L1726.9,570.1L1730.7,570.1L1734.5,569.4L1738.3,568L1742.1,566.4L1745.9,564.9L1749.7,563.8L1753.5,563.2L1757.3,563.2L1761.2,563.6L1765,564.2L1768.8,564.8L1772.6,565.2L1776.4,565.5L1780.2,565.5L1784,565.5L1787.8,565.6L1791.6,565.9L1795.4,566.5L1799.2,567.4L1803,568.3L1806.8,569L1810.6,569.3L1814.5,568.8L1818.3,567.7L1822.1,565.9L1825.9,563.7L1829.7,561.6L1833.5,560.1L1837.3,559.5L1841.1,560L1844.9,561.7L1848.7,564.2L1852.5,567.3L1856.3,570.2L1860.1,572.5L1863.9,573.5L1867.8,573.2L1871.6,571.6L1875.4,568.8L1879.2,565.5L1883,562.3L1886.8,559.8L1890.6,558.3L1894.4,558.2L1898.2,559.3L1902,561.5L1905.8,564.2L1909.6,567L1913.4,569.4L1917.2,571L1921,571.7L1924.9,571.4L1928.7,570.4" fill="none" stroke="#f40000" stroke-width="1.9" stroke-linejoin="round" stroke-linecap="butt"/>
<path d="M1586,526L1589.8,528.7L1593.7,531.8L1597.5,534.9L1601.3,537.6L1605.1,539.3L1608.9,539.9L1612.7,539.2L1616.5,537.3L1620.3,534.6L1624.1,531.4L1627.9,528.3L1631.7,525.6L1635.5,524L1639.3,523.5L1643.1,524.4L1646.9,526.3L1650.8,529.1L1654.6,533.9L1658.4,541.7L1662.2,550.6L1666,559.1L1669.8,565.7L1673.6,569.3L1677.4,568.8L1681.2,565.9L1685,562.9L1688.8,560.2L1692.6,558.3L1696.4,557.5L1700.2,558L1704.1,559.6L1707.9,562.1L1711.7,565.1L1715.5,568.1L1719.3,570.6L1723.1,572.1L1726.9,572.5L1730.7,571.6L1734.5,569.6L1738.3,566.8L1742.1,563.7L1745.9,560.7L1749.7,558.3L1753.5,557L1757.3,556.8L1761.2,557.9L1765,560L1768.8,562.9L1772.6,566L1776.4,569L1780.2,571.3L1784,572.6L1787.8,572.7L1791.6,571.8L1795.4,569.8L1799.2,567.3L1803,564.4L1806.8,561.8L1810.6,559.6L1814.5,558.3L1818.3,557.9L1822.1,558.5L1825.9,559.9L1829.7,561.8L1833.5,563.9L1837.3,566L1841.1,567.7L1844.9,568.9L1848.7,569.5L1852.5,569.6L1856.3,569.1L1860.1,568.2L1863.9,567.1L1867.8,566L1871.6,565L1875.4,564.1L1879.2,563.3L1883,562.8L1886.8,562.3L1890.6,562L1894.4,561.7L1898.2,561.6L1902,561.6L1905.8,561.9L1909.6,562.5L1913.4,563.5L1917.2,564.8L1921,566.3L1924.9,567.9L1928.7,569.4" fill="none" stroke="#f40000" stroke-width="1.9" stroke-linejoin="round" stroke-linecap="butt"/>
<path d="M1586,505.6L1589.8,504.6L1593.7,506.4L1597.5,510.6L1601.3,516.4L1605.1,522.4L1608.9,527.1L1612.7,529.5L1616.5,528.8L1620.3,525.4L1624.1,520L1627.9,513.9L1631.7,508.6L1635.5,505.3L1639.3,504.5L1643.1,508.8L1646.9,520.2L1650.8,535.5L1654.6,551.6L1658.4,565.3L1662.2,574.1L1666,576.1L1669.8,573.5L1673.6,570.6L1677.4,568.1L1681.2,567.1L1685,567.7L1688.8,569.8L1692.6,572.7L1696.4,575.6L1700.2,577.5L1704.1,577.7L1707.9,575.9L1711.7,572.5L1715.5,568.3L1719.3,564.3L1723.1,561.5L1726.9,560.6L1730.7,562L1734.5,565.2L1738.3,569.6L1742.1,574.2L1745.9,577.9L1749.7,580L1753.5,580.2L1757.3,578.5L1761.2,575.4L1765,572L1768.8,568.8L1772.6,566.7L1776.4,566L1780.2,566.4L1784,567.8L1787.8,569.3L1791.6,570.6L1795.4,571.1L1799.2,570.9L1803,570L1806.8,569L1810.6,568.3L1814.5,568.4L1818.3,569.4L1822.1,571.3L1825.9,573.5L1829.7,575.7L1833.5,577.1L1837.3,577.3L1841.1,576.2L1844.9,574L1848.7,571.1L1852.5,568.1L1856.3,565.8L1860.1,564.5L1863.9,564.4L1867.8,565.5L1871.6,567.4L1875.4,569.6L1879.2,571.5L1883,572.8L1886.8,573.4L1890.6,573.4L1894.4,573L1898.2,572.7L1902,572.6L1905.8,572.8L1909.6,573.4L1913.4,573.8L1917.2,573.9L1921,573.3L1924.9,571.9L1928.7,569.8" fill="none" stroke="#f40000" stroke-width="1.9" stroke-linejoin="round" stroke-linecap="butt"/>
<path d="M1586,531.9L1589.8,533.2L1593.7,533.9L1597.5,534L1601.3,533.5L1605.1,532.5L1608.9,531.3L1612.7,530.2L1616.5,529.3L1620.3,529L1624.1,529.1L1627.9,529.8L1631.7,530.9L1635.5,532L1639.3,533.1L1643.1,533.7L1646.9,533.9L1650.8,533.5L1654.6,532.5L1658.4,532L1662.2,533.9L1666,537.7L1669.8,542.7L1673.6,548.1L1677.4,553L1681.2,556.3L1685,558L1688.8,559.8L1692.6,561.5L1696.4,562.8L1700.2,563.3L1704.1,563L1707.9,561.8L1711.7,560L1715.5,557.7L1719.3,555.5L1723.1,553.6L1726.9,552.5L1730.7,552.4L1734.5,553.3L1738.3,555.2L1742.1,557.7L1745.9,560.5L1749.7,563.1L1753.5,565L1757.3,565.9L1761.2,565.6L1765,564.1L1768.8,561.5L1772.6,558.3L1776.4,555L1780.2,552.1L1784,550.1L1787.8,549.3L1791.6,550.1L1795.4,552.2L1799.2,555.4L1803,559.2L1806.8,563.1L1810.6,566.3L1814.5,568.4L1818.3,569L1822.1,567.9L1825.9,565.4L1829.7,561.6L1833.5,557.3L1837.3,553L1841.1,549.5L1844.9,547.2L1848.7,546.7L1852.5,547.9L1856.3,550.7L1860.1,554.7L1863.9,559.4L1867.8,564L1871.6,567.7L1875.4,570.1L1879.2,570.8L1883,569.6L1886.8,566.8L1890.6,562.8L1894.4,558.1L1898.2,553.5L1902,549.7L1905.8,547.1L1909.6,546.3L1913.4,547.2L1917.2,549.7L1921,553.4L1924.9,557.8L1928.7,562.1" fill="none" stroke="#f40000" stroke-width="1.9" stroke-linejoin="round" stroke-linecap="butt"/>
<path d="M1586,522.2L1589.8,522.6L1593.7,523.9L1597.5,526.2L1601.3,529.3L1605.1,532.8L1608.9,536L1612.7,538.2L1616.5,538.7L1620.3,537.2L1624.1,534L1627.9,529.7L1631.7,525.1L1635.5,521L1639.3,518.3L1643.1,517.2L1646.9,517.8L1650.8,521.7L1654.6,529.9L1658.4,540.4L1662.2,551.1L1666,560.5L1669.8,567.2L1673.6,569.9L1677.4,570.7L1681.2,571.8L1685,573.2L1688.8,574.6L1692.6,575.5L1696.4,575.3L1700.2,573.7L1704.1,570.7L1707.9,566.7L1711.7,562.4L1715.5,558.6L1719.3,556.2L1723.1,555.6L1726.9,557L1730.7,560L1734.5,564L1738.3,568.2L1742.1,571.7L1745.9,574.1L1749.7,575.1L1753.5,574.9L1757.3,573.9L1761.2,572.6L1765,571.5L1768.8,570.7L1772.6,570.1L1776.4,569.4L1780.2,568.3L1784,566.4L1787.8,564L1791.6,561.2L1795.4,558.8L1799.2,557.3L1803,557.3L1806.8,559.1L1810.6,562.5L1814.5,566.9L1818.3,571.5L1822.1,575.5L1825.9,578L1829.7,578.7L1833.5,577.5L1837.3,574.9L1841.1,571.6L1844.9,568.4L1848.7,565.7L1852.5,563.9L1856.3,563.1L1860.1,562.8L1863.9,562.7L1867.8,562.5L1871.6,562.1L1875.4,561.6L1879.2,561.4L1883,562L1886.8,563.6L1890.6,566.3L1894.4,569.9L1898.2,573.6L1902,576.9L1905.8,578.8L1909.6,578.9L1913.4,577.1L1917.2,573.6L1921,569.2L1924.9,564.7L1928.7,561" fill="none" stroke="#f40000" stroke-width="1.9" stroke-linejoin="round" stroke-linecap="butt"/>
<path d="M1586,520.4L1589.8,517.6L1593.7,515.9L1597.5,515.6L1601.3,517L1605.1,520L1608.9,524.2L1612.7,528.8L1616.5,533L1620.3,535.9L1624.1,537L1627.9,535.8L1631.7,532.4L1635.5,527.6L1639.3,522L1643.1,516.8L1646.9,513L1650.8,511.4L1654.6,512.3L1658.4,517.9L1662.2,529.9L1666,545.5L1669.8,561.8L1673.6,575.7L1677.4,584.9L1681.2,587L1685,584.2L1688.8,579.6L1692.6,574.4L1696.4,569.4L1700.2,565.7L1704.1,563.9L1707.9,564.2L1711.7,566.4L1715.5,570L1719.3,574.1L1723.1,577.9L1726.9,580.6L1730.7,581.9L1734.5,581.6L1738.3,580L1742.1,577.6L1745.9,575.1L1749.7,573.1L1753.5,571.8L1757.3,571.5L1761.2,572.1L1765,573.1L1768.8,574.2L1772.6,574.9L1776.4,575L1780.2,574.5L1784,573.5L1787.8,572.5L1791.6,571.8L1795.4,571.9L1799.2,572.8L1803,574.6L1806.8,576.9L1810.6,579.2L1814.5,580.9L1818.3,581.5L1822.1,580.6L1825.9,578.4L1829.7,575L1833.5,571.2L1837.3,567.8L1841.1,565.4L1844.9,564.6L1848.7,565.8L1852.5,568.8L1856.3,573.1L1860.1,577.9L1863.9,582.2L1867.8,585.2L1871.6,586.2L1875.4,585.1L1879.2,582L1883,577.6L1886.8,572.6L1890.6,568L1894.4,564.6L1898.2,563.1L1902,563.8L1905.8,566.3L1909.6,570.2L1913.4,574.7L1917.2,579.1L1921,582.4L1924.9,584.2L1928.7,584.4" fill="none" stroke="#f40000" stroke-width="1.9" stroke-linejoin="round" stroke-linecap="butt"/>
<path d="M1586,518L1589.8,519.7L1593.7,522.8L1597.5,526.2L1601.3,528.6L1605.1,529L1608.9,527.1L1612.7,523.1L1616.5,518.2L1620.3,513.7L1624.1,511L1627.9,511.1L1631.7,514.4L1635.5,520.3L1639.3,527.6L1643.1,534.5L1646.9,540.5L1650.8,546.3L1654.6,550.7L1658.4,552.7L1662.2,552.4L1666,550.2L1669.8,546.5L1673.6,543L1677.4,542.7L1681.2,545.3L1685,550L1688.8,555.4L1692.6,560L1696.4,562.5L1700.2,562.7L1704.1,560.7L1707.9,557.4L1711.7,554L1715.5,551.9L1719.3,551.9L1723.1,554.1L1726.9,558.1L1730.7,562.8L1734.5,566.8L1738.3,568.8L1742.1,568L1745.9,564.3L1749.7,558.4L1753.5,551.5L1757.3,545.3L1761.2,541.2L1765,540.2L1768.8,542.5L1772.6,547.6L1776.4,554.2L1780.2,560.9L1784,566.3L1787.8,569.2L1791.6,569.3L1795.4,566.8L1799.2,562.7L1803,558.2L1806.8,554.4L1810.6,552.3L1814.5,552L1818.3,553.5L1822.1,555.7L1825.9,557.9L1829.7,559L1833.5,558.6L1837.3,556.7L1841.1,553.7L1844.9,550.4L1848.7,548L1852.5,547.3L1856.3,548.7L1860.1,552.2L1863.9,557L1867.8,562.2L1871.6,566.7L1875.4,569.4L1879.2,569.7L1883,567.7L1886.8,563.7L1890.6,558.6L1894.4,553.5L1898.2,549.4L1902,547L1905.8,546.4L1909.6,547.7L1913.4,550.1L1917.2,553L1921,555.7L1924.9,557.7L1928.7,558.8" fill="none" stroke="#f40000" stroke-width="1.9" stroke-linejoin="round" stroke-linecap="butt"/>
<path d="M1586,562.6L1589.8,561.7L1593.7,558.9L1597.5,554.7L1601.3,549.8L1605.1,545.3L1608.9,542.2L1612.7,541.2L1616.5,542.6L1620.3,546.1L1624.1,551.3L1627.9,557L1631.7,562.3L1635.5,565.9L1639.3,567.3L1643.1,566.1L1646.9,562.6L1650.8,557.4L1654.6,551.7L1658.4,547.3L1662.2,547.2L1666,551.1L1669.8,558.1L1673.6,566.9L1677.4,575.8L1681.2,582.7L1685,587.4L1688.8,591L1692.6,593L1696.4,593.3L1700.2,592L1704.1,589.6L1707.9,586.5L1711.7,583.5L1715.5,581L1719.3,579.2L1723.1,578.4L1726.9,578.4L1730.7,579L1734.5,579.9L1738.3,580.9L1742.1,581.9L1745.9,582.8L1749.7,583.6L1753.5,584.5L1757.3,585.5L1761.2,586.5L1765,587.4L1768.8,588.1L1772.6,588.2L1776.4,587.7L1780.2,586.5L1784,584.6L1787.8,582.4L1791.6,580.1L1795.4,578.3L1799.2,577.3L1803,577.4L1806.8,578.6L1810.6,580.8L1814.5,583.5L1818.3,586.2L1822.1,588.4L1825.9,589.5L1829.7,589.4L1833.5,588.2L1837.3,586.1L1841.1,583.6L1844.9,581.3L1848.7,579.8L1852.5,579.3L1856.3,580L1860.1,581.6L1863.9,583.7L1867.8,585.7L1871.6,587L1875.4,587.3L1879.2,586.3L1883,584.3L1886.8,581.8L1890.6,579.3L1894.4,577.7L1898.2,577.4L1902,578.7L1905.8,581.4L1909.6,585L1913.4,588.9L1917.2,592.1L1921,593.8L1924.9,593.5L1928.7,591" fill="none" stroke="#f40000" stroke-width="1.9" stroke-linejoin="round" stroke-linecap="butt"/>
<path d="M1586,534.1L1589.8,537.7L1593.7,540.5L1597.5,541.8L1601.3,541.4L1605.1,539.5L1608.9,536.7L1612.7,533.5L1616.5,530.8L1620.3,529L1624.1,528.4L1627.9,529.1L1631.7,530.8L1635.5,532.9L1639.3,534.9L1643.1,536.4L1646.9,537.1L1650.8,538.5L1654.6,542.6L1658.4,548.5L1662.2,555.3L1666,562L1669.8,567.2L1673.6,569.7L1677.4,570.3L1681.2,570.8L1685,570.9L1688.8,570.6L1692.6,569.7L1696.4,568.6L1700.2,567.5L1704.1,566.8L1707.9,566.7L1711.7,567.5L1715.5,569.1L1719.3,571.1L1723.1,573.2L1726.9,574.7L1730.7,575.4L1734.5,574.8L1738.3,573.2L1742.1,570.7L1745.9,568L1749.7,565.5L1753.5,563.9L1757.3,563.6L1761.2,564.6L1765,566.8L1768.8,569.6L1772.6,572.5L1776.4,574.9L1780.2,576.1L1784,576.1L1787.8,574.8L1791.6,572.5L1795.4,569.9L1799.2,567.4L1803,565.7L1806.8,565L1810.6,565.4L1814.5,566.7L1818.3,568.5L1822.1,570.4L1825.9,571.9L1829.7,572.7L1833.5,572.7L1837.3,572.1L1841.1,571.2L1844.9,570.2L1848.7,569.5L1852.5,569.3L1856.3,569.6L1860.1,570.2L1863.9,570.8L1867.8,571.1L1871.6,570.9L1875.4,570.1L1879.2,568.8L1883,567.5L1886.8,566.6L1890.6,566.3L1894.4,566.9L1898.2,568.4L1902,570.7L1905.8,573.1L1909.6,575.1L1913.4,576.2L1917.2,576L1921,574.4L1924.9,571.6L1928.7,568.2" fill="none" stroke="#f40000" stroke-width="1.9" stroke-linejoin="round" stroke-linecap="butt"/>
<path d="M1586,541.9L1589.8,537.9L1593.7,533.3L1597.5,529.1L1601.3,525.8L1605.1,524L1608.9,523.9L1612.7,525.4L1616.5,528.2L1620.3,531.7L1624.1,535.4L1627.9,538.9L1631.7,541.9L1635.5,544.1L1639.3,545.5L1643.1,546L1646.9,547.2L1650.8,549.9L1654.6,553.2L1658.4,556.2L1662.2,558.1L1666,558.1L1669.8,555.8L1673.6,553.1L1677.4,551.5L1681.2,551.4L1685,552.9L1688.8,555.8L1692.6,559.7L1696.4,564L1700.2,567.7L1704.1,570.4L1707.9,571.5L1711.7,571L1715.5,569L1719.3,566.1L1723.1,563.1L1726.9,560.7L1730.7,559.3L1734.5,559.3L1738.3,560.5L1742.1,562.5L1745.9,564.6L1749.7,566.2L1753.5,566.7L1757.3,565.9L1761.2,563.8L1765,560.9L1768.8,557.8L1772.6,555.2L1776.4,553.8L1780.2,553.8L1784,555.4L1787.8,558.3L1791.6,561.9L1795.4,565.8L1799.2,569.1L1803,571.6L1806.8,572.8L1810.6,572.8L1814.5,571.6L1818.3,569.6L1822.1,566.9L1825.9,564L1829.7,561L1833.5,558.1L1837.3,555.5L1841.1,553.5L1844.9,552.2L1848.7,551.8L1852.5,552.7L1856.3,554.8L1860.1,558.1L1863.9,562.2L1867.8,566.7L1871.6,570.8L1875.4,573.9L1879.2,575.5L1883,575.1L1886.8,572.9L1890.6,569.1L1894.4,564.5L1898.2,559.9L1902,556.1L1905.8,553.8L1909.6,553.3L1913.4,554.5L1917.2,557L1921,560.1L1924.9,563L1928.7,565.1" fill="none" stroke="#f40000" stroke-width="1.9" stroke-linejoin="round" stroke-linecap="butt"/>
<path d="M1586,549.3L1589.8,546.4L1593.7,542.5L1597.5,538.4L1601.3,534.8L1605.1,532.3L1608.9,531.5L1612.7,532.4L1616.5,534.8L1620.3,538.4L1624.1,542.3L1627.9,545.9L1631.7,548.6L1635.5,549.9L1639.3,549.5L1643.1,547.7L1646.9,545.8L1650.8,545.4L1654.6,546.5L1658.4,548.8L1662.2,551.8L1666,555L1669.8,557.5L1673.6,559.9L1677.4,562.8L1681.2,565.9L1685,568.5L1688.8,570.3L1692.6,570.8L1696.4,570.2L1700.2,568.5L1704.1,566.2L1707.9,563.6L1711.7,561.3L1715.5,559.7L1719.3,558.9L1723.1,559.1L1726.9,560.1L1730.7,561.8L1734.5,563.7L1738.3,565.5L1742.1,566.9L1745.9,567.7L1749.7,567.8L1753.5,567.3L1757.3,566.3L1761.2,565L1765,563.8L1768.8,562.8L1772.6,562.1L1776.4,561.9L1780.2,562.1L1784,562.6L1787.8,563.3L1791.6,563.9L1795.4,564.4L1799.2,564.8L1803,564.9L1806.8,564.8L1810.6,564.7L1814.5,564.5L1818.3,564.4L1822.1,564.4L1825.9,564.4L1829.7,564.5L1833.5,564.6L1837.3,564.7L1841.1,564.5L1844.9,564.2L1848.7,563.8L1852.5,563.4L1856.3,562.9L1860.1,562.6L1863.9,562.6L1867.8,562.8L1871.6,563.3L1875.4,564L1879.2,564.8L1883,565.6L1886.8,566.2L1890.6,566.4L1894.4,566.3L1898.2,565.8L1902,564.9L1905.8,563.9L1909.6,562.9L1913.4,562L1917.2,561.5L1921,561.4L1924.9,561.7L1928.7,562.5" fill="none" stroke="#f40000" stroke-width="1.9" stroke-linejoin="round" stroke-linecap="butt"/>
<path d="M1586,537.8L1589.8,534.3L1593.7,529.8L1597.5,525.5L1601.3,522.4L1605.1,521.4L1608.9,522.8L1612.7,526.4L1616.5,531.3L1620.3,536.3L1624.1,540.3L1627.9,542.2L1631.7,541.6L1635.5,538.5L1639.3,533.8L1643.1,528.5L1646.9,523.9L1650.8,521.2L1654.6,520.8L1658.4,523.7L1662.2,531.6L1666,542.6L1669.8,554.3L1673.6,564.4L1677.4,571.1L1681.2,572.9L1685,570.2L1688.8,566.3L1692.6,562.4L1696.4,559.4L1700.2,557.9L1704.1,558.1L1707.9,559.8L1711.7,562.4L1715.5,565L1719.3,567.2L1723.1,568.3L1726.9,568.3L1730.7,567.4L1734.5,566.1L1738.3,564.8L1742.1,564L1745.9,563.9L1749.7,564.4L1753.5,565.2L1757.3,565.9L1761.2,565.9L1765,565.3L1768.8,563.9L1772.6,562.3L1776.4,560.9L1780.2,560.3L1784,560.8L1787.8,562.6L1791.6,565.3L1795.4,568.3L1799.2,570.9L1803,572.2L1806.8,571.8L1810.6,569.5L1814.5,565.9L1818.3,561.6L1822.1,557.7L1825.9,555.3L1829.7,555L1833.5,557L1837.3,560.9L1841.1,565.9L1844.9,570.8L1848.7,574.4L1852.5,575.8L1856.3,574.6L1860.1,571L1863.9,566L1867.8,560.7L1871.6,556.3L1875.4,553.9L1879.2,554.1L1883,556.8L1886.8,561.2L1890.6,566.4L1894.4,570.9L1898.2,573.9L1902,574.5L1905.8,572.8L1909.6,569.3L1913.4,564.9L1917.2,560.7L1921,557.7L1924.9,556.7L1928.7,557.7" fill="none" stroke="#f40000" stroke-width="1.9" stroke-linejoin="round" stroke-linecap="butt"/>
<path d="M1586,512.2L1589.8,515.7L1593.7,520.3L1597.5,524.8L1601.3,528.2L1605.1,529.8L1608.9,529.2L1612.7,526.8L1616.5,523.4L1620.3,519.9L1624.1,516.9L1627.9,515.1L1631.7,514.3L1635.5,514.5L1639.3,515.4L1643.1,516.7L1646.9,518.3L1650.8,520.2L1654.6,522.2L1658.4,527.6L1662.2,537.4L1666,549.2L1669.8,560.5L1673.6,569.2L1677.4,573.5L1681.2,571.9L1685,568.1L1688.8,565.3L1692.6,564.2L1696.4,565.1L1700.2,567.9L1704.1,571.8L1707.9,575.9L1711.7,579L1715.5,580.6L1719.3,580.5L1723.1,578.8L1726.9,576.3L1730.7,573.6L1734.5,571.4L1738.3,569.9L1742.1,569.2L1745.9,569L1749.7,569.1L1753.5,569.5L1757.3,570.1L1761.2,571.1L1765,572.7L1768.8,574.7L1772.6,576.9L1776.4,578.7L1780.2,579.6L1784,579.1L1787.8,577.1L1791.6,574.1L1795.4,570.6L1799.2,567.7L1803,566L1806.8,566.1L1810.6,567.8L1814.5,570.6L1818.3,573.7L1822.1,576.4L1825.9,577.9L1829.7,578.2L1833.5,577.5L1837.3,576.1L1841.1,574.7L1844.9,573.5L1848.7,572.7L1852.5,572.1L1856.3,571.5L1860.1,570.8L1863.9,570L1867.8,569.4L1871.6,569.3L1875.4,570L1879.2,571.8L1883,574.2L1886.8,576.8L1890.6,578.7L1894.4,579.5L1898.2,578.7L1902,576.5L1905.8,573.5L1909.6,570.6L1913.4,568.3L1917.2,567.4L1921,567.9L1924.9,569.4L1928.7,571.5" fill="none" stroke="#f40000" stroke-width="1.9" stroke-linejoin="round" stroke-linecap="butt"/>
<path d="M1586,518L1589.8,518.3L1593.7,520.5L1597.5,523.9L1601.3,527.7L1605.1,531.2L1608.9,533.8L1612.7,535.5L1616.5,536.3L1620.3,536.6L1624.1,536.5L1627.9,536.3L1631.7,535.7L1635.5,534.6L1639.3,532.6L1643.1,529.8L1646.9,526.4L1650.8,522.8L1654.6,519.8L1658.4,519.5L1662.2,526.3L1666,538.9L1669.8,555L1673.6,571.7L1677.4,586L1681.2,594.8L1685,597.1L1688.8,596.8L1692.6,594.5L1696.4,590.7L1700.2,586.4L1704.1,582.5L1707.9,579.6L1711.7,577.9L1715.5,577.4L1719.3,577.8L1723.1,578.6L1726.9,579.6L1730.7,580.6L1734.5,581.9L1738.3,583.6L1742.1,585.8L1745.9,588.6L1749.7,591.4L1753.5,593.9L1757.3,595.2L1761.2,594.9L1765,592.6L1768.8,588.7L1772.6,583.7L1776.4,578.7L1780.2,574.8L1784,572.7L1787.8,572.8L1791.6,575.2L1795.4,579.1L1799.2,583.7L1803,588L1806.8,591.2L1810.6,592.9L1814.5,593.2L1818.3,592.3L1822.1,590.8L1825.9,589.1L1829.7,587.5L1833.5,586.1L1837.3,584.6L1841.1,582.9L1844.9,581L1848.7,578.9L1852.5,577L1856.3,575.9L1860.1,576.2L1863.9,578.1L1867.8,581.5L1871.6,586L1875.4,590.7L1879.2,594.5L1883,596.6L1886.8,596.5L1890.6,594.3L1894.4,590.3L1898.2,585.6L1902,581.1L1905.8,577.7L1909.6,576L1913.4,575.9L1917.2,577.2L1921,579.3L1924.9,581.6L1928.7,583.7" fill="none" stroke="#f40000" stroke-width="1.9" stroke-linejoin="round" stroke-linecap="butt"/>
<path d="M1586,543.7L1589.8,546L1593.7,549.3L1597.5,552.7L1601.3,555.5L1605.1,557L1608.9,556.9L1612.7,555.2L1616.5,552.5L1620.3,549.6L1624.1,547.2L1627.9,545.9L1631.7,546.2L1635.5,547.8L1639.3,550.3L1643.1,553.5L1646.9,557.3L1650.8,560.5L1654.6,562.6L1658.4,563L1662.2,561.9L1666,559.7L1669.8,557.6L1673.6,557.1L1677.4,558.7L1681.2,562L1685,566.3L1688.8,570.6L1692.6,573.8L1696.4,575L1700.2,573.7L1704.1,570L1707.9,564.8L1711.7,559.2L1715.5,554.5L1719.3,551.9L1723.1,552L1726.9,555L1730.7,560.2L1734.5,566.4L1738.3,572.3L1742.1,576.4L1745.9,577.8L1749.7,576.2L1753.5,572L1757.3,566.1L1761.2,560.1L1765,555.2L1768.8,552.6L1772.6,552.9L1776.4,555.8L1780.2,560.6L1784,566L1787.8,570.7L1791.6,573.6L1795.4,573.9L1799.2,571.8L1803,568L1806.8,563.4L1810.6,559.3L1814.5,556.9L1818.3,556.8L1822.1,558.8L1825.9,562.5L1829.7,566.8L1833.5,570.5L1837.3,572.4L1841.1,572.1L1844.9,569.6L1848.7,565.4L1852.5,560.6L1856.3,556.6L1860.1,554.3L1863.9,554.6L1867.8,557.4L1871.6,562.2L1875.4,567.8L1879.2,572.8L1883,576.1L1886.8,576.7L1890.6,574.4L1894.4,569.8L1898.2,563.8L1902,557.9L1905.8,553.4L1909.6,551.4L1913.4,552.3L1917.2,555.9L1921,561.3L1924.9,567.3L1928.7,572.4" fill="none" stroke="#f40000" stroke-width="1.9" stroke-linejoin="round" stroke-linecap="butt"/>
<path d="M1586,534.1L1589.8,537.4L1593.7,540.4L1597.5,542L1601.3,541.4L1605.1,538.8L1608.9,535.3L1612.7,532.2L1616.5,531.1L1620.3,532.4L1624.1,535.9L1627.9,540.3L1631.7,543.7L1635.5,544.8L1639.3,543L1643.1,538.6L1646.9,533L1650.8,528.7L1654.6,529.3L1658.4,534.7L1662.2,543.4L1666,553.3L1669.8,562L1673.6,567.2L1677.4,568.6L1681.2,568.7L1685,568.6L1688.8,568.9L1692.6,570.1L1696.4,571.8L1700.2,572.9L1704.1,572.6L1707.9,570.1L1711.7,565.7L1715.5,560.5L1719.3,556L1723.1,553.7L1726.9,554.5L1730.7,558.1L1734.5,563.4L1738.3,568.4L1742.1,571.7L1745.9,572.2L1749.7,570.1L1753.5,566.5L1757.3,563L1761.2,561.1L1765,561.4L1768.8,563.8L1772.6,567.1L1776.4,570L1780.2,571.3L1784,570.7L1787.8,568.6L1791.6,566L1795.4,564L1799.2,563.2L1803,563.6L1806.8,564.4L1810.6,564.8L1814.5,563.9L1818.3,561.7L1822.1,558.9L1825.9,556.9L1829.7,556.8L1833.5,559.4L1837.3,564.3L1841.1,570.4L1844.9,575.9L1848.7,578.9L1852.5,578.6L1856.3,575L1860.1,569.3L1863.9,563.4L1867.8,558.9L1871.6,556.9L1875.4,557.5L1879.2,559.8L1883,562.5L1886.8,564.4L1890.6,564.9L1894.4,564.3L1898.2,563.3L1902,562.9L1905.8,563.9L1909.6,566L1913.4,568.5L1917.2,570.4L1921,570.8L1924.9,569.2L1928.7,566.4" fill="none" stroke="#f40000" stroke-width="1.9" stroke-linejoin="round" stroke-linecap="butt"/>
<path d="M1586,525.5L1589.8,530.2L1593.7,535.3L1597.5,539.5L1601.3,541.5L1605.1,540.8L1608.9,537.8L1612.7,533.4L1616.5,529L1620.3,525.8L1624.1,524.5L1627.9,525L1631.7,526.9L1635.5,529L1639.3,530.5L1643.1,531L1646.9,532.8L1650.8,538.3L1654.6,546.7L1658.4,556.5L1662.2,566.2L1666,573.7L1669.8,576.8L1673.6,576.6L1677.4,575.5L1681.2,573.7L1685,572.2L1688.8,571.8L1692.6,572.9L1696.4,575.6L1700.2,579.1L1704.1,582.2L1707.9,583.7L1711.7,582.9L1715.5,579.8L1719.3,575.1L1723.1,570.2L1726.9,566.3L1730.7,564.6L1734.5,565.3L1738.3,568L1742.1,571.8L1745.9,575.6L1749.7,578.4L1753.5,579.9L1757.3,580.3L1761.2,580.2L1765,579.9L1768.8,579.9L1772.6,579.9L1776.4,579.4L1780.2,578.1L1784,575.7L1787.8,572.5L1791.6,569.3L1795.4,567L1799.2,566.5L1803,568.1L1806.8,571.5L1810.6,575.8L1814.5,579.6L1818.3,581.7L1822.1,581.6L1825.9,579.4L1829.7,576.1L1833.5,572.7L1837.3,570.6L1841.1,570.4L1844.9,572L1848.7,574.7L1852.5,577.6L1856.3,579.5L1860.1,580.1L1863.9,579.3L1867.8,577.7L1871.6,576L1875.4,574.7L1879.2,574L1883,573.8L1886.8,573.5L1890.6,572.7L1894.4,571.3L1898.2,569.6L1902,568.5L1905.8,568.6L1909.6,570.6L1913.4,574.3L1917.2,579L1921,583.5L1924.9,586.4L1928.7,586.8" fill="none" stroke="#f40000" stroke-width="1.9" stroke-linejoin="round" stroke-linecap="butt"/>
<path d="M1586,557L1589.8,560.5L1593.7,561.6L1597.5,560.1L1601.3,556.2L1605.1,550.8L1608.9,545.2L1612.7,540.6L1616.5,538.1L1620.3,538.3L1624.1,540.9L1627.9,545.4L1631.7,550.7L1635.5,555.4L1639.3,558.7L1643.1,559.8L1646.9,560.7L1650.8,563.2L1654.6,566.8L1658.4,571L1662.2,575.3L1666,578.9L1669.8,580.5L1673.6,581.6L1677.4,583.5L1681.2,585.6L1685,587.5L1688.8,588.7L1692.6,589.3L1696.4,589.4L1700.2,589.3L1704.1,589.3L1707.9,589.4L1711.7,589.6L1715.5,589.6L1719.3,589.3L1723.1,588.3L1726.9,586.7L1730.7,584.6L1734.5,582.5L1738.3,581L1742.1,580.6L1745.9,581.5L1749.7,584L1753.5,587.4L1757.3,591.2L1761.2,594.4L1765,596.2L1768.8,596L1772.6,593.9L1776.4,590L1780.2,585.4L1784,581L1787.8,577.9L1791.6,576.8L1795.4,578L1799.2,581.3L1803,585.8L1806.8,590.5L1810.6,594.2L1814.5,596.3L1818.3,596.1L1822.1,593.9L1825.9,590.3L1829.7,586.3L1833.5,582.8L1837.3,580.7L1841.1,580.3L1844.9,581.5L1848.7,583.9L1852.5,586.7L1856.3,589.1L1860.1,590.4L1863.9,590.5L1867.8,589.5L1871.6,587.9L1875.4,586.4L1879.2,585.4L1883,585.5L1886.8,586.5L1890.6,588.2L1894.4,589.8L1898.2,590.7L1902,590.5L1905.8,589L1909.6,586.5L1913.4,583.6L1917.2,581.1L1921,579.9L1924.9,580.4L1928.7,582.8" fill="none" stroke="#f40000" stroke-width="1.9" stroke-linejoin="round" stroke-linecap="butt"/>
<path d="M1586,526.3L1589.8,525.6L1593.7,525.5L1597.5,526.4L1601.3,528L1605.1,530.1L1608.9,532.4L1612.7,534.3L1616.5,535.5L1620.3,535.9L1624.1,535.3L1627.9,534L1631.7,532.3L1635.5,530.6L1639.3,529.1L1643.1,528.2L1646.9,527.9L1650.8,528.1L1654.6,528.7L1658.4,532.5L1662.2,539.3L1666,547.3L1669.8,555.4L1673.6,562.1L1677.4,566.2L1681.2,567.1L1685,567.7L1688.8,568.8L1692.6,570.4L1696.4,572.1L1700.2,573.6L1704.1,574.5L1707.9,574.6L1711.7,573.9L1715.5,572.3L1719.3,570.2L1723.1,568L1726.9,566.1L1730.7,564.8L1734.5,564.3L1738.3,564.7L1742.1,565.7L1745.9,567.1L1749.7,568.5L1753.5,569.7L1757.3,570.4L1761.2,570.6L1765,570.5L1768.8,570.3L1772.6,570.1L1776.4,570.3L1780.2,570.7L1784,571.4L1787.8,572.1L1791.6,572.5L1795.4,572.5L1799.2,571.8L1803,570.5L1806.8,568.7L1810.6,566.8L1814.5,565.1L1818.3,564L1822.1,563.7L1825.9,564.4L1829.7,565.8L1833.5,567.8L1837.3,569.9L1841.1,571.7L1844.9,573L1848.7,573.5L1852.5,573.3L1856.3,572.5L1860.1,571.5L1863.9,570.5L1867.8,569.7L1871.6,569.3L1875.4,569.2L1879.2,569.3L1883,569.4L1886.8,569.2L1890.6,568.7L1894.4,567.8L1898.2,566.8L1902,565.9L1905.8,565.3L1909.6,565.3L1913.4,566L1917.2,567.4L1921,569.3L1924.9,571.4L1928.7,573.2" fill="none" stroke="#f40000" stroke-width="1.9" stroke-linejoin="round" stroke-linecap="butt"/>
<path d="M1586,551.4L1589.8,552.7L1593.7,553.9L1597.5,554.2L1601.3,553.3L1605.1,550.9L1608.9,547.6L1612.7,544.4L1616.5,542.1L1620.3,541.8L1624.1,543.7L1627.9,547.5L1631.7,552.2L1635.5,556.7L1639.3,559.6L1643.1,560.5L1646.9,562.1L1650.8,565.1L1654.6,569L1658.4,573.8L1662.2,579L1666,583.4L1669.8,585.9L1673.6,588.2L1677.4,590.2L1681.2,590.9L1685,590L1688.8,587.8L1692.6,585L1696.4,582.7L1700.2,581.6L1704.1,582.4L1707.9,584.7L1711.7,588.1L1715.5,591.6L1719.3,594.4L1723.1,595.7L1726.9,595.5L1730.7,594.1L1734.5,591.8L1738.3,589.4L1742.1,587.3L1745.9,585.9L1749.7,585L1753.5,584.5L1757.3,584.4L1761.2,584.5L1765,584.8L1768.8,585.4L1772.6,586.4L1776.4,587.7L1780.2,589.1L1784,590.2L1787.8,590.8L1791.6,590.7L1795.4,590.2L1799.2,589.4L1803,588.9L1806.8,589L1810.6,589.7L1814.5,590.9L1818.3,592L1822.1,592.3L1825.9,591.4L1829.7,589.1L1833.5,585.9L1837.3,582.4L1841.1,579.8L1844.9,579L1848.7,580.3L1852.5,583.6L1856.3,588.1L1860.1,592.6L1863.9,595.9L1867.8,597.1L1871.6,596L1875.4,593.1L1879.2,589.5L1883,586.4L1886.8,584.7L1890.6,584.8L1894.4,586.4L1898.2,588.8L1902,590.9L1905.8,591.7L1909.6,590.8L1913.4,588.4L1917.2,585.2L1921,582.3L1924.9,580.7L1928.7,581" fill="none" stroke="#f40000" stroke-width="1.9" stroke-linejoin="round" stroke-linecap="butt"/>
<path d="M1586,538.8L1589.8,537L1593.7,537L1597.5,538.4L1601.3,540.3L1605.1,541.9L1608.9,542.8L1612.7,543L1616.5,543.1L1620.3,543.5L1624.1,544.5L1627.9,545.8L1631.7,546.8L1635.5,546.7L1639.3,544.9L1643.1,541.7L1646.9,537.9L1650.8,534.9L1654.6,533.8L1658.4,537.6L1662.2,549.4L1666,566.1L1669.8,583.8L1673.6,598.5L1677.4,607.1L1681.2,607.4L1685,601.8L1688.8,596.1L1692.6,592.3L1696.4,591.6L1700.2,594.3L1704.1,599.2L1707.9,604.5L1711.7,608.3L1715.5,609.3L1719.3,607.3L1723.1,603.4L1726.9,599.2L1730.7,596.3L1734.5,596L1738.3,598.1L1742.1,601.7L1745.9,605.1L1749.7,606.9L1753.5,606.2L1757.3,603.2L1761.2,599.1L1765,595.7L1768.8,594.3L1772.6,595.7L1776.4,599.4L1780.2,604.2L1784,608.3L1787.8,610.2L1791.6,609L1795.4,605.3L1799.2,600.4L1803,595.8L1806.8,593.3L1810.6,593.4L1814.5,596.1L1818.3,600.1L1822.1,604L1825.9,606.6L1829.7,607.3L1833.5,606.2L1837.3,604.1L1841.1,601.9L1844.9,600.5L1848.7,600L1852.5,600.2L1856.3,600.4L1860.1,600.1L1863.9,599.3L1867.8,598.2L1871.6,597.7L1875.4,598.4L1879.2,600.7L1883,604L1886.8,607.4L1890.6,609.6L1894.4,609.4L1898.2,606.5L1902,601.5L1905.8,595.9L1909.6,591.6L1913.4,590.2L1917.2,592.4L1921,597.6L1924.9,604.2L1928.7,610" fill="none" stroke="#f40000" stroke-width="1.9" stroke-linejoin="round" stroke-linecap="butt"/>
<path d="M1586,545.8L1589.8,540.2L1593.7,535L1597.5,531.3L1601.3,529.4L1605.1,529.4L1608.9,530.9L1612.7,532.9L1616.5,534.9L1620.3,536L1624.1,536.3L1627.9,535.8L1631.7,535.1L1635.5,535L1639.3,536L1643.1,538.3L1646.9,542.7L1650.8,550.3L1654.6,559.3L1658.4,567.7L1662.2,573.6L1666,575.7L1669.8,573.1L1673.6,567L1677.4,560.6L1681.2,555.2L1685,551.9L1688.8,551.4L1692.6,553.5L1696.4,557.8L1700.2,563.2L1704.1,568.5L1707.9,572.8L1711.7,575.2L1715.5,575.7L1719.3,574.6L1723.1,572.7L1726.9,570.6L1730.7,569.2L1734.5,568.8L1738.3,569.3L1742.1,570.1L1745.9,570.7L1749.7,570.4L1753.5,568.7L1757.3,565.7L1761.2,561.8L1765,558L1768.8,555.1L1772.6,554.1L1776.4,555.5L1780.2,559.2L1784,564.7L1787.8,570.8L1791.6,576.4L1795.4,580.2L1799.2,581.6L1803,580.3L1806.8,576.7L1810.6,571.8L1814.5,566.7L1818.3,562.4L1822.1,559.8L1825.9,559.1L1829.7,560.1L1833.5,562.2L1837.3,564.5L1841.1,566.2L1844.9,566.8L1848.7,566.3L1852.5,565.1L1856.3,563.8L1860.1,563.2L1863.9,563.8L1867.8,565.9L1871.6,569.2L1875.4,573L1879.2,576.2L1883,578.1L1886.8,577.9L1890.6,575.4L1894.4,571.1L1898.2,565.7L1902,560.5L1905.8,556.5L1909.6,554.7L1913.4,555.4L1917.2,558.3L1921,562.7L1924.9,567.4L1928.7,571.5" fill="none" stroke="#f40000" stroke-width="1.9" stroke-linejoin="round" stroke-linecap="butt"/>
<path d="M1586,525.8L1589.8,522.4L1593.7,522.3L1597.5,525.4L1601.3,530.5L1605.1,535.3L1608.9,537.6L1612.7,536L1616.5,530.7L1620.3,523.1L1624.1,515.9L1627.9,511.7L1631.7,512L1635.5,517.2L1639.3,525.6L1643.1,534.8L1646.9,542.2L1650.8,548.4L1654.6,552.8L1658.4,555L1662.2,555.6L1666,555.8L1669.8,555.9L1673.6,555.9L1677.4,557.9L1681.2,561.2L1685,564.2L1688.8,565.5L1692.6,564.9L1696.4,562.9L1700.2,560.7L1704.1,559.5L1707.9,560L1711.7,562.3L1715.5,565.4L1719.3,568.5L1723.1,570.4L1726.9,570.9L1730.7,569.9L1734.5,568.3L1738.3,566.8L1742.1,565.8L1745.9,565.3L1749.7,564.7L1753.5,563.4L1757.3,561.1L1761.2,557.9L1765,554.9L1768.8,553.3L1772.6,554.3L1776.4,558.1L1780.2,564.4L1784,571.3L1787.8,576.9L1791.6,579.4L1795.4,577.8L1799.2,572.5L1803,565.3L1806.8,558.5L1810.6,554.4L1814.5,554.1L1818.3,557.5L1822.1,563L1825.9,568.2L1829.7,571L1833.5,570.1L1837.3,565.8L1841.1,559.7L1844.9,554.4L1848.7,552.1L1852.5,554L1856.3,560L1860.1,568.2L1863.9,575.9L1867.8,580.8L1871.6,581.1L1875.4,576.9L1879.2,569.5L1883,561.3L1886.8,554.7L1890.6,551.4L1894.4,551.8L1898.2,555.2L1902,559.9L1905.8,564.2L1909.6,566.8L1913.4,567.4L1917.2,566.5L1921,565.2L1924.9,564.7L1928.7,565.2" fill="none" stroke="#f40000" stroke-width="1.9" stroke-linejoin="round" stroke-linecap="butt"/>
<path d="M1586,546L1589.8,546.4L1593.7,544.4L1597.5,540.6L1601.3,535.7L1605.1,530.8L1608.9,527.1L1612.7,525.3L1616.5,525.7L1620.3,528.2L1624.1,532L1627.9,536.3L1631.7,539.9L1635.5,542.1L1639.3,542.4L1643.1,540.8L1646.9,538L1650.8,534.8L1654.6,532L1658.4,531.7L1662.2,536L1666,543.8L1669.8,553.4L1673.6,562.8L1677.4,570L1681.2,573.1L1685,572.4L1688.8,570L1692.6,566.4L1696.4,562.6L1700.2,559.4L1704.1,557.8L1707.9,558.3L1711.7,560.9L1715.5,565.1L1719.3,570L1723.1,574.4L1726.9,577.4L1730.7,578.2L1734.5,576.6L1738.3,572.9L1742.1,567.9L1745.9,562.7L1749.7,558.5L1753.5,556.2L1757.3,556.2L1761.2,558.6L1765,562.6L1768.8,567.3L1772.6,571.6L1776.4,574.5L1780.2,575.4L1784,574.3L1787.8,571.6L1791.6,568L1795.4,564.5L1799.2,562.1L1803,561.2L1806.8,562.2L1810.6,564.5L1814.5,567.6L1818.3,570.4L1822.1,572.2L1825.9,572.4L1829.7,570.8L1833.5,567.8L1837.3,564.2L1841.1,561L1844.9,558.9L1848.7,558.8L1852.5,560.8L1856.3,564.4L1860.1,569L1863.9,573.5L1867.8,576.7L1871.6,578L1875.4,576.8L1879.2,573.4L1883,568.5L1886.8,563.2L1890.6,558.6L1894.4,555.9L1898.2,555.5L1902,557.6L1905.8,561.6L1909.6,566.5L1913.4,571.4L1917.2,575L1921,576.6L1924.9,575.9L1928.7,573.3" fill="none" stroke="#f40000" stroke-width="1.9" stroke-linejoin="round" stroke-linecap="butt"/>
<path d="M1586,548.6L1589.8,546.1L1593.7,544.6L1597.5,544.8L1601.3,546.7L1605.1,549.2L1608.9,550.8L1612.7,550L1616.5,546.3L1620.3,540.4L1624.1,533.8L1627.9,528.5L1631.7,526.3L1635.5,527.6L1639.3,531.9L1643.1,538.6L1646.9,546.6L1650.8,553.6L1654.6,558.5L1658.4,561L1662.2,562L1666,562.2L1669.8,563.3L1673.6,566.2L1677.4,569.7L1681.2,572.2L1685,572.3L1688.8,569.1L1692.6,563.2L1696.4,556.1L1700.2,549.9L1704.1,546.3L1707.9,546.1L1711.7,549.1L1715.5,553.7L1719.3,558.3L1723.1,561.3L1726.9,562.1L1730.7,561.2L1734.5,559.9L1738.3,559.7L1742.1,561.5L1745.9,565.3L1749.7,570L1753.5,573.8L1757.3,575.1L1761.2,572.9L1765,567.6L1768.8,560.6L1772.6,553.8L1776.4,549.2L1780.2,547.8L1784,549.3L1787.8,552.8L1791.6,556.3L1795.4,558.5L1799.2,558.8L1803,557.6L1806.8,556.2L1810.6,556.1L1814.5,558.3L1818.3,562.8L1822.1,568.6L1825.9,573.7L1829.7,576.4L1833.5,575.6L1837.3,571.4L1841.1,565L1844.9,558.3L1848.7,553.2L1852.5,550.8L1856.3,551.3L1860.1,553.6L1863.9,556L1867.8,557.3L1871.6,556.7L1875.4,554.8L1879.2,552.8L1883,552.2L1886.8,554.3L1890.6,559L1894.4,565.5L1898.2,571.8L1902,576L1905.8,576.8L1909.6,574L1913.4,568.6L1917.2,562.5L1921,557.4L1924.9,554.7L1928.7,554.5" fill="none" stroke="#f40000" stroke-width="1.9" stroke-linejoin="round" stroke-linecap="butt"/>
<path d="M1586,546.8L1589.8,544.1L1593.7,541.4L1597.5,539L1601.3,537.4L1605.1,536.6L1608.9,536.7L1612.7,537.7L1616.5,539.5L1620.3,541.9L1624.1,544.4L1627.9,546.9L1631.7,549.1L1635.5,550.6L1639.3,551.3L1643.1,551.2L1646.9,550.4L1650.8,550.1L1654.6,550.9L1658.4,552.5L1662.2,554.5L1666,556.3L1669.8,557.5L1673.6,557.5L1677.4,557.3L1681.2,557.7L1685,558.6L1688.8,559.8L1692.6,561.1L1696.4,562.5L1700.2,563.8L1704.1,564.9L1707.9,565.7L1711.7,566.3L1715.5,566.6L1719.3,566.6L1723.1,566.4L1726.9,565.9L1730.7,565.4L1734.5,564.6L1738.3,563.8L1742.1,562.8L1745.9,561.8L1749.7,560.7L1753.5,559.7L1757.3,558.9L1761.2,558.2L1765,557.9L1768.8,558.1L1772.6,558.7L1776.4,559.7L1780.2,561.3L1784,563.1L1787.8,565.2L1791.6,567.1L1795.4,568.8L1799.2,570L1803,570.5L1806.8,570.2L1810.6,568.9L1814.5,566.9L1818.3,564.3L1822.1,561.3L1825.9,558.3L1829.7,555.6L1833.5,553.7L1837.3,552.6L1841.1,552.8L1844.9,554.1L1848.7,556.6L1852.5,559.9L1856.3,563.7L1860.1,567.5L1863.9,570.9L1867.8,573.5L1871.6,574.9L1875.4,574.9L1879.2,573.4L1883,570.7L1886.8,566.9L1890.6,562.5L1894.4,558.1L1898.2,554.2L1902,551.2L1905.8,549.6L1909.6,549.6L1913.4,551.2L1917.2,554.2L1921,558.3L1924.9,562.9L1928.7,567.6" fill="none" stroke="#f40000" stroke-width="1.9" stroke-linejoin="round" stroke-linecap="butt"/>
<path d="M1586,539.4L1589.8,537.9L1593.7,537.7L1597.5,538.9L1601.3,541.3L1605.1,544.2L1608.9,546.7L1612.7,548.1L1616.5,548L1620.3,546.3L1624.1,543.6L1627.9,540.7L1631.7,538.6L1635.5,537.7L1639.3,538.3L1643.1,540L1646.9,542.3L1650.8,544.3L1654.6,545.7L1658.4,547.5L1662.2,549.7L1666,552.2L1669.8,554.7L1673.6,557L1677.4,558.7L1681.2,559.2L1685,559.5L1688.8,559.3L1692.6,558.6L1696.4,557.5L1700.2,556.5L1704.1,556.2L1707.9,556.9L1711.7,558.8L1715.5,561.3L1719.3,563.8L1723.1,565.3L1726.9,565L1730.7,562.9L1734.5,559.4L1738.3,555.4L1742.1,552.2L1745.9,550.9L1749.7,552L1753.5,555.4L1757.3,560.1L1761.2,564.8L1765,568L1768.8,568.8L1772.6,566.8L1776.4,562.6L1780.2,557.5L1784,553L1787.8,550.3L1791.6,550.2L1795.4,552.6L1799.2,556.8L1803,561.4L1806.8,565.2L1810.6,567.1L1814.5,566.8L1818.3,564.6L1822.1,561.3L1825.9,557.8L1829.7,555.2L1833.5,553.9L1837.3,554L1841.1,555.2L1844.9,557.1L1848.7,559L1852.5,560.7L1856.3,561.9L1860.1,562.6L1863.9,562.8L1867.8,562.6L1871.6,562L1875.4,560.8L1879.2,559.2L1883,557.4L1886.8,555.6L1890.6,554.4L1894.4,554.2L1898.2,555.4L1902,557.7L1905.8,560.8L1909.6,563.8L1913.4,565.8L1917.2,566.1L1921,564.4L1924.9,561.3L1928.7,557.5" fill="none" stroke="#f40000" stroke-width="1.9" stroke-linejoin="round" stroke-linecap="butt"/>
<path d="M1586,509.5L1589.8,508.9L1593.7,509.5L1597.5,511.6L1601.3,515L1605.1,519.3L1608.9,523.5L1612.7,526.8L1616.5,528.3L1620.3,527.7L1624.1,524.8L1627.9,520.3L1631.7,515.1L1635.5,510.3L1639.3,507L1643.1,505.7L1646.9,509.3L1650.8,521.4L1654.6,538.9L1658.4,558.4L1662.2,576.3L1666,589.5L1669.8,595.2L1673.6,594.7L1677.4,593.2L1681.2,591.1L1685,588.9L1688.8,586.7L1692.6,584.8L1696.4,583.2L1700.2,581.9L1704.1,581.1L1707.9,580.9L1711.7,581.6L1715.5,583.3L1719.3,585.8L1723.1,588.9L1726.9,592L1730.7,594.3L1734.5,595.4L1738.3,594.8L1742.1,592.6L1745.9,589.1L1749.7,585.3L1753.5,581.9L1757.3,579.8L1761.2,579.5L1765,580.8L1768.8,583.5L1772.6,586.7L1776.4,589.6L1780.2,591.6L1784,592.2L1787.8,591.5L1791.6,589.9L1795.4,588L1799.2,586.4L1803,585.5L1806.8,585.3L1810.6,585.8L1814.5,586.6L1818.3,587.3L1822.1,587.6L1825.9,587.4L1829.7,587L1833.5,586.5L1837.3,586.3L1841.1,586.4L1844.9,586.9L1848.7,587.6L1852.5,588.1L1856.3,588.2L1860.1,587.8L1863.9,586.9L1867.8,586.1L1871.6,585.5L1875.4,585.6L1879.2,586.5L1883,588L1886.8,589.7L1890.6,590.9L1894.4,591.2L1898.2,590.3L1902,588.3L1905.8,585.5L1909.6,582.8L1913.4,580.9L1917.2,580.4L1921,581.5L1924.9,584.1L1928.7,587.6" fill="none" stroke="#f40000" stroke-width="1.9" stroke-linejoin="round" stroke-linecap="butt"/>
<path d="M1586,536L1589.8,539.9L1593.7,543.8L1597.5,547L1601.3,548.7L1605.1,548.4L1608.9,546.3L1612.7,542.6L1616.5,538.2L1620.3,533.9L1624.1,530.7L1627.9,529.1L1631.7,529.5L1635.5,531.7L1639.3,535.2L1643.1,539.2L1646.9,543L1650.8,545.6L1654.6,549.4L1658.4,555.7L1662.2,563.2L1666,570.7L1669.8,577L1673.6,581.2L1677.4,582L1681.2,581.9L1685,583L1688.8,585L1692.6,587.3L1696.4,589.2L1700.2,590.3L1704.1,590.3L1707.9,589.2L1711.7,587.4L1715.5,585.2L1719.3,583.2L1723.1,582L1726.9,581.8L1730.7,582.8L1734.5,584.7L1738.3,587.2L1742.1,589.7L1745.9,591.6L1749.7,592.7L1753.5,592.6L1757.3,591.5L1761.2,589.5L1765,587L1768.8,584.6L1772.6,582.7L1776.4,581.4L1780.2,581.1L1784,581.6L1787.8,582.8L1791.6,584.5L1795.4,586.3L1799.2,588L1803,589.4L1806.8,590.4L1810.6,590.8L1814.5,590.8L1818.3,590.3L1822.1,589.5L1825.9,588.4L1829.7,587.1L1833.5,585.7L1837.3,584.5L1841.1,583.6L1844.9,583L1848.7,582.9L1852.5,583.4L1856.3,584.4L1860.1,585.8L1863.9,587.3L1867.8,588.6L1871.6,589.5L1875.4,589.8L1879.2,589.5L1883,588.6L1886.8,587.3L1890.6,586.1L1894.4,585.1L1898.2,584.7L1902,585L1905.8,585.9L1909.6,587.2L1913.4,588.5L1917.2,589.4L1921,589.6L1924.9,588.9L1928.7,587.4" fill="none" stroke="#f40000" stroke-width="1.9" stroke-linejoin="round" stroke-linecap="butt"/>
<path d="M1586,527.6L1589.8,528.3L1593.7,529.7L1597.5,531.4L1601.3,532.9L1605.1,533.6L1608.9,533.2L1612.7,531.4L1616.5,528.3L1620.3,524.4L1624.1,520.4L1627.9,517.1L1631.7,515.4L1635.5,515.6L1639.3,517.9L1643.1,521.9L1646.9,526.9L1650.8,532L1654.6,538.2L1658.4,544.5L1662.2,549.6L1666,552.8L1669.8,553.7L1673.6,552.3L1677.4,549L1681.2,546.4L1685,545.4L1688.8,546L1692.6,547.8L1696.4,550.3L1700.2,552.5L1704.1,553.8L1707.9,553.7L1711.7,552.3L1715.5,549.8L1719.3,547L1723.1,544.6L1726.9,543.4L1730.7,543.9L1734.5,546.1L1738.3,549.7L1742.1,554L1745.9,558L1749.7,561L1753.5,562.3L1757.3,561.6L1761.2,559L1765,555.2L1768.8,550.8L1772.6,546.8L1776.4,543.8L1780.2,542.2L1784,542.2L1787.8,543.5L1791.6,545.7L1795.4,548.1L1799.2,550.3L1803,551.9L1806.8,552.8L1810.6,553.1L1814.5,553.1L1818.3,553L1822.1,553.2L1825.9,553.7L1829.7,554.4L1833.5,555.1L1837.3,555.4L1841.1,555.2L1844.9,554.2L1848.7,552.5L1852.5,550.4L1856.3,548.2L1860.1,546.4L1863.9,545.3L1867.8,545.2L1871.6,545.9L1875.4,547.4L1879.2,549L1883,550.6L1886.8,551.7L1890.6,552.2L1894.4,552.2L1898.2,551.9L1902,551.6L1905.8,551.8L1909.6,552.5L1913.4,553.8L1917.2,555.4L1921,556.8L1924.9,557.6L1928.7,557.2" fill="none" stroke="#f40000" stroke-width="1.9" stroke-linejoin="round" stroke-linecap="butt"/>
<path d="M1586,560L1589.8,558.2L1593.7,554.5L1597.5,550.3L1601.3,547.5L1605.1,547.5L1608.9,550.9L1612.7,556.7L1616.5,563.3L1620.3,568.4L1624.1,570.4L1627.9,568.6L1631.7,563.7L1635.5,557.4L1639.3,551.7L1643.1,548.5L1646.9,548.4L1650.8,551.1L1654.6,555L1658.4,559L1662.2,561.7L1666,562.3L1669.8,560.9L1673.6,558.7L1677.4,557.1L1681.2,557.2L1685,559.7L1688.8,564.4L1692.6,569.6L1696.4,573.6L1700.2,575.3L1704.1,574.1L1707.9,570.9L1711.7,566.7L1715.5,563.2L1719.3,561.4L1723.1,561.4L1726.9,562.6L1730.7,564.1L1734.5,564.6L1738.3,563.7L1742.1,561.6L1745.9,559.2L1749.7,557.7L1753.5,558.2L1757.3,560.7L1761.2,564.8L1765,569.2L1768.8,572.4L1772.6,573.4L1776.4,572L1780.2,568.8L1784,565.3L1787.8,562.8L1791.6,562.2L1795.4,563.7L1799.2,566.4L1803,568.7L1806.8,569.3L1810.6,567.5L1814.5,563.4L1818.3,558.4L1822.1,554.2L1825.9,552.6L1829.7,554.5L1833.5,559.4L1837.3,566L1841.1,572.2L1844.9,576.1L1848.7,576.5L1852.5,573.5L1856.3,568.6L1860.1,563.5L1863.9,560.3L1867.8,559.8L1871.6,562.2L1875.4,566L1879.2,569.5L1883,570.9L1886.8,569.5L1890.6,565.4L1894.4,560L1898.2,555.2L1902,552.9L1905.8,553.9L1909.6,558L1913.4,563.9L1917.2,569.6L1921,573.5L1924.9,574.6L1928.7,572.9" fill="none" stroke="#f40000" stroke-width="1.9" stroke-linejoin="round" stroke-linecap="butt"/>
<path d="M1586,542.2L1589.8,537.9L1593.7,532.4L1597.5,526.8L1601.3,522.3L1605.1,519.5L1608.9,518.9L1612.7,520.2L1616.5,523L1620.3,526.5L1624.1,529.9L1627.9,532.7L1631.7,534.6L1635.5,535.8L1639.3,536.6L1643.1,537.2L1646.9,539.6L1650.8,546.1L1654.6,555L1658.4,564.3L1662.2,571.9L1666,576.2L1669.8,575.5L1673.6,571.5L1677.4,567.7L1681.2,565L1685,564L1688.8,565.2L1692.6,568.1L1696.4,572.3L1700.2,576.8L1704.1,580.7L1707.9,583.1L1711.7,583.7L1715.5,582.7L1719.3,580.6L1723.1,578L1726.9,575.8L1730.7,574.6L1734.5,574.4L1738.3,575L1742.1,576.1L1745.9,576.9L1749.7,577L1753.5,576.3L1757.3,574.9L1761.2,573.2L1765,571.7L1768.8,571L1772.6,571.4L1776.4,572.7L1780.2,574.7L1784,576.6L1787.8,578L1791.6,578.4L1795.4,577.9L1799.2,576.6L1803,575.2L1806.8,574.3L1810.6,574.3L1814.5,575.5L1818.3,577.6L1822.1,579.9L1825.9,581.9L1829.7,582.6L1833.5,581.7L1837.3,579.2L1841.1,575.5L1844.9,571.3L1848.7,567.7L1852.5,565.4L1856.3,565L1860.1,566.5L1863.9,569.5L1867.8,573.3L1871.6,577.1L1875.4,580.2L1879.2,582.2L1883,582.9L1886.8,582.8L1890.6,582.1L1894.4,581.2L1898.2,580.5L1902,579.9L1905.8,579.1L1909.6,577.8L1913.4,575.8L1917.2,573L1921,569.6L1924.9,566.4L1928.7,564" fill="none" stroke="#f40000" stroke-width="1.9" stroke-linejoin="round" stroke-linecap="butt"/>
<path d="M1586,530L1589.8,532.2L1593.7,536L1597.5,540.1L1601.3,542.9L1605.1,543.8L1608.9,542.6L1612.7,540.2L1616.5,537.6L1620.3,535.9L1624.1,535.8L1627.9,537.2L1631.7,539.6L1635.5,542.1L1639.3,543.8L1643.1,544.3L1646.9,543.5L1650.8,541.7L1654.6,540.5L1658.4,540.7L1662.2,542.1L1666,544.3L1669.8,546.7L1673.6,548.7L1677.4,549.9L1681.2,551.3L1685,553.4L1688.8,556L1692.6,558.8L1696.4,560.8L1700.2,561.6L1704.1,560.7L1707.9,558.1L1711.7,554.5L1715.5,551.1L1719.3,548.9L1723.1,548.6L1726.9,550.4L1730.7,553.5L1734.5,556.8L1738.3,558.8L1742.1,558.8L1745.9,556.5L1749.7,552.9L1753.5,549.2L1757.3,547L1761.2,547.3L1765,550.2L1768.8,555.1L1772.6,560.2L1776.4,564.1L1780.2,565.2L1784,563.3L1787.8,559L1791.6,553.6L1795.4,548.7L1799.2,545.9L1803,545.6L1806.8,547.7L1810.6,551.2L1814.5,554.8L1818.3,557.4L1822.1,558.3L1825.9,557.7L1829.7,556.2L1833.5,554.6L1837.3,553.6L1841.1,553.4L1844.9,554L1848.7,555.1L1852.5,556.1L1856.3,556.7L1860.1,556.8L1863.9,556.5L1867.8,555.9L1871.6,555.1L1875.4,554.2L1879.2,553L1883,551.6L1886.8,550.2L1890.6,549.1L1894.4,548.8L1898.2,550L1902,552.5L1905.8,556.1L1909.6,559.9L1913.4,562.7L1917.2,563.5L1921,562L1924.9,558.3L1928.7,553.7" fill="none" stroke="#f40000" stroke-width="1.9" stroke-linejoin="round" stroke-linecap="butt"/>
<path d="M1586,534.6L1589.8,538L1593.7,541.1L1597.5,543.4L1601.3,544.3L1605.1,543.6L1608.9,541.4L1612.7,538L1616.5,533.9L1620.3,529.8L1624.1,526.5L1627.9,524.4L1631.7,524L1635.5,525.3L1639.3,528.1L1643.1,531.9L1646.9,536.1L1650.8,542.3L1654.6,550.1L1658.4,558L1662.2,564.5L1666,568.8L1669.8,569.9L1673.6,567.5L1677.4,564.3L1681.2,561.6L1685,559.8L1688.8,559.1L1692.6,559.4L1696.4,560.7L1700.2,562.4L1704.1,564.4L1707.9,566.2L1711.7,567.6L1715.5,568.7L1719.3,569.3L1723.1,569.5L1726.9,569.5L1730.7,569.4L1734.5,569.1L1738.3,568.6L1742.1,568L1745.9,567L1749.7,565.8L1753.5,564.3L1757.3,562.7L1761.2,561.2L1765,560.2L1768.8,559.9L1772.6,560.5L1776.4,562.1L1780.2,564.5L1784,567.4L1787.8,570.3L1791.6,572.8L1795.4,574.3L1799.2,574.5L1803,573.2L1806.8,570.7L1810.6,567.3L1814.5,563.6L1818.3,560.1L1822.1,557.6L1825.9,556.4L1829.7,556.8L1833.5,558.8L1837.3,561.9L1841.1,565.7L1844.9,569.4L1848.7,572.5L1852.5,574.4L1856.3,574.8L1860.1,573.7L1863.9,571.4L1867.8,568.4L1871.6,565.2L1875.4,562.4L1879.2,560.4L1883,559.5L1886.8,559.7L1890.6,560.8L1894.4,562.6L1898.2,564.6L1902,566.5L1905.8,567.9L1909.6,568.8L1913.4,569.2L1917.2,569L1921,568.6L1924.9,568.1L1928.7,567.6" fill="none" stroke="#f40000" stroke-width="1.9" stroke-linejoin="round" stroke-linecap="butt"/>
<path d="M1586,539.2L1589.8,539.3L1593.7,540.2L1597.5,541.8L1601.3,543.6L1605.1,545L1608.9,545.4L1612.7,544.8L1616.5,543.7L1620.3,542.7L1624.1,542.6L1627.9,543.8L1631.7,546.1L1635.5,548.8L1639.3,550.6L1643.1,550.7L1646.9,548.7L1650.8,545.8L1654.6,543.1L1658.4,541.4L1662.2,541.8L1666,544.4L1669.8,548.7L1673.6,553.4L1677.4,558L1681.2,561.4L1685,562.6L1688.8,561.6L1692.6,559.2L1696.4,556.5L1700.2,554.8L1704.1,554.5L1707.9,555.7L1711.7,557.6L1715.5,559.4L1719.3,560.1L1723.1,559.3L1726.9,557.3L1730.7,554.5L1734.5,552L1738.3,550.4L1742.1,550.1L1745.9,550.8L1749.7,552.2L1753.5,553.9L1757.3,555.4L1761.2,556.7L1765,558L1768.8,559.3L1772.6,560.7L1776.4,561.9L1780.2,562.3L1784,561.5L1787.8,559.5L1791.6,556.5L1795.4,553.2L1799.2,550.5L1803,549.4L1806.8,550.1L1810.6,552.3L1814.5,555.2L1818.3,557.6L1822.1,558.6L1825.9,557.9L1829.7,555.8L1833.5,553.3L1837.3,551.8L1841.1,552L1844.9,554.3L1848.7,558.1L1852.5,562.1L1856.3,565L1860.1,565.5L1863.9,563.5L1867.8,559.3L1871.6,554.3L1875.4,550L1879.2,547.4L1883,547.2L1886.8,549.1L1890.6,552.2L1894.4,555.3L1898.2,557.5L1902,558.4L1905.8,558.2L1909.6,557.4L1913.4,556.8L1917.2,556.7L1921,557.3L1924.9,558.2L1928.7,559" fill="none" stroke="#f40000" stroke-width="1.9" stroke-linejoin="round" stroke-linecap="butt"/>
<path d="M1586,551.4L1589.8,547.1L1593.7,545.4L1597.5,546.4L1601.3,549.5L1605.1,553.3L1608.9,556.6L1612.7,558.5L1616.5,558.5L1620.3,557.3L1624.1,555.5L1627.9,554.4L1631.7,554.4L1635.5,555.5L1639.3,557.3L1643.1,558.8L1646.9,559L1650.8,557.7L1654.6,555.3L1658.4,552.4L1662.2,550.2L1666,549.7L1669.8,551.5L1673.6,555.3L1677.4,560.6L1681.2,565.9L1685,569.6L1688.8,570.4L1692.6,568.2L1696.4,563.4L1700.2,557.5L1704.1,552.2L1707.9,549.2L1711.7,549.1L1715.5,552L1719.3,556.7L1723.1,561.7L1726.9,565.5L1730.7,567L1734.5,566L1738.3,563.2L1742.1,559.8L1745.9,556.9L1749.7,555.5L1753.5,555.9L1757.3,557.6L1761.2,559.8L1765,561.2L1768.8,561.4L1772.6,560L1776.4,557.8L1780.2,555.7L1784,554.8L1787.8,555.7L1791.6,558.4L1795.4,562L1799.2,565.5L1803,567.3L1806.8,566.8L1810.6,563.7L1814.5,558.9L1818.3,553.8L1822.1,550L1825.9,548.8L1829.7,550.7L1833.5,555.2L1837.3,560.9L1841.1,566.2L1844.9,569.5L1848.7,569.8L1852.5,567.1L1856.3,562.4L1860.1,557.2L1863.9,553.1L1867.8,551.1L1871.6,551.7L1875.4,554.4L1879.2,558L1883,561.2L1886.8,563.1L1890.6,563.2L1894.4,561.9L1898.2,560L1902,558.6L1905.8,558.3L1909.6,559.3L1913.4,561.2L1917.2,562.9L1921,563.6L1924.9,562.4L1928.7,559.6" fill="none" stroke="#f40000" stroke-width="1.9" stroke-linejoin="round" stroke-linecap="butt"/>
<path d="M1586,545.5L1589.8,543.5L1593.7,542L1597.5,541.7L1601.3,543L1605.1,545.6L1608.9,549.1L1612.7,552.5L1616.5,554.9L1620.3,555.4L1624.1,553.8L1627.9,550.2L1631.7,545.4L1635.5,540.5L1639.3,536.9L1643.1,535.5L1646.9,537.8L1650.8,543.5L1654.6,551.4L1658.4,559.7L1662.2,566.6L1666,570.5L1669.8,570.6L1673.6,567.8L1677.4,563.1L1681.2,557.7L1685,552.9L1688.8,549.8L1692.6,549.1L1696.4,550.8L1700.2,554.3L1704.1,558.7L1707.9,562.8L1711.7,565.6L1715.5,566.5L1719.3,565.5L1723.1,563.2L1726.9,560.2L1730.7,557.6L1734.5,556L1738.3,555.8L1742.1,556.7L1745.9,558.4L1749.7,560.1L1753.5,561.1L1757.3,561.1L1761.2,559.9L1765,558.1L1768.8,556.3L1772.6,555.2L1776.4,555.4L1780.2,556.9L1784,559.6L1787.8,562.8L1791.6,565.5L1795.4,566.9L1799.2,566.3L1803,563.8L1806.8,559.9L1810.6,555.4L1814.5,551.6L1818.3,549.4L1822.1,549.5L1825.9,552.1L1829.7,556.5L1833.5,561.7L1837.3,566.5L1841.1,569.6L1844.9,570.3L1848.7,568.3L1852.5,564.2L1856.3,559.1L1860.1,554.1L1863.9,550.5L1867.8,549.2L1871.6,550.3L1875.4,553.5L1879.2,557.8L1883,562.2L1886.8,565.5L1890.6,567L1894.4,566.4L1898.2,564.1L1902,560.9L1905.8,557.7L1909.6,555.4L1913.4,554.6L1917.2,555.3L1921,557.1L1924.9,559.4L1928.7,561.2" fill="none" stroke="#f40000" stroke-width="1.9" stroke-linejoin="round" stroke-linecap="butt"/>
<path d="M1586,511.7L1589.8,513.8L1593.7,515.8L1597.5,517.5L1601.3,518.6L1605.1,519L1608.9,518.6L1612.7,517.5L1616.5,515.9L1620.3,514L1624.1,512L1627.9,510.4L1631.7,509.2L1635.5,508.8L1639.3,509.1L1643.1,510.1L1646.9,511.6L1650.8,515.8L1654.6,526.1L1658.4,539.9L1662.2,554.8L1666,568.1L1669.8,577.5L1673.6,580.6L1677.4,579L1681.2,577.1L1685,575L1688.8,573.2L1692.6,572L1696.4,571.4L1700.2,571.7L1704.1,572.9L1707.9,574.7L1711.7,576.9L1715.5,579.2L1719.3,581.4L1723.1,583L1726.9,583.8L1730.7,583.7L1734.5,582.6L1738.3,580.7L1742.1,578.2L1745.9,575.4L1749.7,572.7L1753.5,570.6L1757.3,569.2L1761.2,568.9L1765,569.7L1768.8,571.5L1772.6,574.1L1776.4,577.2L1780.2,580.4L1784,583.3L1787.8,585.4L1791.6,586.4L1795.4,586.3L1799.2,585L1803,582.5L1806.8,579.3L1810.6,575.8L1814.5,572.3L1818.3,569.4L1822.1,567.4L1825.9,566.6L1829.7,567.2L1833.5,569L1837.3,571.9L1841.1,575.4L1844.9,579.2L1848.7,582.8L1852.5,585.6L1856.3,587.4L1860.1,587.9L1863.9,587L1867.8,584.9L1871.6,581.8L1875.4,578.1L1879.2,574.2L1883,570.8L1886.8,568.2L1890.6,566.6L1894.4,566.5L1898.2,567.6L1902,569.9L1905.8,573L1909.6,576.6L1913.4,580.2L1917.2,583.3L1921,585.6L1924.9,586.8L1928.7,586.7" fill="none" stroke="#f40000" stroke-width="1.9" stroke-linejoin="round" stroke-linecap="butt"/>
<path d="M1586,562.9L1589.8,560.9L1593.7,557.7L1597.5,554L1601.3,550.5L1605.1,547.8L1608.9,546.5L1612.7,546.7L1616.5,548.2L1620.3,550.6L1624.1,553.3L1627.9,556L1631.7,558L1635.5,559.3L1639.3,559.6L1643.1,559.2L1646.9,558.2L1650.8,556.9L1654.6,555.5L1658.4,554.3L1662.2,553.6L1666,553.3L1669.8,553.2L1673.6,553.3L1677.4,553.5L1681.2,553.9L1685,554.6L1688.8,555.6L1692.6,556.9L1696.4,558.3L1700.2,559.5L1704.1,560.4L1707.9,560.6L1711.7,560.2L1715.5,559.2L1719.3,557.8L1723.1,556.3L1726.9,555.1L1730.7,554.4L1734.5,554.4L1738.3,555.1L1742.1,556.2L1745.9,557.5L1749.7,558.5L1753.5,558.9L1757.3,558.6L1761.2,557.5L1765,556L1768.8,554.6L1772.6,553.6L1776.4,553.4L1780.2,554.3L1784,556.2L1787.8,558.7L1791.6,561.3L1795.4,563.2L1799.2,563.9L1803,563.2L1806.8,560.9L1810.6,557.5L1814.5,553.7L1818.3,550.2L1822.1,547.9L1825.9,547.4L1829.7,548.8L1833.5,551.9L1837.3,556.2L1841.1,560.7L1844.9,564.6L1848.7,567L1852.5,567.4L1856.3,565.7L1860.1,562.4L1863.9,558.1L1867.8,553.8L1871.6,550.3L1875.4,548.4L1879.2,548.2L1883,549.7L1886.8,552.5L1890.6,555.9L1894.4,559.1L1898.2,561.5L1902,562.7L1905.8,562.6L1909.6,561.4L1913.4,559.5L1917.2,557.5L1921,555.9L1924.9,554.9L1928.7,554.7" fill="none" stroke="#f40000" stroke-width="1.9" stroke-linejoin="round" stroke-linecap="butt"/>
<path d="M1586,533.8L1589.8,533.2L1593.7,531.5L1597.5,529L1601.3,526.2L1605.1,523.6L1608.9,521.6L1612.7,520.6L1616.5,520.8L1620.3,522L1624.1,524.1L1627.9,526.5L1631.7,528.9L1635.5,530.8L1639.3,531.8L1643.1,531.8L1646.9,530.7L1650.8,528.9L1654.6,527.3L1658.4,529.2L1662.2,534.2L1666,541.1L1669.8,548.8L1673.6,556L1677.4,561.1L1681.2,563.7L1685,566.2L1688.8,568.4L1692.6,570L1696.4,570.7L1700.2,570.4L1704.1,569L1707.9,567L1711.7,564.5L1715.5,562L1719.3,559.9L1723.1,558.5L1726.9,558.1L1730.7,558.7L1734.5,560.1L1738.3,562.1L1742.1,564.5L1745.9,566.8L1749.7,568.7L1753.5,569.9L1757.3,570.3L1761.2,569.9L1765,568.7L1768.8,567.1L1772.6,565.2L1776.4,563.3L1780.2,561.7L1784,560.6L1787.8,560L1791.6,560L1795.4,560.5L1799.2,561.5L1803,562.7L1806.8,564L1810.6,565.3L1814.5,566.4L1818.3,567.2L1822.1,567.8L1825.9,568L1829.7,568L1833.5,567.6L1837.3,566.9L1841.1,565.9L1844.9,564.8L1848.7,563.6L1852.5,562.5L1856.3,561.5L1860.1,560.7L1863.9,560.4L1867.8,560.5L1871.6,561.1L1875.4,562.3L1879.2,563.8L1883,565.4L1886.8,567.1L1890.6,568.5L1894.4,569.3L1898.2,569.5L1902,569L1905.8,567.8L1909.6,566.1L1913.4,564.1L1917.2,562.1L1921,560.4L1924.9,559.4L1928.7,559.1" fill="none" stroke="#f40000" stroke-width="1.9" stroke-linejoin="round" stroke-linecap="butt"/>
<path d="M1586,546.1L1589.8,544.6L1593.7,544.6L1597.5,545.5L1601.3,546.9L1605.1,548.6L1608.9,550.4L1612.7,552.5L1616.5,555L1620.3,557.4L1624.1,559.3L1627.9,559.8L1631.7,558.3L1635.5,554.9L1639.3,550.1L1643.1,545.3L1646.9,541.8L1650.8,541.2L1654.6,544.6L1658.4,550.9L1662.2,558.6L1666,565.5L1669.8,569.9L1673.6,570.5L1677.4,567.9L1681.2,563.7L1685,559.4L1688.8,556.5L1692.6,555.8L1696.4,557.2L1700.2,559.8L1704.1,562.3L1707.9,563.7L1711.7,563.2L1715.5,561.3L1719.3,558.8L1723.1,557.1L1726.9,557L1730.7,558.9L1734.5,562.2L1738.3,565.7L1742.1,568.3L1745.9,568.7L1749.7,566.9L1753.5,563.3L1757.3,559L1761.2,555.5L1765,553.6L1768.8,553.8L1772.6,555.8L1776.4,558.8L1780.2,561.8L1784,564L1787.8,565.3L1791.6,565.8L1795.4,565.7L1799.2,565.5L1803,565.2L1806.8,564.5L1810.6,563L1814.5,560.5L1818.3,557.3L1822.1,554.1L1825.9,551.8L1829.7,551.7L1833.5,554.2L1837.3,559.1L1841.1,565.3L1844.9,571L1848.7,574.4L1852.5,574.4L1856.3,570.7L1860.1,564.4L1863.9,557.1L1867.8,551.1L1871.6,548.1L1875.4,548.8L1879.2,552.7L1883,558.6L1886.8,564.4L1890.6,568.7L1894.4,570.3L1898.2,569.3L1902,566.5L1905.8,563.1L1909.6,560.4L1913.4,558.8L1917.2,558.6L1921,559.1L1924.9,559.6L1928.7,559.6" fill="none" stroke="#f40000" stroke-width="1.9" stroke-linejoin="round" stroke-linecap="butt"/>
<path d="M1586,546L1589.8,541.7L1593.7,538.8L1597.5,538.2L1601.3,540L1605.1,543.4L1608.9,546.8L1612.7,548.7L1616.5,548.3L1620.3,545.6L1624.1,541.5L1627.9,537.7L1631.7,535.4L1635.5,535.7L1639.3,538.5L1643.1,543.1L1646.9,549.8L1650.8,556.9L1654.6,562.6L1658.4,566L1662.2,566.9L1666,565.9L1669.8,563.5L1673.6,562.6L1677.4,563.5L1681.2,565.5L1685,567.7L1688.8,569L1692.6,568.9L1696.4,567.5L1700.2,565.4L1704.1,563.5L1707.9,562.7L1711.7,563.4L1715.5,565.5L1719.3,568.2L1723.1,570.7L1726.9,572.2L1730.7,572.2L1734.5,570.8L1738.3,568.5L1742.1,566.2L1745.9,564.5L1749.7,563.8L1753.5,564L1757.3,564.8L1761.2,565.6L1765,566.2L1768.8,566.4L1772.6,566.2L1776.4,566.1L1780.2,566.3L1784,567L1787.8,567.9L1791.6,568.9L1795.4,569.6L1799.2,569.6L1803,569.1L1806.8,568.2L1810.6,567.1L1814.5,566.3L1818.3,565.9L1822.1,565.8L1825.9,565.8L1829.7,565.7L1833.5,565.4L1837.3,564.8L1841.1,564.4L1844.9,564.5L1848.7,565.3L1852.5,566.9L1856.3,568.9L1860.1,570.8L1863.9,571.8L1867.8,571.6L1871.6,570.1L1875.4,567.8L1879.2,565.3L1883,563.5L1886.8,563L1890.6,563.8L1894.4,565.6L1898.2,567.5L1902,568.6L1905.8,568.6L1909.6,567.2L1913.4,565.3L1917.2,563.6L1921,563.2L1924.9,564.4L1928.7,567" fill="none" stroke="#f40000" stroke-width="1.9" stroke-linejoin="round" stroke-linecap="butt"/>
<path d="M1586,543.6L1589.8,541.3L1593.7,538.5L1597.5,535.9L1601.3,534.5L1605.1,534.7L1608.9,536.8L1612.7,540.4L1616.5,544.7L1620.3,548.6L1624.1,551.2L1627.9,552L1631.7,550.7L1635.5,547.7L1639.3,543.8L1643.1,540L1646.9,537.2L1650.8,536.6L1654.6,540.2L1658.4,546.8L1662.2,554.7L1666,562.1L1669.8,567.3L1673.6,569.1L1677.4,567.8L1681.2,565.7L1685,563.7L1688.8,562.5L1692.6,562.9L1696.4,565L1700.2,568.3L1704.1,572.2L1707.9,575.8L1711.7,578L1715.5,578.3L1719.3,576.5L1723.1,572.9L1726.9,568.5L1730.7,564.1L1734.5,560.7L1738.3,559.2L1742.1,559.5L1745.9,561.4L1749.7,564.3L1753.5,567.2L1757.3,569.3L1761.2,570.2L1765,569.7L1768.8,568.3L1772.6,566.7L1776.4,565.6L1780.2,565.7L1784,567.2L1787.8,569.8L1791.6,573L1795.4,575.7L1799.2,577.3L1803,577L1806.8,574.6L1810.6,570.7L1814.5,566L1818.3,561.4L1822.1,558.1L1825.9,556.7L1829.7,557.5L1833.5,560.2L1837.3,564L1841.1,567.9L1844.9,571.1L1848.7,572.9L1852.5,573.1L1856.3,572L1860.1,570.3L1863.9,568.7L1867.8,567.9L1871.6,568.3L1875.4,569.8L1879.2,571.9L1883,573.7L1886.8,574.6L1890.6,573.9L1894.4,571.5L1898.2,567.7L1902,563.2L1905.8,559.2L1909.6,556.5L1913.4,555.8L1917.2,557.4L1921,561L1924.9,565.6L1928.7,570.4" fill="none" stroke="#f40000" stroke-width="1.9" stroke-linejoin="round" stroke-linecap="butt"/>
<path d="M1586,562.9L1589.8,564.5L1593.7,565.7L1597.5,566.4L1601.3,566.5L1605.1,566.3L1608.9,565.7L1612.7,565.1L1616.5,564.5L1620.3,564L1624.1,563.7L1627.9,563.5L1631.7,563.3L1635.5,563L1639.3,562.6L1643.1,562L1646.9,561.3L1650.8,560.6L1654.6,560.1L1658.4,560.1L1662.2,560.8L1666,562.2L1669.8,564.1L1673.6,566.3L1677.4,568.4L1681.2,570L1685,571L1688.8,571.4L1692.6,571.1L1696.4,570L1700.2,568.4L1704.1,566.4L1707.9,564.5L1711.7,562.8L1715.5,561.8L1719.3,561.5L1723.1,561.9L1726.9,563.1L1730.7,564.7L1734.5,566.4L1738.3,568.1L1742.1,569.3L1745.9,570L1749.7,570L1753.5,569.4L1757.3,568.4L1761.2,567.3L1765,566.2L1768.8,565.4L1772.6,564.9L1776.4,564.9L1780.2,565.2L1784,565.8L1787.8,566.4L1791.6,566.9L1795.4,567.1L1799.2,567L1803,566.6L1806.8,566L1810.6,565.4L1814.5,565L1818.3,564.9L1822.1,565.1L1825.9,565.8L1829.7,566.6L1833.5,567.6L1837.3,568.4L1841.1,568.9L1844.9,569L1848.7,568.6L1852.5,567.8L1856.3,566.7L1860.1,565.5L1863.9,564.5L1867.8,563.9L1871.6,563.7L1875.4,564.1L1879.2,564.9L1883,566L1886.8,567.1L1890.6,568.1L1894.4,568.7L1898.2,568.8L1902,568.4L1905.8,567.5L1909.6,566.5L1913.4,565.4L1917.2,564.6L1921,564.2L1924.9,564.3L1928.7,564.9" fill="none" stroke="#f40000" stroke-width="1.9" stroke-linejoin="round" stroke-linecap="butt"/>
<path d="M1586,533.3L1589.8,531.6L1593.7,531.3L1597.5,532.3L1601.3,534.6L1605.1,537.4L1608.9,540.2L1612.7,542.1L1616.5,542.5L1620.3,541.5L1624.1,539L1627.9,535.9L1631.7,532.8L1635.5,530.6L1639.3,529.9L1643.1,530.8L1646.9,533.2L1650.8,537.6L1654.6,545.4L1658.4,554.8L1662.2,563.7L1666,570.6L1669.8,574.1L1673.6,573.6L1677.4,570.2L1681.2,567.2L1685,565.6L1688.8,565.7L1692.6,567.5L1696.4,570.6L1700.2,574.2L1704.1,577.5L1707.9,579.7L1711.7,580.2L1715.5,578.9L1719.3,576.1L1723.1,572.4L1726.9,568.8L1730.7,566L1734.5,564.9L1738.3,565.6L1742.1,568L1745.9,571.7L1749.7,575.6L1753.5,578.9L1757.3,580.7L1761.2,580.6L1765,578.6L1768.8,575.1L1772.6,570.9L1776.4,567.1L1780.2,564.7L1784,564.1L1787.8,565.7L1791.6,569.1L1795.4,573.4L1799.2,577.6L1803,580.6L1806.8,581.7L1810.6,580.5L1814.5,577.4L1818.3,573L1822.1,568.6L1825.9,565.1L1829.7,563.6L1833.5,564.4L1837.3,567.3L1841.1,571.6L1844.9,576.2L1848.7,579.8L1852.5,581.7L1856.3,581.1L1860.1,578.5L1863.9,574.3L1867.8,569.8L1871.6,566.1L1875.4,564.2L1879.2,564.5L1883,567L1886.8,570.9L1890.6,575.2L1894.4,578.7L1898.2,580.6L1902,580.3L1905.8,578L1909.6,574.4L1913.4,570.4L1917.2,567.3L1921,565.7L1924.9,566.2L1928.7,568.3" fill="none" stroke="#f40000" stroke-width="1.9" stroke-linejoin="round" stroke-linecap="butt"/>
<path d="M1586,560L1589.8,561.8L1593.7,560.1L1597.5,555.2L1601.3,548.2L1605.1,540.9L1608.9,535.1L1612.7,532.3L1616.5,533.2L1620.3,537.5L1624.1,544L1627.9,550.9L1631.7,556.6L1635.5,559.7L1639.3,559.7L1643.1,557.1L1646.9,555.8L1650.8,557.3L1654.6,561.5L1658.4,567.7L1662.2,574.6L1666,580.3L1669.8,583.1L1673.6,584.6L1677.4,585.6L1681.2,585.8L1685,585.7L1688.8,585.7L1692.6,586.4L1696.4,587.9L1700.2,589.8L1704.1,591.8L1707.9,592.8L1711.7,592.4L1715.5,590.3L1719.3,586.9L1723.1,583L1726.9,579.7L1730.7,578L1734.5,578.5L1738.3,581.2L1742.1,585.3L1745.9,589.7L1749.7,593L1753.5,594.3L1757.3,593.2L1761.2,590.2L1765,586.2L1768.8,582.6L1772.6,580.6L1776.4,580.8L1780.2,583.1L1784,586.7L1787.8,590.4L1791.6,592.8L1795.4,593.1L1799.2,590.9L1803,587L1806.8,582.4L1810.6,578.7L1814.5,577.1L1818.3,578.2L1822.1,581.9L1825.9,587L1829.7,592.3L1833.5,596.2L1837.3,597.6L1841.1,596.2L1844.9,592.3L1848.7,587.2L1852.5,582.3L1856.3,578.6L1860.1,577.1L1863.9,577.9L1867.8,580.5L1871.6,583.8L1875.4,587.1L1879.2,589.4L1883,590.6L1886.8,590.8L1890.6,590.4L1894.4,589.9L1898.2,589.8L1902,589.9L1905.8,589.8L1909.6,589.2L1913.4,587.6L1917.2,584.9L1921,581.6L1924.9,578.4L1928.7,576.5" fill="none" stroke="#f40000" stroke-width="1.9" stroke-linejoin="round" stroke-linecap="butt"/>
<path d="M1586,505.9L1589.8,506.1L1593.7,507.7L1597.5,510.6L1601.3,514.3L1605.1,517.9L1608.9,520.9L1612.7,522.6L1616.5,522.8L1620.3,521.4L1624.1,518.6L1627.9,514.9L1631.7,510.9L1635.5,507.4L1639.3,505L1643.1,504.3L1646.9,505.3L1650.8,508L1654.6,514.3L1658.4,524.2L1662.2,535.6L1666,546.5L1669.8,554.9L1673.6,559.3L1677.4,558.4L1681.2,554.8L1685,550L1688.8,545L1692.6,540.4L1696.4,537.1L1700.2,535.6L1704.1,536.2L1707.9,538.8L1711.7,543L1715.5,548.3L1719.3,553.6L1723.1,558.3L1726.9,561.5L1730.7,562.8L1734.5,561.9L1738.3,559.1L1742.1,554.7L1745.9,549.5L1749.7,544.3L1753.5,539.8L1757.3,536.8L1761.2,535.6L1765,536.4L1768.8,539L1772.6,543L1776.4,547.6L1780.2,552.3L1784,556.3L1787.8,559.1L1791.6,560.2L1795.4,559.7L1799.2,557.7L1803,554.6L1806.8,550.9L1810.6,547.1L1814.5,543.9L1818.3,541.6L1822.1,540.4L1825.9,540.5L1829.7,541.6L1833.5,543.6L1837.3,546.1L1841.1,548.6L1844.9,550.8L1848.7,552.6L1852.5,553.7L1856.3,554.2L1860.1,554L1863.9,553.3L1867.8,552.3L1871.6,551.1L1875.4,549.9L1879.2,548.7L1883,547.7L1886.8,546.8L1890.6,546L1894.4,545.5L1898.2,545.1L1902,545L1905.8,545.3L1909.6,545.8L1913.4,546.8L1917.2,548.1L1921,549.6L1924.9,551.2L1928.7,552.7" fill="none" stroke="#f40000" stroke-width="1.9" stroke-linejoin="round" stroke-linecap="butt"/>
<path d="M1586,544L1589.8,545.9L1593.7,546.3L1597.5,545.6L1601.3,544L1605.1,542.1L1608.9,540.3L1612.7,538.7L1616.5,537.4L1620.3,536.1L1624.1,534.7L1627.9,533.4L1631.7,532.3L1635.5,532L1639.3,532.8L1643.1,534.9L1646.9,538L1650.8,541.7L1654.6,545.2L1658.4,550.2L1662.2,556.2L1666,561.8L1669.8,566.1L1673.6,568.6L1677.4,569L1681.2,567.1L1685,565.4L1688.8,564.8L1692.6,564.9L1696.4,565.5L1700.2,566.2L1704.1,567.1L1707.9,568.3L1711.7,569.8L1715.5,571.9L1719.3,574.4L1723.1,576.9L1726.9,578.7L1730.7,579.4L1734.5,578.4L1738.3,575.9L1742.1,572.3L1745.9,568.3L1749.7,564.8L1753.5,562.6L1757.3,562.1L1761.2,563L1765,565.2L1768.8,567.8L1772.6,570.3L1776.4,572.4L1780.2,573.9L1784,575L1787.8,575.8L1791.6,576.5L1795.4,576.9L1799.2,576.8L1803,575.8L1806.8,573.9L1810.6,570.9L1814.5,567.5L1818.3,564.3L1822.1,562L1825.9,561.2L1829.7,562.3L1833.5,565L1837.3,568.7L1841.1,572.5L1844.9,575.7L1848.7,577.6L1852.5,578.3L1856.3,577.7L1860.1,576.5L1863.9,574.9L1867.8,573.3L1871.6,571.8L1875.4,570.2L1879.2,568.4L1883,566.5L1886.8,564.6L1890.6,563.2L1894.4,562.8L1898.2,563.7L1902,566.1L1905.8,569.7L1909.6,573.7L1913.4,577.3L1917.2,579.7L1921,580.3L1924.9,579.2L1928.7,576.7" fill="none" stroke="#f40000" stroke-width="1.9" stroke-linejoin="round" stroke-linecap="butt"/>
<path d="M1586,552.6L1589.8,548.7L1593.7,543.7L1597.5,539.7L1601.3,538.1L1605.1,539.8L1608.9,544L1612.7,549.3L1616.5,553.6L1620.3,555.3L1624.1,553.6L1627.9,549.3L1631.7,543.8L1635.5,539.4L1639.3,537.6L1643.1,539.2L1646.9,543.4L1650.8,549.5L1654.6,557.3L1658.4,564.4L1662.2,569.1L1666,571L1669.8,570.5L1673.6,568.6L1677.4,566.9L1681.2,568L1685,571.4L1688.8,575.8L1692.6,579.5L1696.4,581.2L1700.2,580.5L1704.1,577.7L1707.9,574.1L1711.7,571.1L1715.5,569.6L1719.3,570.1L1723.1,572L1726.9,574.6L1730.7,576.8L1734.5,577.9L1738.3,577.7L1742.1,576.6L1745.9,575.1L1749.7,574L1753.5,573.4L1757.3,573.4L1761.2,573.7L1765,573.9L1768.8,573.8L1772.6,573.7L1776.4,573.9L1780.2,574.4L1784,575.5L1787.8,576.8L1791.6,577.7L1795.4,577.6L1799.2,576.3L1803,573.9L1806.8,571.3L1810.6,569.5L1814.5,569.5L1818.3,571.5L1822.1,575.1L1825.9,578.9L1829.7,581.6L1833.5,581.9L1837.3,579.4L1841.1,574.9L1844.9,569.8L1848.7,566.1L1852.5,565.4L1856.3,568.2L1860.1,573.7L1863.9,579.8L1867.8,584.4L1871.6,585.5L1875.4,582.6L1879.2,576.6L1883,569.6L1886.8,564.1L1890.6,562.5L1894.4,565.3L1898.2,571.7L1902,579.4L1905.8,585.5L1909.6,587.7L1913.4,585.1L1917.2,578.7L1921,570.6L1924.9,564L1928.7,561.2" fill="none" stroke="#f40000" stroke-width="1.9" stroke-linejoin="round" stroke-linecap="butt"/>
<path d="M1586,519.1C1588.9,516.2 1597.3,502.4 1603.2,501.5C1609,500.5 1614.1,511.9 1621.3,513.2C1628.5,514.5 1639.8,507.3 1646.5,509.3C1653.2,511.3 1655.7,519.4 1661.6,525C1667.5,530.5 1673.7,543.6 1681.8,542.6C1689.8,541.6 1701.6,520.7 1710,519.1C1718.4,517.5 1725.1,527.9 1732.2,532.8C1739.2,537.7 1745.6,546.9 1752.3,548.5C1759,550.1 1765.7,542.6 1772.5,542.6C1779.2,542.6 1789.3,547.5 1792.6,548.5" fill="none" stroke="#f40000" stroke-width="1.9" stroke-linejoin="round" stroke-linecap="butt"/>
<path d="M1681.8,577.9C1685.1,580.5 1695.2,592.9 1701.9,593.6C1708.6,594.2 1714.5,582.5 1722.1,581.8C1729.6,581.2 1740.1,584.1 1747.3,589.7C1754.5,595.2 1759.5,613.2 1765.4,615.1C1771.3,617.1 1776.3,606.3 1782.5,601.4C1788.8,596.5 1799.3,588.4 1802.7,585.7" fill="none" stroke="#f40000" stroke-width="1.9" stroke-linejoin="round" stroke-linecap="butt"/>
<path d="M1832.9,581.8C1836.3,584.4 1845.5,592.6 1853.1,597.5C1860.6,602.4 1871.6,610.6 1878.3,611.2C1885,611.9 1887.5,605 1893.4,601.4C1899.3,597.8 1907.7,589 1913.5,589.7C1919.4,590.3 1926.1,602.7 1928.7,605.3" fill="none" stroke="#f40000" stroke-width="1.9" stroke-linejoin="round" stroke-linecap="butt"/>
<path d="M1822.9,558.3C1826.2,556 1836.3,545.9 1843,544.6C1849.7,543.3 1856.4,551.4 1863.2,550.5C1869.9,549.5 1876.6,540 1883.3,538.7C1890,537.4 1895.9,542.9 1903.5,542.6C1911,542.3 1924.5,537.7 1928.7,536.7" fill="none" stroke="#f40000" stroke-width="1.9" stroke-linejoin="round" stroke-linecap="butt"/>
<line x1="1106.7" y1="859.8" x2="1434.2" y2="859.8" stroke="#000" stroke-width="2" stroke-dasharray="2 5"/>
<path d="M1093.2,853.1L1097.1,862.3L1100.9,866.7L1104.8,870.7L1108.6,871.3L1112.4,871.9L1116.3,872.4L1120.1,872.9L1124,873.4L1127.8,874L1131.7,874.7L1135.5,875.3L1139.4,875.9L1143.2,876.5L1147,876.9L1150.9,877.3L1154.7,877.7L1158.6,878.1L1162.4,878.5L1166.3,879L1170.1,879.4L1173.9,879.9L1177.8,880.4L1181.6,880.8L1185.5,881.1L1189.3,881.5L1193.2,881.9L1197,882.3L1200.9,882.7L1204.7,883L1208.5,883.4L1212.4,883.7L1216.2,884L1220.1,884.3L1223.9,884.6L1227.8,884.7L1231.6,884.8L1235.5,884.9L1239.3,885L1243.1,885.1L1247,885.3L1250.8,885.4L1254.7,885.6L1258.5,885.8L1262.4,886L1266.2,886.2L1270.1,886.4L1273.9,886.6L1277.7,886.7L1281.6,886.9L1285.4,887.1L1289.3,887.3L1293.1,887.4L1297,887.5L1300.8,887.6L1304.7,887.8L1308.5,887.8L1312.3,887.9L1316.2,888L1320,888.1L1323.9,888.2L1327.7,888.3L1331.6,888.4L1335.4,888.5L1339.3,888.7L1343.1,888.8L1346.9,889L1350.8,889.2L1354.6,889.3L1358.5,889.5L1362.3,889.7L1366.2,889.8L1370,890L1373.8,890.1L1377.7,890.3L1381.5,890.4L1385.4,890.5L1389.2,890.6L1393.1,890.7L1396.9,890.8L1400.8,890.8L1404.6,890.9L1408.4,891L1412.3,891.1L1416.1,891.1L1420,891.2L1423.8,891.3L1427.7,891.5L1431.5,891.6L1435.4,891.8L1439.2,891.9" fill="none" stroke="#f40000" stroke-width="2.0" stroke-linejoin="round" stroke-linecap="butt"/>
<path d="M1093.2,853.1L1097.1,862.1L1100.9,866.3L1104.8,870.1L1108.6,870.6L1112.4,871.2L1116.3,871.8L1120.1,872.4L1124,873L1127.8,873.8L1131.7,874.5L1135.5,875.3L1139.4,876L1143.2,876.7L1147,877.2L1150.9,877.6L1154.7,878L1158.6,878.3L1162.4,878.7L1166.3,879L1170.1,879.3L1173.9,879.6L1177.8,879.9L1181.6,880.2L1185.5,880.4L1189.3,880.8L1193.2,881.1L1197,881.5L1200.9,881.9L1204.7,882.3L1208.5,882.8L1212.4,883.2L1216.2,883.7L1220.1,884.1L1223.9,884.5L1227.8,884.7L1231.6,884.9L1235.5,885.1L1239.3,885.2L1243.1,885.3L1247,885.3L1250.8,885.4L1254.7,885.4L1258.5,885.5L1262.4,885.5L1266.2,885.6L1270.1,885.6L1273.9,885.7L1277.7,885.8L1281.6,886L1285.4,886.2L1289.3,886.4L1293.1,886.6L1297,886.9L1300.8,887.1L1304.7,887.4L1308.5,887.6L1312.3,887.8L1316.2,888L1320,888.2L1323.9,888.3L1327.7,888.4L1331.6,888.5L1335.4,888.5L1339.3,888.5L1343.1,888.5L1346.9,888.6L1350.8,888.6L1354.6,888.6L1358.5,888.7L1362.3,888.8L1366.2,888.9L1370,889L1373.8,889.2L1377.7,889.4L1381.5,889.6L1385.4,889.9L1389.2,890.1L1393.1,890.3L1396.9,890.6L1400.8,890.7L1404.6,890.9L1408.4,891L1412.3,891.1L1416.1,891.2L1420,891.2L1423.8,891.2L1427.7,891.2L1431.5,891.2L1435.4,891.2L1439.2,891.3" fill="none" stroke="#f40000" stroke-width="2.0" stroke-linejoin="round" stroke-linecap="butt"/>
<path d="M1093.2,853.1L1097.1,862.2L1100.9,866.4L1104.8,870.2L1108.6,870.7L1112.4,871.2L1116.3,871.7L1120.1,872.2L1124,872.7L1127.8,873.4L1131.7,874.1L1135.5,874.8L1139.4,875.5L1143.2,876.2L1147,876.7L1150.9,877.2L1154.7,877.6L1158.6,878.1L1162.4,878.5L1166.3,878.9L1170.1,879.2L1173.9,879.6L1177.8,879.9L1181.6,880.2L1185.5,880.5L1189.3,880.7L1193.2,881L1197,881.3L1200.9,881.7L1204.7,882L1208.5,882.4L1212.4,882.7L1216.2,883.1L1220.1,883.5L1223.9,883.9L1227.8,884.1L1231.6,884.3L1235.5,884.5L1239.3,884.7L1243.1,884.8L1247,885L1250.8,885.1L1254.7,885.2L1258.5,885.3L1262.4,885.4L1266.2,885.5L1270.1,885.6L1273.9,885.6L1277.7,885.7L1281.6,885.8L1285.4,885.9L1289.3,886L1293.1,886.2L1297,886.3L1300.8,886.5L1304.7,886.7L1308.5,886.9L1312.3,887.1L1316.2,887.3L1320,887.5L1323.9,887.7L1327.7,887.8L1331.6,888L1335.4,888.1L1339.3,888.2L1343.1,888.3L1346.9,888.4L1350.8,888.4L1354.6,888.5L1358.5,888.5L1362.3,888.6L1366.2,888.7L1370,888.7L1373.8,888.8L1377.7,889L1381.5,889.1L1385.4,889.3L1389.2,889.4L1393.1,889.6L1396.9,889.8L1400.8,890L1404.6,890.2L1408.4,890.3L1412.3,890.5L1416.1,890.6L1420,890.7L1423.8,890.8L1427.7,890.9L1431.5,891L1435.4,891L1439.2,891.1" fill="none" stroke="#f40000" stroke-width="2.0" stroke-linejoin="round" stroke-linecap="butt"/>
<path d="M1093.2,853.1L1097.1,862.2L1100.9,866.4L1104.8,870.2L1108.6,870.8L1112.4,871.3L1116.3,871.7L1120.1,872.2L1124,872.6L1127.8,873.3L1131.7,873.9L1135.5,874.5L1139.4,875.2L1143.2,875.8L1147,876.3L1150.9,876.7L1154.7,877.2L1158.6,877.6L1162.4,878L1166.3,878.4L1170.1,878.9L1173.9,879.3L1177.8,879.7L1181.6,880L1185.5,880.3L1189.3,880.6L1193.2,880.9L1197,881.3L1200.9,881.6L1204.7,881.9L1208.5,882.2L1212.4,882.6L1216.2,882.9L1220.1,883.2L1223.9,883.5L1227.8,883.6L1231.6,883.8L1235.5,884L1239.3,884.1L1243.1,884.3L1247,884.4L1250.8,884.6L1254.7,884.7L1258.5,884.9L1262.4,885L1266.2,885.1L1270.1,885.3L1273.9,885.4L1277.7,885.5L1281.6,885.6L1285.4,885.7L1289.3,885.9L1293.1,886L1297,886.1L1300.8,886.2L1304.7,886.4L1308.5,886.5L1312.3,886.6L1316.2,886.8L1320,886.9L1323.9,887.1L1327.7,887.2L1331.6,887.3L1335.4,887.5L1339.3,887.6L1343.1,887.7L1346.9,887.9L1350.8,888L1354.6,888.1L1358.5,888.2L1362.3,888.3L1366.2,888.4L1370,888.5L1373.8,888.6L1377.7,888.7L1381.5,888.8L1385.4,889L1389.2,889.1L1393.1,889.2L1396.9,889.3L1400.8,889.4L1404.6,889.6L1408.4,889.7L1412.3,889.8L1416.1,889.9L1420,890.1L1423.8,890.2L1427.7,890.3L1431.5,890.4L1435.4,890.5L1439.2,890.6" fill="none" stroke="#f40000" stroke-width="2.0" stroke-linejoin="round" stroke-linecap="butt"/>
<path d="M1093.2,853.1L1097.1,862.2L1100.9,866.5L1104.8,870.4L1108.6,870.9L1112.4,871.5L1116.3,871.9L1120.1,872.3L1124,872.7L1127.8,873.2L1131.7,873.8L1135.5,874.3L1139.4,874.9L1143.2,875.4L1147,875.8L1150.9,876.2L1154.7,876.6L1158.6,877L1162.4,877.5L1166.3,877.9L1170.1,878.4L1173.9,878.9L1177.8,879.4L1181.6,879.8L1185.5,880.2L1189.3,880.6L1193.2,880.9L1197,881.3L1200.9,881.6L1204.7,881.9L1208.5,882.2L1212.4,882.5L1216.2,882.7L1220.1,882.9L1223.9,883.1L1227.8,883.2L1231.6,883.2L1235.5,883.3L1239.3,883.4L1243.1,883.6L1247,883.7L1250.8,883.9L1254.7,884.1L1258.5,884.3L1262.4,884.6L1266.2,884.8L1270.1,885L1273.9,885.2L1277.7,885.4L1281.6,885.5L1285.4,885.7L1289.3,885.8L1293.1,885.9L1297,886L1300.8,886L1304.7,886.1L1308.5,886.1L1312.3,886.2L1316.2,886.2L1320,886.3L1323.9,886.4L1327.7,886.5L1331.6,886.6L1335.4,886.7L1339.3,886.9L1343.1,887.1L1346.9,887.3L1350.8,887.5L1354.6,887.7L1358.5,887.9L1362.3,888.1L1366.2,888.3L1370,888.4L1373.8,888.5L1377.7,888.6L1381.5,888.7L1385.4,888.7L1389.2,888.8L1393.1,888.8L1396.9,888.8L1400.8,888.9L1404.6,888.9L1408.4,889L1412.3,889L1416.1,889.1L1420,889.3L1423.8,889.4L1427.7,889.6L1431.5,889.8L1435.4,890L1439.2,890.2" fill="none" stroke="#f40000" stroke-width="2.0" stroke-linejoin="round" stroke-linecap="butt"/>
<path d="M1093.2,853L1097.1,862.1L1100.9,866.2L1104.8,869.8L1108.6,870.3L1112.4,870.8L1116.3,871.3L1120.1,871.7L1124,872.2L1127.8,872.9L1131.7,873.5L1135.5,874.2L1139.4,874.8L1143.2,875.5L1147,876L1150.9,876.4L1154.7,876.9L1158.6,877.3L1162.4,877.6L1166.3,878L1170.1,878.4L1173.9,878.7L1177.8,879.1L1181.6,879.3L1185.5,879.6L1189.3,879.9L1193.2,880.2L1197,880.5L1200.9,880.8L1204.7,881.2L1208.5,881.5L1212.4,881.9L1216.2,882.2L1220.1,882.6L1223.9,882.9L1227.8,883.1L1231.6,883.3L1235.5,883.4L1239.3,883.6L1243.1,883.7L1247,883.9L1250.8,884L1254.7,884.1L1258.5,884.2L1262.4,884.2L1266.2,884.3L1270.1,884.4L1273.9,884.5L1277.7,884.6L1281.6,884.7L1285.4,884.8L1289.3,884.9L1293.1,885.1L1297,885.2L1300.8,885.4L1304.7,885.6L1308.5,885.8L1312.3,885.9L1316.2,886.1L1320,886.3L1323.9,886.4L1327.7,886.5L1331.6,886.7L1335.4,886.8L1339.3,886.9L1343.1,886.9L1346.9,887L1350.8,887.1L1354.6,887.2L1358.5,887.2L1362.3,887.3L1366.2,887.4L1370,887.5L1373.8,887.6L1377.7,887.7L1381.5,887.8L1385.4,888L1389.2,888.2L1393.1,888.3L1396.9,888.5L1400.8,888.6L1404.6,888.8L1408.4,888.9L1412.3,889.1L1416.1,889.2L1420,889.3L1423.8,889.4L1427.7,889.5L1431.5,889.5L1435.4,889.6L1439.2,889.6" fill="none" stroke="#f40000" stroke-width="2.0" stroke-linejoin="round" stroke-linecap="butt"/>
<path d="M1093.2,853L1097.1,862.1L1100.9,866.3L1104.8,870.1L1108.6,870.5L1112.4,871L1116.3,871.4L1120.1,871.7L1124,872.1L1127.8,872.6L1131.7,873.2L1135.5,873.7L1139.4,874.3L1143.2,874.9L1147,875.4L1150.9,875.8L1154.7,876.3L1158.6,876.7L1162.4,877.2L1166.3,877.7L1170.1,878.1L1173.9,878.6L1177.8,879L1181.6,879.4L1185.5,879.7L1189.3,880L1193.2,880.3L1197,880.6L1200.9,880.8L1204.7,881.1L1208.5,881.3L1212.4,881.6L1216.2,881.8L1220.1,882.1L1223.9,882.3L1227.8,882.4L1231.6,882.6L1235.5,882.7L1239.3,882.9L1243.1,883L1247,883.2L1250.8,883.4L1254.7,883.6L1258.5,883.8L1262.4,884L1266.2,884.2L1270.1,884.3L1273.9,884.5L1277.7,884.6L1281.6,884.7L1285.4,884.7L1289.3,884.8L1293.1,884.9L1297,884.9L1300.8,885L1304.7,885.1L1308.5,885.1L1312.3,885.2L1316.2,885.3L1320,885.5L1323.9,885.6L1327.7,885.8L1331.6,885.9L1335.4,886.1L1339.3,886.3L1343.1,886.5L1346.9,886.7L1350.8,886.8L1354.6,887L1358.5,887.1L1362.3,887.2L1366.2,887.3L1370,887.4L1373.8,887.5L1377.7,887.5L1381.5,887.6L1385.4,887.6L1389.2,887.7L1393.1,887.7L1396.9,887.8L1400.8,887.9L1404.6,888L1408.4,888.1L1412.3,888.2L1416.1,888.4L1420,888.5L1423.8,888.7L1427.7,888.9L1431.5,889.1L1435.4,889.2L1439.2,889.4" fill="none" stroke="#f40000" stroke-width="2.0" stroke-linejoin="round" stroke-linecap="butt"/>
<path d="M1093.2,853L1097.1,862.1L1100.9,866.1L1104.8,869.8L1108.6,870.3L1112.4,870.8L1116.3,871.2L1120.1,871.5L1124,871.9L1127.8,872.5L1131.7,873.1L1135.5,873.7L1139.4,874.2L1143.2,874.8L1147,875.3L1150.9,875.7L1154.7,876.1L1158.6,876.6L1162.4,877L1166.3,877.4L1170.1,877.8L1173.9,878.2L1177.8,878.6L1181.6,878.9L1185.5,879.2L1189.3,879.6L1193.2,879.8L1197,880.1L1200.9,880.4L1204.7,880.7L1208.5,881L1212.4,881.3L1216.2,881.6L1220.1,881.9L1223.9,882.1L1227.8,882.2L1231.6,882.4L1235.5,882.5L1239.3,882.6L1243.1,882.8L1247,882.9L1250.8,883.1L1254.7,883.2L1258.5,883.4L1262.4,883.5L1266.2,883.7L1270.1,883.8L1273.9,883.9L1277.7,884L1281.6,884.1L1285.4,884.3L1289.3,884.3L1293.1,884.4L1297,884.5L1300.8,884.6L1304.7,884.7L1308.5,884.9L1312.3,885L1316.2,885.1L1320,885.2L1323.9,885.3L1327.7,885.5L1331.6,885.6L1335.4,885.7L1339.3,885.9L1343.1,886L1346.9,886.2L1350.8,886.3L1354.6,886.4L1358.5,886.5L1362.3,886.6L1366.2,886.7L1370,886.8L1373.8,886.9L1377.7,887L1381.5,887.1L1385.4,887.2L1389.2,887.3L1393.1,887.4L1396.9,887.5L1400.8,887.6L1404.6,887.7L1408.4,887.8L1412.3,887.9L1416.1,888L1420,888.2L1423.8,888.3L1427.7,888.4L1431.5,888.6L1435.4,888.7L1439.2,888.8" fill="none" stroke="#f40000" stroke-width="2.0" stroke-linejoin="round" stroke-linecap="butt"/>
<path d="M1093.2,853L1097.1,862L1100.9,866L1104.8,869.6L1108.6,870.1L1112.4,870.6L1116.3,871L1120.1,871.4L1124,871.8L1127.8,872.4L1131.7,873L1135.5,873.6L1139.4,874.2L1143.2,874.7L1147,875.2L1150.9,875.6L1154.7,876L1158.6,876.3L1162.4,876.7L1166.3,877.1L1170.1,877.5L1173.9,877.8L1177.8,878.2L1181.6,878.5L1185.5,878.8L1189.3,879.1L1193.2,879.5L1197,879.8L1200.9,880.1L1204.7,880.4L1208.5,880.7L1212.4,881L1216.2,881.4L1220.1,881.7L1223.9,881.9L1227.8,882L1231.6,882.2L1235.5,882.3L1239.3,882.4L1243.1,882.5L1247,882.6L1250.8,882.7L1254.7,882.8L1258.5,882.9L1262.4,883.1L1266.2,883.2L1270.1,883.3L1273.9,883.4L1277.7,883.5L1281.6,883.7L1285.4,883.8L1289.3,883.9L1293.1,884.1L1297,884.2L1300.8,884.3L1304.7,884.4L1308.5,884.6L1312.3,884.7L1316.2,884.8L1320,884.9L1323.9,885L1327.7,885.1L1331.6,885.2L1335.4,885.3L1339.3,885.4L1343.1,885.5L1346.9,885.6L1350.8,885.7L1354.6,885.9L1358.5,886L1362.3,886.1L1366.2,886.2L1370,886.3L1373.8,886.4L1377.7,886.5L1381.5,886.7L1385.4,886.8L1389.2,886.9L1393.1,887L1396.9,887.1L1400.8,887.2L1404.6,887.3L1408.4,887.4L1412.3,887.5L1416.1,887.6L1420,887.7L1423.8,887.8L1427.7,887.9L1431.5,888L1435.4,888.1L1439.2,888.2" fill="none" stroke="#f40000" stroke-width="2.0" stroke-linejoin="round" stroke-linecap="butt"/>
<path d="M1093.2,853L1097.1,862L1100.9,866L1104.8,869.8L1108.6,870.4L1112.4,870.9L1116.3,871.3L1120.1,871.6L1124,872L1127.8,872.5L1131.7,872.9L1135.5,873.4L1139.4,873.8L1143.2,874.3L1147,874.6L1150.9,874.9L1154.7,875.3L1158.6,875.6L1162.4,876L1166.3,876.4L1170.1,876.9L1173.9,877.4L1177.8,877.9L1181.6,878.3L1185.5,878.7L1189.3,879.2L1193.2,879.6L1197,879.9L1200.9,880.3L1204.7,880.6L1208.5,880.8L1212.4,881L1216.2,881.3L1220.1,881.4L1223.9,881.5L1227.8,881.5L1231.6,881.5L1235.5,881.6L1239.3,881.6L1243.1,881.7L1247,881.8L1250.8,881.9L1254.7,882.1L1258.5,882.3L1262.4,882.5L1266.2,882.8L1270.1,883L1273.9,883.3L1277.7,883.5L1281.6,883.7L1285.4,883.9L1289.3,884L1293.1,884.1L1297,884.2L1300.8,884.2L1304.7,884.2L1308.5,884.2L1312.3,884.2L1316.2,884.2L1320,884.2L1323.9,884.2L1327.7,884.3L1331.6,884.3L1335.4,884.4L1339.3,884.6L1343.1,884.8L1346.9,885L1350.8,885.2L1354.6,885.4L1358.5,885.7L1362.3,885.9L1366.2,886.1L1370,886.3L1373.8,886.5L1377.7,886.6L1381.5,886.7L1385.4,886.7L1389.2,886.7L1393.1,886.7L1396.9,886.7L1400.8,886.7L1404.6,886.7L1408.4,886.7L1412.3,886.7L1416.1,886.7L1420,886.8L1423.8,886.9L1427.7,887.1L1431.5,887.2L1435.4,887.5L1439.2,887.7" fill="none" stroke="#f40000" stroke-width="2.0" stroke-linejoin="round" stroke-linecap="butt"/>
<path d="M1093.2,853L1097.1,862L1100.9,866L1104.8,869.7L1108.6,870.2L1112.4,870.7L1116.3,871L1120.1,871.3L1124,871.6L1127.8,872L1131.7,872.5L1135.5,873L1139.4,873.4L1143.2,873.9L1147,874.3L1150.9,874.7L1154.7,875.1L1158.6,875.5L1162.4,875.9L1166.3,876.4L1170.1,876.9L1173.9,877.4L1177.8,877.8L1181.6,878.2L1185.5,878.6L1189.3,879L1193.2,879.3L1197,879.6L1200.9,879.9L1204.7,880.1L1208.5,880.3L1212.4,880.5L1216.2,880.7L1220.1,880.9L1223.9,881L1227.8,881L1231.6,881.1L1235.5,881.2L1239.3,881.3L1243.1,881.4L1247,881.6L1250.8,881.7L1254.7,881.9L1258.5,882.2L1262.4,882.4L1266.2,882.6L1270.1,882.8L1273.9,883L1277.7,883.2L1281.6,883.3L1285.4,883.4L1289.3,883.5L1293.1,883.5L1297,883.6L1300.8,883.6L1304.7,883.6L1308.5,883.6L1312.3,883.6L1316.2,883.6L1320,883.7L1323.9,883.8L1327.7,883.9L1331.6,884L1335.4,884.2L1339.3,884.4L1343.1,884.6L1346.9,884.8L1350.8,885L1354.6,885.2L1358.5,885.4L1362.3,885.6L1366.2,885.7L1370,885.8L1373.8,885.9L1377.7,886L1381.5,886L1385.4,886L1389.2,886L1393.1,886L1396.9,886L1400.8,886.1L1404.6,886.1L1408.4,886.1L1412.3,886.2L1416.1,886.3L1420,886.5L1423.8,886.6L1427.7,886.8L1431.5,887L1435.4,887.2L1439.2,887.4" fill="none" stroke="#f40000" stroke-width="2.0" stroke-linejoin="round" stroke-linecap="butt"/>
<path d="M1093.2,853L1097.1,861.8L1100.9,865.7L1104.8,869.2L1108.6,869.8L1112.4,870.4L1116.3,870.8L1120.1,871.2L1124,871.6L1127.8,872.1L1131.7,872.7L1135.5,873.2L1139.4,873.7L1143.2,874.1L1147,874.5L1150.9,874.8L1154.7,875L1158.6,875.3L1162.4,875.6L1166.3,876L1170.1,876.3L1173.9,876.7L1177.8,877.2L1181.6,877.5L1185.5,877.9L1189.3,878.3L1193.2,878.7L1197,879.1L1200.9,879.4L1204.7,879.8L1208.5,880.1L1212.4,880.4L1216.2,880.7L1220.1,881L1223.9,881.1L1227.8,881.2L1231.6,881.2L1235.5,881.2L1239.3,881.2L1243.1,881.2L1247,881.2L1250.8,881.3L1254.7,881.4L1258.5,881.5L1262.4,881.6L1266.2,881.8L1270.1,882L1273.9,882.2L1277.7,882.4L1281.6,882.6L1285.4,882.8L1289.3,883L1293.1,883.2L1297,883.3L1300.8,883.5L1304.7,883.5L1308.5,883.6L1312.3,883.6L1316.2,883.7L1320,883.7L1323.9,883.7L1327.7,883.7L1331.6,883.7L1335.4,883.8L1339.3,883.8L1343.1,883.9L1346.9,884L1350.8,884.2L1354.6,884.3L1358.5,884.5L1362.3,884.7L1366.2,884.9L1370,885.1L1373.8,885.3L1377.7,885.5L1381.5,885.7L1385.4,885.8L1389.2,885.9L1393.1,886L1396.9,886L1400.8,886L1404.6,886.1L1408.4,886.1L1412.3,886.1L1416.1,886.1L1420,886.1L1423.8,886.1L1427.7,886.2L1431.5,886.3L1435.4,886.4L1439.2,886.5" fill="none" stroke="#f40000" stroke-width="2.0" stroke-linejoin="round" stroke-linecap="butt"/>
<path d="M1093.2,853L1097.1,861.8L1100.9,865.6L1104.8,869L1108.6,869.4L1112.4,869.9L1116.3,870.3L1120.1,870.6L1124,871L1127.8,871.6L1131.7,872.2L1135.5,872.8L1139.4,873.3L1143.2,873.9L1147,874.4L1150.9,874.8L1154.7,875.1L1158.6,875.5L1162.4,875.8L1166.3,876.1L1170.1,876.5L1173.9,876.8L1177.8,877.1L1181.6,877.4L1185.5,877.6L1189.3,877.9L1193.2,878.2L1197,878.5L1200.9,878.8L1204.7,879.1L1208.5,879.4L1212.4,879.7L1216.2,880L1220.1,880.4L1223.9,880.6L1227.8,880.7L1231.6,880.9L1235.5,881L1239.3,881.1L1243.1,881.2L1247,881.3L1250.8,881.4L1254.7,881.4L1258.5,881.5L1262.4,881.6L1266.2,881.6L1270.1,881.7L1273.9,881.8L1277.7,881.9L1281.6,882L1285.4,882.1L1289.3,882.2L1293.1,882.4L1297,882.5L1300.8,882.7L1304.7,882.8L1308.5,883L1312.3,883.1L1316.2,883.2L1320,883.4L1323.9,883.5L1327.7,883.6L1331.6,883.7L1335.4,883.7L1339.3,883.8L1343.1,883.9L1346.9,883.9L1350.8,884L1354.6,884.1L1358.5,884.1L1362.3,884.2L1366.2,884.3L1370,884.4L1373.8,884.5L1377.7,884.7L1381.5,884.8L1385.4,884.9L1389.2,885.1L1393.1,885.2L1396.9,885.4L1400.8,885.5L1404.6,885.6L1408.4,885.7L1412.3,885.8L1416.1,885.9L1420,886L1423.8,886.1L1427.7,886.1L1431.5,886.2L1435.4,886.3L1439.2,886.3" fill="none" stroke="#f40000" stroke-width="2.0" stroke-linejoin="round" stroke-linecap="butt"/>
<path d="M1093.2,853L1097.1,861.9L1100.9,865.8L1104.8,869.3L1108.6,869.7L1112.4,870.1L1116.3,870.4L1120.1,870.6L1124,870.8L1127.8,871.3L1131.7,871.7L1135.5,872.2L1139.4,872.7L1143.2,873.2L1147,873.6L1150.9,874L1154.7,874.4L1158.6,874.9L1162.4,875.3L1166.3,875.8L1170.1,876.3L1173.9,876.7L1177.8,877.2L1181.6,877.5L1185.5,877.8L1189.3,878.1L1193.2,878.4L1197,878.6L1200.9,878.8L1204.7,879L1208.5,879.2L1212.4,879.4L1216.2,879.6L1220.1,879.7L1223.9,879.9L1227.8,880L1231.6,880L1235.5,880.1L1239.3,880.3L1243.1,880.5L1247,880.6L1250.8,880.8L1254.7,881L1258.5,881.2L1262.4,881.4L1266.2,881.6L1270.1,881.8L1273.9,881.9L1277.7,882L1281.6,882.1L1285.4,882.2L1289.3,882.2L1293.1,882.2L1297,882.2L1300.8,882.2L1304.7,882.2L1308.5,882.2L1312.3,882.3L1316.2,882.3L1320,882.4L1323.9,882.6L1327.7,882.7L1331.6,882.9L1335.4,883.1L1339.3,883.3L1343.1,883.5L1346.9,883.7L1350.8,883.9L1354.6,884L1358.5,884.2L1362.3,884.3L1366.2,884.4L1370,884.4L1373.8,884.5L1377.7,884.5L1381.5,884.5L1385.4,884.5L1389.2,884.5L1393.1,884.5L1396.9,884.5L1400.8,884.6L1404.6,884.7L1408.4,884.8L1412.3,884.9L1416.1,885L1420,885.2L1423.8,885.4L1427.7,885.6L1431.5,885.8L1435.4,886L1439.2,886.2" fill="none" stroke="#f40000" stroke-width="2.0" stroke-linejoin="round" stroke-linecap="butt"/>
<path d="M1093.2,853L1097.1,861.7L1100.9,865.5L1104.8,868.9L1108.6,869.3L1112.4,869.7L1116.3,870.1L1120.1,870.4L1124,870.7L1127.8,871.2L1131.7,871.8L1135.5,872.3L1139.4,872.8L1143.2,873.3L1147,873.8L1150.9,874.1L1154.7,874.5L1158.6,874.8L1162.4,875.2L1166.3,875.5L1170.1,875.9L1173.9,876.3L1177.8,876.6L1181.6,876.9L1185.5,877.2L1189.3,877.5L1193.2,877.8L1197,878L1200.9,878.3L1204.7,878.6L1208.5,878.9L1212.4,879.1L1216.2,879.4L1220.1,879.7L1223.9,879.9L1227.8,880L1231.6,880.1L1235.5,880.1L1239.3,880.2L1243.1,880.3L1247,880.4L1250.8,880.5L1254.7,880.6L1258.5,880.7L1262.4,880.8L1266.2,880.9L1270.1,881.1L1273.9,881.2L1277.7,881.3L1281.6,881.4L1285.4,881.5L1289.3,881.6L1293.1,881.7L1297,881.8L1300.8,881.9L1304.7,882L1308.5,882.1L1312.3,882.2L1316.2,882.3L1320,882.4L1323.9,882.5L1327.7,882.6L1331.6,882.7L1335.4,882.7L1339.3,882.8L1343.1,883L1346.9,883.1L1350.8,883.2L1354.6,883.3L1358.5,883.4L1362.3,883.5L1366.2,883.6L1370,883.7L1373.8,883.8L1377.7,883.9L1381.5,884L1385.4,884.1L1389.2,884.2L1393.1,884.3L1396.9,884.4L1400.8,884.5L1404.6,884.6L1408.4,884.7L1412.3,884.7L1416.1,884.8L1420,884.9L1423.8,885L1427.7,885.1L1431.5,885.2L1435.4,885.3L1439.2,885.4" fill="none" stroke="#f40000" stroke-width="2.0" stroke-linejoin="round" stroke-linecap="butt"/>
<path d="M1093.2,853L1097.1,861.7L1100.9,865.4L1104.8,868.7L1108.6,869.1L1112.4,869.6L1116.3,869.9L1120.1,870.2L1124,870.5L1127.8,871.1L1131.7,871.6L1135.5,872.2L1139.4,872.7L1143.2,873.2L1147,873.6L1150.9,873.9L1154.7,874.3L1158.6,874.6L1162.4,874.9L1166.3,875.3L1170.1,875.6L1173.9,875.9L1177.8,876.3L1181.6,876.5L1185.5,876.8L1189.3,877.1L1193.2,877.4L1197,877.7L1200.9,878L1204.7,878.3L1208.5,878.6L1212.4,878.9L1216.2,879.1L1220.1,879.4L1223.9,879.6L1227.8,879.7L1231.6,879.8L1235.5,879.9L1239.3,880L1243.1,880L1247,880.1L1250.8,880.2L1254.7,880.2L1258.5,880.3L1262.4,880.4L1266.2,880.5L1270.1,880.6L1273.9,880.7L1277.7,880.8L1281.6,880.9L1285.4,881.1L1289.3,881.2L1293.1,881.3L1297,881.4L1300.8,881.6L1304.7,881.7L1308.5,881.8L1312.3,881.9L1316.2,882L1320,882.1L1323.9,882.1L1327.7,882.2L1331.6,882.3L1335.4,882.3L1339.3,882.4L1343.1,882.5L1346.9,882.6L1350.8,882.7L1354.6,882.8L1358.5,882.9L1362.3,883L1366.2,883.1L1370,883.2L1373.8,883.3L1377.7,883.5L1381.5,883.6L1385.4,883.7L1389.2,883.8L1393.1,883.9L1396.9,884L1400.8,884.1L1404.6,884.2L1408.4,884.3L1412.3,884.4L1416.1,884.4L1420,884.5L1423.8,884.6L1427.7,884.6L1431.5,884.7L1435.4,884.8L1439.2,884.9" fill="none" stroke="#f40000" stroke-width="2.0" stroke-linejoin="round" stroke-linecap="butt"/>
<path d="M1093.2,852.9L1097.1,861.6L1100.9,865.2L1104.8,868.4L1108.6,868.9L1112.4,869.4L1116.3,869.8L1120.1,870.2L1124,870.6L1127.8,871.2L1131.7,871.7L1135.5,872.3L1139.4,872.8L1143.2,873.2L1147,873.6L1150.9,873.8L1154.7,874.1L1158.6,874.3L1162.4,874.5L1166.3,874.8L1170.1,875.1L1173.9,875.4L1177.8,875.7L1181.6,876L1185.5,876.3L1189.3,876.6L1193.2,877L1197,877.3L1200.9,877.7L1204.7,878.1L1208.5,878.4L1212.4,878.8L1216.2,879.1L1220.1,879.4L1223.9,879.6L1227.8,879.7L1231.6,879.7L1235.5,879.7L1239.3,879.7L1243.1,879.7L1247,879.6L1250.8,879.6L1254.7,879.6L1258.5,879.7L1262.4,879.7L1266.2,879.8L1270.1,879.9L1273.9,880.1L1277.7,880.2L1281.6,880.4L1285.4,880.6L1289.3,880.9L1293.1,881.1L1297,881.3L1300.8,881.4L1304.7,881.6L1308.5,881.7L1312.3,881.8L1316.2,881.8L1320,881.8L1323.9,881.8L1327.7,881.8L1331.6,881.8L1335.4,881.8L1339.3,881.8L1343.1,881.8L1346.9,881.9L1350.8,881.9L1354.6,882L1358.5,882.2L1362.3,882.3L1366.2,882.5L1370,882.7L1373.8,882.9L1377.7,883.1L1381.5,883.3L1385.4,883.5L1389.2,883.6L1393.1,883.8L1396.9,883.9L1400.8,883.9L1404.6,884L1408.4,884L1412.3,884L1416.1,884L1420,884L1423.8,884L1427.7,884L1431.5,884L1435.4,884L1439.2,884.1" fill="none" stroke="#f40000" stroke-width="2.0" stroke-linejoin="round" stroke-linecap="butt"/>
<path d="M1093.2,852.9L1097.1,861.5L1100.9,865L1104.8,868.1L1108.6,868.6L1112.4,869.1L1116.3,869.5L1120.1,869.8L1124,870.2L1127.8,870.9L1131.7,871.5L1135.5,872L1139.4,872.6L1143.2,873.1L1147,873.5L1150.9,873.8L1154.7,874L1158.6,874.3L1162.4,874.5L1166.3,874.7L1170.1,874.9L1173.9,875.2L1177.8,875.5L1181.6,875.7L1185.5,875.9L1189.3,876.2L1193.2,876.5L1197,876.8L1200.9,877.2L1204.7,877.6L1208.5,877.9L1212.4,878.3L1216.2,878.7L1220.1,879L1223.9,879.3L1227.8,879.4L1231.6,879.5L1235.5,879.5L1239.3,879.5L1243.1,879.5L1247,879.5L1250.8,879.5L1254.7,879.4L1258.5,879.4L1262.4,879.4L1266.2,879.4L1270.1,879.5L1273.9,879.6L1277.7,879.7L1281.6,879.9L1285.4,880L1289.3,880.3L1293.1,880.5L1297,880.7L1300.8,880.9L1304.7,881.1L1308.5,881.3L1312.3,881.4L1316.2,881.5L1320,881.6L1323.9,881.6L1327.7,881.6L1331.6,881.6L1335.4,881.6L1339.3,881.6L1343.1,881.5L1346.9,881.5L1350.8,881.5L1354.6,881.6L1358.5,881.6L1362.3,881.7L1366.2,881.9L1370,882L1373.8,882.2L1377.7,882.4L1381.5,882.7L1385.4,882.9L1389.2,883.1L1393.1,883.3L1396.9,883.4L1400.8,883.5L1404.6,883.6L1408.4,883.7L1412.3,883.7L1416.1,883.7L1420,883.7L1423.8,883.7L1427.7,883.7L1431.5,883.6L1435.4,883.6L1439.2,883.6" fill="none" stroke="#f40000" stroke-width="2.0" stroke-linejoin="round" stroke-linecap="butt"/>
<path d="M1093.2,852.9L1097.1,861.6L1100.9,865.2L1104.8,868.4L1108.6,868.7L1112.4,869.1L1116.3,869.4L1120.1,869.6L1124,869.9L1127.8,870.4L1131.7,870.9L1135.5,871.4L1139.4,871.9L1143.2,872.4L1147,872.8L1150.9,873.2L1154.7,873.5L1158.6,873.9L1162.4,874.2L1166.3,874.6L1170.1,874.9L1173.9,875.3L1177.8,875.6L1181.6,875.8L1185.5,876.1L1189.3,876.3L1193.2,876.6L1197,876.8L1200.9,877.1L1204.7,877.3L1208.5,877.6L1212.4,877.8L1216.2,878.1L1220.1,878.3L1223.9,878.5L1227.8,878.6L1231.6,878.7L1235.5,878.8L1239.3,878.9L1243.1,879L1247,879.1L1250.8,879.1L1254.7,879.2L1258.5,879.3L1262.4,879.4L1266.2,879.5L1270.1,879.6L1273.9,879.7L1277.7,879.7L1281.6,879.8L1285.4,879.9L1289.3,880L1293.1,880.1L1297,880.2L1300.8,880.3L1304.7,880.3L1308.5,880.4L1312.3,880.5L1316.2,880.6L1320,880.7L1323.9,880.8L1327.7,880.9L1331.6,881L1335.4,881.1L1339.3,881.2L1343.1,881.3L1346.9,881.4L1350.8,881.5L1354.6,881.6L1358.5,881.7L1362.3,881.7L1366.2,881.8L1370,881.9L1373.8,882L1377.7,882.1L1381.5,882.2L1385.4,882.3L1389.2,882.4L1393.1,882.4L1396.9,882.5L1400.8,882.6L1404.6,882.7L1408.4,882.8L1412.3,882.9L1416.1,883L1420,883.1L1423.8,883.2L1427.7,883.3L1431.5,883.4L1435.4,883.5L1439.2,883.6" fill="none" stroke="#f40000" stroke-width="2.0" stroke-linejoin="round" stroke-linecap="butt"/>
<path d="M1093.2,852.9L1097.1,861.5L1100.9,865.1L1104.8,868.2L1108.6,868.7L1112.4,869.1L1116.3,869.4L1120.1,869.7L1124,870L1127.8,870.5L1131.7,870.9L1135.5,871.4L1139.4,871.9L1143.2,872.3L1147,872.6L1150.9,872.9L1154.7,873.2L1158.6,873.5L1162.4,873.7L1166.3,874.1L1170.1,874.4L1173.9,874.7L1177.8,875.1L1181.6,875.4L1185.5,875.7L1189.3,876L1193.2,876.3L1197,876.6L1200.9,876.9L1204.7,877.2L1208.5,877.5L1212.4,877.8L1216.2,878L1220.1,878.2L1223.9,878.4L1227.8,878.4L1231.6,878.4L1235.5,878.4L1239.3,878.4L1243.1,878.5L1247,878.5L1250.8,878.5L1254.7,878.6L1258.5,878.7L1262.4,878.8L1266.2,878.9L1270.1,879L1273.9,879.2L1277.7,879.3L1281.6,879.5L1285.4,879.6L1289.3,879.8L1293.1,879.9L1297,880L1300.8,880.1L1304.7,880.2L1308.5,880.3L1312.3,880.3L1316.2,880.3L1320,880.4L1323.9,880.4L1327.7,880.4L1331.6,880.4L1335.4,880.5L1339.3,880.5L1343.1,880.6L1346.9,880.7L1350.8,880.8L1354.6,880.9L1358.5,881.1L1362.3,881.2L1366.2,881.4L1370,881.6L1373.8,881.7L1377.7,881.8L1381.5,882L1385.4,882.1L1389.2,882.2L1393.1,882.2L1396.9,882.3L1400.8,882.3L1404.6,882.4L1408.4,882.4L1412.3,882.4L1416.1,882.4L1420,882.5L1423.8,882.5L1427.7,882.6L1431.5,882.7L1435.4,882.8L1439.2,882.9" fill="none" stroke="#f40000" stroke-width="2.0" stroke-linejoin="round" stroke-linecap="butt"/>
<path d="M1093.2,852.9L1097.1,861.5L1100.9,864.9L1104.8,867.9L1108.6,868.3L1112.4,868.6L1116.3,868.9L1120.1,869.1L1124,869.4L1127.8,869.9L1131.7,870.5L1135.5,871L1139.4,871.6L1143.2,872.1L1147,872.6L1150.9,872.9L1154.7,873.3L1158.6,873.6L1162.4,873.9L1166.3,874.2L1170.1,874.5L1173.9,874.8L1177.8,875L1181.6,875.2L1185.5,875.4L1189.3,875.6L1193.2,875.8L1197,876L1200.9,876.3L1204.7,876.5L1208.5,876.8L1212.4,877.1L1216.2,877.4L1220.1,877.7L1223.9,877.9L1227.8,878L1231.6,878.2L1235.5,878.3L1239.3,878.4L1243.1,878.5L1247,878.5L1250.8,878.6L1254.7,878.6L1258.5,878.6L1262.4,878.7L1266.2,878.7L1270.1,878.7L1273.9,878.7L1277.7,878.8L1281.6,878.8L1285.4,878.9L1289.3,879L1293.1,879.1L1297,879.2L1300.8,879.4L1304.7,879.5L1308.5,879.7L1312.3,879.8L1316.2,879.9L1320,880.1L1323.9,880.2L1327.7,880.3L1331.6,880.4L1335.4,880.5L1339.3,880.5L1343.1,880.6L1346.9,880.6L1350.8,880.6L1354.6,880.6L1358.5,880.7L1362.3,880.7L1366.2,880.8L1370,880.8L1373.8,880.9L1377.7,881L1381.5,881.1L1385.4,881.2L1389.2,881.4L1393.1,881.5L1396.9,881.7L1400.8,881.8L1404.6,882L1408.4,882.1L1412.3,882.2L1416.1,882.3L1420,882.4L1423.8,882.5L1427.7,882.5L1431.5,882.6L1435.4,882.6L1439.2,882.6" fill="none" stroke="#f40000" stroke-width="2.0" stroke-linejoin="round" stroke-linecap="butt"/>
<path d="M1093.2,852.9L1097.1,861.5L1100.9,864.9L1104.8,868L1108.6,868.3L1112.4,868.7L1116.3,868.9L1120.1,869.1L1124,869.3L1127.8,869.8L1131.7,870.3L1135.5,870.8L1139.4,871.3L1143.2,871.8L1147,872.2L1150.9,872.5L1154.7,872.8L1158.6,873.2L1162.4,873.5L1166.3,873.8L1170.1,874.2L1173.9,874.5L1177.8,874.8L1181.6,875L1185.5,875.3L1189.3,875.5L1193.2,875.7L1197,875.9L1200.9,876.1L1204.7,876.4L1208.5,876.6L1212.4,876.8L1216.2,877.1L1220.1,877.3L1223.9,877.5L1227.8,877.6L1231.6,877.7L1235.5,877.7L1239.3,877.8L1243.1,877.9L1247,878L1250.8,878.1L1254.7,878.2L1258.5,878.2L1262.4,878.3L1266.2,878.4L1270.1,878.4L1273.9,878.5L1277.7,878.6L1281.6,878.6L1285.4,878.7L1289.3,878.8L1293.1,878.9L1297,878.9L1300.8,879L1304.7,879.1L1308.5,879.2L1312.3,879.3L1316.2,879.4L1320,879.5L1323.9,879.6L1327.7,879.7L1331.6,879.8L1335.4,879.9L1339.3,880L1343.1,880.1L1346.9,880.1L1350.8,880.2L1354.6,880.3L1358.5,880.4L1362.3,880.4L1366.2,880.5L1370,880.6L1373.8,880.7L1377.7,880.7L1381.5,880.8L1385.4,880.9L1389.2,881L1393.1,881.1L1396.9,881.2L1400.8,881.3L1404.6,881.4L1408.4,881.5L1412.3,881.6L1416.1,881.7L1420,881.8L1423.8,881.9L1427.7,882L1431.5,882L1435.4,882.1L1439.2,882.2" fill="none" stroke="#f40000" stroke-width="2.0" stroke-linejoin="round" stroke-linecap="butt"/>
<path d="M1093.2,852.9L1097.1,861.4L1100.9,864.9L1104.8,867.9L1108.6,868.3L1112.4,868.6L1116.3,868.8L1120.1,869L1124,869.2L1127.8,869.6L1131.7,870.1L1135.5,870.6L1139.4,871L1143.2,871.5L1147,871.9L1150.9,872.2L1154.7,872.5L1158.6,872.8L1162.4,873.2L1166.3,873.5L1170.1,873.8L1173.9,874.2L1177.8,874.5L1181.6,874.7L1185.5,875L1189.3,875.2L1193.2,875.5L1197,875.7L1200.9,875.9L1204.7,876.1L1208.5,876.4L1212.4,876.6L1216.2,876.8L1220.1,877L1223.9,877.2L1227.8,877.2L1231.6,877.3L1235.5,877.3L1239.3,877.4L1243.1,877.5L1247,877.6L1250.8,877.6L1254.7,877.7L1258.5,877.8L1262.4,877.9L1266.2,878L1270.1,878.1L1273.9,878.2L1277.7,878.2L1281.6,878.3L1285.4,878.4L1289.3,878.5L1293.1,878.6L1297,878.6L1300.8,878.7L1304.7,878.8L1308.5,878.8L1312.3,878.9L1316.2,879L1320,879L1323.9,879.1L1327.7,879.2L1331.6,879.3L1335.4,879.4L1339.3,879.5L1343.1,879.5L1346.9,879.6L1350.8,879.7L1354.6,879.8L1358.5,879.9L1362.3,880L1366.2,880.1L1370,880.2L1373.8,880.3L1377.7,880.4L1381.5,880.5L1385.4,880.5L1389.2,880.6L1393.1,880.7L1396.9,880.7L1400.8,880.8L1404.6,880.9L1408.4,881L1412.3,881L1416.1,881.1L1420,881.2L1423.8,881.3L1427.7,881.4L1431.5,881.5L1435.4,881.6L1439.2,881.7" fill="none" stroke="#f40000" stroke-width="2.0" stroke-linejoin="round" stroke-linecap="butt"/>
<path d="M1093.2,852.9L1097.1,861.5L1100.9,865L1104.8,868.1L1108.6,868.5L1112.4,868.9L1116.3,869L1120.1,869.1L1124,869.2L1127.8,869.6L1131.7,869.9L1135.5,870.3L1139.4,870.6L1143.2,871L1147,871.3L1150.9,871.6L1154.7,871.9L1158.6,872.2L1162.4,872.6L1166.3,873L1170.1,873.4L1173.9,873.9L1177.8,874.3L1181.6,874.6L1185.5,875L1189.3,875.3L1193.2,875.5L1197,875.8L1200.9,876L1204.7,876.2L1208.5,876.3L1212.4,876.4L1216.2,876.5L1220.1,876.6L1223.9,876.7L1227.8,876.7L1231.6,876.6L1235.5,876.6L1239.3,876.7L1243.1,876.7L1247,876.8L1250.8,877L1254.7,877.1L1258.5,877.3L1262.4,877.5L1266.2,877.7L1270.1,877.9L1273.9,878.1L1277.7,878.2L1281.6,878.3L1285.4,878.4L1289.3,878.5L1293.1,878.5L1297,878.5L1300.8,878.4L1304.7,878.4L1308.5,878.3L1312.3,878.3L1316.2,878.3L1320,878.3L1323.9,878.3L1327.7,878.4L1331.6,878.5L1335.4,878.6L1339.3,878.8L1343.1,878.9L1346.9,879.1L1350.8,879.3L1354.6,879.5L1358.5,879.7L1362.3,879.9L1366.2,880.1L1370,880.2L1373.8,880.2L1377.7,880.3L1381.5,880.3L1385.4,880.3L1389.2,880.3L1393.1,880.2L1396.9,880.2L1400.8,880.1L1404.6,880.1L1408.4,880.1L1412.3,880.2L1416.1,880.3L1420,880.4L1423.8,880.5L1427.7,880.7L1431.5,880.9L1435.4,881.1L1439.2,881.3" fill="none" stroke="#f40000" stroke-width="2.0" stroke-linejoin="round" stroke-linecap="butt"/>
<path d="M1093.2,852.9L1097.1,861.3L1100.9,864.7L1104.8,867.6L1108.6,867.9L1112.4,868.3L1116.3,868.5L1120.1,868.6L1124,868.8L1127.8,869.3L1131.7,869.7L1135.5,870.2L1139.4,870.6L1143.2,871.1L1147,871.5L1150.9,871.8L1154.7,872.1L1158.6,872.4L1162.4,872.7L1166.3,873L1170.1,873.3L1173.9,873.6L1177.8,873.9L1181.6,874.2L1185.5,874.4L1189.3,874.6L1193.2,874.8L1197,875L1200.9,875.3L1204.7,875.5L1208.5,875.7L1212.4,875.9L1216.2,876.1L1220.1,876.4L1223.9,876.5L1227.8,876.6L1231.6,876.7L1235.5,876.7L1239.3,876.8L1243.1,876.8L1247,876.9L1250.8,877L1254.7,877L1258.5,877.1L1262.4,877.1L1266.2,877.2L1270.1,877.3L1273.9,877.3L1277.7,877.4L1281.6,877.5L1285.4,877.6L1289.3,877.6L1293.1,877.7L1297,877.8L1300.8,877.9L1304.7,878L1308.5,878L1312.3,878.1L1316.2,878.2L1320,878.3L1323.9,878.3L1327.7,878.4L1331.6,878.5L1335.4,878.6L1339.3,878.6L1343.1,878.7L1346.9,878.8L1350.8,878.9L1354.6,878.9L1358.5,879L1362.3,879.1L1366.2,879.2L1370,879.3L1373.8,879.4L1377.7,879.4L1381.5,879.5L1385.4,879.6L1389.2,879.7L1393.1,879.8L1396.9,879.9L1400.8,879.9L1404.6,880L1408.4,880.1L1412.3,880.2L1416.1,880.3L1420,880.3L1423.8,880.4L1427.7,880.5L1431.5,880.6L1435.4,880.7L1439.2,880.8" fill="none" stroke="#f40000" stroke-width="2.0" stroke-linejoin="round" stroke-linecap="butt"/>
<path d="M1093.2,852.9L1097.1,861.2L1100.9,864.5L1104.8,867.2L1108.6,867.5L1112.4,867.9L1116.3,868.1L1120.1,868.3L1124,868.5L1127.8,869L1131.7,869.6L1135.5,870.1L1139.4,870.6L1143.2,871.1L1147,871.5L1150.9,871.8L1154.7,872.1L1158.6,872.4L1162.4,872.6L1166.3,872.9L1170.1,873.1L1173.9,873.3L1177.8,873.6L1181.6,873.7L1185.5,873.9L1189.3,874.1L1193.2,874.3L1197,874.5L1200.9,874.7L1204.7,875L1208.5,875.2L1212.4,875.5L1216.2,875.8L1220.1,876.1L1223.9,876.3L1227.8,876.5L1231.6,876.6L1235.5,876.6L1239.3,876.7L1243.1,876.7L1247,876.8L1250.8,876.8L1254.7,876.8L1258.5,876.7L1262.4,876.7L1266.2,876.7L1270.1,876.7L1273.9,876.7L1277.7,876.8L1281.6,876.8L1285.4,876.9L1289.3,877L1293.1,877.1L1297,877.3L1300.8,877.4L1304.7,877.6L1308.5,877.7L1312.3,877.9L1316.2,878L1320,878.1L1323.9,878.2L1327.7,878.3L1331.6,878.3L1335.4,878.3L1339.3,878.4L1343.1,878.4L1346.9,878.4L1350.8,878.4L1354.6,878.4L1358.5,878.4L1362.3,878.4L1366.2,878.5L1370,878.6L1373.8,878.7L1377.7,878.8L1381.5,878.9L1385.4,879.1L1389.2,879.2L1393.1,879.4L1396.9,879.5L1400.8,879.7L1404.6,879.8L1408.4,879.9L1412.3,880L1416.1,880.1L1420,880.1L1423.8,880.1L1427.7,880.2L1431.5,880.2L1435.4,880.2L1439.2,880.2" fill="none" stroke="#f40000" stroke-width="2.0" stroke-linejoin="round" stroke-linecap="butt"/>
<path d="M1093.2,852.9L1097.1,861.3L1100.9,864.5L1104.8,867.3L1108.6,867.6L1112.4,867.9L1116.3,868.1L1120.1,868.3L1124,868.4L1127.8,868.8L1131.7,869.3L1135.5,869.8L1139.4,870.2L1143.2,870.7L1147,871L1150.9,871.3L1154.7,871.6L1158.6,871.9L1162.4,872.2L1166.3,872.5L1170.1,872.8L1173.9,873.1L1177.8,873.4L1181.6,873.6L1185.5,873.8L1189.3,874L1193.2,874.2L1197,874.4L1200.9,874.6L1204.7,874.8L1208.5,875L1212.4,875.3L1216.2,875.5L1220.1,875.7L1223.9,875.9L1227.8,875.9L1231.6,876L1235.5,876.1L1239.3,876.1L1243.1,876.2L1247,876.2L1250.8,876.3L1254.7,876.3L1258.5,876.4L1262.4,876.4L1266.2,876.4L1270.1,876.5L1273.9,876.6L1277.7,876.6L1281.6,876.7L1285.4,876.7L1289.3,876.8L1293.1,876.9L1297,877L1300.8,877.1L1304.7,877.1L1308.5,877.2L1312.3,877.3L1316.2,877.4L1320,877.5L1323.9,877.5L1327.7,877.6L1331.6,877.7L1335.4,877.8L1339.3,877.8L1343.1,877.9L1346.9,877.9L1350.8,878L1354.6,878.1L1358.5,878.1L1362.3,878.2L1366.2,878.3L1370,878.3L1373.8,878.4L1377.7,878.5L1381.5,878.6L1385.4,878.7L1389.2,878.8L1393.1,878.9L1396.9,878.9L1400.8,879L1404.6,879.1L1408.4,879.2L1412.3,879.3L1416.1,879.4L1420,879.5L1423.8,879.5L1427.7,879.6L1431.5,879.7L1435.4,879.8L1439.2,879.8" fill="none" stroke="#f40000" stroke-width="2.0" stroke-linejoin="round" stroke-linecap="butt"/>
<path d="M1093.2,852.9L1097.1,861.2L1100.9,864.6L1104.8,867.5L1108.6,867.9L1112.4,868.3L1116.3,868.5L1120.1,868.6L1124,868.6L1127.8,869L1131.7,869.3L1135.5,869.6L1139.4,870L1143.2,870.3L1147,870.5L1150.9,870.7L1154.7,870.9L1158.6,871.2L1162.4,871.5L1166.3,871.8L1170.1,872.2L1173.9,872.6L1177.8,873L1181.6,873.3L1185.5,873.7L1189.3,874L1193.2,874.3L1197,874.6L1200.9,874.8L1204.7,875L1208.5,875.2L1212.4,875.3L1216.2,875.5L1220.1,875.6L1223.9,875.6L1227.8,875.5L1231.6,875.4L1235.5,875.4L1239.3,875.3L1243.1,875.3L1247,875.4L1250.8,875.4L1254.7,875.5L1258.5,875.6L1262.4,875.8L1266.2,876L1270.1,876.2L1273.9,876.4L1277.7,876.5L1281.6,876.7L1285.4,876.8L1289.3,876.9L1293.1,877L1297,877L1300.8,877L1304.7,877L1308.5,876.9L1312.3,876.9L1316.2,876.8L1320,876.8L1323.9,876.7L1327.7,876.7L1331.6,876.8L1335.4,876.8L1339.3,876.9L1343.1,877.1L1346.9,877.2L1350.8,877.4L1354.6,877.6L1358.5,877.8L1362.3,878L1366.2,878.2L1370,878.3L1373.8,878.5L1377.7,878.6L1381.5,878.6L1385.4,878.7L1389.2,878.7L1393.1,878.6L1396.9,878.6L1400.8,878.5L1404.6,878.5L1408.4,878.5L1412.3,878.4L1416.1,878.5L1420,878.5L1423.8,878.6L1427.7,878.7L1431.5,878.8L1435.4,879L1439.2,879.2" fill="none" stroke="#f40000" stroke-width="2.0" stroke-linejoin="round" stroke-linecap="butt"/>
<path d="M1093.2,852.8L1097.1,861.2L1100.9,864.4L1104.8,867.1L1108.6,867.5L1112.4,867.8L1116.3,868L1120.1,868.1L1124,868.3L1127.8,868.7L1131.7,869.1L1135.5,869.5L1139.4,869.8L1143.2,870.2L1147,870.5L1150.9,870.7L1154.7,871L1158.6,871.2L1162.4,871.5L1166.3,871.8L1170.1,872.1L1173.9,872.4L1177.8,872.7L1181.6,873L1185.5,873.2L1189.3,873.5L1193.2,873.7L1197,874L1200.9,874.2L1204.7,874.4L1208.5,874.7L1212.4,874.9L1216.2,875L1220.1,875.2L1223.9,875.3L1227.8,875.3L1231.6,875.3L1235.5,875.3L1239.3,875.3L1243.1,875.3L1247,875.3L1250.8,875.3L1254.7,875.4L1258.5,875.4L1262.4,875.5L1266.2,875.6L1270.1,875.7L1273.9,875.8L1277.7,875.9L1281.6,876L1285.4,876.1L1289.3,876.2L1293.1,876.3L1297,876.4L1300.8,876.5L1304.7,876.5L1308.5,876.5L1312.3,876.6L1316.2,876.6L1320,876.6L1323.9,876.6L1327.7,876.6L1331.6,876.6L1335.4,876.7L1339.3,876.7L1343.1,876.8L1346.9,876.9L1350.8,877L1354.6,877.1L1358.5,877.2L1362.3,877.4L1366.2,877.5L1370,877.6L1373.8,877.7L1377.7,877.8L1381.5,877.9L1385.4,878L1389.2,878.1L1393.1,878.1L1396.9,878.2L1400.8,878.2L1404.6,878.2L1408.4,878.2L1412.3,878.3L1416.1,878.3L1420,878.3L1423.8,878.4L1427.7,878.5L1431.5,878.5L1435.4,878.6L1439.2,878.7" fill="none" stroke="#f40000" stroke-width="2.0" stroke-linejoin="round" stroke-linecap="butt"/>
<path d="M1093.2,852.8L1097.1,861.2L1100.9,864.3L1104.8,867L1108.6,867.3L1112.4,867.6L1116.3,867.7L1120.1,867.8L1124,867.9L1127.8,868.3L1131.7,868.7L1135.5,869.1L1139.4,869.5L1143.2,869.9L1147,870.3L1150.9,870.5L1154.7,870.8L1158.6,871.1L1162.4,871.4L1166.3,871.7L1170.1,872L1173.9,872.3L1177.8,872.6L1181.6,872.8L1185.5,873L1189.3,873.2L1193.2,873.4L1197,873.6L1200.9,873.8L1204.7,874L1208.5,874.2L1212.4,874.3L1216.2,874.5L1220.1,874.7L1223.9,874.8L1227.8,874.9L1231.6,874.9L1235.5,874.9L1239.3,875L1243.1,875L1247,875.1L1250.8,875.1L1254.7,875.2L1258.5,875.2L1262.4,875.3L1266.2,875.3L1270.1,875.4L1273.9,875.5L1277.7,875.5L1281.6,875.6L1285.4,875.7L1289.3,875.7L1293.1,875.8L1297,875.8L1300.8,875.9L1304.7,875.9L1308.5,876L1312.3,876L1316.2,876.1L1320,876.1L1323.9,876.2L1327.7,876.3L1331.6,876.3L1335.4,876.4L1339.3,876.5L1343.1,876.6L1346.9,876.6L1350.8,876.7L1354.6,876.8L1358.5,876.9L1362.3,877L1366.2,877L1370,877.1L1373.8,877.2L1377.7,877.2L1381.5,877.3L1385.4,877.4L1389.2,877.4L1393.1,877.5L1396.9,877.6L1400.8,877.6L1404.6,877.7L1408.4,877.8L1412.3,877.8L1416.1,877.9L1420,878L1423.8,878.1L1427.7,878.2L1431.5,878.3L1435.4,878.4L1439.2,878.4" fill="none" stroke="#f40000" stroke-width="2.0" stroke-linejoin="round" stroke-linecap="butt"/>
<path d="M1093.2,852.8L1097.1,861.1L1100.9,864.2L1104.8,866.9L1108.6,867.2L1112.4,867.5L1116.3,867.6L1120.1,867.7L1124,867.7L1127.8,868.1L1131.7,868.5L1135.5,868.9L1139.4,869.3L1143.2,869.7L1147,870L1150.9,870.3L1154.7,870.6L1158.6,870.8L1162.4,871.1L1166.3,871.4L1170.1,871.7L1173.9,872L1177.8,872.3L1181.6,872.5L1185.5,872.8L1189.3,873L1193.2,873.2L1197,873.3L1200.9,873.5L1204.7,873.7L1208.5,873.9L1212.4,874.1L1216.2,874.2L1220.1,874.4L1223.9,874.5L1227.8,874.5L1231.6,874.5L1235.5,874.6L1239.3,874.6L1243.1,874.6L1247,874.7L1250.8,874.7L1254.7,874.8L1258.5,874.8L1262.4,874.9L1266.2,875L1270.1,875L1273.9,875.1L1277.7,875.2L1281.6,875.3L1285.4,875.3L1289.3,875.4L1293.1,875.4L1297,875.5L1300.8,875.5L1304.7,875.5L1308.5,875.6L1312.3,875.6L1316.2,875.7L1320,875.7L1323.9,875.8L1327.7,875.8L1331.6,875.9L1335.4,875.9L1339.3,876L1343.1,876.1L1346.9,876.2L1350.8,876.3L1354.6,876.4L1358.5,876.5L1362.3,876.5L1366.2,876.6L1370,876.7L1373.8,876.8L1377.7,876.8L1381.5,876.9L1385.4,877L1389.2,877L1393.1,877.1L1396.9,877.1L1400.8,877.2L1404.6,877.2L1408.4,877.3L1412.3,877.3L1416.1,877.4L1420,877.5L1423.8,877.6L1427.7,877.7L1431.5,877.8L1435.4,877.9L1439.2,878" fill="none" stroke="#f40000" stroke-width="2.0" stroke-linejoin="round" stroke-linecap="butt"/>
<path d="M1093.2,852.8L1097.1,861.2L1100.9,864.4L1104.8,867.1L1108.6,867.5L1112.4,867.7L1116.3,867.8L1120.1,867.7L1124,867.7L1127.8,867.9L1131.7,868.2L1135.5,868.5L1139.4,868.8L1143.2,869.1L1147,869.4L1150.9,869.6L1154.7,869.9L1158.6,870.3L1162.4,870.6L1166.3,871L1170.1,871.4L1173.9,871.8L1177.8,872.2L1181.6,872.5L1185.5,872.8L1189.3,873L1193.2,873.3L1197,873.4L1200.9,873.6L1204.7,873.7L1208.5,873.8L1212.4,873.8L1216.2,873.9L1220.1,873.9L1223.9,873.9L1227.8,873.9L1231.6,873.8L1235.5,873.8L1239.3,873.9L1243.1,873.9L1247,874L1250.8,874.1L1254.7,874.3L1258.5,874.5L1262.4,874.6L1266.2,874.8L1270.1,874.9L1273.9,875.1L1277.7,875.2L1281.6,875.3L1285.4,875.3L1289.3,875.3L1293.1,875.3L1297,875.2L1300.8,875.2L1304.7,875.1L1308.5,875L1312.3,875L1316.2,874.9L1320,874.9L1323.9,874.9L1327.7,875L1331.6,875.1L1335.4,875.2L1339.3,875.4L1343.1,875.6L1346.9,875.8L1350.8,876L1354.6,876.2L1358.5,876.3L1362.3,876.5L1366.2,876.6L1370,876.7L1373.8,876.7L1377.7,876.7L1381.5,876.7L1385.4,876.6L1389.2,876.6L1393.1,876.5L1396.9,876.5L1400.8,876.4L1404.6,876.4L1408.4,876.4L1412.3,876.5L1416.1,876.6L1420,876.7L1423.8,876.9L1427.7,877L1431.5,877.2L1435.4,877.5L1439.2,877.7" fill="none" stroke="#f40000" stroke-width="2.0" stroke-linejoin="round" stroke-linecap="butt"/>
<path d="M1093.2,852.8L1097.1,861L1100.9,863.9L1104.8,866.4L1108.6,866.6L1112.4,866.9L1116.3,867L1120.1,867.1L1124,867.2L1127.8,867.6L1131.7,868.1L1135.5,868.6L1139.4,869L1143.2,869.5L1147,869.9L1150.9,870.2L1154.7,870.4L1158.6,870.7L1162.4,870.9L1166.3,871.1L1170.1,871.3L1173.9,871.5L1177.8,871.7L1181.6,871.8L1185.5,871.9L1189.3,872.1L1193.2,872.2L1197,872.4L1200.9,872.6L1204.7,872.8L1208.5,873L1212.4,873.3L1216.2,873.5L1220.1,873.8L1223.9,874L1227.8,874.1L1231.6,874.2L1235.5,874.2L1239.3,874.3L1243.1,874.3L1247,874.3L1250.8,874.3L1254.7,874.2L1258.5,874.2L1262.4,874.2L1266.2,874.1L1270.1,874.1L1273.9,874.1L1277.7,874.1L1281.6,874.1L1285.4,874.2L1289.3,874.2L1293.1,874.3L1297,874.4L1300.8,874.6L1304.7,874.7L1308.5,874.8L1312.3,875L1316.2,875.1L1320,875.2L1323.9,875.3L1327.7,875.3L1331.6,875.4L1335.4,875.4L1339.3,875.4L1343.1,875.4L1346.9,875.4L1350.8,875.4L1354.6,875.4L1358.5,875.4L1362.3,875.4L1366.2,875.4L1370,875.5L1373.8,875.5L1377.7,875.6L1381.5,875.7L1385.4,875.9L1389.2,876L1393.1,876.2L1396.9,876.3L1400.8,876.5L1404.6,876.6L1408.4,876.7L1412.3,876.8L1416.1,876.9L1420,876.9L1423.8,876.9L1427.7,877L1431.5,877L1435.4,877L1439.2,877" fill="none" stroke="#f40000" stroke-width="2.0" stroke-linejoin="round" stroke-linecap="butt"/>
<path d="M1093.2,852.8L1097.1,861L1100.9,864L1104.8,866.5L1108.6,866.8L1112.4,867.1L1116.3,867.1L1120.1,867.1L1124,867.2L1127.8,867.5L1131.7,867.9L1135.5,868.3L1139.4,868.6L1143.2,869L1147,869.3L1150.9,869.6L1154.7,869.8L1158.6,870.1L1162.4,870.4L1166.3,870.7L1170.1,871L1173.9,871.2L1177.8,871.5L1181.6,871.7L1185.5,871.9L1189.3,872.1L1193.2,872.3L1197,872.4L1200.9,872.6L1204.7,872.8L1208.5,872.9L1212.4,873.1L1216.2,873.2L1220.1,873.4L1223.9,873.5L1227.8,873.5L1231.6,873.5L1235.5,873.5L1239.3,873.6L1243.1,873.6L1247,873.6L1250.8,873.7L1254.7,873.7L1258.5,873.7L1262.4,873.8L1266.2,873.8L1270.1,873.9L1273.9,874L1277.7,874L1281.6,874.1L1285.4,874.1L1289.3,874.2L1293.1,874.2L1297,874.3L1300.8,874.3L1304.7,874.3L1308.5,874.4L1312.3,874.4L1316.2,874.4L1320,874.5L1323.9,874.5L1327.7,874.6L1331.6,874.6L1335.4,874.7L1339.3,874.8L1343.1,874.8L1346.9,874.9L1350.8,875L1354.6,875.1L1358.5,875.1L1362.3,875.2L1366.2,875.3L1370,875.4L1373.8,875.4L1377.7,875.5L1381.5,875.6L1385.4,875.6L1389.2,875.7L1393.1,875.7L1396.9,875.7L1400.8,875.8L1404.6,875.9L1408.4,875.9L1412.3,876L1416.1,876.1L1420,876.1L1423.8,876.2L1427.7,876.3L1431.5,876.4L1435.4,876.5L1439.2,876.6" fill="none" stroke="#f40000" stroke-width="2.0" stroke-linejoin="round" stroke-linecap="butt"/>
<path d="M1093.2,852.8L1097.1,860.8L1100.9,863.6L1104.8,866.1L1108.6,866.4L1112.4,866.8L1116.3,867L1120.1,867.1L1124,867.3L1127.8,867.7L1131.7,868.2L1135.5,868.6L1139.4,868.9L1143.2,869.3L1147,869.5L1150.9,869.6L1154.7,869.8L1158.6,869.9L1162.4,870L1166.3,870.2L1170.1,870.3L1173.9,870.5L1177.8,870.7L1181.6,870.9L1185.5,871.1L1189.3,871.4L1193.2,871.6L1197,871.9L1200.9,872.2L1204.7,872.5L1208.5,872.8L1212.4,873.1L1216.2,873.4L1220.1,873.6L1223.9,873.7L1227.8,873.7L1231.6,873.6L1235.5,873.6L1239.3,873.5L1243.1,873.4L1247,873.2L1250.8,873.1L1254.7,873L1258.5,873L1262.4,872.9L1266.2,872.9L1270.1,873L1273.9,873.1L1277.7,873.2L1281.6,873.4L1285.4,873.6L1289.3,873.8L1293.1,873.9L1297,874.1L1300.8,874.3L1304.7,874.4L1308.5,874.5L1312.3,874.5L1316.2,874.5L1320,874.5L1323.9,874.4L1327.7,874.4L1331.6,874.3L1335.4,874.2L1339.3,874.1L1343.1,874.1L1346.9,874L1350.8,874L1354.6,874.1L1358.5,874.2L1362.3,874.3L1366.2,874.5L1370,874.7L1373.8,874.9L1377.7,875.1L1381.5,875.3L1385.4,875.5L1389.2,875.6L1393.1,875.7L1396.9,875.8L1400.8,875.9L1404.6,875.9L1408.4,875.9L1412.3,875.8L1416.1,875.8L1420,875.7L1423.8,875.6L1427.7,875.6L1431.5,875.5L1435.4,875.5L1439.2,875.6" fill="none" stroke="#f40000" stroke-width="2.0" stroke-linejoin="round" stroke-linecap="butt"/>
<path d="M1093.2,852.8L1097.1,860.9L1100.9,863.8L1104.8,866.2L1108.6,866.4L1112.4,866.6L1116.3,866.7L1120.1,866.7L1124,866.7L1127.8,867.1L1131.7,867.5L1135.5,867.9L1139.4,868.2L1143.2,868.6L1147,868.9L1150.9,869.2L1154.7,869.5L1158.6,869.7L1162.4,870L1166.3,870.3L1170.1,870.5L1173.9,870.7L1177.8,871L1181.6,871.1L1185.5,871.3L1189.3,871.4L1193.2,871.6L1197,871.7L1200.9,871.9L1204.7,872L1208.5,872.2L1212.4,872.4L1216.2,872.6L1220.1,872.7L1223.9,872.9L1227.8,872.9L1231.6,872.9L1235.5,873L1239.3,873L1243.1,873L1247,873L1250.8,873L1254.7,873.1L1258.5,873.1L1262.4,873.1L1266.2,873.1L1270.1,873.1L1273.9,873.1L1277.7,873.2L1281.6,873.2L1285.4,873.2L1289.3,873.3L1293.1,873.3L1297,873.4L1300.8,873.4L1304.7,873.5L1308.5,873.5L1312.3,873.6L1316.2,873.7L1320,873.7L1323.9,873.8L1327.7,873.9L1331.6,873.9L1335.4,874L1339.3,874L1343.1,874.1L1346.9,874.1L1350.8,874.1L1354.6,874.2L1358.5,874.2L1362.3,874.3L1366.2,874.3L1370,874.4L1373.8,874.4L1377.7,874.5L1381.5,874.6L1385.4,874.6L1389.2,874.7L1393.1,874.8L1396.9,874.9L1400.8,874.9L1404.6,875L1408.4,875.1L1412.3,875.2L1416.1,875.3L1420,875.3L1423.8,875.4L1427.7,875.5L1431.5,875.5L1435.4,875.6L1439.2,875.6" fill="none" stroke="#f40000" stroke-width="2.0" stroke-linejoin="round" stroke-linecap="butt"/>
<path d="M1093.2,852.8L1097.1,861L1100.9,864L1104.8,866.5L1108.6,866.7L1112.4,866.8L1116.3,866.8L1120.1,866.6L1124,866.5L1127.8,866.7L1131.7,867L1135.5,867.3L1139.4,867.6L1143.2,867.9L1147,868.2L1150.9,868.5L1154.7,868.9L1158.6,869.2L1162.4,869.6L1166.3,870L1170.1,870.4L1173.9,870.7L1177.8,871.1L1181.6,871.3L1185.5,871.5L1189.3,871.6L1193.2,871.7L1197,871.8L1200.9,871.9L1204.7,871.9L1208.5,871.9L1212.4,872L1216.2,872L1220.1,872.1L1223.9,872.1L1227.8,872.1L1231.6,872.1L1235.5,872.1L1239.3,872.2L1243.1,872.3L1247,872.5L1250.8,872.6L1254.7,872.7L1258.5,872.9L1262.4,873L1266.2,873.1L1270.1,873.2L1273.9,873.2L1277.7,873.3L1281.6,873.2L1285.4,873.2L1289.3,873.1L1293.1,873.1L1297,873L1300.8,872.9L1304.7,872.8L1308.5,872.8L1312.3,872.8L1316.2,872.8L1320,872.8L1323.9,872.9L1327.7,873L1331.6,873.2L1335.4,873.4L1339.3,873.5L1343.1,873.7L1346.9,873.9L1350.8,874L1354.6,874.2L1358.5,874.3L1362.3,874.3L1366.2,874.4L1370,874.3L1373.8,874.3L1377.7,874.3L1381.5,874.2L1385.4,874.1L1389.2,874.1L1393.1,874L1396.9,874L1400.8,874L1404.6,874.1L1408.4,874.2L1412.3,874.3L1416.1,874.4L1420,874.6L1423.8,874.8L1427.7,875L1431.5,875.2L1435.4,875.4L1439.2,875.5" fill="none" stroke="#f40000" stroke-width="2.0" stroke-linejoin="round" stroke-linecap="butt"/>
<path d="M1093.2,852.8L1097.1,860.7L1100.9,863.5L1104.8,865.8L1108.6,866L1112.4,866.3L1116.3,866.4L1120.1,866.5L1124,866.5L1127.8,867L1131.7,867.4L1135.5,867.8L1139.4,868.1L1143.2,868.5L1147,868.7L1150.9,868.9L1154.7,869.1L1158.6,869.2L1162.4,869.4L1166.3,869.6L1170.1,869.7L1173.9,869.9L1177.8,870.1L1181.6,870.3L1185.5,870.4L1189.3,870.6L1193.2,870.8L1197,871L1200.9,871.3L1204.7,871.5L1208.5,871.7L1212.4,872L1216.2,872.2L1220.1,872.4L1223.9,872.5L1227.8,872.5L1231.6,872.5L1235.5,872.5L1239.3,872.4L1243.1,872.3L1247,872.3L1250.8,872.2L1254.7,872.1L1258.5,872.1L1262.4,872L1266.2,872L1270.1,872L1273.9,872.1L1277.7,872.2L1281.6,872.3L1285.4,872.4L1289.3,872.5L1293.1,872.6L1297,872.8L1300.8,872.9L1304.7,873L1308.5,873.1L1312.3,873.1L1316.2,873.1L1320,873.1L1323.9,873.1L1327.7,873.1L1331.6,873.1L1335.4,873L1339.3,873L1343.1,873L1346.9,872.9L1350.8,872.9L1354.6,873L1358.5,873L1362.3,873.1L1366.2,873.2L1370,873.4L1373.8,873.5L1377.7,873.7L1381.5,873.8L1385.4,873.9L1389.2,874.1L1393.1,874.2L1396.9,874.3L1400.8,874.3L1404.6,874.4L1408.4,874.4L1412.3,874.4L1416.1,874.4L1420,874.4L1423.8,874.4L1427.7,874.3L1431.5,874.3L1435.4,874.3L1439.2,874.4" fill="none" stroke="#f40000" stroke-width="2.0" stroke-linejoin="round" stroke-linecap="butt"/>
<path d="M1093.2,852.8L1097.1,860.8L1100.9,863.5L1104.8,865.7L1108.6,865.9L1112.4,866.1L1116.3,866.1L1120.1,866.1L1124,866.1L1127.8,866.5L1131.7,866.9L1135.5,867.3L1139.4,867.7L1143.2,868.1L1147,868.4L1150.9,868.6L1154.7,868.9L1158.6,869.1L1162.4,869.3L1166.3,869.5L1170.1,869.7L1173.9,869.9L1177.8,870.1L1181.6,870.2L1185.5,870.3L1189.3,870.4L1193.2,870.6L1197,870.7L1200.9,870.9L1204.7,871L1208.5,871.2L1212.4,871.4L1216.2,871.6L1220.1,871.8L1223.9,871.9L1227.8,872L1231.6,872L1235.5,872.1L1239.3,872.1L1243.1,872.1L1247,872.1L1250.8,872L1254.7,872L1258.5,872L1262.4,871.9L1266.2,871.9L1270.1,871.9L1273.9,871.9L1277.7,871.9L1281.6,871.9L1285.4,871.9L1289.3,872L1293.1,872L1297,872.1L1300.8,872.2L1304.7,872.3L1308.5,872.4L1312.3,872.5L1316.2,872.5L1320,872.6L1323.9,872.7L1327.7,872.7L1331.6,872.8L1335.4,872.8L1339.3,872.8L1343.1,872.8L1346.9,872.8L1350.8,872.8L1354.6,872.8L1358.5,872.8L1362.3,872.8L1366.2,872.9L1370,872.9L1373.8,873L1377.7,873L1381.5,873.1L1385.4,873.2L1389.2,873.3L1393.1,873.4L1396.9,873.6L1400.8,873.7L1404.6,873.8L1408.4,873.9L1412.3,873.9L1416.1,874L1420,874.1L1423.8,874.1L1427.7,874.1L1431.5,874.1L1435.4,874.2L1439.2,874.2" fill="none" stroke="#f40000" stroke-width="2.0" stroke-linejoin="round" stroke-linecap="butt"/>
<path d="M1093.2,852.8L1097.1,860.8L1100.9,863.6L1104.8,866L1108.6,866.2L1112.4,866.3L1116.3,866.3L1120.1,866.1L1124,866L1127.8,866.3L1131.7,866.5L1135.5,866.8L1139.4,867.1L1143.2,867.4L1147,867.7L1150.9,868L1154.7,868.2L1158.6,868.5L1162.4,868.8L1166.3,869.2L1170.1,869.5L1173.9,869.8L1177.8,870.1L1181.6,870.3L1185.5,870.4L1189.3,870.6L1193.2,870.7L1197,870.8L1200.9,870.9L1204.7,871L1208.5,871.1L1212.4,871.1L1216.2,871.2L1220.1,871.3L1223.9,871.3L1227.8,871.3L1231.6,871.2L1235.5,871.3L1239.3,871.3L1243.1,871.3L1247,871.4L1250.8,871.5L1254.7,871.6L1258.5,871.6L1262.4,871.7L1266.2,871.8L1270.1,871.8L1273.9,871.9L1277.7,871.9L1281.6,872L1285.4,872L1289.3,871.9L1293.1,871.9L1297,871.9L1300.8,871.8L1304.7,871.8L1308.5,871.7L1312.3,871.7L1316.2,871.7L1320,871.8L1323.9,871.8L1327.7,871.9L1331.6,872L1335.4,872.1L1339.3,872.2L1343.1,872.3L1346.9,872.4L1350.8,872.5L1354.6,872.7L1358.5,872.8L1362.3,872.8L1366.2,872.9L1370,872.9L1373.8,872.9L1377.7,872.9L1381.5,872.9L1385.4,872.9L1389.2,872.9L1393.1,872.8L1396.9,872.8L1400.8,872.9L1404.6,872.9L1408.4,873L1412.3,873L1416.1,873.1L1420,873.3L1423.8,873.4L1427.7,873.5L1431.5,873.7L1435.4,873.8L1439.2,873.9" fill="none" stroke="#f40000" stroke-width="2.0" stroke-linejoin="round" stroke-linecap="butt"/>
<path d="M1335.2,888.7C1338.1,888.8 1348.2,887.3 1352.6,889.7C1356.9,892 1358.4,898 1361.2,902.6C1364.1,907.1 1367,913.1 1369.9,916.8C1372.8,920.6 1375.1,923 1378.6,925.2C1382,927.5 1386.7,929.1 1390.7,930.3C1394.7,931.4 1397.3,931.2 1402.5,931.9C1407.7,932.7 1415.9,934.3 1421.9,935C1427.8,935.7 1435.3,936 1438.2,936.1C1441,936.2 1439,935.7 1439.2,935.6" fill="none" stroke="#f40000" stroke-width="2.0" stroke-linejoin="round" stroke-linecap="butt"/>
<line x1="1585.4" y1="808.6" x2="1933" y2="808.6" stroke="#000" stroke-width="2" stroke-dasharray="2 5"/>
<path d="M1585.5,823.5C1591.7,823.4 1612.8,822.8 1623,822.8C1633.1,822.9 1639.8,823.4 1646.3,823.8C1652.7,824.2 1655.5,825.2 1661.5,825.4C1667.4,825.6 1673.8,825.2 1681.7,825.2C1689.7,825.1 1700.6,825 1709.1,825C1717.5,825 1722.9,824.9 1732.4,825C1741.8,825.1 1754,825.2 1765.8,825.4C1777.6,825.5 1792,825.9 1803.3,826C1814.6,826 1823.6,825.9 1833.7,825.8C1843.8,825.6 1853.9,825.3 1864.1,825.2C1874.2,825.1 1883.5,824.9 1894.5,825C1905.5,825 1924,825.4 1929.9,825.5" fill="none" stroke="#f40000" stroke-width="2.4" stroke-linejoin="round" stroke-linecap="butt"/>
<path d="M1585.5,823.3C1591.7,823.1 1612.8,822.4 1623,822.5C1633.1,822.5 1639.8,823 1646.3,823.5C1652.7,823.9 1655.5,824.8 1661.5,825C1667.4,825.2 1673.8,824.9 1681.7,824.8C1689.7,824.8 1700.6,824.7 1709.1,824.6C1717.5,824.6 1722.9,824.6 1732.4,824.6C1741.8,824.7 1754,824.9 1765.8,825C1777.6,825.2 1792,825.5 1803.3,825.6C1814.6,825.7 1823.6,825.5 1833.7,825.4C1843.8,825.3 1853.9,825 1864.1,824.8C1874.2,824.7 1883.5,824.6 1894.5,824.6C1905.5,824.7 1924,825 1929.9,825" fill="none" stroke="#f40000" stroke-width="2.4" stroke-linejoin="round" stroke-linecap="butt"/>
<path d="M1585.5,823C1591.7,822.8 1612.8,822.1 1623,822.1C1633.1,822.1 1639.8,822.7 1646.3,823.1C1652.7,823.5 1655.5,824.4 1661.5,824.7C1667.4,824.9 1673.8,824.5 1681.7,824.5C1689.7,824.4 1700.6,824.3 1709.1,824.3C1717.5,824.2 1722.9,824.2 1732.4,824.3C1741.8,824.3 1754,824.5 1765.8,824.7C1777.6,824.8 1792,825.2 1803.3,825.2C1814.6,825.3 1823.6,825.2 1833.7,825C1843.8,824.9 1853.9,824.6 1864.1,824.5C1874.2,824.3 1883.5,824.2 1894.5,824.3C1905.5,824.3 1924,824.5 1929.9,824.6" fill="none" stroke="#f40000" stroke-width="2.4" stroke-linejoin="round" stroke-linecap="butt"/>
<path d="M1585.5,822.7C1591.7,822.5 1612.8,821.8 1623,821.8C1633.1,821.8 1639.8,822.3 1646.3,822.7C1652.7,823.2 1655.5,824.1 1661.5,824.3C1667.4,824.5 1673.8,824.2 1681.7,824.1C1689.7,824 1700.6,823.9 1709.1,823.9C1717.5,823.9 1722.9,823.8 1732.4,823.9C1741.8,824 1754,824.1 1765.8,824.3C1777.6,824.5 1792,824.8 1803.3,824.9C1814.6,824.9 1823.6,824.8 1833.7,824.7C1843.8,824.6 1853.9,824.2 1864.1,824.1C1874.2,824 1883.5,823.9 1894.5,823.9C1905.5,823.9 1924,824.1 1929.9,824.2" fill="none" stroke="#f40000" stroke-width="2.4" stroke-linejoin="round" stroke-linecap="butt"/>
<path d="M1585.5,822.4C1591.7,822.2 1612.8,821.4 1623,821.4C1633.1,821.4 1639.8,822 1646.3,822.4C1652.7,822.8 1655.5,823.7 1661.5,823.9C1667.4,824.2 1673.8,823.8 1681.7,823.7C1689.7,823.7 1700.6,823.6 1709.1,823.5C1717.5,823.5 1722.9,823.5 1732.4,823.5C1741.8,823.6 1754,823.8 1765.8,823.9C1777.6,824.1 1792,824.5 1803.3,824.5C1814.6,824.6 1823.6,824.5 1833.7,824.3C1843.8,824.2 1853.9,823.9 1864.1,823.7C1874.2,823.6 1883.5,823.6 1894.5,823.5C1905.5,823.5 1924,823.7 1929.9,823.7" fill="none" stroke="#f40000" stroke-width="2.4" stroke-linejoin="round" stroke-linecap="butt"/>
<path d="M1585.5,822.1C1591.7,821.9 1612.8,821.1 1623,821C1633.1,821 1639.8,821.6 1646.3,822C1652.7,822.4 1655.5,823.4 1661.5,823.6C1667.4,823.8 1673.8,823.4 1681.7,823.4C1689.7,823.3 1700.6,823.2 1709.1,823.2C1717.5,823.2 1722.9,823.1 1732.4,823.2C1741.8,823.3 1754,823.4 1765.8,823.6C1777.6,823.7 1792,824.1 1803.3,824.2C1814.6,824.2 1823.6,824.1 1833.7,824C1843.8,823.8 1853.9,823.5 1864.1,823.4C1874.2,823.3 1883.5,823.2 1894.5,823.2C1905.5,823.2 1924,823.3 1929.9,823.3" fill="none" stroke="#f40000" stroke-width="2.4" stroke-linejoin="round" stroke-linecap="butt"/>
<path d="M1585.5,821.8C1591.7,821.6 1612.8,820.7 1623,820.7C1633.1,820.7 1639.8,821.2 1646.3,821.7C1652.7,822.1 1655.5,823 1661.5,823.2C1667.4,823.4 1673.8,823.1 1681.7,823C1689.7,823 1700.6,822.9 1709.1,822.8C1717.5,822.8 1722.9,822.8 1732.4,822.8C1741.8,822.9 1754,823.1 1765.8,823.2C1777.6,823.4 1792,823.7 1803.3,823.8C1814.6,823.9 1823.6,823.7 1833.7,823.6C1843.8,823.5 1853.9,823.2 1864.1,823C1874.2,822.9 1883.5,822.9 1894.5,822.8C1905.5,822.8 1924,822.9 1929.9,822.9" fill="none" stroke="#f40000" stroke-width="2.4" stroke-linejoin="round" stroke-linecap="butt"/>
<path d="M1585.5,821.5C1591.7,821.3 1612.8,820.4 1623,820.3C1633.1,820.3 1639.8,820.9 1646.3,821.3C1652.7,821.7 1655.5,822.6 1661.5,822.9C1667.4,823.1 1673.8,822.7 1681.7,822.7C1689.7,822.6 1700.6,822.5 1709.1,822.5C1717.5,822.4 1722.9,822.4 1732.4,822.5C1741.8,822.5 1754,822.7 1765.8,822.9C1777.6,823 1792,823.4 1803.3,823.4C1814.6,823.5 1823.6,823.4 1833.7,823.2C1843.8,823.1 1853.9,822.8 1864.1,822.7C1874.2,822.5 1883.5,822.5 1894.5,822.5C1905.5,822.4 1924,822.4 1929.9,822.4" fill="none" stroke="#f40000" stroke-width="2.4" stroke-linejoin="round" stroke-linecap="butt"/>
<path d="M1585.5,821.2C1591.7,821 1612.8,820 1623,820C1633.1,819.9 1639.8,820.5 1646.3,820.9C1652.7,821.4 1655.5,822.3 1661.5,822.5C1667.4,822.7 1673.8,822.4 1681.7,822.3C1689.7,822.2 1700.6,822.1 1709.1,822.1C1717.5,822.1 1722.9,822 1732.4,822.1C1741.8,822.2 1754,822.3 1765.8,822.5C1777.6,822.7 1792,823 1803.3,823.1C1814.6,823.1 1823.6,823 1833.7,822.9C1843.8,822.8 1853.9,822.4 1864.1,822.3C1874.2,822.2 1883.5,822.2 1894.5,822.1C1905.5,822.1 1924,822 1929.9,822" fill="none" stroke="#f40000" stroke-width="2.4" stroke-linejoin="round" stroke-linecap="butt"/>
<path d="M1585.5,821C1591.7,820.7 1612.8,819.7 1623,819.6C1633.1,819.5 1639.8,820.2 1646.3,820.6C1652.7,821 1655.5,821.9 1661.5,822.1C1667.4,822.4 1673.8,822 1681.7,821.9C1689.7,821.9 1700.6,821.8 1709.1,821.7C1717.5,821.7 1722.9,821.7 1732.4,821.7C1741.8,821.8 1754,822 1765.8,822.1C1777.6,822.3 1792,822.7 1803.3,822.7C1814.6,822.8 1823.6,822.7 1833.7,822.5C1843.8,822.4 1853.9,822.1 1864.1,821.9C1874.2,821.8 1883.5,821.8 1894.5,821.7C1905.5,821.7 1924,821.6 1929.9,821.6" fill="none" stroke="#f40000" stroke-width="2.4" stroke-linejoin="round" stroke-linecap="butt"/>
<path d="M1585.5,820.7C1591.7,820.4 1612.8,819.3 1623,819.2C1633.1,819.2 1639.8,819.8 1646.3,820.2C1652.7,820.6 1655.5,821.5 1661.5,821.8C1667.4,822 1673.8,821.6 1681.7,821.6C1689.7,821.5 1700.6,821.4 1709.1,821.4C1717.5,821.4 1722.9,821.3 1732.4,821.4C1741.8,821.5 1754,821.6 1765.8,821.8C1777.6,821.9 1792,822.3 1803.3,822.4C1814.6,822.4 1823.6,822.3 1833.7,822.2C1843.8,822 1853.9,821.7 1864.1,821.6C1874.2,821.5 1883.5,821.5 1894.5,821.4C1905.5,821.3 1924,821.2 1929.9,821.1" fill="none" stroke="#f40000" stroke-width="2.4" stroke-linejoin="round" stroke-linecap="butt"/>
<path d="M1585.5,820.4C1591.7,820.1 1612.8,819 1623,818.9C1633.1,818.8 1639.8,819.4 1646.3,819.9C1652.7,820.3 1655.5,821.2 1661.5,821.4C1667.4,821.6 1673.8,821.3 1681.7,821.2C1689.7,821.2 1700.6,821.1 1709.1,821C1717.5,821 1722.9,821 1732.4,821C1741.8,821.1 1754,821.3 1765.8,821.4C1777.6,821.6 1792,821.9 1803.3,822C1814.6,822.1 1823.6,821.9 1833.7,821.8C1843.8,821.7 1853.9,821.4 1864.1,821.2C1874.2,821.1 1883.5,821.1 1894.5,821C1905.5,820.9 1924,820.8 1929.9,820.7" fill="none" stroke="#f40000" stroke-width="2.4" stroke-linejoin="round" stroke-linecap="butt"/>
<path d="M1585.5,820.1C1591.7,819.8 1612.8,818.6 1623,818.5C1633.1,818.4 1639.8,819.1 1646.3,819.5C1652.7,819.9 1655.5,820.8 1661.5,821.1C1667.4,821.3 1673.8,820.9 1681.7,820.9C1689.7,820.8 1700.6,820.7 1709.1,820.7C1717.5,820.6 1722.9,820.6 1732.4,820.7C1741.8,820.7 1754,820.9 1765.8,821.1C1777.6,821.2 1792,821.6 1803.3,821.6C1814.6,821.7 1823.6,821.6 1833.7,821.4C1843.8,821.3 1853.9,821 1864.1,820.9C1874.2,820.7 1883.5,820.8 1894.5,820.7C1905.5,820.6 1924,820.3 1929.9,820.3" fill="none" stroke="#f40000" stroke-width="2.4" stroke-linejoin="round" stroke-linecap="butt"/>
<path d="M1585.5,819.8C1591.7,819.5 1612.8,818.3 1623,818.2C1633.1,818 1639.8,818.7 1646.3,819.1C1652.7,819.6 1655.5,820.5 1661.5,820.7C1667.4,820.9 1673.8,820.6 1681.7,820.5C1689.7,820.4 1700.6,820.3 1709.1,820.3C1717.5,820.3 1722.9,820.2 1732.4,820.3C1741.8,820.4 1754,820.5 1765.8,820.7C1777.6,820.9 1792,821.2 1803.3,821.3C1814.6,821.3 1823.6,821.2 1833.7,821.1C1843.8,821 1853.9,820.6 1864.1,820.5C1874.2,820.4 1883.5,820.4 1894.5,820.3C1905.5,820.2 1924,819.9 1929.9,819.8" fill="none" stroke="#f40000" stroke-width="2.4" stroke-linejoin="round" stroke-linecap="butt"/>
<path d="M1742.5,822.6C1746.7,822.3 1761.1,821.5 1767.8,820.3C1774.6,819.1 1777.1,816.9 1783,815.4C1788.9,814 1796.5,812 1803.3,811.7C1810,811.4 1817.6,812.5 1823.6,813.5C1829.5,814.4 1833.7,815.9 1838.8,817.4C1843.8,818.9 1851.4,821.8 1853.9,822.6" fill="none" stroke="#f40000" stroke-width="2.0" stroke-linejoin="round" stroke-linecap="butt"/>
<line x1="89.8" y1="34.7" x2="89.8" y2="278.5" stroke="#000" stroke-width="2.4"/>
<line x1="89.8" y1="272.5" x2="443.7" y2="272.5" stroke="#000" stroke-width="2.4"/>
<line x1="83.8" y1="272.5" x2="89.8" y2="272.5" stroke="#000" stroke-width="2.4"/>
<text x="80.5" y="276.9" text-anchor="end" font-size="17">0.00</text>
<line x1="83.8" y1="233.1" x2="89.8" y2="233.1" stroke="#000" stroke-width="2.4"/>
<text x="80.5" y="237.5" text-anchor="end" font-size="17">0.20</text>
<line x1="83.8" y1="193.6" x2="89.8" y2="193.6" stroke="#000" stroke-width="2.4"/>
<text x="80.5" y="198" text-anchor="end" font-size="17">0.40</text>
<line x1="83.8" y1="154.2" x2="89.8" y2="154.2" stroke="#000" stroke-width="2.4"/>
<text x="80.5" y="158.6" text-anchor="end" font-size="17">0.60</text>
<line x1="83.8" y1="114.8" x2="89.8" y2="114.8" stroke="#000" stroke-width="2.4"/>
<text x="80.5" y="119.2" text-anchor="end" font-size="17">0.80</text>
<line x1="83.8" y1="75.3" x2="89.8" y2="75.3" stroke="#000" stroke-width="2.4"/>
<text x="80.5" y="79.7" text-anchor="end" font-size="17">1.00</text>
<line x1="83.8" y1="35.9" x2="89.8" y2="35.9" stroke="#000" stroke-width="2.4"/>
<text x="80.5" y="40.3" text-anchor="end" font-size="17">1.20</text>
<line x1="89.8" y1="272.5" x2="89.8" y2="278.5" stroke="#000" stroke-width="2.4"/>
<text x="89.8" y="297.5" text-anchor="middle" font-size="17">0</text>
<line x1="178" y1="272.5" x2="178" y2="278.5" stroke="#000" stroke-width="2.4"/>
<text x="178" y="297.5" text-anchor="middle" font-size="17">10</text>
<line x1="266.1" y1="272.5" x2="266.1" y2="278.5" stroke="#000" stroke-width="2.4"/>
<text x="266.1" y="297.5" text-anchor="middle" font-size="17">20</text>
<line x1="354.3" y1="272.5" x2="354.3" y2="278.5" stroke="#000" stroke-width="2.4"/>
<text x="354.3" y="297.5" text-anchor="middle" font-size="17">30</text>
<line x1="442.5" y1="272.5" x2="442.5" y2="278.5" stroke="#000" stroke-width="2.4"/>
<text x="442.5" y="297.5" text-anchor="middle" font-size="17">40</text>
<text x="265.2" y="325.3" text-anchor="middle" font-size="19.2">Ct (minutes)</text>
<text transform="translate(37.5,153.6) rotate(-90)" text-anchor="middle" font-size="19.0">Normalised Fluorescence</text>
<text x="492.5" y="30.4" text-anchor="end" font-size="30">(1A)</text>
<line x1="575.7" y1="33.7" x2="575.7" y2="277.1" stroke="#000" stroke-width="2.4"/>
<line x1="575.7" y1="270.6" x2="938.6" y2="270.6" stroke="#000" stroke-width="2.4"/>
<line x1="569.2" y1="257.7" x2="575.7" y2="257.7" stroke="#000" stroke-width="2.4"/>
<text x="565.3" y="262.1" text-anchor="end" font-size="17">0</text>
<line x1="569.2" y1="225.9" x2="575.7" y2="225.9" stroke="#000" stroke-width="2.4"/>
<text x="565.3" y="230.3" text-anchor="end" font-size="17">5</text>
<line x1="569.2" y1="194" x2="575.7" y2="194" stroke="#000" stroke-width="2.4"/>
<text x="565.3" y="198.4" text-anchor="end" font-size="17">10</text>
<line x1="569.2" y1="162.2" x2="575.7" y2="162.2" stroke="#000" stroke-width="2.4"/>
<text x="565.3" y="166.6" text-anchor="end" font-size="17">15</text>
<line x1="569.2" y1="130.4" x2="575.7" y2="130.4" stroke="#000" stroke-width="2.4"/>
<text x="565.3" y="134.8" text-anchor="end" font-size="17">20</text>
<line x1="569.2" y1="98.6" x2="575.7" y2="98.6" stroke="#000" stroke-width="2.4"/>
<text x="565.3" y="103" text-anchor="end" font-size="17">25</text>
<line x1="569.2" y1="66.7" x2="575.7" y2="66.7" stroke="#000" stroke-width="2.4"/>
<text x="565.3" y="71.1" text-anchor="end" font-size="17">30</text>
<line x1="569.2" y1="34.9" x2="575.7" y2="34.9" stroke="#000" stroke-width="2.4"/>
<text x="565.3" y="39.3" text-anchor="end" font-size="17">35</text>
<line x1="575.7" y1="270.6" x2="575.7" y2="277.1" stroke="#000" stroke-width="2.4"/>
<text x="575.7" y="295.3" text-anchor="middle" font-size="17">60</text>
<line x1="627.4" y1="270.6" x2="627.4" y2="277.1" stroke="#000" stroke-width="2.4"/>
<text x="627.4" y="295.3" text-anchor="middle" font-size="17">65</text>
<line x1="679" y1="270.6" x2="679" y2="277.1" stroke="#000" stroke-width="2.4"/>
<text x="679" y="295.3" text-anchor="middle" font-size="17">70</text>
<line x1="730.7" y1="270.6" x2="730.7" y2="277.1" stroke="#000" stroke-width="2.4"/>
<text x="730.7" y="295.3" text-anchor="middle" font-size="17">75</text>
<line x1="782.4" y1="270.6" x2="782.4" y2="277.1" stroke="#000" stroke-width="2.4"/>
<text x="782.4" y="295.3" text-anchor="middle" font-size="17">80</text>
<line x1="834.1" y1="270.6" x2="834.1" y2="277.1" stroke="#000" stroke-width="2.4"/>
<text x="834.1" y="295.3" text-anchor="middle" font-size="17">85</text>
<line x1="885.7" y1="270.6" x2="885.7" y2="277.1" stroke="#000" stroke-width="2.4"/>
<text x="885.7" y="295.3" text-anchor="middle" font-size="17">90</text>
<line x1="937.4" y1="270.6" x2="937.4" y2="277.1" stroke="#000" stroke-width="2.4"/>
<text x="937.4" y="295.3" text-anchor="middle" font-size="17">95</text>
<text x="756.5" y="324.6" text-anchor="middle" font-size="20.2">Temperature (°C)</text>
<text transform="translate(535.6,151.9) rotate(-90)" text-anchor="middle" font-size="19.2">dF/dT</text>
<text x="989.6" y="30.3" text-anchor="end" font-size="30">(1C)</text>
<line x1="1085.4" y1="35.4" x2="1085.4" y2="278.4" stroke="#000" stroke-width="2.4"/>
<line x1="1085.4" y1="272.4" x2="1439.2" y2="272.4" stroke="#000" stroke-width="2.4"/>
<line x1="1079.4" y1="272.4" x2="1085.4" y2="272.4" stroke="#000" stroke-width="2.4"/>
<text x="1076.4" y="276.8" text-anchor="end" font-size="17">0.0</text>
<line x1="1079.4" y1="233.1" x2="1085.4" y2="233.1" stroke="#000" stroke-width="2.4"/>
<text x="1076.4" y="237.5" text-anchor="end" font-size="17">0.2</text>
<line x1="1079.4" y1="193.8" x2="1085.4" y2="193.8" stroke="#000" stroke-width="2.4"/>
<text x="1076.4" y="198.2" text-anchor="end" font-size="17">0.4</text>
<line x1="1079.4" y1="154.5" x2="1085.4" y2="154.5" stroke="#000" stroke-width="2.4"/>
<text x="1076.4" y="158.9" text-anchor="end" font-size="17">0.6</text>
<line x1="1079.4" y1="115.2" x2="1085.4" y2="115.2" stroke="#000" stroke-width="2.4"/>
<text x="1076.4" y="119.6" text-anchor="end" font-size="17">0.8</text>
<line x1="1079.4" y1="75.9" x2="1085.4" y2="75.9" stroke="#000" stroke-width="2.4"/>
<text x="1076.4" y="80.3" text-anchor="end" font-size="17">1.0</text>
<line x1="1079.4" y1="36.6" x2="1085.4" y2="36.6" stroke="#000" stroke-width="2.4"/>
<text x="1076.4" y="41" text-anchor="end" font-size="17">1.2</text>
<line x1="1085.4" y1="272.4" x2="1085.4" y2="278.4" stroke="#000" stroke-width="2.4"/>
<text x="1085.4" y="297.5" text-anchor="middle" font-size="17">0</text>
<line x1="1173.6" y1="272.4" x2="1173.6" y2="278.4" stroke="#000" stroke-width="2.4"/>
<text x="1173.6" y="297.5" text-anchor="middle" font-size="17">50</text>
<line x1="1261.7" y1="272.4" x2="1261.7" y2="278.4" stroke="#000" stroke-width="2.4"/>
<text x="1261.7" y="297.5" text-anchor="middle" font-size="17">100</text>
<line x1="1349.8" y1="272.4" x2="1349.8" y2="278.4" stroke="#000" stroke-width="2.4"/>
<text x="1349.8" y="297.5" text-anchor="middle" font-size="17">150</text>
<line x1="1438" y1="272.4" x2="1438" y2="278.4" stroke="#000" stroke-width="2.4"/>
<text x="1438" y="297.5" text-anchor="middle" font-size="17">200</text>
<text x="1260.4" y="325.3" text-anchor="middle" font-size="19.2">Ct (minutes)</text>
<text transform="translate(1032.4,154) rotate(-90)" text-anchor="middle" font-size="19.0">Normalised Fluorescence</text>
<text x="1490.4" y="31.6" text-anchor="end" font-size="30">(2A)</text>
<line x1="1570" y1="33.6" x2="1570" y2="277.1" stroke="#000" stroke-width="2.4"/>
<line x1="1570" y1="270.6" x2="1934.3" y2="270.6" stroke="#000" stroke-width="2.4"/>
<line x1="1563.5" y1="257.7" x2="1570" y2="257.7" stroke="#000" stroke-width="2.4"/>
<text x="1559.6" y="262.1" text-anchor="end" font-size="17">0</text>
<line x1="1563.5" y1="225.9" x2="1570" y2="225.9" stroke="#000" stroke-width="2.4"/>
<text x="1559.6" y="230.3" text-anchor="end" font-size="17">5</text>
<line x1="1563.5" y1="194" x2="1570" y2="194" stroke="#000" stroke-width="2.4"/>
<text x="1559.6" y="198.4" text-anchor="end" font-size="17">10</text>
<line x1="1563.5" y1="162.2" x2="1570" y2="162.2" stroke="#000" stroke-width="2.4"/>
<text x="1559.6" y="166.6" text-anchor="end" font-size="17">15</text>
<line x1="1563.5" y1="130.3" x2="1570" y2="130.3" stroke="#000" stroke-width="2.4"/>
<text x="1559.6" y="134.7" text-anchor="end" font-size="17">20</text>
<line x1="1563.5" y1="98.5" x2="1570" y2="98.5" stroke="#000" stroke-width="2.4"/>
<text x="1559.6" y="102.9" text-anchor="end" font-size="17">25</text>
<line x1="1563.5" y1="66.6" x2="1570" y2="66.6" stroke="#000" stroke-width="2.4"/>
<text x="1559.6" y="71" text-anchor="end" font-size="17">30</text>
<line x1="1563.5" y1="34.8" x2="1570" y2="34.8" stroke="#000" stroke-width="2.4"/>
<text x="1559.6" y="39.2" text-anchor="end" font-size="17">35</text>
<line x1="1570" y1="270.6" x2="1570" y2="277.1" stroke="#000" stroke-width="2.4"/>
<text x="1570" y="295.5" text-anchor="middle" font-size="17">60</text>
<line x1="1621.9" y1="270.6" x2="1621.9" y2="277.1" stroke="#000" stroke-width="2.4"/>
<text x="1621.9" y="295.5" text-anchor="middle" font-size="17">65</text>
<line x1="1673.7" y1="270.6" x2="1673.7" y2="277.1" stroke="#000" stroke-width="2.4"/>
<text x="1673.7" y="295.5" text-anchor="middle" font-size="17">70</text>
<line x1="1725.6" y1="270.6" x2="1725.6" y2="277.1" stroke="#000" stroke-width="2.4"/>
<text x="1725.6" y="295.5" text-anchor="middle" font-size="17">75</text>
<line x1="1777.5" y1="270.6" x2="1777.5" y2="277.1" stroke="#000" stroke-width="2.4"/>
<text x="1777.5" y="295.5" text-anchor="middle" font-size="17">80</text>
<line x1="1829.4" y1="270.6" x2="1829.4" y2="277.1" stroke="#000" stroke-width="2.4"/>
<text x="1829.4" y="295.5" text-anchor="middle" font-size="17">85</text>
<line x1="1881.2" y1="270.6" x2="1881.2" y2="277.1" stroke="#000" stroke-width="2.4"/>
<text x="1881.2" y="295.5" text-anchor="middle" font-size="17">90</text>
<line x1="1933.1" y1="270.6" x2="1933.1" y2="277.1" stroke="#000" stroke-width="2.4"/>
<text x="1933.1" y="295.5" text-anchor="middle" font-size="17">95</text>
<text x="1751.4" y="325.3" text-anchor="middle" font-size="20.2">Temperature (°C)</text>
<text transform="translate(1529.3,152.4) rotate(-90)" text-anchor="middle" font-size="19.2">dF/dT</text>
<text x="1985.9" y="31.7" text-anchor="end" font-size="30">(2D)</text>
<line x1="97.4" y1="439.1" x2="97.4" y2="680.6" stroke="#000" stroke-width="2.4"/>
<line x1="91.4" y1="445.1" x2="445.2" y2="445.1" stroke="#000" stroke-width="2.4"/>
<line x1="91.4" y1="679.4" x2="97.4" y2="679.4" stroke="#000" stroke-width="2.4"/>
<text x="88" y="683.8" text-anchor="end" font-size="17">-0.10</text>
<line x1="91.4" y1="645.9" x2="97.4" y2="645.9" stroke="#000" stroke-width="2.4"/>
<text x="88" y="650.3" text-anchor="end" font-size="17">-0.08</text>
<line x1="91.4" y1="612.5" x2="97.4" y2="612.5" stroke="#000" stroke-width="2.4"/>
<text x="88" y="616.9" text-anchor="end" font-size="17">-0.06</text>
<line x1="91.4" y1="579" x2="97.4" y2="579" stroke="#000" stroke-width="2.4"/>
<text x="88" y="583.4" text-anchor="end" font-size="17">-0.04</text>
<line x1="91.4" y1="545.5" x2="97.4" y2="545.5" stroke="#000" stroke-width="2.4"/>
<text x="88" y="549.9" text-anchor="end" font-size="17">-0.02</text>
<line x1="91.4" y1="512" x2="97.4" y2="512" stroke="#000" stroke-width="2.4"/>
<text x="88" y="516.4" text-anchor="end" font-size="17">0.00</text>
<line x1="91.4" y1="478.6" x2="97.4" y2="478.6" stroke="#000" stroke-width="2.4"/>
<text x="88" y="483" text-anchor="end" font-size="17">0.02</text>
<line x1="91.4" y1="445.1" x2="97.4" y2="445.1" stroke="#000" stroke-width="2.4"/>
<text x="88" y="449.5" text-anchor="end" font-size="17">0.04</text>
<line x1="97.4" y1="439.1" x2="97.4" y2="445.1" stroke="#000" stroke-width="2.4"/>
<text x="97.4" y="435.6" text-anchor="middle" font-size="17">0</text>
<line x1="184.1" y1="439.1" x2="184.1" y2="445.1" stroke="#000" stroke-width="2.4"/>
<text x="184.1" y="435.6" text-anchor="middle" font-size="17">10</text>
<line x1="270.7" y1="439.1" x2="270.7" y2="445.1" stroke="#000" stroke-width="2.4"/>
<text x="270.7" y="435.6" text-anchor="middle" font-size="17">20</text>
<line x1="357.4" y1="439.1" x2="357.4" y2="445.1" stroke="#000" stroke-width="2.4"/>
<text x="357.4" y="435.6" text-anchor="middle" font-size="17">30</text>
<line x1="444" y1="439.1" x2="444" y2="445.1" stroke="#000" stroke-width="2.4"/>
<text x="444" y="435.6" text-anchor="middle" font-size="17">40</text>
<text x="269" y="383.2" text-anchor="middle" font-size="19.2">Ct (minutes)</text>
<text transform="translate(37.3,561.4) rotate(-90)" text-anchor="middle" font-size="19.0">Normalised Fluorescence</text>
<text x="493" y="379.3" text-anchor="end" font-size="30">(1B)</text>
<line x1="585.2" y1="382.4" x2="585.2" y2="625.9" stroke="#000" stroke-width="2.4"/>
<line x1="585.2" y1="619.4" x2="941" y2="619.4" stroke="#000" stroke-width="2.4"/>
<line x1="578.7" y1="619.4" x2="585.2" y2="619.4" stroke="#000" stroke-width="2.4"/>
<text x="575.3" y="623.8" text-anchor="end" font-size="17">-0.8</text>
<line x1="578.7" y1="580.1" x2="585.2" y2="580.1" stroke="#000" stroke-width="2.4"/>
<text x="575.3" y="584.5" text-anchor="end" font-size="17">-0.6</text>
<line x1="578.7" y1="540.8" x2="585.2" y2="540.8" stroke="#000" stroke-width="2.4"/>
<text x="575.3" y="545.2" text-anchor="end" font-size="17">-0.4</text>
<line x1="578.7" y1="501.5" x2="585.2" y2="501.5" stroke="#000" stroke-width="2.4"/>
<text x="575.3" y="505.9" text-anchor="end" font-size="17">-0.2</text>
<line x1="578.7" y1="462.2" x2="585.2" y2="462.2" stroke="#000" stroke-width="2.4"/>
<text x="575.3" y="466.6" text-anchor="end" font-size="17">0.0</text>
<line x1="578.7" y1="422.9" x2="585.2" y2="422.9" stroke="#000" stroke-width="2.4"/>
<text x="575.3" y="427.3" text-anchor="end" font-size="17">0.2</text>
<line x1="578.7" y1="383.6" x2="585.2" y2="383.6" stroke="#000" stroke-width="2.4"/>
<text x="575.3" y="388" text-anchor="end" font-size="17">0.4</text>
<line x1="585.2" y1="619.4" x2="585.2" y2="625.9" stroke="#000" stroke-width="2.4"/>
<text x="585.2" y="645" text-anchor="middle" font-size="17">60</text>
<line x1="635.9" y1="619.4" x2="635.9" y2="625.9" stroke="#000" stroke-width="2.4"/>
<text x="635.9" y="645" text-anchor="middle" font-size="17">65</text>
<line x1="686.5" y1="619.4" x2="686.5" y2="625.9" stroke="#000" stroke-width="2.4"/>
<text x="686.5" y="645" text-anchor="middle" font-size="17">70</text>
<line x1="737.2" y1="619.4" x2="737.2" y2="625.9" stroke="#000" stroke-width="2.4"/>
<text x="737.2" y="645" text-anchor="middle" font-size="17">75</text>
<line x1="787.8" y1="619.4" x2="787.8" y2="625.9" stroke="#000" stroke-width="2.4"/>
<text x="787.8" y="645" text-anchor="middle" font-size="17">80</text>
<line x1="838.5" y1="619.4" x2="838.5" y2="625.9" stroke="#000" stroke-width="2.4"/>
<text x="838.5" y="645" text-anchor="middle" font-size="17">85</text>
<line x1="889.1" y1="619.4" x2="889.1" y2="625.9" stroke="#000" stroke-width="2.4"/>
<text x="889.1" y="645" text-anchor="middle" font-size="17">90</text>
<line x1="939.8" y1="619.4" x2="939.8" y2="625.9" stroke="#000" stroke-width="2.4"/>
<text x="939.8" y="645" text-anchor="middle" font-size="17">95</text>
<text x="762" y="673.7" text-anchor="middle" font-size="20.2">Temperature (°C)</text>
<text transform="translate(535,500.3) rotate(-90)" text-anchor="middle" font-size="19.2">dF/dT</text>
<text x="990.8" y="378.4" text-anchor="end" font-size="30">(1D)</text>
<line x1="1092.4" y1="438.1" x2="1092.4" y2="678.9" stroke="#000" stroke-width="2.4"/>
<line x1="1086.4" y1="444.1" x2="1439.9" y2="444.1" stroke="#000" stroke-width="2.4"/>
<line x1="1086.4" y1="677.7" x2="1092.4" y2="677.7" stroke="#000" stroke-width="2.4"/>
<text x="1083" y="682.1" text-anchor="end" font-size="17">-0.10</text>
<line x1="1086.4" y1="644.3" x2="1092.4" y2="644.3" stroke="#000" stroke-width="2.4"/>
<text x="1083" y="648.7" text-anchor="end" font-size="17">-0.08</text>
<line x1="1086.4" y1="610.9" x2="1092.4" y2="610.9" stroke="#000" stroke-width="2.4"/>
<text x="1083" y="615.3" text-anchor="end" font-size="17">-0.06</text>
<line x1="1086.4" y1="577.5" x2="1092.4" y2="577.5" stroke="#000" stroke-width="2.4"/>
<text x="1083" y="581.9" text-anchor="end" font-size="17">-0.04</text>
<line x1="1086.4" y1="544.2" x2="1092.4" y2="544.2" stroke="#000" stroke-width="2.4"/>
<text x="1083" y="548.6" text-anchor="end" font-size="17">-0.02</text>
<line x1="1086.4" y1="510.8" x2="1092.4" y2="510.8" stroke="#000" stroke-width="2.4"/>
<text x="1083" y="515.2" text-anchor="end" font-size="17">0.00</text>
<line x1="1086.4" y1="477.4" x2="1092.4" y2="477.4" stroke="#000" stroke-width="2.4"/>
<text x="1083" y="481.8" text-anchor="end" font-size="17">0.02</text>
<line x1="1086.4" y1="444.1" x2="1092.4" y2="444.1" stroke="#000" stroke-width="2.4"/>
<text x="1083" y="448.5" text-anchor="end" font-size="17">0.04</text>
<line x1="1092.4" y1="438.1" x2="1092.4" y2="444.1" stroke="#000" stroke-width="2.4"/>
<text x="1092.4" y="434.5" text-anchor="middle" font-size="17">0</text>
<line x1="1179" y1="438.1" x2="1179" y2="444.1" stroke="#000" stroke-width="2.4"/>
<text x="1179" y="434.5" text-anchor="middle" font-size="17">50</text>
<line x1="1265.6" y1="438.1" x2="1265.6" y2="444.1" stroke="#000" stroke-width="2.4"/>
<text x="1265.6" y="434.5" text-anchor="middle" font-size="17">100</text>
<line x1="1352.1" y1="438.1" x2="1352.1" y2="444.1" stroke="#000" stroke-width="2.4"/>
<text x="1352.1" y="434.5" text-anchor="middle" font-size="17">150</text>
<line x1="1438.7" y1="438.1" x2="1438.7" y2="444.1" stroke="#000" stroke-width="2.4"/>
<text x="1438.7" y="434.5" text-anchor="middle" font-size="17">200</text>
<text x="1264.2" y="382.3" text-anchor="middle" font-size="19.2">Ct (minutes)</text>
<text transform="translate(1031.3,561.4) rotate(-90)" text-anchor="middle" font-size="19.0">Normalised Fluorescence</text>
<text x="1491.1" y="377.2" text-anchor="end" font-size="30">(2B)</text>
<line x1="1581" y1="380.7" x2="1581" y2="623.6" stroke="#000" stroke-width="2.4"/>
<line x1="1581" y1="617.1" x2="1934.9" y2="617.1" stroke="#000" stroke-width="2.4"/>
<line x1="1574.5" y1="617.1" x2="1581" y2="617.1" stroke="#000" stroke-width="2.4"/>
<text x="1571.2" y="621.5" text-anchor="end" font-size="17">-0.8</text>
<line x1="1574.5" y1="577.9" x2="1581" y2="577.9" stroke="#000" stroke-width="2.4"/>
<text x="1571.2" y="582.3" text-anchor="end" font-size="17">-0.6</text>
<line x1="1574.5" y1="538.7" x2="1581" y2="538.7" stroke="#000" stroke-width="2.4"/>
<text x="1571.2" y="543.1" text-anchor="end" font-size="17">-0.4</text>
<line x1="1574.5" y1="499.5" x2="1581" y2="499.5" stroke="#000" stroke-width="2.4"/>
<text x="1571.2" y="503.9" text-anchor="end" font-size="17">-0.2</text>
<line x1="1574.5" y1="460.3" x2="1581" y2="460.3" stroke="#000" stroke-width="2.4"/>
<text x="1571.2" y="464.7" text-anchor="end" font-size="17">0.0</text>
<line x1="1574.5" y1="421.1" x2="1581" y2="421.1" stroke="#000" stroke-width="2.4"/>
<text x="1571.2" y="425.5" text-anchor="end" font-size="17">0.2</text>
<line x1="1574.5" y1="381.9" x2="1581" y2="381.9" stroke="#000" stroke-width="2.4"/>
<text x="1571.2" y="386.3" text-anchor="end" font-size="17">0.4</text>
<line x1="1581" y1="617.1" x2="1581" y2="623.6" stroke="#000" stroke-width="2.4"/>
<text x="1581" y="642" text-anchor="middle" font-size="17">60</text>
<line x1="1631.4" y1="617.1" x2="1631.4" y2="623.6" stroke="#000" stroke-width="2.4"/>
<text x="1631.4" y="642" text-anchor="middle" font-size="17">65</text>
<line x1="1681.8" y1="617.1" x2="1681.8" y2="623.6" stroke="#000" stroke-width="2.4"/>
<text x="1681.8" y="642" text-anchor="middle" font-size="17">70</text>
<line x1="1732.2" y1="617.1" x2="1732.2" y2="623.6" stroke="#000" stroke-width="2.4"/>
<text x="1732.2" y="642" text-anchor="middle" font-size="17">75</text>
<line x1="1782.5" y1="617.1" x2="1782.5" y2="623.6" stroke="#000" stroke-width="2.4"/>
<text x="1782.5" y="642" text-anchor="middle" font-size="17">80</text>
<line x1="1832.9" y1="617.1" x2="1832.9" y2="623.6" stroke="#000" stroke-width="2.4"/>
<text x="1832.9" y="642" text-anchor="middle" font-size="17">85</text>
<line x1="1883.3" y1="617.1" x2="1883.3" y2="623.6" stroke="#000" stroke-width="2.4"/>
<text x="1883.3" y="642" text-anchor="middle" font-size="17">90</text>
<line x1="1933.7" y1="617.1" x2="1933.7" y2="623.6" stroke="#000" stroke-width="2.4"/>
<text x="1933.7" y="642" text-anchor="middle" font-size="17">95</text>
<text x="1756.7" y="671.4" text-anchor="middle" font-size="20.2">Temperature (°C)</text>
<text transform="translate(1529.7,498.4) rotate(-90)" text-anchor="middle" font-size="19.2">dF/dT</text>
<text x="1985.5" y="381" text-anchor="end" font-size="30">(2E)</text>
<line x1="1092.7" y1="786.7" x2="1092.7" y2="1028.8" stroke="#000" stroke-width="2.4"/>
<line x1="1086.7" y1="792.7" x2="1440.4" y2="792.7" stroke="#000" stroke-width="2.4"/>
<line x1="1086.7" y1="1027.6" x2="1092.7" y2="1027.6" stroke="#000" stroke-width="2.4"/>
<text x="1083.3" y="1032" text-anchor="end" font-size="17">-0.10</text>
<line x1="1086.7" y1="994" x2="1092.7" y2="994" stroke="#000" stroke-width="2.4"/>
<text x="1083.3" y="998.4" text-anchor="end" font-size="17">-0.08</text>
<line x1="1086.7" y1="960.5" x2="1092.7" y2="960.5" stroke="#000" stroke-width="2.4"/>
<text x="1083.3" y="964.9" text-anchor="end" font-size="17">-0.06</text>
<line x1="1086.7" y1="926.9" x2="1092.7" y2="926.9" stroke="#000" stroke-width="2.4"/>
<text x="1083.3" y="931.3" text-anchor="end" font-size="17">-0.04</text>
<line x1="1086.7" y1="893.4" x2="1092.7" y2="893.4" stroke="#000" stroke-width="2.4"/>
<text x="1083.3" y="897.8" text-anchor="end" font-size="17">-0.02</text>
<line x1="1086.7" y1="859.8" x2="1092.7" y2="859.8" stroke="#000" stroke-width="2.4"/>
<text x="1083.3" y="864.2" text-anchor="end" font-size="17">0.00</text>
<line x1="1086.7" y1="826.2" x2="1092.7" y2="826.2" stroke="#000" stroke-width="2.4"/>
<text x="1083.3" y="830.6" text-anchor="end" font-size="17">0.02</text>
<line x1="1086.7" y1="792.7" x2="1092.7" y2="792.7" stroke="#000" stroke-width="2.4"/>
<text x="1083.3" y="797.1" text-anchor="end" font-size="17">0.04</text>
<line x1="1092.7" y1="786.7" x2="1092.7" y2="792.7" stroke="#000" stroke-width="2.4"/>
<text x="1092.7" y="783.5" text-anchor="middle" font-size="17">0</text>
<line x1="1179.3" y1="786.7" x2="1179.3" y2="792.7" stroke="#000" stroke-width="2.4"/>
<text x="1179.3" y="783.5" text-anchor="middle" font-size="17">50</text>
<line x1="1266" y1="786.7" x2="1266" y2="792.7" stroke="#000" stroke-width="2.4"/>
<text x="1266" y="783.5" text-anchor="middle" font-size="17">100</text>
<line x1="1352.6" y1="786.7" x2="1352.6" y2="792.7" stroke="#000" stroke-width="2.4"/>
<text x="1352.6" y="783.5" text-anchor="middle" font-size="17">150</text>
<line x1="1439.2" y1="786.7" x2="1439.2" y2="792.7" stroke="#000" stroke-width="2.4"/>
<text x="1439.2" y="783.5" text-anchor="middle" font-size="17">200</text>
<text x="1264.5" y="730.8" text-anchor="middle" font-size="19.2">Ct (minutes)</text>
<text transform="translate(1031.4,909.5) rotate(-90)" text-anchor="middle" font-size="19.0">Normalised Fluorescence</text>
<text x="1489.8" y="726.8" text-anchor="end" font-size="30">(2C)</text>
<line x1="1580.4" y1="729.4" x2="1580.4" y2="971.2" stroke="#000" stroke-width="2.4"/>
<line x1="1580.4" y1="964.7" x2="1936.2" y2="964.7" stroke="#000" stroke-width="2.4"/>
<line x1="1573.9" y1="964.7" x2="1580.4" y2="964.7" stroke="#000" stroke-width="2.4"/>
<text x="1570.8" y="969.1" text-anchor="end" font-size="17">-0.8</text>
<line x1="1573.9" y1="925.7" x2="1580.4" y2="925.7" stroke="#000" stroke-width="2.4"/>
<text x="1570.8" y="930.1" text-anchor="end" font-size="17">-0.6</text>
<line x1="1573.9" y1="886.6" x2="1580.4" y2="886.6" stroke="#000" stroke-width="2.4"/>
<text x="1570.8" y="891" text-anchor="end" font-size="17">-0.4</text>
<line x1="1573.9" y1="847.6" x2="1580.4" y2="847.6" stroke="#000" stroke-width="2.4"/>
<text x="1570.8" y="852" text-anchor="end" font-size="17">-0.2</text>
<line x1="1573.9" y1="808.6" x2="1580.4" y2="808.6" stroke="#000" stroke-width="2.4"/>
<text x="1570.8" y="813" text-anchor="end" font-size="17">0.0</text>
<line x1="1573.9" y1="769.6" x2="1580.4" y2="769.6" stroke="#000" stroke-width="2.4"/>
<text x="1570.8" y="774" text-anchor="end" font-size="17">0.2</text>
<line x1="1573.9" y1="730.6" x2="1580.4" y2="730.6" stroke="#000" stroke-width="2.4"/>
<text x="1570.8" y="735" text-anchor="end" font-size="17">0.4</text>
<line x1="1580.4" y1="964.7" x2="1580.4" y2="971.2" stroke="#000" stroke-width="2.4"/>
<text x="1580.4" y="989.5" text-anchor="middle" font-size="17">60</text>
<line x1="1631.1" y1="964.7" x2="1631.1" y2="971.2" stroke="#000" stroke-width="2.4"/>
<text x="1631.1" y="989.5" text-anchor="middle" font-size="17">65</text>
<line x1="1681.7" y1="964.7" x2="1681.7" y2="971.2" stroke="#000" stroke-width="2.4"/>
<text x="1681.7" y="989.5" text-anchor="middle" font-size="17">70</text>
<line x1="1732.4" y1="964.7" x2="1732.4" y2="971.2" stroke="#000" stroke-width="2.4"/>
<text x="1732.4" y="989.5" text-anchor="middle" font-size="17">75</text>
<line x1="1783" y1="964.7" x2="1783" y2="971.2" stroke="#000" stroke-width="2.4"/>
<text x="1783" y="989.5" text-anchor="middle" font-size="17">80</text>
<line x1="1833.7" y1="964.7" x2="1833.7" y2="971.2" stroke="#000" stroke-width="2.4"/>
<text x="1833.7" y="989.5" text-anchor="middle" font-size="17">85</text>
<line x1="1884.3" y1="964.7" x2="1884.3" y2="971.2" stroke="#000" stroke-width="2.4"/>
<text x="1884.3" y="989.5" text-anchor="middle" font-size="17">90</text>
<line x1="1935" y1="964.7" x2="1935" y2="971.2" stroke="#000" stroke-width="2.4"/>
<text x="1935" y="989.5" text-anchor="middle" font-size="17">95</text>
<text x="1757.4" y="1019.6" text-anchor="middle" font-size="20.2">Temperature (°C)</text>
<text transform="translate(1529.8,846) rotate(-90)" text-anchor="middle" font-size="19.2">dF/dT</text>
<text x="1983.2" y="727.1" text-anchor="end" font-size="30">(2F)</text>
<rect x="0" y="0" width="1995" height="1" fill="#9a9a9a"/>
<rect x="0" y="1" width="1993" height="2.2" fill="#000"/>
<rect x="0" y="1" width="2.3" height="697" fill="#000"/>
<rect x="497.8" y="1" width="2.3" height="698.4" fill="#000"/>
<rect x="995.3" y="1" width="2.5" height="348" fill="#000"/>
<rect x="995.1" y="349" width="3.8" height="348" fill="#000"/>
<rect x="995" y="697" width="3" height="349" fill="#000"/>
<rect x="1492" y="1" width="3.6" height="348" fill="#000"/>
<rect x="1493" y="349" width="2.6" height="697" fill="#000"/>
<rect x="1990.4" y="1" width="2.6" height="348" fill="#000"/>
<rect x="1991.5" y="349" width="2.5" height="348" fill="#000"/>
<rect x="1991.7" y="697" width="2.3" height="347.8" fill="#000"/>
<rect x="0" y="348.1" width="996" height="2.8" fill="#000"/>
<rect x="996" y="347" width="997" height="3.8" fill="#000"/>
<rect x="0" y="695.9" width="498" height="2.2" fill="#000"/>
<rect x="498" y="697.2" width="498" height="2.2" fill="#000"/>
<rect x="996" y="694.7" width="998" height="3.5" fill="#000"/>
<rect x="996" y="1043.5" width="498" height="2.5" fill="#000"/>
<rect x="1494" y="1042.1" width="500" height="2.7" fill="#000"/>
</svg></body></html>
